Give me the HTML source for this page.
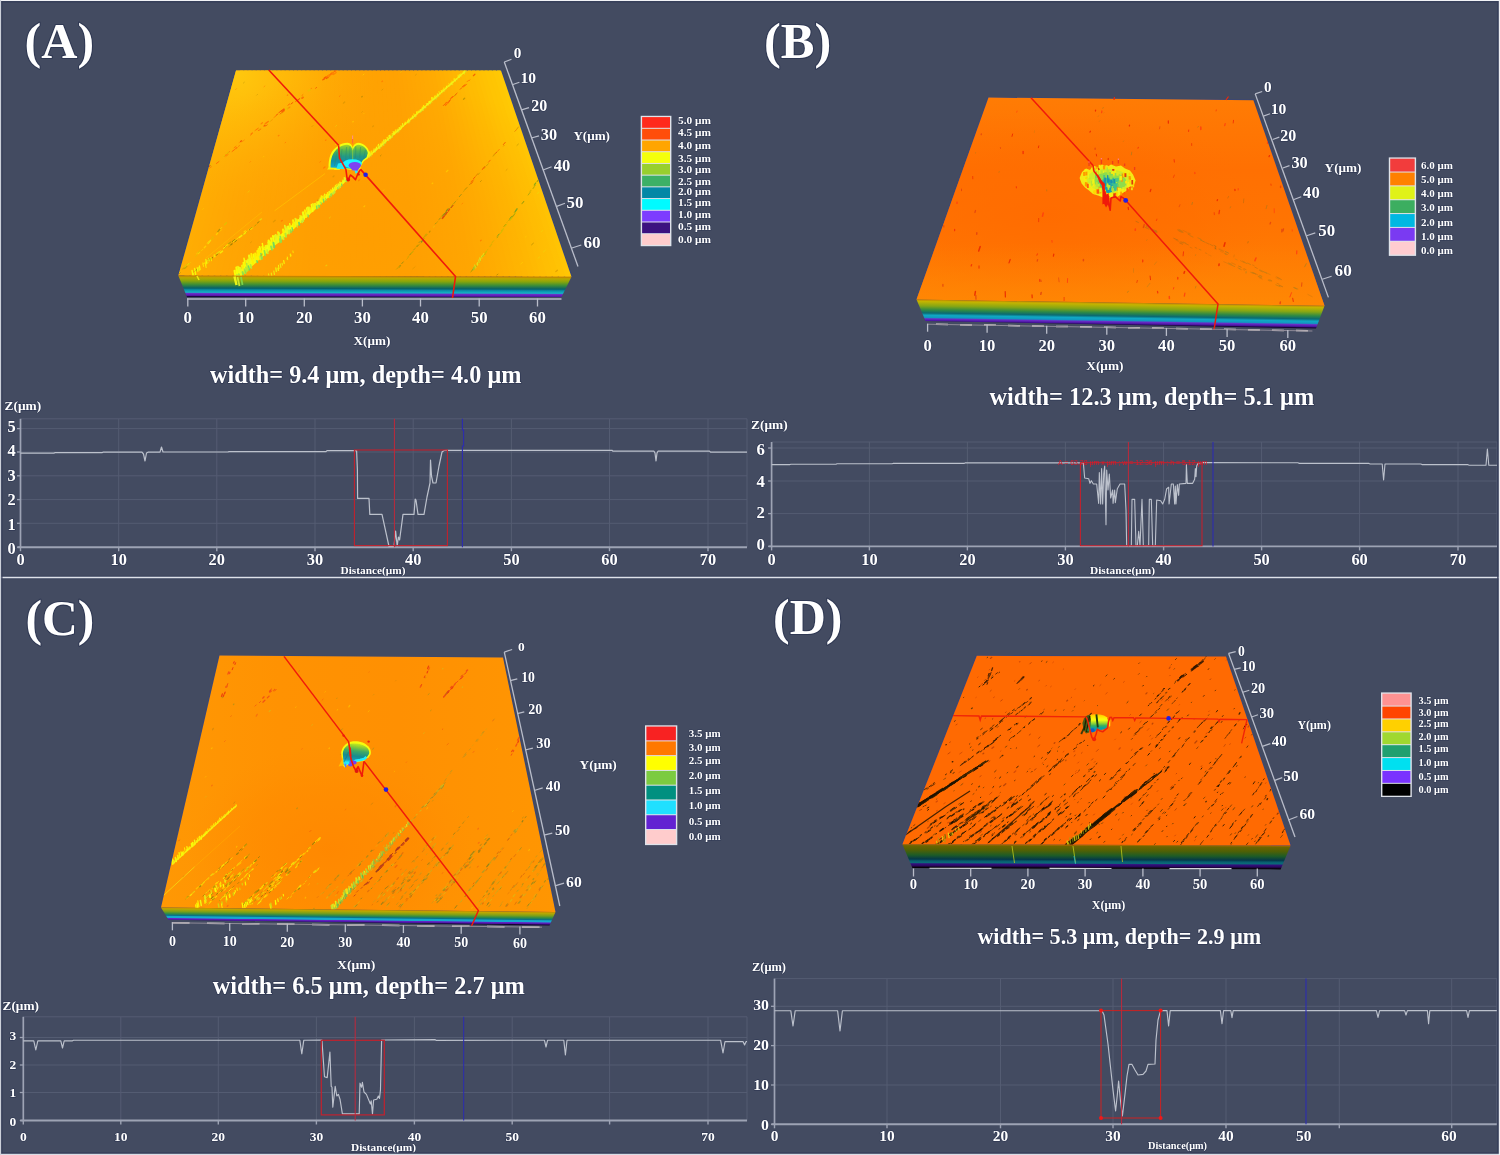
<!DOCTYPE html>
<html lang="en"><head><meta charset="utf-8"><title>Surface profile figure</title>
<style>
html,body{margin:0;padding:0;background:#434b61;}
body{width:1500px;height:1155px;overflow:hidden;}
svg{display:block;}
text{white-space:pre;}
</style></head><body>
<svg width="1500" height="1155" viewBox="0 0 1500 1155">
<defs>
<filter id="blur06" x="-20%" y="-20%" width="140%" height="140%"><feGaussianBlur stdDeviation="0.55"/></filter>
<filter id="blur03" x="-5%" y="-5%" width="110%" height="110%"><feGaussianBlur stdDeviation="0.35"/></filter>
<clipPath id="cA"><polygon points="236,70.5 501,70.5 571.5,276.8 178.3,275.6"/></clipPath>
<radialGradient id="gA2" cx="236" cy="72" r="140" gradientUnits="userSpaceOnUse"><stop offset="0" stop-color="#ffcc10"/><stop offset="0.45" stop-color="#ffc00aaa"/><stop offset="1" stop-color="#ffb00400"/></radialGradient>
<radialGradient id="gA3" cx="360" cy="235" r="190" gradientUnits="userSpaceOnUse" gradientTransform="translate(360 235) scale(1.25 0.85) translate(-360 -235)"><stop offset="0" stop-color="#ff9a00"/><stop offset="0.55" stop-color="#ff9d00aa"/><stop offset="1" stop-color="#ffa00000"/></radialGradient>
<linearGradient id="sA" x1="178.3" y1="275.6" x2="178.24" y2="296.4" gradientUnits="userSpaceOnUse"><stop offset="0" stop-color="#c57a00"/><stop offset="0.1" stop-color="#b9a800"/><stop offset="0.25" stop-color="#8aa50a"/><stop offset="0.42" stop-color="#3f8f35"/><stop offset="0.6" stop-color="#06606a"/><stop offset="0.68" stop-color="#0a8ea8"/><stop offset="0.8" stop-color="#12b4c4"/><stop offset="0.86" stop-color="#6a2cc6"/><stop offset="0.95" stop-color="#5a18b0"/><stop offset="1" stop-color="#1a0840"/></linearGradient>
<linearGradient id="gDomeA" x1="0" y1="143" x2="0" y2="170" gradientUnits="userSpaceOnUse"><stop offset="0" stop-color="#c4e61c"/><stop offset="0.12" stop-color="#8ccc34"/><stop offset="0.3" stop-color="#4cb058"/><stop offset="0.5" stop-color="#229a86"/><stop offset="0.68" stop-color="#1290aa"/><stop offset="0.85" stop-color="#10a4c8"/><stop offset="1" stop-color="#12b4d8"/></linearGradient>
<linearGradient id="gB" x1="0" y1="97" x2="0" y2="306" gradientUnits="userSpaceOnUse"><stop offset="0" stop-color="#ff7c04"/><stop offset="0.35" stop-color="#ff7002"/><stop offset="0.6" stop-color="#ff7402"/><stop offset="1" stop-color="#ff8204"/></linearGradient>
<clipPath id="cB"><polygon points="988.5,97.6 1253.4,100.2 1324.5,305.8 916.5,299.6"/></clipPath>
<radialGradient id="gB2" cx="1050" cy="215" r="150" gradientUnits="userSpaceOnUse" gradientTransform="translate(1050 215) scale(1.5 0.7) translate(-1050 -215)"><stop offset="0" stop-color="#ff6a00"/><stop offset="0.6" stop-color="#ff6c0088"/><stop offset="1" stop-color="#ff700000"/></radialGradient>
<linearGradient id="gB3" x1="0" y1="97" x2="0" y2="306" gradientUnits="userSpaceOnUse"><stop offset="0" stop-color="#ff860400"/><stop offset="0.7" stop-color="#ff860400"/><stop offset="1" stop-color="#ff8a04"/></linearGradient>
<linearGradient id="sB" x1="916.5" y1="299.6" x2="916.16" y2="321.69" gradientUnits="userSpaceOnUse"><stop offset="0" stop-color="#c58a00"/><stop offset="0.08" stop-color="#c4b400"/><stop offset="0.28" stop-color="#86a614"/><stop offset="0.46" stop-color="#2f8a44"/><stop offset="0.6" stop-color="#0a6a72"/><stop offset="0.7" stop-color="#10a8c4"/><stop offset="0.8" stop-color="#1098c0"/><stop offset="0.86" stop-color="#6a2cc6"/><stop offset="0.95" stop-color="#4a14a0"/><stop offset="1" stop-color="#160638"/></linearGradient>
<linearGradient id="gC" x1="160" y1="0" x2="556" y2="0" gradientUnits="userSpaceOnUse"><stop offset="0" stop-color="#ff9804"/><stop offset="0.3" stop-color="#ff9202"/><stop offset="0.6" stop-color="#ff9002"/><stop offset="1" stop-color="#ff9602"/></linearGradient>
<clipPath id="cC"><polygon points="219.5,655.5 503,657.6 555.5,912 161,907.5"/></clipPath>
<radialGradient id="gC2" cx="330" cy="850" r="130" gradientUnits="userSpaceOnUse" gradientTransform="translate(330 850) scale(1.1 0.8) translate(-330 -850)"><stop offset="0" stop-color="#ff8600"/><stop offset="0.6" stop-color="#ff880088"/><stop offset="1" stop-color="#ff8c0000"/></radialGradient>
<linearGradient id="sC" x1="161" y1="907.5" x2="160.85" y2="920.44" gradientUnits="userSpaceOnUse"><stop offset="0" stop-color="#c88a00"/><stop offset="0.1" stop-color="#bca800"/><stop offset="0.3" stop-color="#7ca018"/><stop offset="0.48" stop-color="#2c8a4a"/><stop offset="0.6" stop-color="#087088"/><stop offset="0.68" stop-color="#12a8cc"/><stop offset="0.78" stop-color="#14a8d0"/><stop offset="0.84" stop-color="#6424c4"/><stop offset="0.94" stop-color="#4a14a0"/><stop offset="1" stop-color="#12042c"/></linearGradient>
<linearGradient id="gDomeC" x1="352" y1="743" x2="349" y2="766" gradientUnits="userSpaceOnUse"><stop offset="0" stop-color="#c8ea1c"/><stop offset="0.14" stop-color="#8ccc34"/><stop offset="0.32" stop-color="#3ea868"/><stop offset="0.55" stop-color="#148c90"/><stop offset="0.72" stop-color="#1298b4"/><stop offset="0.84" stop-color="#1ee6fa"/><stop offset="1" stop-color="#22f0ff"/></linearGradient>
<clipPath id="cD"><polygon points="976.8,655.8 1226,656.6 1290.6,845.6 902.4,844.2"/></clipPath>
<linearGradient id="sD" x1="902.4" y1="844.2" x2="902.31" y2="868" gradientUnits="userSpaceOnUse"><stop offset="0" stop-color="#b86a00"/><stop offset="0.06" stop-color="#6c6400"/><stop offset="0.25" stop-color="#4f6006"/><stop offset="0.45" stop-color="#1e5c26"/><stop offset="0.62" stop-color="#04384a"/><stop offset="0.7" stop-color="#086070"/><stop offset="0.77" stop-color="#0a6a78"/><stop offset="0.82" stop-color="#34107e"/><stop offset="0.9" stop-color="#2a0860"/><stop offset="0.97" stop-color="#08020f"/><stop offset="1" stop-color="#000000"/></linearGradient>
<linearGradient id="gDomeD" x1="0" y1="714.5" x2="0" y2="731" gradientUnits="userSpaceOnUse"><stop offset="0" stop-color="#ffc400"/><stop offset="0.16" stop-color="#ffe800"/><stop offset="0.34" stop-color="#f4ff10"/><stop offset="0.52" stop-color="#9cd830"/><stop offset="0.68" stop-color="#38b060"/><stop offset="0.82" stop-color="#10a0a0"/><stop offset="1" stop-color="#0e90b8"/></linearGradient>
</defs>
<rect x="0" y="0" width="1500" height="1155" fill="#434b61"/>
<text x="24.6" y="58.3" font-size="50.4" text-anchor="start" fill="#fff" font-weight="bold" font-family="'Liberation Serif','DejaVu Serif',serif" textLength="69.6" lengthAdjust="spacingAndGlyphs" paint-order="stroke" stroke="#1c2646" stroke-opacity="0.5" stroke-width="2.2" stroke-linejoin="round" >(A)</text>
<polygon points="235.2,69.9 501.8,69.9 572.4,276.8 177.4,275.6" fill="#33457e" />
<g><polygon points="236,70.5 243.3,70.5 189.2,275.6 178.3,275.6" fill="#ffb104"/><polygon points="240.1,70.5 247.5,70.5 195.3,275.7 184.4,275.6" fill="#ffb004"/><polygon points="244.3,70.5 251.6,70.5 201.4,275.7 190.6,275.6" fill="#ffaf04"/><polygon points="248.4,70.5 255.7,70.5 207.6,275.7 196.7,275.7" fill="#ffae04"/><polygon points="252.6,70.5 259.9,70.5 213.7,275.7 202.9,275.7" fill="#ffad04"/><polygon points="256.7,70.5 264,70.5 219.9,275.7 209,275.7" fill="#ffac04"/><polygon points="260.8,70.5 268.2,70.5 226,275.7 215.2,275.7" fill="#ffab04"/><polygon points="265,70.5 272.3,70.5 232.2,275.8 221.3,275.7" fill="#ffaa04"/><polygon points="269.1,70.5 276.4,70.5 238.3,275.8 227.5,275.8" fill="#ffaa04"/><polygon points="273.3,70.5 280.6,70.5 244.5,275.8 233.6,275.8" fill="#ffa904"/><polygon points="277.4,70.5 284.7,70.5 250.6,275.8 239.7,275.8" fill="#ffa804"/><polygon points="281.5,70.5 288.9,70.5 256.7,275.8 245.9,275.8" fill="#ffa803"/><polygon points="285.7,70.5 293,70.5 262.9,275.9 252,275.8" fill="#ffa703"/><polygon points="289.8,70.5 297.1,70.5 269,275.9 258.2,275.8" fill="#ffa703"/><polygon points="294,70.5 301.3,70.5 275.2,275.9 264.3,275.9" fill="#ffa603"/><polygon points="298.1,70.5 305.4,70.5 281.3,275.9 270.5,275.9" fill="#ffa603"/><polygon points="302.2,70.5 309.6,70.5 287.5,275.9 276.6,275.9" fill="#ffa503"/><polygon points="306.4,70.5 313.7,70.5 293.6,276 282.7,275.9" fill="#ffa503"/><polygon points="310.5,70.5 317.9,70.5 299.7,276 288.9,275.9" fill="#ffa403"/><polygon points="314.7,70.5 322,70.5 305.9,276 295,276" fill="#ffa402"/><polygon points="318.8,70.5 326.1,70.5 312,276 301.2,276" fill="#ffa302"/><polygon points="323,70.5 330.3,70.5 318.2,276 307.3,276" fill="#ffa202"/><polygon points="327.1,70.5 334.4,70.5 324.3,276 313.5,276" fill="#ffa202"/><polygon points="331.2,70.5 338.6,70.5 330.5,276.1 319.6,276" fill="#ffa202"/><polygon points="335.4,70.5 342.7,70.5 336.6,276.1 325.8,276.1" fill="#ffa202"/><polygon points="339.5,70.5 346.8,70.5 342.8,276.1 331.9,276.1" fill="#ffa202"/><polygon points="343.7,70.5 351,70.5 348.9,276.1 338,276.1" fill="#ffa202"/><polygon points="347.8,70.5 355.1,70.5 355,276.1 344.2,276.1" fill="#ffa202"/><polygon points="351.9,70.5 359.3,70.5 361.2,276.2 350.3,276.1" fill="#ffa202"/><polygon points="356.1,70.5 363.4,70.5 367.3,276.2 356.5,276.1" fill="#ffa202"/><polygon points="360.2,70.5 367.5,70.5 373.5,276.2 362.6,276.2" fill="#ffa202"/><polygon points="364.4,70.5 371.7,70.5 379.6,276.2 368.8,276.2" fill="#ffa202"/><polygon points="368.5,70.5 375.8,70.5 385.8,276.2 374.9,276.2" fill="#ffa202"/><polygon points="372.6,70.5 380,70.5 391.9,276.3 381,276.2" fill="#ffa202"/><polygon points="376.8,70.5 384.1,70.5 398,276.3 387.2,276.2" fill="#ffa202"/><polygon points="380.9,70.5 388.2,70.5 404.2,276.3 393.3,276.3" fill="#ffa202"/><polygon points="385.1,70.5 392.4,70.5 410.3,276.3 399.5,276.3" fill="#ffa202"/><polygon points="389.2,70.5 396.5,70.5 416.5,276.3 405.6,276.3" fill="#ffa202"/><polygon points="393.3,70.5 400.7,70.5 422.6,276.3 411.8,276.3" fill="#ffa202"/><polygon points="397.5,70.5 404.8,70.5 428.8,276.4 417.9,276.3" fill="#ffa302"/><polygon points="401.6,70.5 408.9,70.5 434.9,276.4 424.1,276.4" fill="#ffa402"/><polygon points="405.8,70.5 413.1,70.5 441.1,276.4 430.2,276.4" fill="#ffa502"/><polygon points="409.9,70.5 417.2,70.5 447.2,276.4 436.3,276.4" fill="#ffa602"/><polygon points="414,70.5 421.4,70.5 453.3,276.4 442.5,276.4" fill="#ffa702"/><polygon points="418.2,70.5 425.5,70.5 459.5,276.5 448.6,276.4" fill="#ffa802"/><polygon points="422.3,70.5 429.6,70.5 465.6,276.5 454.8,276.4" fill="#ffa902"/><polygon points="426.5,70.5 433.8,70.5 471.8,276.5 460.9,276.5" fill="#ffaa02"/><polygon points="430.6,70.5 437.9,70.5 477.9,276.5 467.1,276.5" fill="#ffab02"/><polygon points="434.8,70.5 442.1,70.5 484.1,276.5 473.2,276.5" fill="#ffad02"/><polygon points="438.9,70.5 446.2,70.5 490.2,276.6 479.3,276.5" fill="#ffaf02"/><polygon points="443,70.5 450.4,70.5 496.3,276.6 485.5,276.5" fill="#ffb102"/><polygon points="447.2,70.5 454.5,70.5 502.5,276.6 491.6,276.6" fill="#ffb302"/><polygon points="451.3,70.5 458.6,70.5 508.6,276.6 497.8,276.6" fill="#ffb502"/><polygon points="455.5,70.5 462.8,70.5 514.8,276.6 503.9,276.6" fill="#ffb702"/><polygon points="459.6,70.5 466.9,70.5 520.9,276.6 510.1,276.6" fill="#ffb902"/><polygon points="463.7,70.5 471.1,70.5 527.1,276.7 516.2,276.6" fill="#ffbb02"/><polygon points="467.9,70.5 475.2,70.5 533.2,276.7 522.4,276.7" fill="#ffbc02"/><polygon points="472,70.5 479.3,70.5 539.4,276.7 528.5,276.7" fill="#ffbe02"/><polygon points="476.2,70.5 483.5,70.5 545.5,276.7 534.6,276.7" fill="#ffc003"/><polygon points="480.3,70.5 487.6,70.5 551.6,276.7 540.8,276.7" fill="#ffc203"/><polygon points="484.4,70.5 491.8,70.5 557.8,276.8 546.9,276.7" fill="#ffc403"/><polygon points="488.6,70.5 495.9,70.5 563.9,276.8 553.1,276.7" fill="#ffc503"/><polygon points="492.7,70.5 500,70.5 570.1,276.8 559.2,276.8" fill="#ffc704"/><polygon points="496.9,70.5 501,70.5 571.5,276.8 565.4,276.8" fill="#ffc904"/></g>
<rect x="170" y="60" width="410" height="225" fill="url(#gA2)" clip-path="url(#cA)" opacity="0.85"/>
<rect x="170" y="60" width="410" height="225" fill="url(#gA3)" clip-path="url(#cA)" opacity="0.55"/>
<polygon points="231.5,278 239,278 347,180.4 345.4,178.8" fill="#f3f816" opacity="0.92" clip-path="url(#cA)"/>
<g fill="none" stroke-linecap="round" opacity="0.96" clip-path="url(#cA)"><path d="M236 279.3l-1.5 -8.5M245 270.8l-1.5 -8.1M255 262.3l-1.4 -7.7M261.4 256.8l-1.7 -9.7M266 252.7l-0.9 -5.2M274.5 244.5l-1.5 -8.4" stroke="#f8ff08" stroke-width="2"/><path d="M237.5 277.6l-1.3 -7.3" stroke="#f6ff10" stroke-width="1.75"/><path d="M238.2 277.2l-1.8 -9.7M270.2 249l-1.5 -8.3" stroke="#f8ff08" stroke-width="2.25"/><path d="M239.7 275.8l-1.7 -9.2M269.3 249.2l-1.2 -6.8M278.4 241.8l-1 -5.8M281.8 238.8l-0.7 -4" stroke="#f2fa14" stroke-width="1.75"/><path d="M240.7 274.9l-1.3 -7" stroke="#f6ff10" stroke-width="2.5"/><path d="M241.4 273.9l-1 -5.5M277 242.5l-1.3 -7.4" stroke="#eaf61e" stroke-width="2.25"/><path d="M243.5 272.2l-1.2 -6.4" stroke="#eaf61e" stroke-width="2.5"/><path d="M243.8 272.5l-1.2 -6.8M279.5 241.2l-1.6 -9.2" stroke="#fff200" stroke-width="1.75"/><path d="M246.1 269.9l-2.1 -11.6M251.9 264.6l-0.9 -5.1M264.1 253.5l-1.8 -10.1M283.2 237.7l-0.8 -4.3M290.9 230.3l-1.2 -6.6M293.5 228.6l-0.8 -4.5" stroke="#f8ff08" stroke-width="1.5"/><path d="M247.6 269.2l-1.6 -8.7M295.5 226.5l-0.8 -4.3" stroke="#f2fa14" stroke-width="1.5"/><path d="M248.7 267.3l-1.1 -6.2" stroke="#f6ff10" stroke-width="2.25"/><path d="M249.6 267.4l-1.4 -8M280.1 239.7l-1.2 -6.8M287.5 232.9l-0.8 -4.5M288.4 232.5l-1 -5.8" stroke="#eaf61e" stroke-width="2"/><path d="M250.9 265.4l-1.7 -9.6" stroke="#f2fa14" stroke-width="2.5"/><path d="M253.1 263.9l-1.8 -10M294.4 227.5l-1.3 -7.3M297.6 224.4l-0.9 -5" stroke="#fff200" stroke-width="2"/><path d="M255.6 261.8l-0.9 -4.8M284.7 235.8l-0.9 -5.1M286.4 234.2l-1.6 -8.6" stroke="#eaf61e" stroke-width="1.75"/><path d="M256.5 260.6l-1.2 -6.9M258.8 258.6l-1.4 -7.5M260.2 258.1l-1.6 -9M284.3 236.1l-1.2 -6.4" stroke="#fff200" stroke-width="2.25"/><path d="M257.9 259.4l-0.9 -4.8M261.8 255.5l-0.9 -5" stroke="#fff200" stroke-width="1.5"/><path d="M263.5 254.8l-1.4 -7.9M271.3 248l-1 -5.8M292.3 229.7l-0.7 -3.6" stroke="#f8ff08" stroke-width="1.75"/><path d="M266.6 251.7l-1 -5.8" stroke="#f2fa14" stroke-width="2"/><path d="M268 250.7l-0.9 -5.1M272.5 246.7l-1.5 -8.5M289.3 231.5l-0.9 -4.9" stroke="#f6ff10" stroke-width="2"/><path d="M274.2 245.1l-1.2 -6.7" stroke="#f6ff10" stroke-width="1.5"/><path d="M276.1 243.6l-1.4 -7.8M296.5 225.7l-1.3 -7.1" stroke="#eaf61e" stroke-width="1.5"/><path d="M299 223.3l-0.7 -3.7" stroke="#f6ff10" stroke-width="1.25"/><path d="M300.3 222.5l-0.7 -4.2" stroke="#f2fa14" stroke-width="1.25"/><path d="M237.8 279.9l-0.9 -5.1M260.6 259.2l-0.8 -2.8M289.3 233.5l-0.5 -2.9" stroke="#c8ee30" stroke-width="2"/><path d="M240 277.8l-1.1 -3.5M286.1 236.7l-0.7 -3" stroke="#b4e838" stroke-width="2"/><path d="M243.2 274.5l-0.6 -2.4M262 258.7l-1 -5M272 249.6l-0.9 -3.1" stroke="#8fe04a" stroke-width="2"/><path d="M245.3 272.8l-0.7 -3.6" stroke="#c8ee30" stroke-width="2.25"/><path d="M245.6 273.1l-0.7 -3.2M280.2 242.4l-0.6 -3.5" stroke="#8fe04a" stroke-width="1.5"/><path d="M246.8 271.4l-0.9 -4.1M251.4 268l-0.9 -3.2" stroke="#b4e838" stroke-width="1.75"/><path d="M247.9 270.5l-1.2 -7.1" stroke="#b4e838" stroke-width="1.5"/><path d="M249.4 269.8l-0.9 -3.7M257.4 262.4l-0.5 -1.7" stroke="#6fd660" stroke-width="1.5"/><path d="M265.3 255.4l-0.9 -4.5M281.3 241.8l-1 -5.2M291.1 232.1l-0.5 -1.9" stroke="#8fe04a" stroke-width="1.75"/><path d="M267.8 253.3l-0.6 -3.2M283.6 239.4l-0.4 -2.6" stroke="#c8ee30" stroke-width="1.75"/><path d="M273.1 248.6l-0.6 -2.3" stroke="#c8ee30" stroke-width="1.5"/><path d="M274.3 247.3l-0.9 -4.6" stroke="#6fd660" stroke-width="2"/><path d="M292.7 230.9l-0.7 -3.3" stroke="#6fd660" stroke-width="1.25"/><path d="M297.3 227.1l-0.5 -1.6" stroke="#c8ee30" stroke-width="1.25"/><path d="M299.4 225l-0.5 -2.5" stroke="#6fd660" stroke-width="1.75"/></g>
<g fill="none" stroke-linecap="round" opacity="0.96" clip-path="url(#cA)"><path d="M300.7 221.8l-0.6 -3.6" stroke="#eaf61e" stroke-width="2"/><path d="M301.1 221.4l-1.1 -5.9M341 184.6l-0.3 -1.8M343.4 182.4l-0.4 -2.4" stroke="#f6ff10" stroke-width="1.25"/><path d="M302 220.9l-0.9 -5M307.8 214.9l-1.2 -6.9M314 210l-1.1 -6.3M321.2 203.1l-0.9 -5M329.7 195.6l-0.7 -3.7" stroke="#f2fa14" stroke-width="1.5"/><path d="M303.9 219.3l-1.2 -6.8M316.2 207.7l-0.7 -4" stroke="#eaf61e" stroke-width="1.75"/><path d="M304.3 218.5l-1.1 -6.4M326.8 197.8l-0.6 -3.2M333.4 192.2l-0.7 -3.9M340.5 185.5l-0.6 -3.3" stroke="#f6ff10" stroke-width="1.5"/><path d="M306.1 217.1l-1.2 -6.8" stroke="#fff200" stroke-width="2"/><path d="M306.9 216.3l-0.6 -3.3M310.1 213l-1 -5.8M314.7 209.1l-0.8 -4.5M330.1 194.9l-0.6 -3.3M338.8 187l-0.5 -2.9M344.9 181.1l-0.6 -3.3" stroke="#eaf61e" stroke-width="1.5"/><path d="M309.1 214.2l-1.2 -6.9M312.7 211.3l-1.2 -6.6M319.1 205.2l-0.6 -3.4" stroke="#f6ff10" stroke-width="1.75"/><path d="M311.5 211.7l-0.7 -3.8M315.4 208.4l-0.8 -4.7M328.3 197.2l-0.8 -4.4M331.6 194l-0.7 -4M336.2 189.2l-0.7 -3.7" stroke="#fff200" stroke-width="1.5"/><path d="M317.9 206.4l-0.8 -4.3" stroke="#f2fa14" stroke-width="1.75"/><path d="M319.9 203.7l-0.8 -4.3M335 190.9l-0.7 -3.8M345.6 180.5l-0.5 -2.6" stroke="#eaf61e" stroke-width="1.25"/><path d="M322.4 201.5l-1 -5.3" stroke="#fff200" stroke-width="1.75"/><path d="M323.7 201l-0.9 -4.7M325.4 199.3l-0.9 -5.1" stroke="#f2fa14" stroke-width="1.25"/><path d="M324.6 200l-0.8 -4.3" stroke="#fff200" stroke-width="1"/><path d="M332.5 193l-0.5 -2.8" stroke="#fff200" stroke-width="1.25"/><path d="M336.5 188.6l-0.5 -2.5" stroke="#eaf61e" stroke-width="1"/><path d="M337.5 188.2l-0.7 -3.9M343 183.4l-0.4 -2.5" stroke="#f2fa14" stroke-width="1"/><path d="M302.2 222.3l-0.4 -1.3M317.7 208.2l-0.4 -2.6" stroke="#c4ec34" stroke-width="1.75"/><path d="M303.5 221.4l-0.5 -2.9M333.1 194.5l-0.4 -1.6M334 193.5l-0.3 -1.7M334.9 192.7l-0.4 -1.8M340.3 187.5l-0.3 -1.7" stroke="#c4ec34" stroke-width="1.25"/><path d="M308.4 216.8l-0.4 -2M316.9 208.9l-0.5 -2.7M342 186l-0.4 -2" stroke="#7fda58" stroke-width="1.25"/><path d="M319.4 206.9l-0.5 -1.6" stroke="#7fda58" stroke-width="1.75"/><path d="M321.4 204.2l-0.5 -2M338 189.1l-0.3 -1.3" stroke="#7fda58" stroke-width="1"/><path d="M323.9 202l-0.6 -2.8" stroke="#7fda58" stroke-width="1.5"/><path d="M326.1 200.5l-0.5 -2.3" stroke="#9fe244" stroke-width="1"/><path d="M329.8 197.7l-0.5 -1.7M331.6 195.4l-0.4 -1.9M346.4 181.6l-0.4 -1.6" stroke="#9fe244" stroke-width="1.25"/><path d="M331.2 196.1l-0.4 -1.7" stroke="#9fe244" stroke-width="1.5"/><path d="M339 188.7l-0.4 -2.3" stroke="#c4ec34" stroke-width="1"/></g>
<g fill="none" stroke-linecap="round" opacity="0.96" clip-path="url(#cA)"><path d="M368.2 156.8l-0.3 -1.8M370.4 155.3l-0.6 -3.3" stroke="#eef41c" stroke-width="1.5"/><path d="M370 155.6l-0.6 -3.3M374.5 151.6l-0.5 -2.6M375.8 150.5l-0.3 -1.6M376.8 149.6l-0.4 -2.4M379.1 147.6l-0.6 -3.2M390 137.6l-0.4 -2.2M397.4 131.7l-0.3 -1.9M420.5 111l-0.2 -1.3M422 110l-0.2 -1.1M429.6 102.7l-0.2 -1.3M458.5 77.2l-0.3 -1.4" stroke="#f4fa14" stroke-width="1.25"/><path d="M372.1 154.4l-0.6 -3.1M382.8 144.8l-0.5 -2.7M387.7 140.1l-0.5 -2.7" stroke="#ffe800" stroke-width="1.5"/><path d="M373.6 152.3l-0.3 -1.7M384.1 143.2l-0.5 -3M385.9 141.7l-0.4 -2.1M398.3 130.6l-0.3 -1.5M403 126.3l-0.5 -2.7M415.2 115.7l-0.2 -1.3M419.1 112.2l-0.2 -1.2" stroke="#eef41c" stroke-width="1.25"/><path d="M378.4 148.2l-0.5 -2.9M380.8 146.4l-0.5 -2.8M384.8 142.4l-0.5 -2.6M404.6 124.7l-0.2 -1.4M410.5 119.6l-0.3 -1.6M414.3 116.5l-0.5 -2.6M437.5 95.9l-0.3 -1.8M444 89.8l-0.3 -1.8M448.2 86.3l-0.2 -1M463.3 73.6l-0.2 -1.1M463.7 72.1l-0.2 -1.3" stroke="#ffe800" stroke-width="1"/><path d="M381.6 145.4l-0.2 -1.4M394.8 133.7l-0.3 -1.7" stroke="#fff000" stroke-width="1.5"/><path d="M389.3 138.5l-0.5 -2.7M392.6 135.4l-0.4 -2M393.7 134.4l-0.5 -2.9M446.7 87.7l-0.3 -1.6M454.4 80.8l-0.3 -1.9" stroke="#f4fa14" stroke-width="1"/><path d="M391.3 136.7l-0.3 -1.5M405.6 124.2l-0.4 -2M407.7 122.7l-0.3 -1.7M408.8 121l-0.3 -1.9M412.8 118l-0.4 -2M416.9 114.2l-0.4 -2.4M422.6 108.7l-0.3 -1.5M423.9 107.7l-0.4 -2.2M432 100l-0.4 -2.3M433.2 99.1l-0.3 -1.4M435.1 98.4l-0.4 -2.2" stroke="#fff000" stroke-width="1.25"/><path d="M395.9 132.6l-0.5 -2.6M401.3 128.4l-0.5 -2.6M401.6 127.7l-0.3 -1.7M408.3 121.7l-0.2 -1.4M418 112.7l-0.2 -1.3M454.6 80.3l-0.2 -1.4" stroke="#ffe800" stroke-width="1.25"/><path d="M399.6 129.2l-0.3 -1.5" stroke="#f4fa14" stroke-width="1.5"/><path d="M412 118.9l-0.2 -1.2M427.7 104.8l-0.2 -1.4M437.9 95.7l-0.3 -1.8M441.6 92.5l-0.4 -2M443.1 90.9l-0.2 -1.1M451.1 84.4l-0.3 -1.4M451.7 83.9l-0.2 -1.2M460 76l-0.3 -1.4" stroke="#eef41c" stroke-width="1"/><path d="M424.8 107.3l-0.2 -1.1M429 103.5l-0.3 -1.7M430.9 101.9l-0.2 -1.1M436.2 97l-0.3 -1.4M439.4 93.8l-0.4 -2.2M452.2 82.4l-0.2 -1.3M461 74.8l-0.2 -1M464.9 71.4l-0.3 -1.6" stroke="#fff000" stroke-width="1"/><path d="M426.7 105.6l-0.4 -2.2" stroke="#f4fa14" stroke-width="0.75"/><path d="M441.7 91.7l-0.2 -1.2M449.3 85.3l-0.4 -2M456.3 79.5l-0.2 -1" stroke="#fff000" stroke-width="0.75"/><path d="M445.4 88.5l-0.2 -1M458.5 76.6l-0.3 -1.7" stroke="#ffe800" stroke-width="0.75"/><path d="M369.2 157.2l-0.2 -1.1M391 138l-0.2 -0.9M400.6 129.6l-0.2 -0.7M423 110.4l-0.1 -0.6" stroke="#e0f024" stroke-width="1.25"/><path d="M371 156l-0.4 -1.4M380.1 148l-0.3 -1.8M383.8 145.2l-0.3 -1M388.7 140.5l-0.3 -1.7M392.3 137.1l-0.2 -0.5M423.6 109.1l-0.2 -0.9M430.6 103.1l-0.1 -0.8M434.2 99.5l-0.2 -0.7M436.1 98.8l-0.2 -1" stroke="#c8e832" stroke-width="1.25"/><path d="M375.5 152l-0.3 -1.5M385.1 143.6l-0.3 -1.4M385.8 142.8l-0.3 -1.3M396.9 133l-0.3 -1.7M398.4 132.1l-0.2 -0.9M399.3 131l-0.2 -1M408.7 123.1l-0.2 -1M409.8 121.4l-0.2 -1M413.8 118.4l-0.2 -1.2M420.1 112.6l-0.1 -0.5M421.5 111.4l-0.1 -0.8M433 100.4l-0.3 -0.9M438.9 96.1l-0.2 -0.9M465.9 71.8l-0.2 -0.7" stroke="#c8e832" stroke-width="1"/><path d="M379.4 148.6l-0.3 -1.2M381.8 146.8l-0.3 -1.3M390.3 138.9l-0.3 -1.1M394.7 134.8l-0.3 -1.3M409.3 122.1l-0.1 -0.6M415.3 116.9l-0.3 -1M416.2 116.1l-0.1 -0.5M424.9 108.1l-0.2 -1.1M425.8 107.7l-0.1 -0.6M430 103.9l-0.2 -1M444.1 91.3l-0.1 -0.5M455.4 81.2l-0.2 -0.9M455.6 80.7l-0.1 -0.5M459.5 77.6l-0.2 -0.7M464.3 74l-0.1 -0.6M464.7 72.5l-0.1 -0.7" stroke="#e0f024" stroke-width="1"/><path d="M428.7 105.2l-0.1 -0.8M431.9 102.3l-0.1 -0.5M437.2 97.4l-0.2 -0.7M446.4 88.9l-0.1 -0.6M449.2 86.7l-0.1 -0.5M452.1 84.8l-0.2 -0.5M452.7 84.3l-0.1 -0.5M453.2 82.8l-0.1 -0.6M461 76.4l-0.2 -0.8" stroke="#e0f024" stroke-width="0.75"/><path d="M438.5 96.3l-0.2 -0.8M440.4 94.2l-0.2 -1.3M442.7 92.1l-0.1 -0.5M445 90.2l-0.2 -0.8M450.3 85.7l-0.2 -1.1M457.3 79.9l-0.1 -0.4M459.5 77l-0.2 -1.1" stroke="#c8e832" stroke-width="0.75"/></g>
<polyline points="368.5,156.5 465,71.5" fill="none" stroke="#f4f416" stroke-width="1.5" opacity="0.85" clip-path="url(#cA)"/>
<g fill="none" stroke-linecap="round" opacity="0.7" clip-path="url(#cA)"><path d="M208 243.8l2.1 -2.2M198.2 253.7l1.4 -1.5M185.1 267.8l1.2 -1.3M187.5 265l1.7 -1.8M188.3 264.7l1.7 -1.8M196.6 253.7l1 -1" stroke="#f0f010" stroke-width="0.75"/><path d="M207.2 243.1l1.8 -2" stroke="#ffe000" stroke-width="1"/><path d="M211.2 240.2l2.3 -2.4M211.8 237.6l0.9 -1M197.8 252.8l2.2 -2.4M185.5 265.7l1.7 -1.9" stroke="#d8c800" stroke-width="1"/><path d="M204.2 247.8l1.5 -1.6M216.3 234.6l1.4 -1.6" stroke="#ffe000" stroke-width="1.25"/><path d="M218.7 230.3l0.9 -1M217.8 231.6l1.4 -1.5" stroke="#9a8a00" stroke-width="1.25"/><path d="M224.6 224.7l1.9 -2M184.7 266.9l1 -1.1M188.9 264.6l0.8 -0.9M184.1 267.9l2 -2.1" stroke="#d8c800" stroke-width="1.25"/><path d="M220.7 228.6l0.9 -1" stroke="#f0f010" stroke-width="1"/><path d="M184.5 268.9l2.4 -2.5" stroke="#9a8a00" stroke-width="1"/><path d="M198.2 254.2l1.4 -1.5M220.1 231.3l1.5 -1.6M178.9 273.1l1 -1.1M201.5 250.8l1.5 -1.6" stroke="#ffe000" stroke-width="0.75"/><path d="M208.1 243.7l1.2 -1.3M209.5 241.5l1.2 -1.3" stroke="#f0f010" stroke-width="1.25"/><path d="M179.4 273.7l0.9 -1M182.5 269.2l1.4 -1.5" stroke="#9a8a00" stroke-width="0.75"/><path d="M195.6 256.5l1.4 -1.5" stroke="#d8c800" stroke-width="0.75"/></g>
<g fill="none" stroke-linecap="round" opacity="0.8" clip-path="url(#cA)"><path d="M259.9 220.1l1.7 -1.3M196.5 269.9l2.6 -2M205.7 264.5l2.4 -1.9M206.1 261.8l2.3 -1.8M216.5 253.8l2.8 -2.1" stroke="#e8e010" stroke-width="1.25"/><path d="M228.3 244l2.3 -1.8M196.3 270.8l1.6 -1.2M208.4 259.8l1.7 -1.4" stroke="#b0a000" stroke-width="1.25"/><path d="M236.5 239.2l2 -1.5M248.1 230.2l2.8 -2.1" stroke="#f8f808" stroke-width="0.75"/><path d="M244.8 233.5l1.7 -1.4M235.2 241.7l1.2 -1M254.8 225.8l1.3 -1M198.1 269.5l1.4 -1.1M241.8 235.7l1.4 -1.1" stroke="#b0a000" stroke-width="1"/><path d="M218.8 252.1l2 -1.6" stroke="#ffe000" stroke-width="0.75"/><path d="M257.3 223.1l1.8 -1.4M194.5 271.3l1.9 -1.5M210.6 258.9l2.1 -1.6M215.7 255.7l2.1 -1.7M234.8 241.8l1.7 -1.3" stroke="#8a7a00" stroke-width="1"/><path d="M210.7 259.7l1.3 -1" stroke="#b0a000" stroke-width="1.5"/><path d="M221.5 252.1l1.2 -0.9M228.8 246.7l1.6 -1.2" stroke="#b0a000" stroke-width="0.75"/><path d="M230.9 244.8l1.3 -1M249.9 229.5l2.5 -1.9M224.9 247l1.2 -0.9M232.4 241.7l2.5 -2" stroke="#8a7a00" stroke-width="1.25"/><path d="M197.6 269.4l1 -0.8" stroke="#ffe000" stroke-width="1.5"/><path d="M197.1 271.2l2.4 -1.9M217.4 253.4l1.7 -1.3" stroke="#e8e010" stroke-width="0.75"/><path d="M194.1 271.6l2.5 -2" stroke="#8a7a00" stroke-width="0.75"/><path d="M204.4 263.7l2.5 -1.9M202.7 264l1.3 -1M233.1 241.8l2.5 -1.9" stroke="#ffe000" stroke-width="1"/><path d="M225.9 246.1l2.1 -1.7M250.6 229.4l2 -1.6M244.2 231.8l1.3 -1" stroke="#ffe000" stroke-width="1.25"/><path d="M244.9 233l1.8 -1.4M223.4 248.4l2.4 -1.9" stroke="#f8f808" stroke-width="1"/><path d="M243.7 234.2l1.6 -1.2" stroke="#f8f808" stroke-width="1.25"/><path d="M239.3 237.4l2.7 -2.1M220.4 252.8l2.1 -1.7" stroke="#f8f808" stroke-width="1.5"/><path d="M196.8 269.9l1.7 -1.3" stroke="#e8e010" stroke-width="1"/></g>
<g fill="none" stroke-linecap="round" opacity="0.96" clip-path="url(#cA)"><path d="M194 278l-0.8 -4.5" stroke="#f0e810" stroke-width="1.5"/><path d="M193.2 276.6l-1.1 -6M195.7 274.5l-1.1 -5.9" stroke="#f8f808" stroke-width="1.5"/><path d="M197.9 271.5l-0.8 -4.2M206.1 267.5l-0.5 -2.9" stroke="#f8f808" stroke-width="1"/><path d="M199.2 270.4l-0.5 -3M209.2 260.9l-0.5 -2.6" stroke="#f0e810" stroke-width="1.25"/><path d="M200.1 269.6l-0.7 -3.8M206.5 263.1l-0.7 -3.8" stroke="#f8f808" stroke-width="1.25"/><path d="M203.5 266.4l-0.6 -3.5M205.7 265.1l-0.5 -2.6M215.2 256.8l-0.4 -2.2" stroke="#ffe800" stroke-width="1"/><path d="M211.4 260.7l-0.5 -3" stroke="#ffe800" stroke-width="1.25"/><path d="M214.3 257l-0.3 -1.9" stroke="#f0e810" stroke-width="1"/></g>
<g fill="none" stroke-linecap="round" opacity="0.96" clip-path="url(#cA)"><path d="M269.2 277.6l-0.7 -3.8" stroke="#f0e810" stroke-width="1"/><path d="M271.7 275.5l-0.4 -2.4M274.4 274.4l-0.6 -3.4M280.9 267.5l-0.7 -3.7M282.4 265l-0.3 -1.7" stroke="#f0e810" stroke-width="1.25"/><path d="M276.4 271.4l-0.6 -3.4" stroke="#f0e810" stroke-width="1.5"/><path d="M278.4 270.4l-0.4 -2.3M284.2 263.5l-0.5 -2.9M290.7 256.1l-0.4 -2" stroke="#f8f808" stroke-width="1.25"/><path d="M279 268.7l-0.6 -3.5M287.7 259.5l-0.4 -2.4" stroke="#f8f808" stroke-width="1"/><path d="M287.2 259.8l-0.3 -1.4" stroke="#f0e810" stroke-width="0.75"/><path d="M290.9 255.7l-0.2 -1.2" stroke="#ffe800" stroke-width="1"/><path d="M293.2 252.7l-0.3 -1.8" stroke="#f8f808" stroke-width="0.75"/></g>
<polyline points="274.6,210.8 325,173.6" fill="none" stroke="#ffd000" stroke-width="0.9" opacity="0.55"/>
<polyline points="206,258 262,212" fill="none" stroke="#ffd400" stroke-width="0.8" opacity="0.4"/>
<g fill="none" stroke-linecap="round" opacity="0.75" clip-path="url(#cA)"><path d="M329.9 74.8l2.5 -1.9M258.5 130.4l2.2 -1.6M326.2 78.3l1.6 -1.3" stroke="#ff5a00" stroke-width="1.25"/><path d="M234.1 147.8l1.9 -1.5M329.1 76.6l1.1 -0.8M326.2 76.7l2.3 -1.7M282.7 111.4l1.5 -1.1M331.7 74.5l1.1 -0.8" stroke="#ff5a00" stroke-width="0.75"/><path d="M241.9 141.9l2.6 -2M239.1 142.6l2.5 -1.9" stroke="#ff7800" stroke-width="0.75"/><path d="M297.8 99.8l1.8 -1.3M209.5 168.2l2.1 -1.6M273.9 117.5l2 -1.5M270.6 121l1.6 -1.2M224.6 156.1l2.6 -2M332.4 73.4l2.1 -1.6M225.6 154.9l2.1 -1.6M287.9 108.9l2.2 -1.6" stroke="#ff7800" stroke-width="1"/><path d="M269 121.9l2.5 -1.9M295.5 100.9l1.4 -1M281.5 114.1l2.2 -1.7M209 165.4l2.5 -1.9M210 165.7l1.1 -0.8M222.9 156.8l1.9 -1.5M258.5 129.7l2.5 -1.9" stroke="#e8c000" stroke-width="1"/><path d="M281.9 111.8l2.8 -2.1M265.7 126l1.6 -1.2M315.5 88.3l1.2 -0.9M297.8 100.2l2.1 -1.6M301.3 97.8l1.2 -0.9M280.1 113.9l1.4 -1.1M334 71.5l1.3 -1" stroke="#f04000" stroke-width="0.75"/><path d="M235.8 148.5l1.1 -0.8" stroke="#ff6a00" stroke-width="1.5"/><path d="M324.3 79.4l1.8 -1.4M287.4 108.4l1.9 -1.4M226 156.2l2.2 -1.7M238.3 146.5l1.3 -1M264.4 124.1l2.6 -2M254.9 130.6l2.6 -2M310.6 89.1l1.1 -0.9" stroke="#ff6a00" stroke-width="0.75"/><path d="M297.3 100.5l2 -1.5M276.1 115.3l1.5 -1.1M278.8 112.7l2.8 -2.1M282.8 111.3l1.6 -1.2M291 104l1.9 -1.5M227.9 152.8l1.4 -1" stroke="#f04000" stroke-width="1"/><path d="M307.9 90.9l1.3 -1M226.2 153.7l2.5 -1.9M285.5 109.3l2.3 -1.7M209.6 166.8l2 -1.5M309 90.8l1.5 -1.1" stroke="#e8c000" stroke-width="1.25"/><path d="M251.1 133.9l1.3 -1M265.7 123.5l2.6 -2" stroke="#ff6a00" stroke-width="1.25"/><path d="M326.7 78.6l1.6 -1.2M240.6 141.6l1 -0.8M264.1 126.1l1.1 -0.8M322.9 79.8l1.4 -1M324.3 78.1l1.5 -1.1M209.1 166.4l1 -0.8M281.3 111l2.7 -2" stroke="#f04000" stroke-width="1.25"/><path d="M327.4 76.8l2.4 -1.8M327.5 78.7l1.1 -0.9M330.2 74l1.7 -1.3M250.5 135.1l1 -0.7M256 130l2.4 -1.8M301.9 95.5l1 -0.8" stroke="#ff6a00" stroke-width="1"/><path d="M301.9 98.2l1.1 -0.8M217.1 161l2 -1.5M287.4 109.4l1.1 -0.8M300.8 98.2l2.4 -1.8M326.5 79.9l2.7 -2" stroke="#e8c000" stroke-width="0.75"/><path d="M333.5 74.5l2.7 -2M332.2 74.2l1.1 -0.9" stroke="#ff7800" stroke-width="1.25"/><path d="M282.1 112.7l2.4 -1.8M295.5 101.6l1.8 -1.3M216.4 163.5l2.6 -2M232.1 151.5l2.7 -2.1M287.9 105.3l1.8 -1.4" stroke="#ff5a00" stroke-width="1"/><path d="M334.6 71.3l1.6 -1.2M302 98.3l1.2 -0.9" stroke="#ff5a00" stroke-width="1.5"/></g>
<g fill="none" stroke-linecap="round" opacity="0.8" clip-path="url(#cA)"><path d="M399.1 267.1l1.3 -1.6" stroke="#8a8a10" stroke-width="1.25"/><path d="M414 249.5l0.8 -0.9M441.2 216.6l1.6 -1.9M464.3 190.2l2 -2.3M465.4 189.6l2 -2.4M413.7 250l1.3 -1.6M423.2 238.1l1.3 -1.6M442.4 216.8l1.5 -1.8M397.6 268.5l1.3 -1.5" stroke="#b89000" stroke-width="0.75"/><path d="M456.7 200.4l1 -1.2M445.8 211.2l1.7 -2" stroke="#d8a000" stroke-width="0.75"/><path d="M419.1 242.5l0.8 -0.9M459.3 196.7l2 -2.3M435.3 224l1.5 -1.7M446.8 211l1.2 -1.4M422.9 240l1.1 -1.3" stroke="#6f8a20" stroke-width="0.75"/><path d="M416.7 246.8l1.4 -1.6M445.4 212.6l1.1 -1.3M451.1 207.3l1.5 -1.8M409.8 254.9l1.8 -2.1M401.8 263.6l1.5 -1.7M439.2 219.4l1.2 -1.4M425.9 235.6l0.7 -0.8" stroke="#8a8a10" stroke-width="1"/><path d="M453.7 203.6l1.8 -2.1" stroke="#8a8a10" stroke-width="0.75"/><path d="M429.4 232l0.7 -0.8" stroke="#b89000" stroke-width="1.25"/><path d="M442.8 215.8l1.6 -1.8M421.3 242l2 -2.4" stroke="#6f8a20" stroke-width="1.25"/><path d="M414.4 248.8l1 -1.2M419.1 244.8l1.1 -1.3M425.6 236.5l1.7 -2M463.2 192l2 -2.3M406.7 259.3l1.8 -2.1M396.1 269.5l1 -1.2M441.5 216.9l0.7 -0.8M399.2 267.5l1.5 -1.8M436.4 222.8l1.7 -1.9" stroke="#d8a000" stroke-width="1"/><path d="M443.8 214.6l1.2 -1.4M446.2 210.8l1.9 -2.2" stroke="#6f8a20" stroke-width="1"/><path d="M416.5 246.1l0.9 -1.1M407.8 257.1l1 -1.2M425.7 235.2l0.7 -0.8M451.3 206l2 -2.4M422.3 240.1l1.7 -2" stroke="#c8a800" stroke-width="1"/><path d="M469.4 184.8l0.9 -1.1M417 246.7l1.6 -1.8M449.8 208.5l0.9 -1.1" stroke="#b89000" stroke-width="1"/><path d="M425 235.7l1.3 -1.6M411 253.7l2.1 -2.4" stroke="#c8a800" stroke-width="1.25"/><path d="M397.8 267.9l1 -1.1" stroke="#d8a000" stroke-width="1.25"/><path d="M443 216l1.3 -1.5" stroke="#c8a800" stroke-width="0.75"/></g>
<g fill="none" stroke-linecap="round" opacity="0.75" clip-path="url(#cA)"><path d="M476.3 175.5l1.6 -1.9M493.5 155.4l1.6 -1.9M483.3 168.1l1.5 -1.7M471 183.8l1.7 -2" stroke="#d87000" stroke-width="1"/><path d="M493.1 156.3l1.5 -1.7M471.6 182l1.4 -1.6M486.5 165.7l0.9 -1.1M478.2 174.7l1.6 -1.9" stroke="#c8a000" stroke-width="1"/><path d="M483.9 168.5l1.2 -1.4M488.5 162.2l1.7 -2" stroke="#f04000" stroke-width="0.75"/><path d="M515.7 130.5l1.6 -1.9" stroke="#ff5a00" stroke-width="0.75"/><path d="M495.8 153.2l1.1 -1.3M503.4 144.5l1.8 -2.1M473.6 178.6l1.6 -1.8" stroke="#f04000" stroke-width="1"/><path d="M482.6 169l1.4 -1.6M471 183.8l1.5 -1.7M482.2 169.8l1.6 -1.8M472.1 181.5l1.5 -1.8M471 182l1.5 -1.8M498.3 150.5l0.8 -0.9" stroke="#ff5a00" stroke-width="1"/><path d="M517.6 128l0.9 -1.1M503.5 146.1l0.7 -0.8M483.7 168.2l1.1 -1.3M514.7 131.5l0.7 -0.8" stroke="#d87000" stroke-width="0.75"/><path d="M516.4 129.6l1.2 -1.4M487.2 165.2l1.4 -1.7" stroke="#c8a000" stroke-width="0.75"/></g>
<g fill="none" stroke-linecap="round" opacity="0.85" clip-path="url(#cA)"><path d="M445 215l2 -2.6M445.2 214.8l1.4 -1.8M442.2 218.5l1.9 -2.6" stroke="#c85010" stroke-width="1.25"/><path d="M445.5 214.8l1.8 -2.5M451.3 207.7l1.9 -2.5" stroke="#e04010" stroke-width="1"/><path d="M442.6 218.3l1.7 -2.2M448.2 211l1.4 -1.8" stroke="#e04010" stroke-width="1.25"/><path d="M445.5 214.3l1.4 -1.9" stroke="#c85010" stroke-width="1"/></g>
<g fill="none" stroke-linecap="round" opacity="0.8" clip-path="url(#cA)"><path d="M489.9 246.6l1.8 -2.5M501.6 230.9l0.6 -0.9M530 191.6l0.9 -1.3" stroke="#d8b000" stroke-width="1.25"/><path d="M470.9 272l1.1 -1.5M533 188.6l1 -1.4M522 203.7l1.5 -2.1M482.8 256.6l1.2 -1.6M497.1 237.8l0.7 -1M503.9 226.6l1.6 -2.2M508.9 220.5l0.6 -0.8M484.1 255.3l1.1 -1.4" stroke="#a8a000" stroke-width="1"/><path d="M539.1 180.7l1.4 -1.9M487.1 250.3l0.8 -1.1M491.9 242.9l1.1 -1.5M506.7 222.7l0.6 -0.9M504.7 226.7l1.6 -2.2M522 204l1.1 -1.5M513.9 214.5l1.2 -1.6" stroke="#d8b000" stroke-width="1"/><path d="M510.2 218.3l1.2 -1.6M534.4 186.3l0.6 -0.8M537.6 180.9l0.8 -1.1M473.5 268.1l1.6 -2.2M537 181.8l1 -1.3M514.4 212.4l1.5 -2.1M522.4 203.3l1.5 -2M512 217.2l1.1 -1.6" stroke="#8a9a10" stroke-width="1"/><path d="M485.2 253.2l1.3 -1.8M474.7 266.9l0.9 -1.2M473.5 269.7l0.8 -1.2M534.8 184.5l1.1 -1.5M510.4 219.9l1.7 -2.4" stroke="#c8c000" stroke-width="1.25"/><path d="M514.2 214.3l1.7 -2.4M499.7 234.3l1.7 -2.3" stroke="#c8c000" stroke-width="1"/><path d="M534.3 185l1.3 -1.8M515.7 210.6l1.4 -1.9" stroke="#70a020" stroke-width="1.25"/><path d="M515.4 211.7l1.4 -2M472.3 270.2l1.2 -1.6M481.5 257.5l1.3 -1.8M497.4 236.2l1.6 -2.1" stroke="#70a020" stroke-width="1"/><path d="M492.6 242.2l1.4 -1.9" stroke="#d8b000" stroke-width="0.75"/><path d="M474.6 267.2l1.4 -1.9M512.7 216.8l0.6 -0.9" stroke="#a8a000" stroke-width="0.75"/><path d="M478.2 263.4l0.9 -1.3M501.4 232.2l1.9 -2.6M505.4 226l1.3 -1.8M502.2 230.1l1.5 -2" stroke="#c8c000" stroke-width="0.75"/><path d="M528.2 195l1.8 -2.5M513.5 215.8l1.4 -2" stroke="#8a9a10" stroke-width="0.75"/><path d="M509.6 219.1l1.8 -2.5M475.3 267.5l0.9 -1.2" stroke="#70a020" stroke-width="0.75"/></g>
<g fill="none" stroke-linecap="round" opacity="0.85" clip-path="url(#cA)"><path d="M473.9 269.7l-0.4 -2.2" stroke="#a8c828" stroke-width="1.25"/><path d="M475.1 267.7l-0.5 -2.9" stroke="#d8e020" stroke-width="1"/><path d="M475.8 267.8l-0.3 -1.8M479.1 262.3l-0.4 -2.3M482.9 256.5l-0.3 -1.4" stroke="#d8e020" stroke-width="1.25"/><path d="M477.4 265.2l-0.3 -1.6" stroke="#e8e818" stroke-width="1.25"/><path d="M477.8 264.3l-0.3 -1.8M481.8 258.2l-0.4 -2.2M484 255.5l-0.4 -2" stroke="#e8e818" stroke-width="1"/><path d="M480.3 261l-0.5 -2.7" stroke="#a8c828" stroke-width="1"/><path d="M480.3 260.1l-0.4 -2.2" stroke="#e8e818" stroke-width="1.5"/></g>
<g fill="none" stroke-linecap="round" opacity="0.7" clip-path="url(#cA)"><path d="M455.3 95l1.8 -1.8M460.2 89.3l1.1 -1.1M443.4 105.5l1.1 -1.1M448.7 101.2l1.6 -1.6M450.5 98.4l1.9 -1.9" stroke="#f04000" stroke-width="1"/><path d="M450.6 99l2 -2" stroke="#ff5a00" stroke-width="0.5"/><path d="M445.4 103.6l1.1 -1.1M445.4 105.4l1 -1M447.7 102.8l0.9 -0.9" stroke="#ff5a00" stroke-width="1.25"/><path d="M467 81.8l1.7 -1.7M447 104.3l1.2 -1.2M463.6 86l1.3 -1.3M465.5 85.5l1.3 -1.3M469 80.9l1 -1" stroke="#ff5a00" stroke-width="0.75"/><path d="M451.5 98.2l2 -2M462.3 87.1l1.8 -1.8M451.8 98l1.7 -1.7M463.4 87.2l2.1 -2.1" stroke="#ff5a00" stroke-width="1"/><path d="M473.4 75.7l1.5 -1.5" stroke="#f04000" stroke-width="1.25"/><path d="M448.8 102.2l1.5 -1.5M462.2 87.1l1 -1M463.8 85.9l1.4 -1.4" stroke="#f04000" stroke-width="0.75"/></g>
<g fill="none" stroke-linecap="round" opacity="0.6" clip-path="url(#cA)"><path d="M361.8 112.2l0.5 -0.5M381.8 90.1l1.1 -0.9M506 170.4l1.1 -1M415.4 75.2l1 -0.9M250.5 242.7l1 -0.8" stroke="#d09000" stroke-width="1"/><path d="M363.5 113.9l0.7 -0.7M292.6 230.9l0.8 -0.8M525.2 237.2l1 -0.8M202.6 209.2l0.8 -0.7M263.3 156.9l0.7 -0.7M441.5 94l0.7 -0.7M520.8 263.9l1.7 -1.4" stroke="#ffd800" stroke-width="0.75"/><path d="M264 86.8l0.9 -0.8M461.9 204l0.9 -0.8M319.6 162.3l1.3 -1M249.9 162.2l0.6 -0.6" stroke="#ff6a00" stroke-width="0.75"/><path d="M360.6 171.1l0.7 -0.6M383.1 190.5l0.6 -0.6M350.6 164.8l0.8 -0.7M335.4 144.6l0.5 -0.4M363 74.9l1 -0.8" stroke="#ffd800" stroke-width="1"/><path d="M517 145.4l1.4 -1.3M317.5 200.2l0.7 -0.6M243.6 82.9l0.6 -0.5M312.2 126.3l0.5 -0.5M341.3 166.1l1.6 -1.4M256.9 95l0.4 -0.4" stroke="#a08000" stroke-width="0.75"/><path d="M343.4 103.2l1.3 -1.2M273.5 221.9l1.7 -1.6M333.1 176.8l0.9 -0.8M555.8 271.6l1.6 -1.4M372.7 126.6l0.7 -0.7" stroke="#d09000" stroke-width="1.25"/><path d="M380.3 156l0.8 -0.8M454.5 95.7l0.5 -0.4M480.4 181.6l0.9 -0.9M531.6 244.8l1.8 -1.6M496.8 275l1.2 -0.9M391.6 135.8l0.5 -0.5" stroke="#a08000" stroke-width="1"/><path d="M480.5 240.8l0.7 -0.6M287.3 95.4l0.4 -0.4M323.7 168l1.3 -1.1M281.4 221.1l0.9 -0.7M358.6 180.6l1 -0.9M261.1 123.9l1.4 -1.2M278.3 135.9l0.7 -0.6M325.5 140.4l0.5 -0.5M382 81.6l0.6 -0.5" stroke="#ff6a00" stroke-width="1.25"/><path d="M541.7 231.3l0.7 -0.6M433.6 227l0.7 -0.6M335.8 126.2l0.6 -0.6M329.4 218l0.9 -0.8M537.1 193.6l1.5 -1.4" stroke="#e8e010" stroke-width="1"/><path d="M363.9 206.7l0.9 -0.8M352.7 121.9l0.5 -0.4M446.4 171.7l1.5 -1.4M432.2 183.6l0.6 -0.5" stroke="#ffd800" stroke-width="1.25"/><path d="M361.7 96.9l0.5 -0.4M463.5 99.3l1.2 -1.1" stroke="#a08000" stroke-width="1.25"/><path d="M543.3 252.1l2.2 -2M247.9 192.3l1.5 -1.3M400.7 72.4l0.8 -0.7M537.9 258.4l1.9 -1.6" stroke="#e8e010" stroke-width="0.75"/><path d="M285.1 142.8l0.5 -0.4M331.7 167.4l0.6 -0.5M260.7 255.7l1.9 -1.7M235.9 89.3l0.4 -0.4M339.4 96.4l0.7 -0.6" stroke="#ff6a00" stroke-width="1"/><path d="M412.7 268.8l2.3 -1.9M496.2 152.5l0.5 -0.5" stroke="#d09000" stroke-width="0.75"/><path d="M326 265.8l0.8 -0.7" stroke="#e8e010" stroke-width="1.25"/></g>
<polygon points="178.3,275.6 571.5,276.8 561.5,297 187,297" fill="url(#sA)" />
<polyline points="234.5,276.5 236.5,285" fill="none" stroke="#f0f818" stroke-width="2.4" opacity="0.95"/>
<polyline points="237.5,277 239.5,286" fill="none" stroke="#d8f028" stroke-width="1.8" opacity="0.9"/>
<polyline points="241,277 242.5,285" fill="none" stroke="#7fd84a" stroke-width="1.8" opacity="0.9"/>
<polyline points="197,276 199,280" fill="none" stroke="#f0f010" stroke-width="1.6" opacity="0.9"/>
<polyline points="268.8,70 338.6,145.3" fill="none" stroke="#f01a0a" stroke-width="1.6" />
<polyline points="360.6,169.4 455.5,276.5 452.5,298" fill="none" stroke="#f01a0a" stroke-width="1.6" />
<path d="M328.6 168.6 C328.2 158 331 150 338 146 C341 143.6 345 142.6 347.8 142.8 C350.4 143 352 145 352.7 147.6 C353.4 145 355.4 143 358 142.8 C364 143 368.6 147.6 369.4 153 L368 158.2 L364 161 L361.4 165 L360 169.6 L357 171.4 L352 170 L346.5 169.2 Z" fill="#f4ff10"/>
<path d="M327 169.4 L333 162 L336 169.6 Z M334 170 L338 163 L340 170 Z" fill="#f4f010"/>
<path d="M330.6 167.6 C330.4 158 333 151.4 339 147.6 C342 145.4 345 144.6 347.4 144.8 C350 145 351.6 147 352.7 150.4 C353.8 147 355.8 145 358 144.8 C363 145 367 148.6 367.8 153 L366.6 157.2 L363 160 L360.4 164 L359 168.6 L356.6 170 L352 168.8 L346.5 168.2 Z" fill="url(#gDomeA)"/>
<path d="M334.5 166 L337 152 M340 167 L342 149 M345.6 160 L346.6 147 M349.6 158 L350 146.4 M355.4 158 L355.8 146.4 M359.6 158 L360.6 147 M363.6 159 L365.4 150" stroke="#2c8c6c" stroke-width="1.1" fill="none" opacity="0.45"/>
<path d="M352.7 147.6 L352.7 160" stroke="#a8d830" stroke-width="0.9" fill="none" opacity="0.7"/>
<ellipse cx="352.4" cy="163.6" rx="9.6" ry="4.4" fill="#1ef2ff"/>
<path d="M336.4 168.8 L338 163.4 L343.4 162.6 L345 168.9 Z" fill="#22e8f8"/>
<ellipse cx="354.8" cy="165.4" rx="6.2" ry="3.4" fill="#7f42f2"/>
<path d="M349.6 166 L352 170.2 L357.4 171.2 L359.8 167 Z" fill="#7f42f2"/>
<path d="M354.6 170.4 L355.4 173.6 L357.6 173 L357.8 170.8 Z" fill="#38e8f0"/>
<path d="M352.6 143 L352.6 135.4" stroke="#ff9090" stroke-width="1.1" fill="none" opacity="0.9"/>
<path d="M352.6 139 L352.6 143.6" stroke="#ff6a20" stroke-width="1.1" fill="none" opacity="0.9"/>
<polyline points="338.6,145.3 339.5,158.2 343.1,164.4 345.9,169.4 347,177.9 348.4,179.4 350.4,175 352.6,176.6 355.5,179.6 357.8,174 360.6,169.4" fill="none" stroke="#f01a0a" stroke-width="1.6" stroke-linejoin="round"/>
<circle cx="348.2" cy="179.6" r="1.9" fill="#e81010"/>
<circle cx="358.6" cy="174.4" r="1.2" fill="#e81010"/>
<circle cx="365.6" cy="174.8" r="2.3" fill="#2020e6"/>
<line x1="504.3" y1="62" x2="578" y2="266.5" stroke="#b9bdca" stroke-width="1.3" />
<line x1="504.3" y1="62" x2="511.5" y2="59.3" stroke="#b9bdca" stroke-width="1.2" />
<text x="513.8" y="58" font-size="15.2" text-anchor="start" fill="#fff" font-weight="bold" font-family="'Liberation Serif','DejaVu Serif',serif" paint-order="stroke" stroke="#1c2646" stroke-opacity="0.5" stroke-width="1.36" stroke-linejoin="round" >0</text>
<line x1="512.2" y1="84.7" x2="519.4" y2="82.2" stroke="#b9bdca" stroke-width="1.2" />
<text x="520.5" y="82.9" font-size="15.6" text-anchor="start" fill="#fff" font-weight="bold" font-family="'Liberation Serif','DejaVu Serif',serif" paint-order="stroke" stroke="#1c2646" stroke-opacity="0.5" stroke-width="1.37" stroke-linejoin="round" >10</text>
<line x1="521.6" y1="109.9" x2="529" y2="107.6" stroke="#b9bdca" stroke-width="1.2" />
<text x="531.3" y="110.5" font-size="16" text-anchor="start" fill="#fff" font-weight="bold" font-family="'Liberation Serif','DejaVu Serif',serif" paint-order="stroke" stroke="#1c2646" stroke-opacity="0.5" stroke-width="1.38" stroke-linejoin="round" >20</text>
<line x1="531.3" y1="138" x2="539" y2="135.8" stroke="#b9bdca" stroke-width="1.2" />
<text x="540.8" y="140.3" font-size="16.3" text-anchor="start" fill="#fff" font-weight="bold" font-family="'Liberation Serif','DejaVu Serif',serif" paint-order="stroke" stroke="#1c2646" stroke-opacity="0.5" stroke-width="1.39" stroke-linejoin="round" >30</text>
<line x1="543" y1="170" x2="551.6" y2="166.8" stroke="#b9bdca" stroke-width="1.2" />
<text x="553.8" y="170.6" font-size="16.6" text-anchor="start" fill="#fff" font-weight="bold" font-family="'Liberation Serif','DejaVu Serif',serif" paint-order="stroke" stroke="#1c2646" stroke-opacity="0.5" stroke-width="1.4" stroke-linejoin="round" >40</text>
<line x1="556" y1="206.6" x2="565" y2="203.3" stroke="#b9bdca" stroke-width="1.2" />
<text x="566.6" y="207.8" font-size="16.9" text-anchor="start" fill="#fff" font-weight="bold" font-family="'Liberation Serif','DejaVu Serif',serif" paint-order="stroke" stroke="#1c2646" stroke-opacity="0.5" stroke-width="1.41" stroke-linejoin="round" >50</text>
<line x1="571.1" y1="248.3" x2="581.3" y2="245" stroke="#b9bdca" stroke-width="1.2" />
<text x="583.5" y="247.8" font-size="17.2" text-anchor="start" fill="#fff" font-weight="bold" font-family="'Liberation Serif','DejaVu Serif',serif" paint-order="stroke" stroke="#1c2646" stroke-opacity="0.5" stroke-width="1.42" stroke-linejoin="round" >60</text>
<text x="573.4" y="140.3" font-size="12.8" text-anchor="start" fill="#fff" font-weight="bold" font-family="'Liberation Serif','DejaVu Serif',serif" textLength="36.6" lengthAdjust="spacingAndGlyphs" paint-order="stroke" stroke="#1c2646" stroke-opacity="0.5" stroke-width="1.28" stroke-linejoin="round" >Y(μm)</text>
<line x1="187" y1="299" x2="561.5" y2="299" stroke="#b9bdca" stroke-width="1.4" />
<line x1="187.8" y1="298.5" x2="187.8" y2="306.5" stroke="#b9bdca" stroke-width="1.3" />
<text x="187.8" y="322.6" font-size="16.8" text-anchor="middle" fill="#fff" font-weight="bold" font-family="'Liberation Serif','DejaVu Serif',serif" paint-order="stroke" stroke="#1c2646" stroke-opacity="0.5" stroke-width="1.4" stroke-linejoin="round" >0</text>
<line x1="245.7" y1="298.5" x2="245.7" y2="306.5" stroke="#b9bdca" stroke-width="1.3" />
<text x="245.7" y="322.6" font-size="16.8" text-anchor="middle" fill="#fff" font-weight="bold" font-family="'Liberation Serif','DejaVu Serif',serif" paint-order="stroke" stroke="#1c2646" stroke-opacity="0.5" stroke-width="1.4" stroke-linejoin="round" >10</text>
<line x1="304.3" y1="298.5" x2="304.3" y2="306.5" stroke="#b9bdca" stroke-width="1.3" />
<text x="304.3" y="322.6" font-size="16.8" text-anchor="middle" fill="#fff" font-weight="bold" font-family="'Liberation Serif','DejaVu Serif',serif" paint-order="stroke" stroke="#1c2646" stroke-opacity="0.5" stroke-width="1.4" stroke-linejoin="round" >20</text>
<line x1="362.4" y1="298.5" x2="362.4" y2="306.5" stroke="#b9bdca" stroke-width="1.3" />
<text x="362.4" y="322.6" font-size="16.8" text-anchor="middle" fill="#fff" font-weight="bold" font-family="'Liberation Serif','DejaVu Serif',serif" paint-order="stroke" stroke="#1c2646" stroke-opacity="0.5" stroke-width="1.4" stroke-linejoin="round" >30</text>
<line x1="420.5" y1="298.5" x2="420.5" y2="306.5" stroke="#b9bdca" stroke-width="1.3" />
<text x="420.5" y="322.6" font-size="16.8" text-anchor="middle" fill="#fff" font-weight="bold" font-family="'Liberation Serif','DejaVu Serif',serif" paint-order="stroke" stroke="#1c2646" stroke-opacity="0.5" stroke-width="1.4" stroke-linejoin="round" >40</text>
<line x1="479.2" y1="298.5" x2="479.2" y2="306.5" stroke="#b9bdca" stroke-width="1.3" />
<text x="479.2" y="322.6" font-size="16.8" text-anchor="middle" fill="#fff" font-weight="bold" font-family="'Liberation Serif','DejaVu Serif',serif" paint-order="stroke" stroke="#1c2646" stroke-opacity="0.5" stroke-width="1.4" stroke-linejoin="round" >50</text>
<line x1="537.5" y1="298.5" x2="537.5" y2="306.5" stroke="#b9bdca" stroke-width="1.3" />
<text x="537.5" y="322.6" font-size="16.8" text-anchor="middle" fill="#fff" font-weight="bold" font-family="'Liberation Serif','DejaVu Serif',serif" paint-order="stroke" stroke="#1c2646" stroke-opacity="0.5" stroke-width="1.4" stroke-linejoin="round" >60</text>
<text x="353.6" y="344.5" font-size="12.8" text-anchor="start" fill="#fff" font-weight="bold" font-family="'Liberation Serif','DejaVu Serif',serif" textLength="36.7" lengthAdjust="spacingAndGlyphs" paint-order="stroke" stroke="#1c2646" stroke-opacity="0.5" stroke-width="1.28" stroke-linejoin="round" >X(μm)</text>
<text x="209.9" y="382.6" font-size="24.3" text-anchor="start" fill="#fff" font-weight="bold" font-family="'Liberation Serif','DejaVu Serif',serif" textLength="311.5" lengthAdjust="spacingAndGlyphs" paint-order="stroke" stroke="#1c2646" stroke-opacity="0.5" stroke-width="1.63" stroke-linejoin="round" >width= 9.4 μm, depth= 4.0 μm</text>
<rect x="640.7" y="115.8" width="30.7" height="130.4" fill="#dfe3ea"/>
<rect x="642.1" y="117.1" width="27.9" height="10.71" fill="#ff2a1c"/>
<rect x="642.1" y="128.81" width="27.9" height="10.71" fill="#ff4d0a"/>
<rect x="642.1" y="140.52" width="27.9" height="10.71" fill="#ffa500"/>
<rect x="642.1" y="152.23" width="27.9" height="10.71" fill="#f4ff0c"/>
<rect x="642.1" y="163.94" width="27.9" height="10.71" fill="#98cf2e"/>
<rect x="642.1" y="175.65" width="27.9" height="10.71" fill="#3cb066"/>
<rect x="642.1" y="187.35" width="27.9" height="10.71" fill="#0388a6"/>
<rect x="642.1" y="199.06" width="27.9" height="10.71" fill="#00fbff"/>
<rect x="642.1" y="210.77" width="27.9" height="10.71" fill="#7d3cff"/>
<rect x="642.1" y="222.48" width="27.9" height="10.71" fill="#3c1280"/>
<rect x="642.1" y="234.19" width="27.9" height="10.71" fill="#ffcccc"/>
<text x="678" y="124.2" font-size="10.7" text-anchor="start" fill="#fff" font-weight="bold" font-family="'Liberation Serif','DejaVu Serif',serif" textLength="33" lengthAdjust="spacingAndGlyphs" paint-order="stroke" stroke="#1c2646" stroke-opacity="0.5" stroke-width="1.22" stroke-linejoin="round" >5.0 μm</text>
<text x="678" y="136.3" font-size="10.7" text-anchor="start" fill="#fff" font-weight="bold" font-family="'Liberation Serif','DejaVu Serif',serif" textLength="33" lengthAdjust="spacingAndGlyphs" paint-order="stroke" stroke="#1c2646" stroke-opacity="0.5" stroke-width="1.22" stroke-linejoin="round" >4.5 μm</text>
<text x="678" y="149.2" font-size="10.7" text-anchor="start" fill="#fff" font-weight="bold" font-family="'Liberation Serif','DejaVu Serif',serif" textLength="33" lengthAdjust="spacingAndGlyphs" paint-order="stroke" stroke="#1c2646" stroke-opacity="0.5" stroke-width="1.22" stroke-linejoin="round" >4.0 μm</text>
<text x="678" y="161.6" font-size="10.7" text-anchor="start" fill="#fff" font-weight="bold" font-family="'Liberation Serif','DejaVu Serif',serif" textLength="33" lengthAdjust="spacingAndGlyphs" paint-order="stroke" stroke="#1c2646" stroke-opacity="0.5" stroke-width="1.22" stroke-linejoin="round" >3.5 μm</text>
<text x="678" y="173.4" font-size="10.7" text-anchor="start" fill="#fff" font-weight="bold" font-family="'Liberation Serif','DejaVu Serif',serif" textLength="33" lengthAdjust="spacingAndGlyphs" paint-order="stroke" stroke="#1c2646" stroke-opacity="0.5" stroke-width="1.22" stroke-linejoin="round" >3.0 μm</text>
<text x="678" y="184.5" font-size="10.7" text-anchor="start" fill="#fff" font-weight="bold" font-family="'Liberation Serif','DejaVu Serif',serif" textLength="33" lengthAdjust="spacingAndGlyphs" paint-order="stroke" stroke="#1c2646" stroke-opacity="0.5" stroke-width="1.22" stroke-linejoin="round" >2.5 μm</text>
<text x="678" y="194.9" font-size="10.7" text-anchor="start" fill="#fff" font-weight="bold" font-family="'Liberation Serif','DejaVu Serif',serif" textLength="33" lengthAdjust="spacingAndGlyphs" paint-order="stroke" stroke="#1c2646" stroke-opacity="0.5" stroke-width="1.22" stroke-linejoin="round" >2.0 μm</text>
<text x="678" y="206" font-size="10.7" text-anchor="start" fill="#fff" font-weight="bold" font-family="'Liberation Serif','DejaVu Serif',serif" textLength="33" lengthAdjust="spacingAndGlyphs" paint-order="stroke" stroke="#1c2646" stroke-opacity="0.5" stroke-width="1.22" stroke-linejoin="round" >1.5 μm</text>
<text x="678" y="217.7" font-size="10.7" text-anchor="start" fill="#fff" font-weight="bold" font-family="'Liberation Serif','DejaVu Serif',serif" textLength="33" lengthAdjust="spacingAndGlyphs" paint-order="stroke" stroke="#1c2646" stroke-opacity="0.5" stroke-width="1.22" stroke-linejoin="round" >1.0 μm</text>
<text x="678" y="230.2" font-size="10.7" text-anchor="start" fill="#fff" font-weight="bold" font-family="'Liberation Serif','DejaVu Serif',serif" textLength="33" lengthAdjust="spacingAndGlyphs" paint-order="stroke" stroke="#1c2646" stroke-opacity="0.5" stroke-width="1.22" stroke-linejoin="round" >0.5 μm</text>
<text x="678" y="243.4" font-size="10.7" text-anchor="start" fill="#fff" font-weight="bold" font-family="'Liberation Serif','DejaVu Serif',serif" textLength="33" lengthAdjust="spacingAndGlyphs" paint-order="stroke" stroke="#1c2646" stroke-opacity="0.5" stroke-width="1.22" stroke-linejoin="round" >0.0 μm</text>
<line x1="20.5" y1="418.8" x2="747" y2="418.8" stroke="#545c72" stroke-width="1" />
<line x1="747" y1="418.8" x2="747" y2="547.2" stroke="#545c72" stroke-width="1" />
<line x1="20.5" y1="523.3" x2="747" y2="523.3" stroke="#545c72" stroke-width="1" />
<line x1="20.5" y1="499.6" x2="747" y2="499.6" stroke="#545c72" stroke-width="1" />
<line x1="20.5" y1="475.8" x2="747" y2="475.8" stroke="#545c72" stroke-width="1" />
<line x1="20.5" y1="452" x2="747" y2="452" stroke="#545c72" stroke-width="1" />
<line x1="20.5" y1="428.6" x2="747" y2="428.6" stroke="#545c72" stroke-width="1" />
<line x1="118.7" y1="418.8" x2="118.7" y2="547.2" stroke="#545c72" stroke-width="1" />
<line x1="216.8" y1="418.8" x2="216.8" y2="547.2" stroke="#545c72" stroke-width="1" />
<line x1="315" y1="418.8" x2="315" y2="547.2" stroke="#545c72" stroke-width="1" />
<line x1="413.2" y1="418.8" x2="413.2" y2="547.2" stroke="#545c72" stroke-width="1" />
<line x1="511.4" y1="418.8" x2="511.4" y2="547.2" stroke="#545c72" stroke-width="1" />
<line x1="609.5" y1="418.8" x2="609.5" y2="547.2" stroke="#545c72" stroke-width="1" />
<line x1="708" y1="418.8" x2="708" y2="547.2" stroke="#545c72" stroke-width="1" />
<line x1="20.5" y1="418.8" x2="20.5" y2="548" stroke="#9da3b4" stroke-width="1.7" />
<line x1="17.5" y1="547.2" x2="747" y2="547.2" stroke="#9da3b4" stroke-width="1.9" />
<line x1="17" y1="547.2" x2="20.5" y2="547.2" stroke="#9da3b4" stroke-width="1.3" />
<text x="15.6" y="554.1" font-size="16.4" text-anchor="end" fill="#fff" font-weight="bold" font-family="'Liberation Serif','DejaVu Serif',serif" paint-order="stroke" stroke="#1c2646" stroke-opacity="0.5" stroke-width="1.39" stroke-linejoin="round" >0</text>
<line x1="17" y1="523.3" x2="20.5" y2="523.3" stroke="#9da3b4" stroke-width="1.3" />
<text x="15.6" y="529.5" font-size="16.4" text-anchor="end" fill="#fff" font-weight="bold" font-family="'Liberation Serif','DejaVu Serif',serif" paint-order="stroke" stroke="#1c2646" stroke-opacity="0.5" stroke-width="1.39" stroke-linejoin="round" >1</text>
<line x1="17" y1="499.6" x2="20.5" y2="499.6" stroke="#9da3b4" stroke-width="1.3" />
<text x="15.6" y="505.05" font-size="16.4" text-anchor="end" fill="#fff" font-weight="bold" font-family="'Liberation Serif','DejaVu Serif',serif" paint-order="stroke" stroke="#1c2646" stroke-opacity="0.5" stroke-width="1.39" stroke-linejoin="round" >2</text>
<line x1="17" y1="475.8" x2="20.5" y2="475.8" stroke="#9da3b4" stroke-width="1.3" />
<text x="15.6" y="480.5" font-size="16.4" text-anchor="end" fill="#fff" font-weight="bold" font-family="'Liberation Serif','DejaVu Serif',serif" paint-order="stroke" stroke="#1c2646" stroke-opacity="0.5" stroke-width="1.39" stroke-linejoin="round" >3</text>
<line x1="17" y1="452" x2="20.5" y2="452" stroke="#9da3b4" stroke-width="1.3" />
<text x="15.6" y="456" font-size="16.4" text-anchor="end" fill="#fff" font-weight="bold" font-family="'Liberation Serif','DejaVu Serif',serif" paint-order="stroke" stroke="#1c2646" stroke-opacity="0.5" stroke-width="1.39" stroke-linejoin="round" >4</text>
<line x1="17" y1="428.6" x2="20.5" y2="428.6" stroke="#9da3b4" stroke-width="1.3" />
<text x="15.6" y="431.9" font-size="16.4" text-anchor="end" fill="#fff" font-weight="bold" font-family="'Liberation Serif','DejaVu Serif',serif" paint-order="stroke" stroke="#1c2646" stroke-opacity="0.5" stroke-width="1.39" stroke-linejoin="round" >5</text>
<line x1="20.5" y1="547.2" x2="20.5" y2="551.2" stroke="#9da3b4" stroke-width="1.4" />
<text x="20.5" y="565" font-size="16.4" text-anchor="middle" fill="#fff" font-weight="bold" font-family="'Liberation Serif','DejaVu Serif',serif" paint-order="stroke" stroke="#1c2646" stroke-opacity="0.5" stroke-width="1.39" stroke-linejoin="round" >0</text>
<line x1="118.7" y1="547.2" x2="118.7" y2="551.2" stroke="#9da3b4" stroke-width="1.4" />
<text x="118.7" y="565" font-size="16.4" text-anchor="middle" fill="#fff" font-weight="bold" font-family="'Liberation Serif','DejaVu Serif',serif" paint-order="stroke" stroke="#1c2646" stroke-opacity="0.5" stroke-width="1.39" stroke-linejoin="round" >10</text>
<line x1="216.8" y1="547.2" x2="216.8" y2="551.2" stroke="#9da3b4" stroke-width="1.4" />
<text x="216.8" y="565" font-size="16.4" text-anchor="middle" fill="#fff" font-weight="bold" font-family="'Liberation Serif','DejaVu Serif',serif" paint-order="stroke" stroke="#1c2646" stroke-opacity="0.5" stroke-width="1.39" stroke-linejoin="round" >20</text>
<line x1="315" y1="547.2" x2="315" y2="551.2" stroke="#9da3b4" stroke-width="1.4" />
<text x="315" y="565" font-size="16.4" text-anchor="middle" fill="#fff" font-weight="bold" font-family="'Liberation Serif','DejaVu Serif',serif" paint-order="stroke" stroke="#1c2646" stroke-opacity="0.5" stroke-width="1.39" stroke-linejoin="round" >30</text>
<line x1="413.2" y1="547.2" x2="413.2" y2="551.2" stroke="#9da3b4" stroke-width="1.4" />
<text x="413.2" y="565" font-size="16.4" text-anchor="middle" fill="#fff" font-weight="bold" font-family="'Liberation Serif','DejaVu Serif',serif" paint-order="stroke" stroke="#1c2646" stroke-opacity="0.5" stroke-width="1.39" stroke-linejoin="round" >40</text>
<line x1="511.4" y1="547.2" x2="511.4" y2="551.2" stroke="#9da3b4" stroke-width="1.4" />
<text x="511.4" y="565" font-size="16.4" text-anchor="middle" fill="#fff" font-weight="bold" font-family="'Liberation Serif','DejaVu Serif',serif" paint-order="stroke" stroke="#1c2646" stroke-opacity="0.5" stroke-width="1.39" stroke-linejoin="round" >50</text>
<line x1="609.5" y1="547.2" x2="609.5" y2="551.2" stroke="#9da3b4" stroke-width="1.4" />
<text x="609.5" y="565" font-size="16.4" text-anchor="middle" fill="#fff" font-weight="bold" font-family="'Liberation Serif','DejaVu Serif',serif" paint-order="stroke" stroke="#1c2646" stroke-opacity="0.5" stroke-width="1.39" stroke-linejoin="round" >60</text>
<line x1="708" y1="547.2" x2="708" y2="551.2" stroke="#9da3b4" stroke-width="1.4" />
<text x="708" y="565" font-size="16.4" text-anchor="middle" fill="#fff" font-weight="bold" font-family="'Liberation Serif','DejaVu Serif',serif" paint-order="stroke" stroke="#1c2646" stroke-opacity="0.5" stroke-width="1.39" stroke-linejoin="round" >70</text>
<text x="4.5" y="409.6" font-size="12.8" text-anchor="start" fill="#fff" font-weight="bold" font-family="'Liberation Serif','DejaVu Serif',serif" textLength="36.6" lengthAdjust="spacingAndGlyphs" paint-order="stroke" stroke="#1c2646" stroke-opacity="0.5" stroke-width="1.28" stroke-linejoin="round" >Z(μm)</text>
<text x="340.5" y="573.5" font-size="11.3" text-anchor="start" fill="#fff" font-weight="bold" font-family="'Liberation Serif','DejaVu Serif',serif" textLength="65" lengthAdjust="spacingAndGlyphs" paint-order="stroke" stroke="#1c2646" stroke-opacity="0.5" stroke-width="1.24" stroke-linejoin="round" >Distance(μm)</text>
<polyline points="20.5,453.2 54,453.2 55,452.6 102,452.6 103,452.2 142,452.2 143.5,454 145,461 146.5,453 148,452.2 160,452.2 161.5,447 163,452 228,452 229,451.6 326,451.6 327,450.6 356.6,450.6 357.4,470 357.6,498.4 369,498.4 369.8,514.4 382,514.4 389,546.5 394,546.5 395.6,531 397.2,546 398.4,537 399.6,540 403,514.4 414,514.4 415.2,499 416,500 418,514.4 424,514.4 427,497 430,483 430.5,460 431.5,476 433,483 436,483 439,466 442,452 444,450.5 447.4,450.3 612,450.3 613,451.2 654,451.2 655,453 656,461 657,453 658,451.2 709.5,451.2 710.5,452.2 747,452.2" fill="none" stroke="#bcc1cc" stroke-width="1.2" stroke-linejoin="round"/>
<rect x="354.4" y="450" width="93" height="95.6" fill="none" stroke="#c2222e" stroke-width="1.1"/>
<line x1="394.4" y1="418.8" x2="394.4" y2="547.2" stroke="#c0283a" stroke-width="1" />
<polyline points="462.4,418.8 462.4,430 463.6,430 463.6,446 462.4,446 462.4,547.2" fill="none" stroke="#2c2cb0" stroke-width="1.1" />
<text x="764" y="58.2" font-size="50.4" text-anchor="start" fill="#fff" font-weight="bold" font-family="'Liberation Serif','DejaVu Serif',serif" textLength="67.4" lengthAdjust="spacingAndGlyphs" paint-order="stroke" stroke="#1c2646" stroke-opacity="0.5" stroke-width="2.2" stroke-linejoin="round" >(B)</text>
<polygon points="987.7,97 1254.2,99.6 1325.4,305.8 915.6,299.6" fill="#3a4678" />
<polygon points="988.5,97.6 1253.4,100.2 1324.5,305.8 916.5,299.6" fill="url(#gB)" />
<rect x="910" y="90" width="420" height="220" fill="url(#gB2)" clip-path="url(#cB)" opacity="0.8"/>
<rect x="910" y="90" width="420" height="220" fill="url(#gB3)" clip-path="url(#cB)" opacity="0.7"/>
<g fill="none" stroke-linecap="round" opacity="0.8" clip-path="url(#cB)"><path d="M1289.9 296.9l1.6 -4.2M1238.2 190l0 -1.4M1052.1 242.3l-0.2 -1.9M1173.4 289l0.4 -1.5M1067.4 282.5l0.2 -4" stroke="#ff3a10" stroke-width="1"/><path d="M1129.4 126l0.1 -0.9M1032.2 297.6l-0.2 -2.8M1150.2 191.5l0.7 -2.1M1090 132.1l0.4 -0.9M1217.2 200.7l0.3 -1.1M1108.2 159.5l0.1 -1M1269 156.7l0.5 -1.1M1005.4 296.9l-0.2 -5.3M1095.4 111l0.2 -0.9M1009 262.9l1.2 -3.4M1168.4 123.1l-0.1 -2.2M1128.5 209.5l-0.3 -2.2M1053.4 256.1l0.4 -1.9M1235 190.5l-0.1 -1.2" stroke="#e82000" stroke-width="1.25"/><path d="M1233.2 123l0.3 -2.7M1138 148.2l0.3 -0.9M1183.1 255.8l0.4 -4M1036.9 255.2l0.5 -1.3M1016.4 187.9l-0.1 -1.2M1188.6 131.5l0.1 -1.5M1174.4 162.1l-0.3 -2.5" stroke="#f02808" stroke-width="1"/><path d="M1194.9 173.5l-0.1 -1M1184.3 296.1l0.6 -3M1296.7 253.8l0.1 -3M957 203.4l0 -1.3M1101.6 112.6l0.3 -1.6M1224.7 125.6l0.5 -1.9" stroke="#ff3a10" stroke-width="1.25"/><path d="M1169.4 298.5l-0.1 -2M1042.5 216.2l0.7 -3.1M1200.8 129.6l0 -2.6M1254.9 260.8l1.1 -2.8M1267.6 143.2l0.3 -1.6M1135.2 230.3l0.2 -1.3" stroke="#ff3a10" stroke-width="1.5"/><path d="M1179.2 206.7l0.8 -2M1059.1 281.8l-0.5 -3.9M1159.5 128.8l0.4 -2.1M1000.5 148.6l-0.1 -1.2" stroke="#e04010" stroke-width="0.75"/><path d="M1136.8 282.5l0.6 -2.1M1064.1 300.5l0 -3.1M972.8 178.8l-0.1 -2.4M1191.7 145.5l-0.1 -1.9M1038.7 221.7l0 -3.3M1271.1 185.3l-0.2 -1.2" stroke="#e82000" stroke-width="0.75"/><path d="M1224 246.2l1 -3.4M974.8 295.1l0.6 -3.5M978.7 251l1.5 -4.4M1184 273.2l0.6 -1.6M1218.9 265.5l0.2 -1.6" stroke="#e82000" stroke-width="1.5"/><path d="M1157.8 292.9l-0.3 -1.6M1039.8 281.3l-0.1 -1.8M971.1 266l0.5 -1.3M1177.8 279l0 -1.6M1119.6 192.6l0 -1.3M1142.7 261.8l0.1 -1.8M1219 213.7l0.5 -3.4M954.6 230.7l0 -1.4" stroke="#f02808" stroke-width="1.25"/><path d="M1274.3 212.7l-0.1 -4M1292.3 231.1l-0.1 -1.3M1016.7 112.2l0.4 -1.1" stroke="#ff3a10" stroke-width="0.75"/><path d="M1301.6 286.3l0.3 -3.5M1041.1 281.6l-0.2 -1.5M961.5 190.7l0 -1.6M943.8 227l0 -1.5" stroke="#e04010" stroke-width="1"/><path d="M1214.4 214.7l-0.2 -2.1M1156.4 220.6l0.5 -1.5M1173.5 177.4l0.8 -2.3M1216.1 110.9l0.2 -1" stroke="#f02808" stroke-width="0.75"/><path d="M974.9 212.5l0.6 -2M1143.3 227.5l1 -3M1095.1 149.3l0 -1.2M1088.3 174.1l0.7 -1.5M976 299.1l-0.2 -3.7M1270 224l0.6 -1.6M942.9 286.2l0 -1.8M1281.8 231.9l0.1 -2.5M1037.2 261.2l0.4 -1.5M981.2 134.7l0.1 -0.9" stroke="#e04010" stroke-width="1.25"/><path d="M1083.4 260.8l0 -1.4M1040.8 294.3l0.4 -1.9M1280.1 303.5l0.3 -1.6M1282.9 230.9l0.5 -2M976.7 234.3l0.1 -1.6M1280.6 187.4l0 -1.2" stroke="#e04010" stroke-width="1.5"/><path d="M1096.6 156l-0.3 -1.8M979 268.2l0 -2.3M1293.3 301.5l-0.6 -3.3M1012 136.4l0.6 -2.4M1038.4 147.7l0.4 -1.8M1150.5 279.7l-0.4 -3.6" stroke="#e82000" stroke-width="1"/><path d="M1023.1 153.6l0 -2.2" stroke="#f02808" stroke-width="1.5"/></g>
<g fill="none" stroke-linecap="round" opacity="0.55" clip-path="url(#cB)"><path d="M1197.9 127.1l0.4 -0.6M1127.6 292.3l0.7 -1.1" stroke="#8a7a20" stroke-width="1"/><path d="M1247.8 242.9l0.4 -1.3M1215.4 249l0.4 -2.6" stroke="#a06a10" stroke-width="1"/><path d="M1227.8 198l0.8 -1.6M1243.5 202.7l0.3 -3.7" stroke="#a06a10" stroke-width="0.75"/><path d="M1266.1 208.7l0.9 -3.3M1230.2 207.8l0.4 -1M1195.4 288l0.5 -1.8M1102.8 108.4l0.5 -1M1046.7 190.9l-0.1 -1.1" stroke="#8a7a20" stroke-width="0.75"/><path d="M1146.5 240.6l0.7 -1M1154.5 264.5l2.1 -2.7" stroke="#8a7a20" stroke-width="0.5"/><path d="M1099.2 121.7l0.8 -1.1M1034.4 132.6l0.1 -1.9M1103.7 113.1l0.4 -0.5" stroke="#b07818" stroke-width="0.5"/><path d="M1147.2 286.8l2.7 -3.5" stroke="#6f8030" stroke-width="0.5"/><path d="M1233.8 256.9l0.4 -1.8" stroke="#a06a10" stroke-width="0.5"/><path d="M1098.1 116.5l0.4 -0.7M1195.4 255.6l0.4 -1.1M975.5 153.2l0.1 -0.8M1133.5 272.3l0 -3.6M1123.2 141.6l0.5 -0.7" stroke="#b07818" stroke-width="0.75"/><path d="M999 172.4l0.3 -1" stroke="#b07818" stroke-width="1"/><path d="M1131.4 154.8l0.3 -2.6M1191.9 204.5l0.6 -2.1M1304.7 266.8l1.6 -3.2M1246 273l0.1 -1.3" stroke="#6f8030" stroke-width="0.75"/></g>
<g fill="none" stroke-linecap="round" opacity="0.5" clip-path="url(#cB)"><path d="M1179.7 243l2.8 1.2M1173.8 238.3l4 1.8M1239.1 266.3l2.1 0.9M1279.1 285.2l3.4 1.5M1253.1 272.9l2.9 1.3M1136 221.4l2.4 1.1" stroke="#9a6a18" stroke-width="1"/><path d="M1223.7 261.7l3.2 1.4M1254.2 273.1l3.6 1.6M1259.2 277.7l3.1 1.4M1150.4 229.4l1.4 0.6M1258.6 276.6l2.4 1.1M1243 269.5l1.6 0.7M1175.9 240.2l2.8 1.2" stroke="#9a6a18" stroke-width="0.5"/><path d="M1195.2 247.5l1.6 0.7M1180.9 241.8l2.6 1.2M1146.4 226.4l3.4 1.5M1243.9 268.7l2.1 0.9M1153.5 231.1l2.8 1.2" stroke="#9a6a18" stroke-width="0.75"/><path d="M1268.7 279.8l3 1.3M1250.7 272.3l2.4 1.1M1275.8 284.8l4.2 1.8M1228.6 263l3.2 1.4M1239.4 268.7l1.9 0.9M1155 230.8l1.4 0.6M1252.1 272.3l2.4 1M1183.1 242l2.9 1.3M1227.9 263.6l2.4 1M1199.2 249.3l1.7 0.7M1258.1 276.2l3.4 1.5M1145.4 227.5l3.6 1.6M1238 267.9l1.9 0.8M1230.9 264.9l3.9 1.7" stroke="#8a7a20" stroke-width="0.75"/><path d="M1268.2 280.4l1.9 0.8M1153.4 230.4l2.9 1.3M1180.1 242l2.3 1M1152.6 230.7l4.1 1.8M1269.9 279.8l1.8 0.8M1238.5 266.1l1.4 0.6M1231.7 262.9l3.6 1.6M1277 283.3l1.9 0.8M1205.4 252.9l1.6 0.7M1144 226.8l3.8 1.7M1146.8 225.8l2 0.9M1190.1 247.3l1.9 0.8" stroke="#b07010" stroke-width="0.75"/><path d="M1152 229l4.6 2M1146.2 225.5l3.8 1.6M1185 243.4l3.4 1.5" stroke="#b07010" stroke-width="1"/><path d="M1208.6 254.8l2.6 1.2" stroke="#b07010" stroke-width="0.5"/><path d="M1259.6 275.4l2.3 1M1154.3 230.6l2.9 1.3" stroke="#8a7a20" stroke-width="1"/></g>
<g fill="none" stroke-linecap="round" opacity="0.5" clip-path="url(#cB)"><path d="M1183 230.4l3.7 1.8M1218.9 249.2l4.4 2.2M1252.6 265l1.5 0.7M1259.5 270.5l2.9 1.4M1225 253.2l2.6 1.3M1179.2 229.6l2.4 1.2M1240.5 260.7l3.6 1.8M1178.5 230.8l2.4 1.2" stroke="#b07010" stroke-width="0.75"/><path d="M1254.9 267.2l2.4 1.2M1177.8 229.9l4.2 2.1M1277.5 277.6l4.1 2.1M1205.7 242.5l3.1 1.5M1188.2 234.3l1.5 0.8M1214.3 247.9l2 1" stroke="#9a6a18" stroke-width="0.75"/><path d="M1259.9 269.9l4.1 2.1M1247.5 263.1l2.9 1.4M1243.2 261.7l3.5 1.8M1294.7 287.6l3.1 1.5M1190.4 235.8l2.6 1.3M1264 271.9l2.7 1.4M1197.9 237.8l3.3 1.6" stroke="#8a7a20" stroke-width="0.75"/><path d="M1225.5 251.6l3 1.5M1293.8 287.6l2.6 1.3M1180.2 230.9l2.8 1.4M1200.4 239.9l4.1 2.1M1224.9 253.8l1.4 0.7" stroke="#8a7a20" stroke-width="1"/><path d="M1235.2 259l2.1 1M1187.3 232.9l2.6 1.3M1265.9 272.5l4.3 2.1" stroke="#8a7a20" stroke-width="0.5"/><path d="M1177.9 230.1l4 2M1209.9 244.3l3 1.5" stroke="#b07010" stroke-width="1"/><path d="M1178.7 229.4l4.1 2.1M1275.8 277.8l3 1.5M1220.2 251.1l3.1 1.5M1219.5 248.7l4.3 2.2M1242.4 260.9l2.8 1.4" stroke="#b07010" stroke-width="0.5"/><path d="M1214 245.4l1.6 0.8" stroke="#9a6a18" stroke-width="1"/><path d="M1188.7 232.9l1.8 0.9M1307.9 294.5l4.3 2.2M1276.2 276.7l3.9 1.9" stroke="#9a6a18" stroke-width="0.5"/></g>
<polygon points="916.5,299.6 1324.5,305.8 1316,328.6 925.5,321" fill="url(#sB)" />
<polyline points="1031,97.8 1092.9,165.2" fill="none" stroke="#f01a0a" stroke-width="1.5" />
<polyline points="1125.6,200.3 1218,304 1214,330" fill="none" stroke="#f01a0a" stroke-width="1.5" />
<g filter="url(#blur06)">
<path d="M1079.6 178 L1082 172 L1086 168.4 L1090 170 L1093 165.4 L1098 167.6 L1102 164.6 L1107 167 L1111 164.4 L1116 166.4 L1121 165.6 L1125 168.6 L1130 170.6 L1133 174.6 L1135.6 180.6 L1134 185 L1130 187.4 L1127 190.4 L1122 193.4 L1118 196.4 L1113 197 L1108 195.6 L1103 197.4 L1098 195.4 L1093 194 L1089 190.6 L1085 187.6 L1081.6 183.6 Z" fill="#f4ea14"/>
<ellipse cx="1109" cy="180.6" rx="22" ry="11.6" fill="#cfe92a" transform="rotate(4 1109 180.6)"/>
<ellipse cx="1110.5" cy="181.6" rx="16" ry="9.6" fill="#8fdc4c" transform="rotate(4 1110 181)"/>
<ellipse cx="1109.5" cy="185" rx="9.6" ry="7.6" fill="#3cc08c"/>
<ellipse cx="1108" cy="188" rx="5.6" ry="5" fill="#149cb4"/>
<rect x="1087.76" y="177.51" width="2.56" height="1.64" fill="#b8e434"/><rect x="1097.94" y="167.32" width="1.83" height="2.93" fill="#e03808"/><rect x="1107.84" y="185.1" width="2.53" height="2.63" fill="#c0e830"/><rect x="1106.82" y="178.36" width="2.17" height="2.39" fill="#1890b0"/><rect x="1107.89" y="179.22" width="2.79" height="2.9" fill="#20a4b4"/><rect x="1121.63" y="173.51" width="2.01" height="4.35" fill="#e8a010"/><rect x="1099.95" y="189.31" width="1.25" height="3.91" fill="#ff5a08"/><rect x="1132.48" y="182.57" width="1.67" height="4.75" fill="#ffd800"/><rect x="1115.56" y="179.94" width="1.8" height="3.19" fill="#70d060"/><rect x="1095.96" y="182.17" width="1.82" height="4.66" fill="#b8e434"/><rect x="1114.47" y="178.01" width="1.78" height="2.96" fill="#70d060"/><rect x="1097.78" y="180.26" width="2.02" height="1.9" fill="#70d060"/><rect x="1091.02" y="180.95" width="2.79" height="4.58" fill="#b8e434"/><rect x="1097.37" y="170.08" width="2.02" height="2.59" fill="#e8a010"/><rect x="1088.84" y="185.81" width="2.22" height="2.2" fill="#f0e818"/><rect x="1107.84" y="171.46" width="1.44" height="4.63" fill="#c0e830"/><rect x="1102.51" y="170.92" width="1.29" height="2.04" fill="#f0f418"/><rect x="1111.62" y="177.93" width="2.18" height="1.64" fill="#38b898"/><rect x="1103.84" y="179.24" width="1.38" height="4.69" fill="#38b898"/><rect x="1123.04" y="172.51" width="2" height="4.27" fill="#ffd800"/><rect x="1098.62" y="170.14" width="1.53" height="3.46" fill="#f0f418"/><rect x="1085.45" y="182.4" width="2.17" height="4.29" fill="#ff9a00"/><rect x="1107.29" y="184.68" width="1.57" height="2.85" fill="#c0e830"/><rect x="1097.42" y="184" width="2.13" height="2.66" fill="#c0e830"/><rect x="1083.93" y="178.09" width="1.95" height="3.06" fill="#f8f010"/><rect x="1111.93" y="190.49" width="2.67" height="2.12" fill="#b8e434"/><rect x="1126.05" y="186.25" width="1.29" height="2.71" fill="#f0f418"/><rect x="1105.57" y="166.39" width="2.16" height="2.75" fill="#f8ec10"/><rect x="1103.25" y="174.96" width="1.91" height="3.65" fill="#50c880"/><rect x="1128.69" y="186.34" width="2.14" height="1.9" fill="#ff5a08"/><rect x="1095.65" y="167.16" width="2.14" height="2.58" fill="#ff9a00"/><rect x="1093.4" y="190.21" width="1.32" height="3.65" fill="#ffd800"/><rect x="1084.88" y="182.18" width="1.27" height="3.79" fill="#ff9a00"/><rect x="1115.02" y="178.57" width="2.74" height="2.17" fill="#50c880"/><rect x="1117.44" y="188.34" width="2.06" height="2.78" fill="#f0f418"/><rect x="1120.78" y="178.49" width="2.09" height="3.21" fill="#e8a010"/><rect x="1097.88" y="179.9" width="1.44" height="3.78" fill="#70d060"/><rect x="1107.32" y="179.43" width="1.69" height="3.04" fill="#58c878"/><rect x="1118.93" y="175.52" width="2.51" height="4.73" fill="#b8e434"/><rect x="1103.12" y="185.83" width="1.89" height="2.72" fill="#c0e830"/><rect x="1119.81" y="188.02" width="1.62" height="3.26" fill="#f0f418"/><rect x="1086.29" y="176.1" width="2.77" height="2.02" fill="#d8ec24"/><rect x="1086.79" y="176.48" width="2.53" height="4.44" fill="#d8ec24"/><rect x="1127.92" y="181.55" width="1.62" height="3.08" fill="#ffe810"/><rect x="1111.32" y="188.18" width="2.62" height="2.76" fill="#b8e434"/><rect x="1101.53" y="184.1" width="2.68" height="1.75" fill="#70d060"/><rect x="1092.18" y="181.11" width="2.15" height="2.91" fill="#d8ec24"/><rect x="1102.52" y="179.51" width="1.59" height="3.79" fill="#38b898"/><rect x="1118.17" y="186.6" width="1.43" height="3.01" fill="#e8a010"/><rect x="1122.27" y="187.15" width="1.88" height="4.28" fill="#d8ec24"/><rect x="1126.28" y="177.39" width="2.59" height="4.13" fill="#d8ec24"/><rect x="1087.83" y="173.02" width="1.33" height="4.73" fill="#f0f418"/><rect x="1110.86" y="177.48" width="2.17" height="3.24" fill="#38b898"/><rect x="1112.22" y="174.95" width="2.48" height="1.66" fill="#c0e830"/><rect x="1087.78" y="183.37" width="2.66" height="3.15" fill="#f8f010"/><rect x="1091.7" y="186.19" width="2.53" height="1.66" fill="#f0f418"/><rect x="1084.52" y="169.24" width="2.26" height="3.68" fill="#f8f010"/><rect x="1125.16" y="180.8" width="1.9" height="2.7" fill="#ffe810"/><rect x="1107.01" y="169.61" width="2.14" height="3.93" fill="#b8e434"/><rect x="1103.9" y="182.95" width="1.54" height="2.58" fill="#38b898"/><rect x="1107.02" y="178.38" width="2.32" height="3.94" fill="#20a4b4"/><rect x="1124.44" y="173.24" width="1.94" height="3.83" fill="#e03808"/><rect x="1083.15" y="171.99" width="2.15" height="3.92" fill="#ff9a00"/><rect x="1099.47" y="165.64" width="1.31" height="3.67" fill="#f8ec10"/><rect x="1107.13" y="179.09" width="1.73" height="3.34" fill="#1890b0"/><rect x="1129.39" y="179.51" width="1.38" height="3.64" fill="#ffd800"/><rect x="1103.27" y="189.67" width="2.59" height="2.71" fill="#d8ec24"/><rect x="1125.33" y="185.88" width="1.29" height="2.95" fill="#d8ec24"/><rect x="1092.4" y="168.65" width="2.7" height="1.72" fill="#e03808"/><rect x="1111.56" y="185.9" width="1.73" height="3.55" fill="#98dc48"/><rect x="1127.15" y="184.32" width="2.44" height="2.64" fill="#f8ec10"/><rect x="1107.89" y="179.19" width="1.3" height="2.91" fill="#1890b0"/><rect x="1105.87" y="183.34" width="2.5" height="3.31" fill="#c0e830"/><rect x="1116.82" y="188.38" width="1.73" height="3.29" fill="#d8ec24"/><rect x="1123.48" y="192.26" width="1.63" height="2.2" fill="#ff5a08"/><rect x="1128.65" y="176.01" width="2.05" height="3.53" fill="#ff9a00"/><rect x="1113.04" y="172.41" width="1.65" height="2.79" fill="#ffe810"/><rect x="1092.38" y="184.66" width="2.68" height="3.4" fill="#d8ec24"/><rect x="1097.54" y="171.25" width="1.71" height="2.54" fill="#b8e434"/><rect x="1106.91" y="166.19" width="1.93" height="3.01" fill="#f8ec10"/><rect x="1105.38" y="165.2" width="2.27" height="3.53" fill="#f0e818"/><rect x="1110.67" y="181.17" width="2.13" height="3.4" fill="#38b898"/><rect x="1110.07" y="174.59" width="2.3" height="3.8" fill="#70d060"/><rect x="1107.58" y="186.47" width="1.73" height="3.33" fill="#c0e830"/><rect x="1094.97" y="169.69" width="1.73" height="2.47" fill="#b8e434"/><rect x="1130.72" y="178.1" width="1.26" height="2.73" fill="#f8f010"/><rect x="1091.86" y="167.35" width="2.19" height="2.19" fill="#f8ec10"/><rect x="1117.8" y="182.75" width="2.36" height="3.94" fill="#98dc48"/><rect x="1108.64" y="172.45" width="1.57" height="3.86" fill="#98dc48"/><rect x="1113.27" y="193.26" width="1.87" height="4.3" fill="#e03808"/><rect x="1095.1" y="174.33" width="1.96" height="3.51" fill="#70d060"/><rect x="1116.04" y="181.17" width="1.24" height="2.05" fill="#c0e830"/><rect x="1117.5" y="183.93" width="1.23" height="3.75" fill="#70d060"/><rect x="1102.67" y="189.59" width="2.08" height="2.21" fill="#b8e434"/><rect x="1120.29" y="191.32" width="1.74" height="3.58" fill="#ff9a00"/><rect x="1114.91" y="178.41" width="2.46" height="3.69" fill="#50c880"/><rect x="1085.37" y="171.63" width="2" height="3.84" fill="#ff9a00"/><rect x="1106.54" y="167.41" width="1.39" height="4.29" fill="#b8e434"/><rect x="1092.38" y="168.41" width="2.75" height="3.7" fill="#f0e818"/><rect x="1119.71" y="176.03" width="2.2" height="4.27" fill="#f0f418"/><rect x="1098.62" y="164.86" width="1.89" height="3.27" fill="#f8f010"/><rect x="1127.56" y="183.99" width="2.65" height="2.61" fill="#f8ec10"/><rect x="1085.28" y="177.11" width="2.01" height="1.76" fill="#ffd800"/><rect x="1098.59" y="186.68" width="2.26" height="3.72" fill="#e8a010"/><rect x="1095.71" y="188.9" width="1.83" height="2.96" fill="#ffd800"/><rect x="1114.95" y="192.83" width="1.7" height="4.5" fill="#ff5a08"/><rect x="1102.91" y="165.68" width="2.24" height="3.76" fill="#ff9a00"/><rect x="1113.9" y="168.22" width="2.25" height="4.56" fill="#f8ec10"/><rect x="1103.57" y="178.32" width="2.28" height="4.61" fill="#1890b0"/><rect x="1096.1" y="171.5" width="2.43" height="3.86" fill="#e8a010"/><rect x="1131.15" y="187.54" width="1.55" height="2.65" fill="#f0e818"/><rect x="1100.71" y="170.64" width="2.12" height="3.06" fill="#b8e434"/><rect x="1110.99" y="171.9" width="2.65" height="1.85" fill="#ffe810"/><rect x="1110.5" y="180.77" width="2.08" height="2.16" fill="#1890b0"/><rect x="1096.58" y="189.35" width="2.78" height="4.39" fill="#ff5a08"/><rect x="1131.38" y="179.98" width="1.72" height="4.54" fill="#e03808"/><rect x="1104.17" y="190.93" width="1.99" height="3.3" fill="#ff9a00"/><rect x="1092.32" y="179.16" width="1.91" height="4.45" fill="#f0f418"/><rect x="1113.37" y="179.02" width="1.85" height="4.43" fill="#1890b0"/><rect x="1093.15" y="183.87" width="1.29" height="2.83" fill="#ffe810"/><rect x="1096.11" y="168.73" width="1.95" height="2.18" fill="#ffe810"/><rect x="1116.47" y="177.88" width="2.36" height="3.59" fill="#50c880"/><rect x="1108.05" y="179.66" width="1.42" height="3.05" fill="#1890b0"/><rect x="1110.73" y="176.41" width="1.97" height="2.32" fill="#70d060"/><rect x="1104.13" y="183.03" width="2.35" height="2.79" fill="#1890b0"/><rect x="1128.7" y="172.69" width="1.47" height="2.67" fill="#ffd800"/><rect x="1110.39" y="179.85" width="1.65" height="3.49" fill="#1890b0"/><rect x="1099.18" y="187.76" width="2.75" height="3.87" fill="#d8ec24"/><rect x="1121.53" y="189.17" width="2.36" height="3.19" fill="#f8f010"/><rect x="1126.46" y="187.77" width="1.88" height="3.73" fill="#ff5a08"/><rect x="1099.86" y="188.46" width="1.27" height="4.06" fill="#f0f418"/><rect x="1107.04" y="175.12" width="1.35" height="3.61" fill="#1890b0"/><rect x="1109.57" y="193.18" width="2.28" height="4.73" fill="#f8f010"/><rect x="1127.44" y="181.89" width="1.29" height="4.72" fill="#f0f418"/><rect x="1103.51" y="177.3" width="1.4" height="3.27" fill="#58c878"/><rect x="1086.92" y="183.77" width="1.82" height="4.28" fill="#ff5a08"/><rect x="1116.79" y="187.1" width="1.71" height="3.62" fill="#e8a010"/><rect x="1111.93" y="175.32" width="1.21" height="2.28" fill="#98dc48"/><rect x="1096.75" y="176.72" width="2.19" height="3.41" fill="#98dc48"/><rect x="1116.31" y="171.85" width="2.46" height="3.73" fill="#d8ec24"/><rect x="1129.5" y="177.64" width="1.6" height="2" fill="#ff9a00"/><rect x="1117.96" y="187.74" width="1.33" height="4.26" fill="#f0f418"/><rect x="1111.93" y="171.07" width="1.23" height="2.58" fill="#f0f418"/><rect x="1118.22" y="188.19" width="2.6" height="3.41" fill="#ffe810"/><rect x="1112.19" y="168.98" width="2.16" height="1.79" fill="#e03808"/><rect x="1093.93" y="190.02" width="2.03" height="3.5" fill="#ffd800"/><rect x="1097.1" y="170.76" width="1.44" height="3.55" fill="#d8ec24"/><rect x="1109.82" y="175.21" width="2.28" height="4.14" fill="#98dc48"/><rect x="1116.27" y="191.8" width="1.5" height="4.38" fill="#ffd800"/><rect x="1104.18" y="177.57" width="1.65" height="3.42" fill="#1890b0"/>
</g>
<path d="M1089 166 L1089 162 M1101.4 164 L1101.4 159 M1112.6 164 L1112.6 161 M1118.4 163.6 L1118.4 159.6 M1124.6 166 L1124.6 163.4 M1134.6 170 L1134.6 167" stroke="#f03818" stroke-width="1.3" fill="none" opacity="0.9"/>
<path d="M1101.4 159.4 L1101.4 158 M1118.4 160 L1118.4 158.6 M1089 162.6 L1089 161.4" stroke="#ff8080" stroke-width="1.3" fill="none"/>
<path d="M1092.9 165.2 L1094 171.2 L1097.7 176 L1101.4 182 L1103.8 184 L1103.8 203.3 L1106 196 L1108 200 L1110.2 210.3 L1111 198 L1115.3 196.7 L1120.2 201 L1121 196.7 L1123.2 197.9 L1125.6 200.3" fill="none" stroke="#f01a0a" stroke-width="1.6" stroke-linejoin="round"/>
<path d="M1096.6 174.4 L1098.6 175.6 L1102 181 L1104.6 183.6 L1104.8 190 L1106.6 194.6 L1108.6 193 L1110.2 210.3 L1108 204.4 L1106 207.4 L1104 203.4 L1102.4 204.6 L1102.4 190 L1101.6 185 L1099.4 182.6 Z" fill="#f01a0a"/>
<circle cx="1125.7" cy="200.4" r="2.4" fill="#2020e6"/>
<path d="M1226 100 L1228.5 96.5 M1114 100 L1114.5 97" stroke="#f02808" stroke-width="1.2" fill="none"/>
<line x1="1255.2" y1="93.9" x2="1328.4" y2="297.4" stroke="#b9bdca" stroke-width="1.3" />
<line x1="1255.2" y1="93.9" x2="1262.2" y2="91.5" stroke="#b9bdca" stroke-width="1.2" />
<text x="1264" y="91.5" font-size="15.2" text-anchor="start" fill="#fff" font-weight="bold" font-family="'Liberation Serif','DejaVu Serif',serif" paint-order="stroke" stroke="#1c2646" stroke-opacity="0.5" stroke-width="1.36" stroke-linejoin="round" >0</text>
<line x1="1263.4" y1="116.1" x2="1270" y2="113.8" stroke="#b9bdca" stroke-width="1.2" />
<text x="1270.8" y="113.8" font-size="15.6" text-anchor="start" fill="#fff" font-weight="bold" font-family="'Liberation Serif','DejaVu Serif',serif" paint-order="stroke" stroke="#1c2646" stroke-opacity="0.5" stroke-width="1.37" stroke-linejoin="round" >10</text>
<line x1="1272.7" y1="139.5" x2="1279.3" y2="137.1" stroke="#b9bdca" stroke-width="1.2" />
<text x="1280.2" y="140.6" font-size="16" text-anchor="start" fill="#fff" font-weight="bold" font-family="'Liberation Serif','DejaVu Serif',serif" paint-order="stroke" stroke="#1c2646" stroke-opacity="0.5" stroke-width="1.38" stroke-linejoin="round" >20</text>
<line x1="1282.8" y1="168" x2="1289.5" y2="165.6" stroke="#b9bdca" stroke-width="1.2" />
<text x="1291.4" y="167.5" font-size="16.3" text-anchor="start" fill="#fff" font-weight="bold" font-family="'Liberation Serif','DejaVu Serif',serif" paint-order="stroke" stroke="#1c2646" stroke-opacity="0.5" stroke-width="1.39" stroke-linejoin="round" >30</text>
<line x1="1293.3" y1="199.8" x2="1301.2" y2="196.7" stroke="#b9bdca" stroke-width="1.2" />
<text x="1303.1" y="197.9" font-size="16.6" text-anchor="start" fill="#fff" font-weight="bold" font-family="'Liberation Serif','DejaVu Serif',serif" paint-order="stroke" stroke="#1c2646" stroke-opacity="0.5" stroke-width="1.4" stroke-linejoin="round" >40</text>
<line x1="1306.6" y1="235.7" x2="1315.3" y2="232.9" stroke="#b9bdca" stroke-width="1.2" />
<text x="1318.3" y="235.7" font-size="16.9" text-anchor="start" fill="#fff" font-weight="bold" font-family="'Liberation Serif','DejaVu Serif',serif" paint-order="stroke" stroke="#1c2646" stroke-opacity="0.5" stroke-width="1.41" stroke-linejoin="round" >50</text>
<line x1="1322.3" y1="279.2" x2="1331.6" y2="276.2" stroke="#b9bdca" stroke-width="1.2" />
<text x="1334.6" y="276.2" font-size="17.2" text-anchor="start" fill="#fff" font-weight="bold" font-family="'Liberation Serif','DejaVu Serif',serif" paint-order="stroke" stroke="#1c2646" stroke-opacity="0.5" stroke-width="1.42" stroke-linejoin="round" >60</text>
<text x="1324.6" y="171.7" font-size="12.8" text-anchor="start" fill="#fff" font-weight="bold" font-family="'Liberation Serif','DejaVu Serif',serif" textLength="36.9" lengthAdjust="spacingAndGlyphs" paint-order="stroke" stroke="#1c2646" stroke-opacity="0.5" stroke-width="1.28" stroke-linejoin="round" >Y(μm)</text>
<line x1="927" y1="324.1" x2="1312.4" y2="330.9" stroke="#efe6e0" stroke-width="1.5" stroke-dasharray="12 12" stroke-dashoffset="-9"/>
<line x1="927" y1="324.2" x2="1312.4" y2="331" stroke="#8f8a98" stroke-width="1" />
<line x1="927.6" y1="323.71" x2="927.6" y2="331.71" stroke="#b9bdca" stroke-width="1.3" />
<text x="927.6" y="351.2" font-size="16.6" text-anchor="middle" fill="#fff" font-weight="bold" font-family="'Liberation Serif','DejaVu Serif',serif" paint-order="stroke" stroke="#1c2646" stroke-opacity="0.5" stroke-width="1.4" stroke-linejoin="round" >0</text>
<line x1="987.1" y1="324.76" x2="987.1" y2="332.76" stroke="#b9bdca" stroke-width="1.3" />
<text x="987.1" y="351.2" font-size="16.6" text-anchor="middle" fill="#fff" font-weight="bold" font-family="'Liberation Serif','DejaVu Serif',serif" paint-order="stroke" stroke="#1c2646" stroke-opacity="0.5" stroke-width="1.4" stroke-linejoin="round" >10</text>
<line x1="1046.7" y1="325.81" x2="1046.7" y2="333.81" stroke="#b9bdca" stroke-width="1.3" />
<text x="1046.7" y="351.2" font-size="16.6" text-anchor="middle" fill="#fff" font-weight="bold" font-family="'Liberation Serif','DejaVu Serif',serif" paint-order="stroke" stroke="#1c2646" stroke-opacity="0.5" stroke-width="1.4" stroke-linejoin="round" >20</text>
<line x1="1106.8" y1="326.87" x2="1106.8" y2="334.87" stroke="#b9bdca" stroke-width="1.3" />
<text x="1106.8" y="351.2" font-size="16.6" text-anchor="middle" fill="#fff" font-weight="bold" font-family="'Liberation Serif','DejaVu Serif',serif" paint-order="stroke" stroke="#1c2646" stroke-opacity="0.5" stroke-width="1.4" stroke-linejoin="round" >30</text>
<line x1="1166.4" y1="327.92" x2="1166.4" y2="335.92" stroke="#b9bdca" stroke-width="1.3" />
<text x="1166.4" y="351.2" font-size="16.6" text-anchor="middle" fill="#fff" font-weight="bold" font-family="'Liberation Serif','DejaVu Serif',serif" paint-order="stroke" stroke="#1c2646" stroke-opacity="0.5" stroke-width="1.4" stroke-linejoin="round" >40</text>
<line x1="1227.1" y1="328.99" x2="1227.1" y2="336.99" stroke="#b9bdca" stroke-width="1.3" />
<text x="1227.1" y="351.2" font-size="16.6" text-anchor="middle" fill="#fff" font-weight="bold" font-family="'Liberation Serif','DejaVu Serif',serif" paint-order="stroke" stroke="#1c2646" stroke-opacity="0.5" stroke-width="1.4" stroke-linejoin="round" >50</text>
<line x1="1287.8" y1="330.07" x2="1287.8" y2="338.07" stroke="#b9bdca" stroke-width="1.3" />
<text x="1287.8" y="351.2" font-size="16.6" text-anchor="middle" fill="#fff" font-weight="bold" font-family="'Liberation Serif','DejaVu Serif',serif" paint-order="stroke" stroke="#1c2646" stroke-opacity="0.5" stroke-width="1.4" stroke-linejoin="round" >60</text>
<text x="1086.3" y="370.3" font-size="12.8" text-anchor="start" fill="#fff" font-weight="bold" font-family="'Liberation Serif','DejaVu Serif',serif" textLength="37.2" lengthAdjust="spacingAndGlyphs" paint-order="stroke" stroke="#1c2646" stroke-opacity="0.5" stroke-width="1.28" stroke-linejoin="round" >X(μm)</text>
<text x="989.5" y="404.7" font-size="24.4" text-anchor="start" fill="#fff" font-weight="bold" font-family="'Liberation Serif','DejaVu Serif',serif" textLength="324.7" lengthAdjust="spacingAndGlyphs" paint-order="stroke" stroke="#1c2646" stroke-opacity="0.5" stroke-width="1.63" stroke-linejoin="round" >width= 12.3 μm, depth= 5.1 μm</text>
<rect x="1388.8" y="157.4" width="27.3" height="98.5" fill="#dfe3ea"/>
<rect x="1390.2" y="158.7" width="24.5" height="12.84" fill="#f23c3c"/>
<rect x="1390.2" y="172.54" width="24.5" height="12.84" fill="#ff8000"/>
<rect x="1390.2" y="186.39" width="24.5" height="12.84" fill="#e0f218"/>
<rect x="1390.2" y="200.23" width="24.5" height="12.84" fill="#3cae60"/>
<rect x="1390.2" y="214.07" width="24.5" height="12.84" fill="#00b8e2"/>
<rect x="1390.2" y="227.91" width="24.5" height="12.84" fill="#7a3af2"/>
<rect x="1390.2" y="241.76" width="24.5" height="12.84" fill="#ffccd0"/>
<text x="1421" y="169.4" font-size="10.5" text-anchor="start" fill="#fff" font-weight="bold" font-family="'Liberation Serif','DejaVu Serif',serif" textLength="32" lengthAdjust="spacingAndGlyphs" paint-order="stroke" stroke="#1c2646" stroke-opacity="0.5" stroke-width="1.22" stroke-linejoin="round" >6.0 μm</text>
<text x="1421" y="182.7" font-size="10.5" text-anchor="start" fill="#fff" font-weight="bold" font-family="'Liberation Serif','DejaVu Serif',serif" textLength="32" lengthAdjust="spacingAndGlyphs" paint-order="stroke" stroke="#1c2646" stroke-opacity="0.5" stroke-width="1.22" stroke-linejoin="round" >5.0 μm</text>
<text x="1421" y="196.7" font-size="10.5" text-anchor="start" fill="#fff" font-weight="bold" font-family="'Liberation Serif','DejaVu Serif',serif" textLength="32" lengthAdjust="spacingAndGlyphs" paint-order="stroke" stroke="#1c2646" stroke-opacity="0.5" stroke-width="1.22" stroke-linejoin="round" >4.0 μm</text>
<text x="1421" y="211.4" font-size="10.5" text-anchor="start" fill="#fff" font-weight="bold" font-family="'Liberation Serif','DejaVu Serif',serif" textLength="32" lengthAdjust="spacingAndGlyphs" paint-order="stroke" stroke="#1c2646" stroke-opacity="0.5" stroke-width="1.22" stroke-linejoin="round" >3.0 μm</text>
<text x="1421" y="225.5" font-size="10.5" text-anchor="start" fill="#fff" font-weight="bold" font-family="'Liberation Serif','DejaVu Serif',serif" textLength="32" lengthAdjust="spacingAndGlyphs" paint-order="stroke" stroke="#1c2646" stroke-opacity="0.5" stroke-width="1.22" stroke-linejoin="round" >2.0 μm</text>
<text x="1421" y="239.5" font-size="10.5" text-anchor="start" fill="#fff" font-weight="bold" font-family="'Liberation Serif','DejaVu Serif',serif" textLength="32" lengthAdjust="spacingAndGlyphs" paint-order="stroke" stroke="#1c2646" stroke-opacity="0.5" stroke-width="1.22" stroke-linejoin="round" >1.0 μm</text>
<text x="1421" y="253.5" font-size="10.5" text-anchor="start" fill="#fff" font-weight="bold" font-family="'Liberation Serif','DejaVu Serif',serif" textLength="32" lengthAdjust="spacingAndGlyphs" paint-order="stroke" stroke="#1c2646" stroke-opacity="0.5" stroke-width="1.22" stroke-linejoin="round" >0.0 μm</text>
<line x1="771.6" y1="442" x2="1497" y2="442" stroke="#545c72" stroke-width="1" />
<line x1="1497" y1="442" x2="1497" y2="546.4" stroke="#545c72" stroke-width="1" />
<line x1="771.6" y1="513.6" x2="1497" y2="513.6" stroke="#545c72" stroke-width="1" />
<line x1="771.6" y1="481" x2="1497" y2="481" stroke="#545c72" stroke-width="1" />
<line x1="771.6" y1="448" x2="1497" y2="448" stroke="#545c72" stroke-width="1" />
<line x1="869.4" y1="442" x2="869.4" y2="546.4" stroke="#545c72" stroke-width="1" />
<line x1="967.4" y1="442" x2="967.4" y2="546.4" stroke="#545c72" stroke-width="1" />
<line x1="1065.4" y1="442" x2="1065.4" y2="546.4" stroke="#545c72" stroke-width="1" />
<line x1="1163.6" y1="442" x2="1163.6" y2="546.4" stroke="#545c72" stroke-width="1" />
<line x1="1261.6" y1="442" x2="1261.6" y2="546.4" stroke="#545c72" stroke-width="1" />
<line x1="1359.6" y1="442" x2="1359.6" y2="546.4" stroke="#545c72" stroke-width="1" />
<line x1="1458" y1="442" x2="1458" y2="546.4" stroke="#545c72" stroke-width="1" />
<line x1="771.6" y1="442" x2="771.6" y2="547.2" stroke="#9da3b4" stroke-width="1.7" />
<line x1="768.6" y1="546.4" x2="1497" y2="546.4" stroke="#9da3b4" stroke-width="1.9" />
<line x1="768.1" y1="546.4" x2="771.6" y2="546.4" stroke="#9da3b4" stroke-width="1.3" />
<text x="765" y="549.8" font-size="16.8" text-anchor="end" fill="#fff" font-weight="bold" font-family="'Liberation Serif','DejaVu Serif',serif" paint-order="stroke" stroke="#1c2646" stroke-opacity="0.5" stroke-width="1.4" stroke-linejoin="round" >0</text>
<line x1="768.1" y1="513.6" x2="771.6" y2="513.6" stroke="#9da3b4" stroke-width="1.3" />
<text x="765" y="518.2" font-size="16.8" text-anchor="end" fill="#fff" font-weight="bold" font-family="'Liberation Serif','DejaVu Serif',serif" paint-order="stroke" stroke="#1c2646" stroke-opacity="0.5" stroke-width="1.4" stroke-linejoin="round" >2</text>
<line x1="768.1" y1="481" x2="771.6" y2="481" stroke="#9da3b4" stroke-width="1.3" />
<text x="765" y="486.7" font-size="16.8" text-anchor="end" fill="#fff" font-weight="bold" font-family="'Liberation Serif','DejaVu Serif',serif" paint-order="stroke" stroke="#1c2646" stroke-opacity="0.5" stroke-width="1.4" stroke-linejoin="round" >4</text>
<line x1="768.1" y1="448" x2="771.6" y2="448" stroke="#9da3b4" stroke-width="1.3" />
<text x="765" y="454.9" font-size="16.8" text-anchor="end" fill="#fff" font-weight="bold" font-family="'Liberation Serif','DejaVu Serif',serif" paint-order="stroke" stroke="#1c2646" stroke-opacity="0.5" stroke-width="1.4" stroke-linejoin="round" >6</text>
<line x1="771.6" y1="546.4" x2="771.6" y2="550.4" stroke="#9da3b4" stroke-width="1.4" />
<text x="771.6" y="564.6" font-size="16.4" text-anchor="middle" fill="#fff" font-weight="bold" font-family="'Liberation Serif','DejaVu Serif',serif" paint-order="stroke" stroke="#1c2646" stroke-opacity="0.5" stroke-width="1.39" stroke-linejoin="round" >0</text>
<line x1="869.4" y1="546.4" x2="869.4" y2="550.4" stroke="#9da3b4" stroke-width="1.4" />
<text x="869.4" y="564.6" font-size="16.4" text-anchor="middle" fill="#fff" font-weight="bold" font-family="'Liberation Serif','DejaVu Serif',serif" paint-order="stroke" stroke="#1c2646" stroke-opacity="0.5" stroke-width="1.39" stroke-linejoin="round" >10</text>
<line x1="967.4" y1="546.4" x2="967.4" y2="550.4" stroke="#9da3b4" stroke-width="1.4" />
<text x="967.4" y="564.6" font-size="16.4" text-anchor="middle" fill="#fff" font-weight="bold" font-family="'Liberation Serif','DejaVu Serif',serif" paint-order="stroke" stroke="#1c2646" stroke-opacity="0.5" stroke-width="1.39" stroke-linejoin="round" >20</text>
<line x1="1065.4" y1="546.4" x2="1065.4" y2="550.4" stroke="#9da3b4" stroke-width="1.4" />
<text x="1065.4" y="564.6" font-size="16.4" text-anchor="middle" fill="#fff" font-weight="bold" font-family="'Liberation Serif','DejaVu Serif',serif" paint-order="stroke" stroke="#1c2646" stroke-opacity="0.5" stroke-width="1.39" stroke-linejoin="round" >30</text>
<line x1="1163.6" y1="546.4" x2="1163.6" y2="550.4" stroke="#9da3b4" stroke-width="1.4" />
<text x="1163.6" y="564.6" font-size="16.4" text-anchor="middle" fill="#fff" font-weight="bold" font-family="'Liberation Serif','DejaVu Serif',serif" paint-order="stroke" stroke="#1c2646" stroke-opacity="0.5" stroke-width="1.39" stroke-linejoin="round" >40</text>
<line x1="1261.6" y1="546.4" x2="1261.6" y2="550.4" stroke="#9da3b4" stroke-width="1.4" />
<text x="1261.6" y="564.6" font-size="16.4" text-anchor="middle" fill="#fff" font-weight="bold" font-family="'Liberation Serif','DejaVu Serif',serif" paint-order="stroke" stroke="#1c2646" stroke-opacity="0.5" stroke-width="1.39" stroke-linejoin="round" >50</text>
<line x1="1359.6" y1="546.4" x2="1359.6" y2="550.4" stroke="#9da3b4" stroke-width="1.4" />
<text x="1359.6" y="564.6" font-size="16.4" text-anchor="middle" fill="#fff" font-weight="bold" font-family="'Liberation Serif','DejaVu Serif',serif" paint-order="stroke" stroke="#1c2646" stroke-opacity="0.5" stroke-width="1.39" stroke-linejoin="round" >60</text>
<line x1="1458" y1="546.4" x2="1458" y2="550.4" stroke="#9da3b4" stroke-width="1.4" />
<text x="1458" y="564.6" font-size="16.4" text-anchor="middle" fill="#fff" font-weight="bold" font-family="'Liberation Serif','DejaVu Serif',serif" paint-order="stroke" stroke="#1c2646" stroke-opacity="0.5" stroke-width="1.39" stroke-linejoin="round" >70</text>
<text x="751" y="429" font-size="12.8" text-anchor="start" fill="#fff" font-weight="bold" font-family="'Liberation Serif','DejaVu Serif',serif" textLength="36.6" lengthAdjust="spacingAndGlyphs" paint-order="stroke" stroke="#1c2646" stroke-opacity="0.5" stroke-width="1.28" stroke-linejoin="round" >Z(μm)</text>
<text x="1090" y="574" font-size="11.3" text-anchor="start" fill="#fff" font-weight="bold" font-family="'Liberation Serif','DejaVu Serif',serif" textLength="65" lengthAdjust="spacingAndGlyphs" paint-order="stroke" stroke="#1c2646" stroke-opacity="0.5" stroke-width="1.24" stroke-linejoin="round" >Distance(μm)</text>
<polyline points="771.6,464.6 790,464.6 791,464.2 836,464.2 837,463.8 892,463.8 893,463.4 964,463.4 965,462.9 1083,462.9 1083.33,462.67 1084.67,478 1088.67,478.67 1090,483.33 1091.33,480.67 1093.33,484 1096.67,484 1098.67,503.33 1099.33,472.67 1100.67,504 1101.6,468.67 1102.67,504 1103.73,474 1104.67,466 1106,524.67 1106.67,470 1108,490 1109.33,474 1110.67,498 1112.67,490 1113.07,503.33 1114.67,490 1115.33,502.67 1117.33,488.67 1120,484 1124.67,484 1126,510 1126.67,545.73 1131.33,545.73 1132,499.33 1134.67,499.33 1136,545.73 1137.33,545.73 1138.67,531.33 1140,545.73 1142,499.33 1143.33,545.73 1148.67,545.73 1149.33,499.33 1151.33,499.33 1152.67,545.73 1155.33,545.73 1156.67,500 1160.67,500.67 1162.67,504 1164.67,499.33 1166.67,488.67 1168.67,487.33 1169.07,504 1171.33,484 1173.33,484 1174.67,504 1175.33,486 1176,504 1177.33,484.67 1178.67,495.33 1179.33,484 1186,483.33 1186.4,464.67 1187.33,483.33 1192.67,483.33 1194.67,479.33 1195.33,468.67 1196,476.67 1196.67,466 1198,463.33 1202,462.67 1298,462.7 1299,463.4 1369,463.4 1370,464 1382.2,464 1383.6,480 1385,464 1421,464 1422,464.6 1468,464.6 1469,465.2 1486,465.2 1487.4,449 1488.8,465.2 1497,465.2" fill="none" stroke="#bcc1cc" stroke-width="1.1" stroke-linejoin="round"/>
<rect x="1080.4" y="462.7" width="121.6" height="83" fill="none" stroke="#c2222e" stroke-width="1.1"/>
<line x1="1128.4" y1="442" x2="1128.4" y2="546.4" stroke="#c0283a" stroke-width="1" />
<line x1="1213" y1="442" x2="1213" y2="546.4" stroke="#2c2cb0" stroke-width="1.1" />
<text x="1058" y="465.3" font-size="7" text-anchor="start" fill="#e01828" font-weight="normal" font-family="'Liberation Sans','DejaVu Sans',sans-serif" textLength="149.3" lengthAdjust="spacingAndGlyphs" >A = 63.28 µm x µm ; w = 12.36 µm ; h = 5.12 µm</text>
<text x="25.4" y="634.6" font-size="50.4" text-anchor="start" fill="#fff" font-weight="bold" font-family="'Liberation Serif','DejaVu Serif',serif" textLength="69" lengthAdjust="spacingAndGlyphs" paint-order="stroke" stroke="#1c2646" stroke-opacity="0.5" stroke-width="2.2" stroke-linejoin="round" >(C)</text>
<polygon points="218.7,654.9 503.8,657 556.4,912 160.1,907.5" fill="#3a4678" />
<polygon points="219.5,655.5 503,657.6 555.5,912 161,907.5" fill="url(#gC)" />
<rect x="150" y="650" width="420" height="270" fill="url(#gC2)" clip-path="url(#cC)" opacity="0.8"/>
<g fill="none" stroke-linecap="round" opacity="0.96" clip-path="url(#cC)"><path d="M172.8 864l-0.9 -5M176.2 861.4l-0.5 -2.7" stroke="#f8ff08" stroke-width="1.75"/><path d="M174.2 862.8l-0.5 -2.6M176 860.8l-0.6 -3.3M195.2 844.1l-0.7 -3.9" stroke="#f2f812" stroke-width="1.5"/><path d="M178.1 859.1l-0.7 -3.7M183.7 854.1l-0.5 -2.7M199.4 840.1l-0.5 -2.6" stroke="#ffe800" stroke-width="1.25"/><path d="M178.4 858.8l-0.6 -3.2M179.9 857.4l-0.8 -4.6M194.4 845l-0.4 -2.3M200 839.4l-0.5 -3" stroke="#fff000" stroke-width="1.5"/><path d="M181.7 855.8l-0.7 -3.9M187.6 850.4l-0.7 -3.7" stroke="#f8ff08" stroke-width="1.25"/><path d="M182.8 855.2l-0.5 -2.6M192 846.8l-0.6 -3.1M193 846.1l-0.6 -3.5M201.4 838.9l-0.3 -1.9" stroke="#f8ff08" stroke-width="1.5"/><path d="M185.3 852.4l-0.8 -4.6M186.8 851.9l-0.5 -2.7M197.8 841.2l-0.6 -3.1" stroke="#fff000" stroke-width="1"/><path d="M188.5 849.9l-0.4 -2.4" stroke="#ffe800" stroke-width="1"/><path d="M189.8 848.9l-0.4 -2" stroke="#ffe800" stroke-width="1.5"/><path d="M197 842.5l-0.3 -1.8M202.1 837l-0.3 -1.7" stroke="#fff000" stroke-width="1.25"/><path d="M203.7 836.5l-0.3 -1.6M204.6 835.4l-0.3 -1.5" stroke="#f2f812" stroke-width="1.25"/></g>
<g fill="none" stroke-linecap="round" opacity="0.96" clip-path="url(#cC)"><path d="M205.6 834.7l-0.4 -2.3" stroke="#fff000" stroke-width="1.25"/><path d="M206.5 833.4l-0.4 -2.2M210.1 830.1l-0.3 -1.5M214 826.4l-0.5 -2.5M216 824.7l-0.4 -2.2" stroke="#fff000" stroke-width="1"/><path d="M207 833.2l-0.3 -1.4M224.1 817.4l-0.3 -1.4M225.3 816l-0.3 -1.5" stroke="#f2f812" stroke-width="1.25"/><path d="M208.3 831.5l-0.5 -2.5" stroke="#ffe000" stroke-width="1.25"/><path d="M211.5 828.9l-0.5 -2.7M220.9 820.3l-0.2 -1.1" stroke="#f2f812" stroke-width="1"/><path d="M212.6 828.1l-0.5 -2.8M217.8 823.4l-0.4 -2.4M230.5 811.2l-0.2 -1.1" stroke="#ffe000" stroke-width="1"/><path d="M215.2 825.7l-0.4 -2.4M226.7 814.7l-0.3 -1.7" stroke="#ffe000" stroke-width="0.75"/><path d="M218.9 821.7l-0.3 -1.8M232.3 809.5l-0.2 -0.9M236.3 805.8l-0.3 -1.5" stroke="#fff000" stroke-width="0.75"/><path d="M220.2 820.5l-0.4 -2.3" stroke="#f8ff08" stroke-width="1.25"/><path d="M222.3 818.7l-0.4 -2M228.1 814l-0.3 -1.8M228.8 812.7l-0.3 -1.7M235.3 807.1l-0.1 -0.8" stroke="#f8ff08" stroke-width="1"/><path d="M231.6 809.7l-0.3 -1.5" stroke="#f2f812" stroke-width="0.75"/><path d="M233.8 808.3l-0.2 -1" stroke="#f8ff08" stroke-width="0.75"/></g>
<polyline points="173,863.4 236.6,805.6" fill="none" stroke="#f6f410" stroke-width="1.3" opacity="0.85" clip-path="url(#cC)"/>
<polyline points="163.4,895.6 194.6,866.8" fill="none" stroke="#f4e414" stroke-width="1" opacity="0.7" clip-path="url(#cC)"/>
<polyline points="194.6,866.8 240,826" fill="none" stroke="#ffc000" stroke-width="0.8" opacity="0.4" clip-path="url(#cC)"/>
<g fill="none" stroke-linecap="round" opacity="0.6" clip-path="url(#cC)"><path d="M356.1 905.7l1 -1.1" stroke="#b8a020" stroke-width="1.25"/><path d="M370.2 889.1l1.4 -1.6" stroke="#d8c018" stroke-width="0.75"/><path d="M378.8 880.6l1.4 -1.5M367.7 891.7l1.4 -1.6M401.6 854.3l1.4 -1.6" stroke="#d06010" stroke-width="1.25"/><path d="M374.2 884.7l1.2 -1.4M386.4 871.9l1.2 -1.3M379.8 878.1l1.8 -2" stroke="#b8a020" stroke-width="1"/><path d="M388.2 869.3l1.9 -2M387.2 870.6l1.2 -1.3" stroke="#c8b020" stroke-width="1"/><path d="M360.9 898.9l0.7 -0.8M371 888.9l0.9 -1M355 906.9l1.5 -1.7M380.6 877.6l1.2 -1.3" stroke="#707a20" stroke-width="1"/><path d="M391.3 865.5l1.1 -1.2M392.4 865.3l1.1 -1.2" stroke="#d8c018" stroke-width="1.25"/><path d="M355.4 906.6l1.8 -2" stroke="#8a8a20" stroke-width="0.75"/><path d="M377.5 881.7l2 -2.1M384.9 872.8l1.4 -1.6M397.7 859.6l2 -2.1" stroke="#8a8a20" stroke-width="1"/><path d="M399.4 857.3l2 -2.1" stroke="#8a8a20" stroke-width="1.25"/><path d="M357.9 903.4l1.5 -1.7M376.9 881.5l0.9 -1M385.5 872l1.6 -1.7" stroke="#d8c018" stroke-width="1"/><path d="M353.9 906.9l1.2 -1.4" stroke="#c8b020" stroke-width="1.25"/><path d="M383.7 875.2l0.9 -1M393.7 864.6l1.7 -1.9" stroke="#c8b020" stroke-width="0.75"/><path d="M391.3 865.7l0.7 -0.7" stroke="#707a20" stroke-width="0.75"/><path d="M386.3 871.6l1 -1.1" stroke="#707a20" stroke-width="1.25"/><path d="M394.7 863.5l1.4 -1.5" stroke="#d06010" stroke-width="1"/></g>
<g fill="none" stroke-linecap="round" opacity="0.6" clip-path="url(#cC)"><path d="M527.8 887.1l1.7 -2.2M526.2 889.7l0.8 -1.1" stroke="#d8c018" stroke-width="1"/><path d="M542.3 866.9l1 -1.4M528.2 888l1.7 -2.3M521.7 895.7l1.1 -1.5" stroke="#c8b020" stroke-width="1"/><path d="M540.2 871.1l1.5 -2M536.7 874.6l1 -1.4M537.3 875.9l1.7 -2.3" stroke="#b8a020" stroke-width="0.75"/><path d="M522 895.6l1 -1.4" stroke="#d8c018" stroke-width="0.75"/><path d="M533 879.5l0.7 -0.9M543.5 865.3l1.5 -2M545.2 863.6l1.1 -1.5" stroke="#8a8a20" stroke-width="1.25"/><path d="M526.3 890.4l0.9 -1.2M541.8 867.9l1.4 -1.8M515.5 903.4l1 -1.4M521 897.4l1.3 -1.7" stroke="#d06010" stroke-width="1"/><path d="M545.2 863l1.4 -1.9" stroke="#c8b020" stroke-width="0.75"/><path d="M521.8 895.5l0.9 -1.2M527.3 887.3l1.4 -1.9" stroke="#b8a020" stroke-width="1"/><path d="M514.7 904.7l1.1 -1.5" stroke="#d06010" stroke-width="0.75"/><path d="M520 897.6l1.3 -1.8" stroke="#d06010" stroke-width="1.25"/></g>
<g fill="none" stroke-linecap="round" opacity="0.75" clip-path="url(#cC)"><path d="M289.6 872.2l0.8 -0.8M269.5 892.2l1.5 -1.5M297.5 865.8l1.2 -1.2" stroke="#8a7a08" stroke-width="0.75"/><path d="M271.9 889.6l2 -2M297.8 863.7l0.7 -0.7M296.8 864.9l1.3 -1.3M274.4 887.9l2 -1.9" stroke="#ffd000" stroke-width="1.25"/><path d="M288.7 872.9l1.3 -1.3" stroke="#e8e010" stroke-width="0.75"/><path d="M269.9 891.4l2 -2M260.9 900.1l1.1 -1.1M296 866.7l1.7 -1.6M262 898.8l1.2 -1.2M260.5 901.1l1.1 -1.1" stroke="#e8e010" stroke-width="1"/><path d="M300.4 862l1.2 -1.2M295.6 867.6l1.2 -1.2" stroke="#ffe800" stroke-width="1.25"/><path d="M286.2 875.1l2.1 -2.1" stroke="#ffd000" stroke-width="1"/><path d="M272.8 889.6l0.9 -0.8M259.1 903.2l1.3 -1.3M269.4 892.7l1.5 -1.5" stroke="#8a7a08" stroke-width="1"/><path d="M286.8 875l1.6 -1.5M264.4 897.1l1.6 -1.6M270.7 890.5l1.8 -1.8M258.8 903.1l2 -1.9" stroke="#f8f808" stroke-width="1.25"/><path d="M279 882.9l2.1 -2" stroke="#b09a08" stroke-width="1.25"/><path d="M275 886l1.2 -1.2M257.5 904.2l1.5 -1.4" stroke="#f8f808" stroke-width="1"/><path d="M280.2 881.6l0.9 -0.9" stroke="#ffd000" stroke-width="0.75"/><path d="M277.5 884.3l1.9 -1.8" stroke="#e8e010" stroke-width="1.25"/><path d="M288.1 873.3l1.9 -1.9M300.4 861.9l0.8 -0.8" stroke="#8a7a08" stroke-width="1.25"/><path d="M271.7 890.8l0.7 -0.7M279.1 883.1l2 -1.9M266.1 895.2l0.8 -0.8M265.8 896.7l2.1 -2" stroke="#ffe800" stroke-width="0.75"/><path d="M287.2 874.3l2.1 -2" stroke="#b09a08" stroke-width="1"/></g>
<g fill="none" stroke-linecap="round" opacity="0.6" clip-path="url(#cC)"><path d="M531.7 884.2l1.2 -1.7M532.9 883.3l0.8 -1.1" stroke="#707a20" stroke-width="1.25"/><path d="M528.9 889.8l1.7 -2.2" stroke="#d8c018" stroke-width="1.25"/><path d="M522.8 896.5l1.5 -2M532.8 884.2l1.4 -1.9" stroke="#d8c018" stroke-width="1"/><path d="M518.8 903.1l1.4 -1.9" stroke="#8a8a20" stroke-width="1.25"/><path d="M524.1 895.9l1.7 -2.3" stroke="#c8b020" stroke-width="1"/><path d="M520.1 900.2l0.8 -1.1" stroke="#c8b020" stroke-width="1.25"/><path d="M533.9 883.1l1.6 -2.1" stroke="#707a20" stroke-width="1"/><path d="M517.9 903.5l1 -1.3M526.9 890.9l0.9 -1.3" stroke="#8a8a20" stroke-width="0.75"/><path d="M524.3 895.5l0.8 -1" stroke="#c8b020" stroke-width="0.75"/></g>
<g fill="none" stroke-linecap="round" opacity="0.6" clip-path="url(#cC)"><path d="M529.6 903.9l1.3 -1.8" stroke="#8a8a20" stroke-width="0.75"/><path d="M530.4 904l1.2 -1.7M531.4 901l1.2 -1.7" stroke="#d8c018" stroke-width="0.75"/><path d="M539.8 889.6l1.6 -2.2M536 895.6l1 -1.4" stroke="#c8b020" stroke-width="1.25"/><path d="M535.3 897l0.6 -0.9" stroke="#8a8a20" stroke-width="1"/><path d="M528.2 905.9l1.3 -1.8" stroke="#c8b020" stroke-width="1"/><path d="M527.5 906.1l1.4 -2" stroke="#707a20" stroke-width="1"/><path d="M526.9 908.7l0.9 -1.2" stroke="#b8a020" stroke-width="0.75"/><path d="M539.1 891l1 -1.4" stroke="#d06010" stroke-width="0.75"/></g>
<g fill="none" stroke-linecap="round" opacity="0.75" clip-path="url(#cC)"><path d="M227.6 886.8l2 -1.8" stroke="#ffd000" stroke-width="1"/><path d="M226.3 886.5l1.6 -1.5M228.8 884.8l1.6 -1.5M212.4 899.6l1.7 -1.5M230.5 882.9l2.1 -1.9M252.4 863.5l1.3 -1.1M258.4 857.6l1 -0.9M234.3 880.9l1.8 -1.6M221.5 891.3l0.8 -0.7" stroke="#8a7a08" stroke-width="1"/><path d="M207 904.6l0.9 -0.9M241.9 872.4l1 -0.9M213 898.8l1.7 -1.6" stroke="#e8e010" stroke-width="0.75"/><path d="M253.2 863.4l1.9 -1.7M223.8 890.6l2.1 -1.9M238.3 876.7l1.7 -1.5" stroke="#f8f808" stroke-width="1"/><path d="M209.3 903l1.8 -1.7M246.4 869.7l1.7 -1.6M253.5 862.4l1.8 -1.7M215.3 897.4l1.3 -1.2" stroke="#ffe800" stroke-width="1.25"/><path d="M234.3 879.8l0.9 -0.8" stroke="#ffe800" stroke-width="1"/><path d="M253.1 863.4l1.4 -1.2M254.9 861.1l1.5 -1.4M226.9 887.3l1.9 -1.7M250.3 865.8l1.6 -1.5M248.7 867.9l2 -1.8" stroke="#ffd000" stroke-width="1.25"/><path d="M245.1 871.1l2.1 -1.9" stroke="#f8f808" stroke-width="1.25"/><path d="M245.9 870.6l1.4 -1.3M237.7 876.6l1.3 -1.2" stroke="#b09a08" stroke-width="0.75"/><path d="M254.7 861.1l1.2 -1.1M227.3 885.9l1.2 -1.1M232.7 881l1.4 -1.2" stroke="#e8e010" stroke-width="1"/><path d="M254.5 861.7l1.9 -1.7" stroke="#8a7a08" stroke-width="1.25"/><path d="M212.9 899.9l1.6 -1.5M207.8 904.3l1.3 -1.2M247.8 868.8l1.2 -1.1" stroke="#b09a08" stroke-width="1"/><path d="M239.9 875l1.1 -1M253.3 863.5l1.3 -1.2" stroke="#f8f808" stroke-width="0.75"/><path d="M246.8 868.6l0.8 -0.7" stroke="#b09a08" stroke-width="1.25"/><path d="M208.4 904l1.5 -1.4M228.3 884.8l1 -0.9" stroke="#ffe800" stroke-width="0.75"/><path d="M246.8 868.2l1.5 -1.3" stroke="#e8e010" stroke-width="1.25"/></g>
<g fill="none" stroke-linecap="round" opacity="0.6" clip-path="url(#cC)"><path d="M330.3 885.6l1.1 -1.2M320.4 894.5l1.8 -1.8" stroke="#c8b020" stroke-width="0.75"/><path d="M326.5 889.2l1 -1M322.8 893.3l1.3 -1.3M327.3 886.9l1.5 -1.6" stroke="#b8a020" stroke-width="1"/><path d="M335 878.8l1.4 -1.4M334.7 879.6l1.2 -1.3M329.3 885l1.1 -1.1" stroke="#8a8a20" stroke-width="1"/><path d="M337.3 876.7l1.8 -1.9" stroke="#b8a020" stroke-width="1.25"/><path d="M326.5 888.1l1.7 -1.8M334.8 880.8l0.9 -1" stroke="#d06010" stroke-width="1"/><path d="M327.1 887.8l1.7 -1.7" stroke="#c8b020" stroke-width="1.25"/><path d="M326.1 888.5l0.8 -0.8M333.9 880.7l0.8 -0.8" stroke="#b8a020" stroke-width="0.75"/><path d="M317.2 897.5l1 -1" stroke="#d06010" stroke-width="0.75"/><path d="M330.4 884.8l0.9 -0.9" stroke="#8a8a20" stroke-width="0.75"/><path d="M337.4 876.6l1.1 -1.2" stroke="#8a8a20" stroke-width="1.25"/></g>
<g fill="none" stroke-linecap="round" opacity="0.6" clip-path="url(#cC)"><path d="M383.2 903.4l1.9 -2.2M404.1 878.5l0.9 -1" stroke="#8a8a20" stroke-width="0.75"/><path d="M380.1 905.5l1.1 -1.2" stroke="#c8b020" stroke-width="0.75"/><path d="M408.3 874l1.2 -1.4M392.8 891l1.3 -1.5M395.1 888.2l0.8 -1" stroke="#d06010" stroke-width="0.75"/><path d="M392.3 892.1l1 -1.1M393.4 891.8l1.9 -2.1M392.1 891.6l1.5 -1.7" stroke="#8a8a20" stroke-width="1"/><path d="M385.2 900.4l0.7 -0.8M408.1 874.9l1.6 -1.8" stroke="#d8c018" stroke-width="0.75"/><path d="M388.4 897.6l1.6 -1.8" stroke="#d8c018" stroke-width="1"/><path d="M384.9 901.4l1.9 -2.2" stroke="#b8a020" stroke-width="1.25"/><path d="M386.2 898.3l0.8 -1M385.7 900.2l1.5 -1.7" stroke="#b8a020" stroke-width="0.75"/><path d="M381.3 904.3l1.8 -2.1" stroke="#707a20" stroke-width="1.25"/><path d="M408.4 873l1.6 -1.8" stroke="#707a20" stroke-width="0.75"/></g>
<g fill="none" stroke-linecap="round" opacity="0.75" clip-path="url(#cC)"><path d="M243.2 904l0.9 -0.8" stroke="#8a7a08" stroke-width="0.75"/><path d="M249.9 899.2l1.9 -1.8M242.3 905.8l1 -0.9M253.9 894.2l1.6 -1.6" stroke="#ffe800" stroke-width="0.75"/><path d="M245 902.2l1.6 -1.5" stroke="#8a7a08" stroke-width="1"/><path d="M252 896.5l1.8 -1.7" stroke="#ffe800" stroke-width="1"/><path d="M249.6 898.5l1.4 -1.4" stroke="#e8e010" stroke-width="1"/><path d="M247.6 900.4l1.8 -1.7" stroke="#ffd000" stroke-width="1.25"/><path d="M259.7 889.1l0.8 -0.7" stroke="#f8f808" stroke-width="1.25"/><path d="M257 891.2l1.1 -1M255.8 892l1.4 -1.3M248.1 900.7l2 -1.9" stroke="#ffd000" stroke-width="1"/><path d="M242.9 904.1l1.6 -1.5" stroke="#ffd000" stroke-width="0.75"/><path d="M244.8 903.3l1.7 -1.6" stroke="#e8e010" stroke-width="1.25"/></g>
<g fill="none" stroke-linecap="round" opacity="0.6" clip-path="url(#cC)"><path d="M402.3 888.4l1.5 -1.7M404.2 885.4l1 -1.2M386.8 906.2l1.9 -2.2" stroke="#c8b020" stroke-width="1.25"/><path d="M411.7 877.2l1.6 -1.8M407.4 881.1l1.1 -1.2" stroke="#8a8a20" stroke-width="1.25"/><path d="M400.6 890.8l0.8 -0.9M414.2 873.5l1.1 -1.3" stroke="#d06010" stroke-width="1.25"/><path d="M397.7 892.9l1.9 -2.2M408.9 880.2l0.8 -0.9M401.2 888.2l0.9 -1" stroke="#d06010" stroke-width="0.75"/><path d="M387.3 905.1l1.9 -2.2" stroke="#8a8a20" stroke-width="1"/><path d="M400 890.2l1.7 -1.9M408 881.8l1.9 -2.1M409.3 881l0.8 -0.9" stroke="#707a20" stroke-width="1"/><path d="M396.6 893.5l1.1 -1.3" stroke="#c8b020" stroke-width="0.75"/><path d="M392.9 897.7l1 -1.2" stroke="#d8c018" stroke-width="1"/><path d="M397.6 892.3l1.7 -2M412.6 875.9l0.8 -1" stroke="#c8b020" stroke-width="1"/><path d="M403.8 885.5l0.8 -1" stroke="#b8a020" stroke-width="1"/><path d="M402 887.5l1.8 -2" stroke="#b8a020" stroke-width="1.25"/></g>
<g fill="none" stroke-linecap="round" opacity="0.75" clip-path="url(#cC)"><path d="M218.2 870.6l1 -0.9M218.6 868.8l2.1 -1.9M241.2 850.3l1.6 -1.4M225 864.4l1.1 -0.9M226.7 863.2l1.9 -1.6" stroke="#8a7a08" stroke-width="0.75"/><path d="M208.3 879.1l0.8 -0.7M191.5 894.4l1 -0.9" stroke="#ffd000" stroke-width="1"/><path d="M185.7 899l1.4 -1.2M198.6 887.8l1.6 -1.4M202 883.6l0.8 -0.7" stroke="#b09a08" stroke-width="0.75"/><path d="M215.9 872.2l0.9 -0.8M186.9 897.9l0.9 -0.8" stroke="#ffe800" stroke-width="1.25"/><path d="M218.9 869.2l1.1 -1" stroke="#b09a08" stroke-width="1"/><path d="M211.6 875.2l1.3 -1.1" stroke="#f8f808" stroke-width="1"/><path d="M222 866.5l1.6 -1.4M217.9 870.3l0.8 -0.7M202.5 883.3l2.1 -1.8M220.1 868.5l1.3 -1.1" stroke="#ffe800" stroke-width="1"/><path d="M196.3 888.8l2.1 -1.9M200.4 886.3l1.8 -1.6" stroke="#ffd000" stroke-width="1.25"/><path d="M210.7 875.7l1.9 -1.7M225.2 863.4l1 -0.9M199.8 886.1l1.7 -1.5M192.9 892.9l1.7 -1.5" stroke="#e8e010" stroke-width="1.25"/><path d="M207.2 879.1l1.8 -1.6M203.3 883.4l1.2 -1.1M243.1 847.6l1 -0.9" stroke="#e8e010" stroke-width="1"/><path d="M213.1 874.9l1.9 -1.6M206.9 879.5l1.8 -1.6" stroke="#ffd000" stroke-width="0.75"/><path d="M222.7 866.8l0.8 -0.7M236.2 854.6l1.5 -1.3M228.8 859.6l1.1 -1M239.4 850.6l1.9 -1.7M244.6 845.8l1.9 -1.7" stroke="#8a7a08" stroke-width="1"/><path d="M226.6 861.9l0.8 -0.7M205.3 880.8l1.6 -1.4M201.4 885.1l1.6 -1.4" stroke="#ffe800" stroke-width="0.75"/><path d="M236.9 854.2l1.5 -1.3M199.8 886.7l1 -0.9" stroke="#8a7a08" stroke-width="1.25"/><path d="M213 874.4l1 -0.9" stroke="#e8e010" stroke-width="0.75"/><path d="M221.9 866.3l2 -1.8M190 895.7l1.7 -1.5" stroke="#f8f808" stroke-width="1.25"/><path d="M187 897.4l1.2 -1.1M244.6 846.1l2 -1.8" stroke="#b09a08" stroke-width="1.25"/><path d="M230.4 859.5l1.9 -1.7" stroke="#f8f808" stroke-width="0.75"/></g>
<g fill="none" stroke-linecap="round" opacity="0.75" clip-path="url(#cC)"><path d="M299.4 886.7l1.5 -1.5" stroke="#ffe800" stroke-width="1.25"/><path d="M290.3 897.3l1.3 -1.3" stroke="#f8f808" stroke-width="0.75"/><path d="M294.3 892.3l1.4 -1.5M294.2 891.9l1.7 -1.7" stroke="#b09a08" stroke-width="1"/><path d="M308.5 877.6l1.7 -1.7M314.6 872.5l1.9 -1.9M315.3 871.8l2.1 -2.1" stroke="#b09a08" stroke-width="0.75"/><path d="M310.4 875.7l0.7 -0.7M316.7 870l0.8 -0.9" stroke="#ffd000" stroke-width="0.75"/><path d="M309.3 877.7l0.8 -0.8" stroke="#e8e010" stroke-width="0.75"/><path d="M298.4 888l1.8 -1.8" stroke="#f8f808" stroke-width="1.25"/><path d="M313.5 872.5l2 -2M315 872l1.1 -1.1" stroke="#e8e010" stroke-width="1.25"/><path d="M292.1 894.2l1.8 -1.8M303.3 884.4l1.3 -1.3" stroke="#ffd000" stroke-width="1"/><path d="M287.8 898.3l1.5 -1.5" stroke="#8a7a08" stroke-width="1"/><path d="M314.1 872.6l1.4 -1.4M317.9 869l1 -1.1" stroke="#f8f808" stroke-width="1"/><path d="M315.7 871.9l0.9 -0.9" stroke="#ffe800" stroke-width="0.75"/><path d="M305.6 881.5l0.7 -0.7M296.9 889.2l2.1 -2.1" stroke="#e8e010" stroke-width="1"/><path d="M287.1 899l2.1 -2.1M316.5 871.1l2 -2" stroke="#ffe800" stroke-width="1"/><path d="M298.5 889.2l1.1 -1.1" stroke="#8a7a08" stroke-width="1.25"/></g>
<g fill="none" stroke-linecap="round" opacity="0.6" clip-path="url(#cC)"><path d="M358.7 864.5l1.6 -1.7M342 883.2l1 -1.1M328.8 895.7l1.6 -1.7M386.9 834.4l1.5 -1.5" stroke="#b8a020" stroke-width="1.25"/><path d="M335.4 890l0.8 -0.8M371.5 851.3l1.2 -1.2M356.6 866.8l0.7 -0.8M363.4 860.7l1.2 -1.3" stroke="#c8b020" stroke-width="1"/><path d="M336.8 887.7l0.9 -1M359.9 863.4l1.3 -1.4M359.1 864.7l0.9 -1M357.4 865.6l1.6 -1.7" stroke="#d8c018" stroke-width="1"/><path d="M333.5 891.3l0.8 -0.9M361.1 862.2l1.1 -1.1" stroke="#8a8a20" stroke-width="1"/><path d="M351.3 872l1.9 -2M330.2 894.6l1.6 -1.7M331.2 893.1l1.6 -1.7" stroke="#c8b020" stroke-width="0.75"/><path d="M350.1 873.3l2.1 -2.2M378.1 843.4l1.6 -1.7" stroke="#707a20" stroke-width="1"/><path d="M352.6 871.2l1.7 -1.8M386.2 836.2l1.5 -1.6M372.8 850.7l0.9 -0.9M347.9 876l1.1 -1.2" stroke="#d06010" stroke-width="1"/><path d="M381.4 841.7l1.8 -1.9M343.2 881.3l1.7 -1.8" stroke="#b8a020" stroke-width="1"/><path d="M370.9 851.4l1.1 -1.1M359.2 865.3l1.2 -1.3" stroke="#707a20" stroke-width="1.25"/><path d="M350.1 873.7l1.1 -1.1" stroke="#707a20" stroke-width="0.75"/><path d="M382.1 839.3l1.8 -1.9" stroke="#b8a020" stroke-width="0.75"/><path d="M366.5 857.2l1.4 -1.5M385.4 836.1l1.2 -1.2" stroke="#8a8a20" stroke-width="1.25"/><path d="M376 846.5l1.4 -1.4M333.7 890.7l1.1 -1.2" stroke="#d8c018" stroke-width="0.75"/><path d="M386.3 836.3l1.6 -1.7" stroke="#c8b020" stroke-width="1.25"/><path d="M326.8 898l0.9 -1" stroke="#d8c018" stroke-width="1.25"/><path d="M350.3 874.2l1 -1.1" stroke="#d06010" stroke-width="1.25"/></g>
<g fill="none" stroke-linecap="round" opacity="0.75" clip-path="url(#cC)"><path d="M224.3 896.3l1 -0.9M240.9 880.1l1.6 -1.5M252 869.9l1.2 -1.1" stroke="#f8f808" stroke-width="1.25"/><path d="M226.7 893.2l0.8 -0.7M237.9 883.4l0.8 -0.8M229.4 890.8l1.2 -1.1" stroke="#8a7a08" stroke-width="1"/><path d="M219.3 900.8l1.6 -1.5M256.5 865.4l0.8 -0.7" stroke="#b09a08" stroke-width="1"/><path d="M244.3 877l1 -1M221.4 897.5l1.6 -1.5M249.5 873l1.1 -1" stroke="#b09a08" stroke-width="0.75"/><path d="M248.1 873.5l1.7 -1.6" stroke="#ffd000" stroke-width="0.75"/><path d="M249.5 872l2.2 -2" stroke="#e8e010" stroke-width="1"/><path d="M222.1 897.7l1 -0.9" stroke="#e8e010" stroke-width="1.25"/><path d="M244.6 876.3l2.2 -2" stroke="#f8f808" stroke-width="0.75"/><path d="M232.6 887.5l1.5 -1.4M225.8 895.1l0.9 -0.8M227.5 893.2l0.8 -0.7" stroke="#8a7a08" stroke-width="0.75"/><path d="M245.5 875.4l1.9 -1.8M246.2 874.6l0.8 -0.7M229.2 890.8l2 -1.9" stroke="#f8f808" stroke-width="1"/><path d="M244 877.5l1.9 -1.7M224.7 894.7l0.9 -0.9" stroke="#ffd000" stroke-width="1.25"/><path d="M223.5 896.8l1.3 -1.2M220.2 900l1.8 -1.6M245.6 875.7l1.4 -1.3" stroke="#ffe800" stroke-width="1"/><path d="M226.3 894.1l2.1 -2" stroke="#ffe800" stroke-width="1.25"/><path d="M232.2 889l1.2 -1.1" stroke="#ffe800" stroke-width="0.75"/><path d="M226.1 893.7l1.3 -1.2" stroke="#b09a08" stroke-width="1.25"/></g>
<g fill="none" stroke-linecap="round" opacity="0.75" clip-path="url(#cC)"><path d="M231.6 876.3l2 -1.8M211.2 895.1l0.8 -0.7M218.1 888.7l2 -1.8" stroke="#b09a08" stroke-width="0.75"/><path d="M210.4 894.2l0.8 -0.7M224.8 881.9l1.4 -1.3" stroke="#f8f808" stroke-width="1"/><path d="M229.1 878.9l1.9 -1.7M215.8 890.9l2.2 -2M206.9 897.5l0.9 -0.8" stroke="#ffd000" stroke-width="1"/><path d="M224.9 881.5l0.8 -0.7" stroke="#ffe800" stroke-width="1.25"/><path d="M220.3 886.8l1.5 -1.4M230.5 877.1l1.4 -1.2" stroke="#e8e010" stroke-width="1.25"/><path d="M228.7 877.5l1.1 -1" stroke="#8a7a08" stroke-width="0.75"/><path d="M221.2 885.6l1 -0.9" stroke="#e8e010" stroke-width="1"/><path d="M206.8 897.5l1.6 -1.5" stroke="#f8f808" stroke-width="1.25"/><path d="M231.3 875.9l2.1 -1.9" stroke="#e8e010" stroke-width="0.75"/><path d="M227 879.4l1.9 -1.7" stroke="#8a7a08" stroke-width="1.25"/><path d="M217.2 888.7l1.8 -1.6M230.8 877.1l2.1 -1.9" stroke="#ffd000" stroke-width="1.25"/><path d="M206.8 897.8l1.7 -1.5" stroke="#b09a08" stroke-width="1"/><path d="M211.4 894.4l1.5 -1.3" stroke="#b09a08" stroke-width="1.25"/></g>
<g fill="none" stroke-linecap="round" opacity="0.6" clip-path="url(#cC)"><path d="M482.9 897.2l1.7 -2.1M492.7 884l1.7 -2.2M498.4 875.4l1.5 -2" stroke="#707a20" stroke-width="0.75"/><path d="M484.9 894.3l1.3 -1.7M503.9 869.7l1.7 -2.1" stroke="#d8c018" stroke-width="1"/><path d="M494.9 880.3l0.7 -0.9" stroke="#b8a020" stroke-width="1.25"/><path d="M491.2 885.4l0.9 -1.1" stroke="#d06010" stroke-width="0.75"/><path d="M492.5 882.7l1.2 -1.5M479.5 901.5l1.7 -2.2M509 862.4l0.8 -1M499.2 875l0.6 -0.8M509.8 861.6l1.1 -1.5M506.2 866.9l1.3 -1.7" stroke="#b8a020" stroke-width="1"/><path d="M492.2 883.8l1.5 -1.9M504.9 868l0.8 -1M486.7 892l1 -1.3" stroke="#8a8a20" stroke-width="1.25"/><path d="M500.5 873.1l0.8 -1.1" stroke="#d06010" stroke-width="1.25"/><path d="M510.8 859.5l0.8 -1M513.9 856.8l1.8 -2.3M510.5 859.6l1.1 -1.4" stroke="#d06010" stroke-width="1"/><path d="M492.2 884.1l1.6 -2" stroke="#707a20" stroke-width="1"/><path d="M489.9 887.7l1 -1.3" stroke="#b8a020" stroke-width="0.75"/><path d="M476.7 903.1l1.2 -1.6" stroke="#c8b020" stroke-width="1"/><path d="M496.5 878.9l0.9 -1.2M507.4 863.9l1.3 -1.6M502.4 871.3l0.9 -1.2" stroke="#c8b020" stroke-width="0.75"/><path d="M489.3 888.6l1.1 -1.4M492.4 884.1l1.8 -2.3" stroke="#8a8a20" stroke-width="0.75"/><path d="M519.5 850l1.8 -2.3" stroke="#8a8a20" stroke-width="1"/><path d="M517.3 852.1l1.5 -2" stroke="#d8c018" stroke-width="0.75"/></g>
<g fill="none" stroke-linecap="round" opacity="0.75" clip-path="url(#cC)"><path d="M250.8 902l1.8 -1.7M248.7 903.8l1.6 -1.5M283 870.9l1.1 -1.1M272.2 882.1l0.7 -0.7M273.8 879.3l2 -1.9" stroke="#f8f808" stroke-width="0.75"/><path d="M276.9 877l1.8 -1.7M278.3 876l1.7 -1.7" stroke="#b09a08" stroke-width="1.25"/><path d="M266.9 887.3l1.2 -1.2" stroke="#ffd000" stroke-width="0.75"/><path d="M257.2 895.8l1.8 -1.8M278.9 874.8l1.5 -1.4M285 868.5l0.9 -0.9" stroke="#f8f808" stroke-width="1"/><path d="M248.5 905.1l1.7 -1.7M285.2 869.3l1.2 -1.2M265.4 888.3l1.2 -1.2" stroke="#e8e010" stroke-width="0.75"/><path d="M278.8 875.8l1.4 -1.4M269.7 883.8l2 -1.9M271.3 882.8l1.4 -1.3" stroke="#8a7a08" stroke-width="1"/><path d="M277.1 877.4l1 -1M280.8 873.4l0.8 -0.8M278.3 875.3l1.2 -1.1" stroke="#f8f808" stroke-width="1.25"/><path d="M260.8 892.9l0.9 -0.8M255.6 896.6l1.4 -1.4M271.4 882.1l1.2 -1.1" stroke="#b09a08" stroke-width="1"/><path d="M267.1 886.9l1.1 -1.1" stroke="#e8e010" stroke-width="1.25"/><path d="M255 897.7l1.8 -1.8M282.3 871.9l1.5 -1.4" stroke="#ffe800" stroke-width="1.25"/><path d="M281.3 872.3l1.4 -1.3" stroke="#8a7a08" stroke-width="1.25"/><path d="M275.1 879.3l1.6 -1.5" stroke="#ffd000" stroke-width="1"/><path d="M263.4 890.3l2.1 -2" stroke="#e8e010" stroke-width="1"/><path d="M268.2 886l2.1 -2.1" stroke="#b09a08" stroke-width="0.75"/></g>
<g fill="none" stroke-linecap="round" opacity="0.6" clip-path="url(#cC)"><path d="M439.9 895.9l1.2 -1.4M449.7 883.2l1.1 -1.3M445.9 888l1.4 -1.7" stroke="#707a20" stroke-width="1"/><path d="M464.1 866.7l1.6 -2M458.2 874.2l1.4 -1.7M451.5 881.5l1.4 -1.7" stroke="#d06010" stroke-width="1"/><path d="M439.5 895.3l1.4 -1.7M450.5 882.1l1.8 -2.2M450.8 883.1l1.8 -2.1" stroke="#b8a020" stroke-width="1.25"/><path d="M464.6 865.5l0.9 -1.1M444.5 889.7l1.4 -1.7" stroke="#c8b020" stroke-width="0.75"/><path d="M460.7 869.4l1.1 -1.3" stroke="#d8c018" stroke-width="0.75"/><path d="M446.1 887.4l0.7 -0.9M457.2 874.5l1.6 -1.9" stroke="#b8a020" stroke-width="0.75"/><path d="M471.3 857l0.7 -0.9M469.6 859.4l0.9 -1.1" stroke="#707a20" stroke-width="0.75"/><path d="M439.5 895.6l1.5 -1.8" stroke="#d06010" stroke-width="0.75"/><path d="M454.5 878l1.1 -1.3" stroke="#d8c018" stroke-width="1.25"/><path d="M450 883.2l1.7 -2.1" stroke="#c8b020" stroke-width="1.25"/><path d="M437.8 896.8l1.8 -2.2" stroke="#b8a020" stroke-width="1"/><path d="M470.2 857.8l1.3 -1.5M443.8 890.6l1.3 -1.5" stroke="#707a20" stroke-width="1.25"/><path d="M460.6 870.3l1.5 -1.8" stroke="#d06010" stroke-width="1.25"/><path d="M440.6 895.2l1.6 -1.9" stroke="#c8b020" stroke-width="1"/><path d="M467 862.4l0.7 -0.8" stroke="#8a8a20" stroke-width="1"/><path d="M451 881.9l1 -1.2" stroke="#d8c018" stroke-width="1"/><path d="M436.2 900.3l1.8 -2.2" stroke="#8a8a20" stroke-width="1.25"/></g>
<g fill="none" stroke-linecap="round" opacity="0.6" clip-path="url(#cC)"><path d="M380.8 899l1.7 -1.9M422.4 852.2l1.8 -2.1M428.5 845.1l0.9 -1.1" stroke="#b8a020" stroke-width="0.75"/><path d="M391.1 886l0.7 -0.8M382.9 895.1l1.6 -1.8" stroke="#c8b020" stroke-width="1.25"/><path d="M401.8 875.1l1.2 -1.4M427.7 846l1.5 -1.7M387.1 891l0.7 -0.8M390.8 886.7l2 -2.2" stroke="#d8c018" stroke-width="1.25"/><path d="M426.5 845.9l0.8 -0.9" stroke="#707a20" stroke-width="1.25"/><path d="M432.1 840.7l0.9 -1M422.3 851.7l1.8 -2.1M413.4 861.5l1.5 -1.7" stroke="#d06010" stroke-width="0.75"/><path d="M413.9 861.9l0.9 -1M423.5 849l1 -1.1M393.4 883.8l0.9 -1" stroke="#b8a020" stroke-width="1.25"/><path d="M412 862.1l1.5 -1.7M393.4 883.3l1.3 -1.5M384.1 895.3l1.1 -1.2" stroke="#8a8a20" stroke-width="0.75"/><path d="M433.5 838.7l0.8 -0.9" stroke="#d06010" stroke-width="1"/><path d="M416.3 858.2l1.7 -1.9M377.2 902.1l1 -1.1M432 839.6l1.8 -2.1" stroke="#707a20" stroke-width="0.75"/><path d="M404.8 871.2l1.7 -2M401.3 874.6l1.9 -2.2" stroke="#b8a020" stroke-width="1"/><path d="M434.5 837.1l1.2 -1.4" stroke="#c8b020" stroke-width="0.75"/><path d="M429.3 842.9l1.4 -1.6" stroke="#d8c018" stroke-width="0.75"/><path d="M425.7 846.8l1.9 -2.1" stroke="#c8b020" stroke-width="1"/><path d="M388.7 889.4l0.7 -0.8M434.1 838.7l1.6 -1.8M383.3 895.8l1.6 -1.8M391.2 886l0.9 -1M430 842.8l1.5 -1.7" stroke="#d8c018" stroke-width="1"/><path d="M393.1 884.5l0.7 -0.8" stroke="#707a20" stroke-width="1"/><path d="M396.9 879.4l1.5 -1.7" stroke="#d06010" stroke-width="1.25"/></g>
<g fill="none" stroke-linecap="round" opacity="0.6" clip-path="url(#cC)"><path d="M548.1 879.2l0.9 -1.3M566.9 852.3l0.8 -1.1" stroke="#707a20" stroke-width="1.25"/><path d="M535.3 896l1.1 -1.6" stroke="#d06010" stroke-width="0.75"/><path d="M555.3 868.7l1.6 -2.3M550.4 873.7l1.6 -2.2" stroke="#707a20" stroke-width="1"/><path d="M571.1 846.7l1.6 -2.2M561.3 860.4l1.7 -2.4M534.1 896.4l1.6 -2.3M539.4 889.1l1.7 -2.3" stroke="#d8c018" stroke-width="1"/><path d="M558.4 863.5l1.5 -2.1M533.2 899.5l1.6 -2.3M573.8 842.8l1.5 -2.1M540.4 888.3l1.5 -2.1" stroke="#c8b020" stroke-width="1.25"/><path d="M568.8 850l1.7 -2.3M562.9 858.9l0.8 -1.1M555.2 867.7l0.7 -1" stroke="#c8b020" stroke-width="1"/><path d="M569.1 850.3l0.7 -1" stroke="#d06010" stroke-width="1"/><path d="M539.2 889.5l1.3 -1.8M550.7 873.7l1.1 -1.5" stroke="#d06010" stroke-width="1.25"/><path d="M541.8 887.2l1.1 -1.4M558.5 864l1.1 -1.6" stroke="#8a8a20" stroke-width="0.75"/><path d="M544.4 882l1 -1.4" stroke="#8a8a20" stroke-width="1.25"/><path d="M566.4 853.7l1.7 -2.4M574.8 842.1l1.1 -1.5" stroke="#8a8a20" stroke-width="1"/><path d="M568.6 850.8l1.3 -1.7M572.9 844.9l1.4 -2" stroke="#c8b020" stroke-width="0.75"/><path d="M571.8 844.5l1.3 -1.8M551.9 871.9l1.2 -1.7" stroke="#b8a020" stroke-width="0.75"/><path d="M576.5 839.4l0.8 -1.1" stroke="#b8a020" stroke-width="1"/><path d="M559.9 861.1l1.6 -2.2M561.6 860.2l0.7 -1" stroke="#d8c018" stroke-width="1.25"/><path d="M558.4 862.9l1.6 -2.2" stroke="#b8a020" stroke-width="1.25"/></g>
<g fill="none" stroke-linecap="round" opacity="0.75" clip-path="url(#cC)"><path d="M288.5 869.5l0.8 -0.8M276.9 881.9l0.7 -0.7" stroke="#e8e010" stroke-width="0.75"/><path d="M271.3 887.4l1.3 -1.2M274.6 884.2l2.1 -2" stroke="#b09a08" stroke-width="0.75"/><path d="M277 880.4l1.4 -1.4" stroke="#f8f808" stroke-width="1"/><path d="M287.4 871l0.9 -0.8M280.2 879.1l2 -1.9M278 880.6l1 -1M271.8 886l0.9 -0.9" stroke="#ffd000" stroke-width="1.25"/><path d="M278.6 879.7l0.9 -0.9" stroke="#8a7a08" stroke-width="0.75"/><path d="M288.3 870.5l0.9 -0.9M269.4 887.9l1.2 -1.2" stroke="#b09a08" stroke-width="1"/><path d="M285.7 872.6l2.1 -2.1M265 893.8l0.9 -0.8M279.5 879.6l0.7 -0.7M261.1 896.8l1.4 -1.4M267.2 890.8l2.1 -2" stroke="#8a7a08" stroke-width="1"/><path d="M257.9 899.9l1.7 -1.7" stroke="#e8e010" stroke-width="1.25"/><path d="M276.2 882.9l1.2 -1.2M268 889.6l1.5 -1.5" stroke="#ffd000" stroke-width="0.75"/><path d="M265.3 892.3l0.8 -0.8" stroke="#ffd000" stroke-width="1"/><path d="M268.7 889.5l1.1 -1.1" stroke="#ffe800" stroke-width="1.25"/><path d="M272.5 886.3l1.6 -1.6" stroke="#ffe800" stroke-width="1"/></g>
<g fill="none" stroke-linecap="round" opacity="0.6" clip-path="url(#cC)"><path d="M379 895.7l1.9 -2.1" stroke="#d8c018" stroke-width="1"/><path d="M377.1 898.8l0.9 -1" stroke="#c8b020" stroke-width="1"/><path d="M381 894.2l1.7 -2M385 888.9l0.8 -0.9" stroke="#8a8a20" stroke-width="0.75"/><path d="M373.4 902.1l1.8 -2" stroke="#b8a020" stroke-width="0.75"/><path d="M378.2 897.5l1.5 -1.7" stroke="#d8c018" stroke-width="1.25"/><path d="M372 905l0.7 -0.8" stroke="#d06010" stroke-width="0.75"/><path d="M386.1 888l0.7 -0.8" stroke="#d06010" stroke-width="1"/><path d="M387 887.4l1.2 -1.4M385.1 888.9l1.4 -1.5" stroke="#707a20" stroke-width="1"/></g>
<g fill="none" stroke-linecap="round" opacity="0.75" clip-path="url(#cC)"><path d="M220.8 890.9l1.3 -1.2" stroke="#b09a08" stroke-width="0.75"/><path d="M225.1 886.3l2 -1.8" stroke="#8a7a08" stroke-width="0.75"/><path d="M218.6 893.2l0.9 -0.8M211.5 899.3l1.9 -1.7M219.7 892.3l1.2 -1.1" stroke="#f8f808" stroke-width="0.75"/><path d="M219.6 891.6l1.5 -1.4M237.8 874.6l1.1 -1M241.7 871l2.2 -2M234 878l1.6 -1.4" stroke="#b09a08" stroke-width="1"/><path d="M235.7 877.6l1 -0.9" stroke="#e8e010" stroke-width="0.75"/><path d="M237.7 875.5l1.8 -1.6M234.9 877.1l1.7 -1.6M211.4 898.3l1.7 -1.6M238.9 874.6l1.3 -1.2" stroke="#8a7a08" stroke-width="1.25"/><path d="M227.7 883.8l0.9 -0.9M216.4 894.4l1.4 -1.2M227.6 884.5l2 -1.8" stroke="#8a7a08" stroke-width="1"/><path d="M222.6 888.2l1.2 -1.1" stroke="#ffe800" stroke-width="1.25"/><path d="M227.6 884l1.5 -1.4M237.9 874.8l1.9 -1.7" stroke="#f8f808" stroke-width="1"/><path d="M235.6 876.7l1.6 -1.4" stroke="#ffd000" stroke-width="0.75"/><path d="M231.8 879.9l1.2 -1.1M237.8 874.4l2.2 -2" stroke="#ffe800" stroke-width="1"/><path d="M239.1 874.5l1.5 -1.4" stroke="#e8e010" stroke-width="1.25"/><path d="M223.7 888.2l1.2 -1.1" stroke="#ffd000" stroke-width="1"/></g>
<g fill="none" stroke-linecap="round" opacity="0.6" clip-path="url(#cC)"><path d="M444.1 855.7l1.4 -1.6" stroke="#d06010" stroke-width="0.75"/><path d="M433.4 867.6l1.2 -1.4M409.3 896.2l1.7 -2M411.4 892.7l1.2 -1.4" stroke="#d8c018" stroke-width="1"/><path d="M443.1 856.7l0.7 -0.8M445.4 853.7l0.8 -0.9M437.8 863.5l0.7 -0.8" stroke="#8a8a20" stroke-width="1"/><path d="M399 906.4l1.8 -2" stroke="#707a20" stroke-width="0.75"/><path d="M423.3 880.3l1.9 -2.2M451.6 847.2l1.7 -2M435.5 865l1.2 -1.4M421.8 881.5l0.8 -0.9" stroke="#b8a020" stroke-width="1.25"/><path d="M436.8 863.1l1.1 -1.3M402.3 904.4l0.9 -1.1M430.5 871.6l1.2 -1.4" stroke="#c8b020" stroke-width="1.25"/><path d="M428.3 873.2l1.2 -1.4M410.9 892.8l1.3 -1.5" stroke="#d8c018" stroke-width="0.75"/><path d="M413.3 891.3l1.9 -2.2M446.9 850.7l1.8 -2.1M399.9 906.2l0.9 -1" stroke="#c8b020" stroke-width="1"/><path d="M409.8 894.7l1.4 -1.6M449.6 848.9l1.1 -1.3" stroke="#8a8a20" stroke-width="1.25"/><path d="M401.6 905.3l0.9 -1.1M448.1 851l1 -1.1M423.8 877.6l1.4 -1.7" stroke="#b8a020" stroke-width="1"/><path d="M449 849.1l0.8 -0.9" stroke="#707a20" stroke-width="1.25"/><path d="M440.6 858.5l1 -1.1" stroke="#8a8a20" stroke-width="0.75"/><path d="M434.3 866l1.7 -2" stroke="#b8a020" stroke-width="0.75"/><path d="M406.2 899.2l0.8 -0.9M433.4 867.8l0.9 -1" stroke="#d06010" stroke-width="1"/><path d="M417.7 885.8l1.2 -1.4" stroke="#c8b020" stroke-width="0.75"/><path d="M442 857.9l1.3 -1.5" stroke="#d8c018" stroke-width="1.25"/></g>
<g fill="none" stroke-linecap="round" opacity="0.6" clip-path="url(#cC)"><path d="M492.7 889.2l0.8 -1" stroke="#707a20" stroke-width="1.25"/><path d="M478.1 908.6l0.8 -1" stroke="#b8a020" stroke-width="1"/><path d="M504 875.8l1.7 -2.2" stroke="#c8b020" stroke-width="1.25"/><path d="M506 873.6l1.8 -2.3M497.3 884l1.8 -2.3M493.3 890.1l0.7 -0.9" stroke="#8a8a20" stroke-width="0.75"/><path d="M497 883.5l1.5 -1.9M503.1 876l1.5 -1.9" stroke="#c8b020" stroke-width="1"/><path d="M491.9 892.1l1.1 -1.4" stroke="#d8c018" stroke-width="0.75"/><path d="M483.7 901.8l0.9 -1.2" stroke="#c8b020" stroke-width="0.75"/><path d="M500.5 879.3l1.8 -2.4" stroke="#d8c018" stroke-width="1"/><path d="M480.7 904.4l1.2 -1.5" stroke="#b8a020" stroke-width="1.25"/><path d="M488.3 894.7l1.1 -1.4" stroke="#8a8a20" stroke-width="1.25"/><path d="M505 874.7l0.9 -1.1" stroke="#d06010" stroke-width="1"/><path d="M484.5 900.3l1.2 -1.6" stroke="#d8c018" stroke-width="1.25"/><path d="M482.5 903.8l0.7 -0.8" stroke="#d06010" stroke-width="1.25"/><path d="M502.1 877.9l1.5 -2" stroke="#8a8a20" stroke-width="1"/><path d="M487.1 898.4l1.3 -1.6" stroke="#b8a020" stroke-width="0.75"/></g>
<g fill="none" stroke-linecap="round" opacity="0.6" clip-path="url(#cC)"><path d="M457.3 878.4l1.1 -1.4" stroke="#d8c018" stroke-width="0.75"/><path d="M438.4 901.5l1 -1.2" stroke="#707a20" stroke-width="0.75"/><path d="M464.6 868.2l0.8 -1M467.5 866.4l1.3 -1.5" stroke="#b8a020" stroke-width="0.75"/><path d="M448.7 887.7l1.7 -2" stroke="#c8b020" stroke-width="1"/><path d="M437 902.6l1.7 -2M481.7 848.1l0.7 -0.9" stroke="#8a8a20" stroke-width="1.25"/><path d="M446.8 890.6l0.8 -0.9" stroke="#8a8a20" stroke-width="0.75"/><path d="M445.7 891l1.1 -1.3M467.2 865.9l0.8 -0.9M478.7 850.8l1.5 -1.8" stroke="#d06010" stroke-width="1.25"/><path d="M454 882.7l1.3 -1.5M465.1 867.7l1.5 -1.8M484.4 844.7l1.8 -2.2M440.6 899l1.5 -1.9M488 839.9l1.2 -1.5M478.7 852.4l1.4 -1.7M478.5 851.1l0.7 -0.8M486.9 840.9l1.9 -2.3" stroke="#707a20" stroke-width="1.25"/><path d="M479.9 849.7l1.9 -2.3M439.9 898.5l1.2 -1.4M446.8 889.9l1.6 -1.9M451.9 884.5l0.9 -1" stroke="#d06010" stroke-width="1"/><path d="M488.4 839.9l1.2 -1.4M469.2 862.6l0.9 -1.1M453.7 881.9l1.8 -2.2" stroke="#707a20" stroke-width="1"/><path d="M482.3 847.6l1.4 -1.7" stroke="#c8b020" stroke-width="1.25"/><path d="M454.6 881.2l1 -1.2" stroke="#c8b020" stroke-width="0.75"/><path d="M443.7 894.3l1.8 -2.1M437.7 900.7l1.2 -1.4" stroke="#d8c018" stroke-width="1"/><path d="M441.3 898l1.5 -1.9" stroke="#b8a020" stroke-width="1"/><path d="M468.3 865l1.9 -2.3M451.2 885.8l1.1 -1.3" stroke="#d06010" stroke-width="0.75"/><path d="M469.4 864l1.8 -2.2" stroke="#b8a020" stroke-width="1.25"/><path d="M471.5 860.9l1.8 -2.1" stroke="#8a8a20" stroke-width="1"/></g>
<g fill="none" stroke-linecap="round" opacity="0.6" clip-path="url(#cC)"><path d="M413.4 891.5l1.5 -1.7M410.6 896.4l1.7 -2M438.7 862.9l0.9 -1.1" stroke="#707a20" stroke-width="0.75"/><path d="M446.7 853.2l1.8 -2M422 883.3l0.7 -0.8M401.1 905.9l1.5 -1.8M414.9 890l1 -1.2" stroke="#8a8a20" stroke-width="1"/><path d="M446 855.7l1.8 -2.1M429.4 874.5l0.7 -0.8" stroke="#c8b020" stroke-width="1"/><path d="M406.2 901.2l0.9 -1.1M406.6 900l1.5 -1.7" stroke="#d06010" stroke-width="0.75"/><path d="M399.3 909.4l1 -1.1" stroke="#b8a020" stroke-width="0.75"/><path d="M410.2 897.1l1.3 -1.5M436.7 865.7l0.7 -0.8M447 853.3l0.9 -1M423.3 880.5l0.9 -1" stroke="#707a20" stroke-width="1.25"/><path d="M450.7 849.8l0.9 -1" stroke="#d06010" stroke-width="1"/><path d="M400.1 907l0.7 -0.9M410.1 896.6l0.7 -0.8" stroke="#d06010" stroke-width="1.25"/><path d="M412.8 893.4l1.7 -2M450.4 849.6l1 -1.2" stroke="#d8c018" stroke-width="1"/><path d="M428.1 875.9l1.4 -1.7" stroke="#d8c018" stroke-width="0.75"/><path d="M417.9 886.7l1.7 -2" stroke="#b8a020" stroke-width="1.25"/><path d="M449.2 849.9l1.5 -1.7" stroke="#8a8a20" stroke-width="0.75"/><path d="M426.9 875.9l1.9 -2.2M425.6 879.4l1.4 -1.6" stroke="#8a8a20" stroke-width="1.25"/><path d="M425.9 878.5l1.1 -1.3M422.8 882.3l0.9 -1M401 907.2l1 -1.2" stroke="#b8a020" stroke-width="1"/><path d="M417.4 887.2l0.9 -1" stroke="#c8b020" stroke-width="0.75"/><path d="M436.9 866.2l1 -1.2" stroke="#c8b020" stroke-width="1.25"/><path d="M416.6 888.5l1.8 -2" stroke="#d8c018" stroke-width="1.25"/></g>
<g fill="none" stroke-linecap="round" opacity="0.6" clip-path="url(#cC)"><path d="M450.2 881.5l0.8 -0.9" stroke="#8a8a20" stroke-width="1.25"/><path d="M458.5 871.4l1 -1.2M443.7 889.4l1.8 -2.1M471.1 855.2l1.6 -2M445.6 887.1l0.7 -0.9" stroke="#d8c018" stroke-width="1.25"/><path d="M463.3 865.9l1.6 -2M435.9 898.7l0.8 -1M453.8 875.7l1.5 -1.8M473.8 852.8l0.9 -1.1M443.1 890.3l1.3 -1.6M485.1 839.5l0.9 -1.1" stroke="#8a8a20" stroke-width="1"/><path d="M480.1 845.7l1.3 -1.6" stroke="#707a20" stroke-width="0.75"/><path d="M471.4 854.8l1.2 -1.4" stroke="#c8b020" stroke-width="0.75"/><path d="M464.6 863.8l0.8 -1M455.4 874.8l1.8 -2.2M467.4 860.2l1.2 -1.5" stroke="#d06010" stroke-width="0.75"/><path d="M472.9 854.1l1.6 -2M442.5 889.4l1.4 -1.7" stroke="#c8b020" stroke-width="1"/><path d="M474.4 851.8l1.5 -1.8M432 903.1l1.3 -1.6" stroke="#b8a020" stroke-width="0.75"/><path d="M484.5 838.7l1.4 -1.7M446.8 884.2l1.2 -1.4" stroke="#d8c018" stroke-width="0.75"/><path d="M486.3 836.1l1.2 -1.4M457.6 871.3l0.9 -1.1" stroke="#b8a020" stroke-width="1"/><path d="M470.7 856.5l1.4 -1.7M456.3 873.8l1.8 -2.2" stroke="#c8b020" stroke-width="1.25"/><path d="M470.5 855.7l1.4 -1.7M472.6 853.1l1.4 -1.7M469.1 858.9l1.4 -1.7" stroke="#707a20" stroke-width="1.25"/><path d="M451.2 880.4l1.3 -1.5M460.1 868.9l1.3 -1.5M470.6 856.9l1.1 -1.3" stroke="#b8a020" stroke-width="1.25"/><path d="M449.5 882.1l1.6 -1.9" stroke="#d06010" stroke-width="1.25"/><path d="M471.4 856.3l0.8 -0.9M434.4 900.7l1.3 -1.6" stroke="#d8c018" stroke-width="1"/></g>
<g fill="none" stroke-linecap="round" opacity="0.75" clip-path="url(#cC)"><path d="M280.6 868.7l1.2 -1.1" stroke="#f8f808" stroke-width="1"/><path d="M245.4 903l1.6 -1.5M283.3 865.5l1.2 -1.1M284.3 864.7l1.4 -1.3" stroke="#b09a08" stroke-width="1"/><path d="M274.8 874.8l2.1 -2" stroke="#ffd000" stroke-width="1"/><path d="M255.3 893.3l1.6 -1.5M254.4 893.1l1.9 -1.8M271.2 877.1l1.9 -1.8" stroke="#b09a08" stroke-width="0.75"/><path d="M256.2 892.3l2 -2M272.4 876.2l0.9 -0.8" stroke="#8a7a08" stroke-width="0.75"/><path d="M246.4 900.6l1.6 -1.6M262.9 885.7l1.9 -1.8M271.3 877.8l1.2 -1.2" stroke="#ffd000" stroke-width="0.75"/><path d="M284.7 865.2l0.9 -0.8M273.8 875.9l1.3 -1.2M248.1 899l0.9 -0.9" stroke="#ffe800" stroke-width="1"/><path d="M243.9 903.7l1.4 -1.3M250.8 897.1l0.8 -0.7M276.7 871.8l1.4 -1.4M256.9 891.6l1.1 -1.1M243.4 904.6l1.4 -1.4M256.8 892l1.7 -1.6M254.6 892.9l1.9 -1.8" stroke="#8a7a08" stroke-width="1"/><path d="M282.2 867.5l1.1 -1.1" stroke="#f8f808" stroke-width="0.75"/><path d="M263.3 885.5l1.2 -1.2" stroke="#e8e010" stroke-width="0.75"/><path d="M281 869l1.2 -1.1" stroke="#f8f808" stroke-width="1.25"/><path d="M257.9 890.8l1 -1M263.3 885.8l1.5 -1.5" stroke="#8a7a08" stroke-width="1.25"/><path d="M261.8 886.9l2 -1.9M260.7 888.8l2 -1.9" stroke="#ffe800" stroke-width="1.25"/><path d="M281.9 868l1.2 -1.2" stroke="#ffe800" stroke-width="0.75"/><path d="M266.2 883.5l1 -0.9" stroke="#e8e010" stroke-width="1.25"/><path d="M285.1 864.8l1.8 -1.7" stroke="#e8e010" stroke-width="1"/><path d="M279.4 870.5l1.3 -1.2M249 898.6l1.3 -1.2" stroke="#b09a08" stroke-width="1.25"/></g>
<g fill="none" stroke-linecap="round" opacity="0.6" clip-path="url(#cC)"><path d="M492.8 896.6l1 -1.3M496.6 892.2l1 -1.3" stroke="#b8a020" stroke-width="1"/><path d="M500 889.2l1 -1.3M487 905.2l1.7 -2.3M487.7 903.6l0.8 -1" stroke="#707a20" stroke-width="1"/><path d="M499.9 888.4l1.6 -2.1" stroke="#d8c018" stroke-width="0.75"/><path d="M499.9 888.3l1.5 -1.9M497.5 890.7l1.6 -2M495.2 893.9l1.7 -2.3" stroke="#c8b020" stroke-width="1"/><path d="M490.1 901.3l1.6 -2" stroke="#d8c018" stroke-width="1"/></g>
<g fill="none" stroke-linecap="round" opacity="0.75" clip-path="url(#cC)"><path d="M226.4 875.1l1.1 -1M231.9 870.2l1.2 -1.1" stroke="#8a7a08" stroke-width="1"/><path d="M212.1 888.6l1.4 -1.3M239.2 864.1l1.6 -1.4M236.8 865.9l1.4 -1.3M208.5 890.9l1.2 -1.1M229 873.5l2.1 -1.9" stroke="#ffd000" stroke-width="1.25"/><path d="M226.9 875.4l1.5 -1.4M216.6 883.2l1.9 -1.7" stroke="#ffe800" stroke-width="1"/><path d="M223.4 878.3l1.4 -1.3M237.2 864.6l2.2 -2M205.7 893.2l1.6 -1.4" stroke="#e8e010" stroke-width="1"/><path d="M233.5 869.1l0.8 -0.7" stroke="#ffd000" stroke-width="0.75"/><path d="M233.6 868.1l0.9 -0.8M231.3 869.7l1.4 -1.2M245.9 857l1.4 -1.3" stroke="#e8e010" stroke-width="0.75"/><path d="M213.2 886.8l1.4 -1.3" stroke="#b09a08" stroke-width="0.75"/><path d="M244.5 858l1.8 -1.6M216.5 883.6l1.1 -1M215.8 883.7l1.2 -1.1" stroke="#ffe800" stroke-width="1.25"/><path d="M247.6 855.9l1.8 -1.6" stroke="#b09a08" stroke-width="1"/><path d="M233.2 868.6l1.3 -1.2M215.2 884.4l1.3 -1.2" stroke="#ffd000" stroke-width="1"/><path d="M225.8 875l0.7 -0.7M213.6 887.4l2.1 -1.9" stroke="#e8e010" stroke-width="1.25"/><path d="M240.5 861.6l1.7 -1.5" stroke="#ffe800" stroke-width="0.75"/><path d="M202.9 896.1l1.9 -1.7M229.4 872.9l1.1 -1M209.3 891.3l1 -0.9" stroke="#8a7a08" stroke-width="0.75"/><path d="M245.7 858.2l1.5 -1.4M224.3 877.7l2 -1.9" stroke="#8a7a08" stroke-width="1.25"/><path d="M223.4 878.3l1 -0.9" stroke="#f8f808" stroke-width="1.25"/><path d="M213.3 887.5l1.4 -1.3" stroke="#b09a08" stroke-width="1.25"/><path d="M229.5 873l1.5 -1.4" stroke="#f8f808" stroke-width="0.75"/></g>
<g fill="none" stroke-linecap="round" opacity="0.6" clip-path="url(#cC)"><path d="M526 880.5l0.9 -1.3M536.9 866.2l1.8 -2.4M517.5 891.6l1.1 -1.5" stroke="#d8c018" stroke-width="0.75"/><path d="M535 867.7l1.5 -2M562.2 832.3l1.5 -2" stroke="#707a20" stroke-width="1.25"/><path d="M538.4 863.9l1.8 -2.4M541.4 859l0.7 -1M545.2 855.6l0.8 -1.1M532.3 871.8l0.8 -1M554.3 843.3l0.6 -0.8" stroke="#d8c018" stroke-width="1"/><path d="M557.5 838.9l0.7 -0.9M505.8 906.1l1.7 -2.3M538.6 862.8l1.1 -1.4" stroke="#707a20" stroke-width="1"/><path d="M560.4 833.6l1.7 -2.2M541.4 860.3l0.9 -1.2M528.1 877.4l0.9 -1.2" stroke="#b8a020" stroke-width="0.75"/><path d="M506.6 906.6l1.5 -2.1M528 878l1.8 -2.4" stroke="#d06010" stroke-width="1"/><path d="M510.3 901.6l1.6 -2.1M513.2 896.5l1.7 -2.2" stroke="#d8c018" stroke-width="1.25"/><path d="M548.1 849.6l0.9 -1.1M533.5 870.9l1.6 -2.1" stroke="#b8a020" stroke-width="1.25"/><path d="M535.1 869.1l0.9 -1.2M521.3 887l1.6 -2.2M554.4 842.6l0.7 -1M559.2 836l1.6 -2.2M533.2 870.4l1.6 -2.1" stroke="#b8a020" stroke-width="1"/><path d="M522.2 884.7l1 -1.4M541.3 859.4l1.2 -1.6M540 862.5l1.5 -2" stroke="#8a8a20" stroke-width="1"/><path d="M536.6 866.1l0.8 -1.1M541.9 859.9l0.8 -1.1M539.5 861.2l1.3 -1.8" stroke="#707a20" stroke-width="0.75"/><path d="M559.9 834.8l1.1 -1.4M517.2 891.4l1 -1.3" stroke="#8a8a20" stroke-width="0.75"/><path d="M525.8 879.9l1 -1.3" stroke="#c8b020" stroke-width="0.75"/><path d="M539.4 861.8l1.4 -1.9" stroke="#d06010" stroke-width="0.75"/></g>
<g fill="none" stroke-linecap="round" opacity="0.75" clip-path="url(#cC)"><path d="M261.2 894.8l1.1 -1.1M297 859.9l1.5 -1.5M302.5 854.7l1.5 -1.4M303.5 854.8l2 -1.9M317.7 839.9l0.8 -0.7M256.3 899.4l2 -1.9M317.4 839.8l2.1 -2" stroke="#ffe800" stroke-width="1"/><path d="M275.7 880.3l1.3 -1.2M256.5 898.8l1.3 -1.2M294 863.5l2.1 -2M292.8 863.8l1.5 -1.5M272.3 883.9l2.1 -2M262.2 893.7l1.6 -1.5" stroke="#e8e010" stroke-width="1.25"/><path d="M272.4 884.6l1.8 -1.8" stroke="#ffe800" stroke-width="0.75"/><path d="M270.5 885.3l1.7 -1.6M294.7 863.3l1.7 -1.6M262.3 894l2 -1.9M314.1 843.9l1.3 -1.2M250.3 904.5l2 -1.9M269.9 885.7l2.1 -2" stroke="#ffd000" stroke-width="1"/><path d="M269 887.8l1 -1M317.5 841.4l1.6 -1.5M296.8 861l1.6 -1.6" stroke="#f8f808" stroke-width="0.75"/><path d="M318.9 839.9l0.8 -0.8M279 877.3l0.8 -0.8M291.6 864.5l1.8 -1.7" stroke="#f8f808" stroke-width="1.25"/><path d="M298.4 859.4l0.9 -0.9M318.9 839.2l1.5 -1.4M278.5 878.7l1.8 -1.7M300.1 856.6l1.3 -1.3M307 851.5l0.8 -0.8" stroke="#ffe800" stroke-width="1.25"/><path d="M278 878l1.1 -1.1M293.1 864.9l2.1 -2M269.1 887l1.1 -1" stroke="#e8e010" stroke-width="1"/><path d="M314.7 842.4l1.9 -1.9M277.6 879.2l1.9 -1.8M290.7 866.7l1.2 -1.1M252 904.2l0.8 -0.7M289.1 868l1.9 -1.8" stroke="#f8f808" stroke-width="1"/><path d="M260.9 894.9l1 -1M308 848.8l1.7 -1.7M308 848.6l1.8 -1.8" stroke="#8a7a08" stroke-width="0.75"/><path d="M312.5 844.4l2.1 -2M285.7 871.6l2.1 -2M269.5 886.6l1.1 -1.1" stroke="#8a7a08" stroke-width="1.25"/><path d="M286.5 869.4l1.3 -1.3M254.8 900.7l1.2 -1.1M254.4 901l1.7 -1.6" stroke="#b09a08" stroke-width="1"/><path d="M308.2 848.8l2 -1.9" stroke="#ffd000" stroke-width="1.25"/><path d="M309.7 848.8l1.1 -1" stroke="#e8e010" stroke-width="0.75"/><path d="M251.1 903.5l1.2 -1.2" stroke="#b09a08" stroke-width="0.75"/><path d="M261.2 894.6l1 -1" stroke="#ffd000" stroke-width="0.75"/><path d="M299.9 858l1.7 -1.7" stroke="#8a7a08" stroke-width="1"/></g>
<g fill="none" stroke-linecap="round" opacity="0.6" clip-path="url(#cC)"><path d="M421.5 860.5l1 -1.1" stroke="#d06010" stroke-width="0.75"/><path d="M387.9 898.7l0.8 -1M408.7 875l1.9 -2.2M406.1 879.2l0.8 -0.9" stroke="#d8c018" stroke-width="1"/><path d="M407.1 877.6l1.5 -1.7M432.4 848.7l0.8 -0.9" stroke="#8a8a20" stroke-width="0.75"/><path d="M430.3 850.7l0.7 -0.8M415.8 868l1.4 -1.6M411.8 871.4l1.8 -2M430.5 850.5l1.1 -1.3M405.2 880l0.7 -0.8M431.9 847.8l1.8 -2.1" stroke="#b8a020" stroke-width="1.25"/><path d="M401.4 884.1l1.7 -2" stroke="#8a8a20" stroke-width="1.25"/><path d="M433.7 845.8l1.8 -2.1" stroke="#c8b020" stroke-width="1.25"/><path d="M393.2 892l1.9 -2.1M402.4 883.4l1.2 -1.4M411.7 872.7l1.1 -1.2M403.1 880.8l1.4 -1.6M409.2 873.9l1.3 -1.5" stroke="#707a20" stroke-width="0.75"/><path d="M405.7 877.7l1 -1.1M409.2 875.3l1.8 -2.1M414.5 868.8l0.7 -0.8" stroke="#c8b020" stroke-width="1"/><path d="M426.2 854.8l0.9 -1.1" stroke="#b8a020" stroke-width="0.75"/><path d="M398.7 887.7l2 -2.3" stroke="#c8b020" stroke-width="0.75"/><path d="M392.8 893.7l1.4 -1.6M397.4 889.1l1.6 -1.8" stroke="#707a20" stroke-width="1"/><path d="M410.4 874.1l1.2 -1.4M392.9 892.7l1.8 -2.1" stroke="#d06010" stroke-width="1"/></g>
<g fill="none" stroke-linecap="round" opacity="0.96" clip-path="url(#cC)"><path d="M196.4 909l-0.7 -3.9" stroke="#fff000" stroke-width="1.5"/><path d="M198.1 909.4l-1.1 -6.1" stroke="#f8ff08" stroke-width="1.5"/><path d="M198.9 906.7l-1.1 -5.8M215.7 891.4l-0.5 -2.7M220.6 886.7l-0.6 -3.1" stroke="#fff000" stroke-width="1.25"/><path d="M201.3 905.5l-0.9 -5.1" stroke="#f2f812" stroke-width="1.5"/><path d="M205 903.6l-0.6 -3.4M220.9 883.8l-0.3 -1.7" stroke="#fff000" stroke-width="1"/><path d="M205.9 902.5l-0.9 -4.9M215.2 891l-0.4 -2.5" stroke="#f2f812" stroke-width="1.25"/><path d="M205.6 900.3l-0.8 -4.7" stroke="#e8e818" stroke-width="1.5"/><path d="M205.9 900.9l-0.8 -4.2" stroke="#e8e818" stroke-width="1.25"/><path d="M210.7 897.7l-0.6 -3.6M216.1 891.9l-0.7 -3.7" stroke="#f8ff08" stroke-width="1"/><path d="M209.8 897.4l-0.5 -2.5M223.6 886.4l-0.3 -1.7" stroke="#f8ff08" stroke-width="1.25"/><path d="M211.5 893.5l-0.6 -3.5M224.9 881.2l-0.3 -1.7" stroke="#e8e818" stroke-width="1"/><path d="M217 888.3l-0.5 -2.5" stroke="#f2f812" stroke-width="1"/><path d="M225.6 882.8l-0.4 -2.4" stroke="#e8e818" stroke-width="0.75"/></g>
<g fill="none" stroke-linecap="round" opacity="0.96" clip-path="url(#cC)"><path d="M218.9 907.1l-0.6 -3.2M222.3 904.4l-0.4 -2.3" stroke="#d8d010" stroke-width="1.5"/><path d="M222.1 907.5l-0.7 -3.7M237.3 890.4l-0.4 -2.4" stroke="#fff000" stroke-width="1"/><path d="M226.3 902.1l-0.6 -3.3M245.4 882.1l-0.3 -1.4" stroke="#d8d010" stroke-width="1"/><path d="M226.9 899.8l-0.7 -3.8" stroke="#f8ff08" stroke-width="1.25"/><path d="M229.6 897.5l-0.5 -2.5M234.5 894l-0.3 -1.8M235.4 892.1l-0.3 -1.7M248.4 879.3l-0.3 -1.6M249.5 876.6l-0.3 -1.9" stroke="#f8ff08" stroke-width="1"/><path d="M230.1 896.8l-0.5 -2.6M245.7 884.9l-0.4 -2.5" stroke="#fff000" stroke-width="1.25"/><path d="M233.5 895.4l-0.4 -2.4M240 889.7l-0.3 -1.6M242.4 884.8l-0.2 -1.3" stroke="#d8d010" stroke-width="1.25"/></g>
<g fill="none" stroke-linecap="round" opacity="0.96" clip-path="url(#cC)"><path d="M243 907.8l-0.9 -4.8M245 907.7l-0.7 -3.7M246.4 906.1l-0.7 -3.9M247.8 904.5l-0.4 -2.3M250.6 901.8l-0.4 -2" stroke="#f8ff08" stroke-width="1.25"/><path d="M249.4 902.7l-0.5 -3M251.8 900.5l-0.3 -1.6" stroke="#f8ff08" stroke-width="1"/></g>
<g fill="none" stroke-linecap="round" opacity="0.96" clip-path="url(#cC)"><path d="M271 909.3l-0.9 -5.1" stroke="#fff000" stroke-width="1.5"/><path d="M271.6 907.6l-0.8 -4.4" stroke="#d8d010" stroke-width="1.5"/><path d="M275.8 904.7l-0.3 -1.9M278.2 901.5l-0.5 -2.7" stroke="#fff000" stroke-width="1.25"/><path d="M275.9 903.6l-0.6 -3.1" stroke="#f8ff08" stroke-width="1.25"/><path d="M280.3 899.5l-0.4 -2" stroke="#d8d010" stroke-width="1"/><path d="M281.6 898.5l-0.3 -1.5" stroke="#d8d010" stroke-width="1.25"/><path d="M283.5 896l-0.3 -1.7" stroke="#f8ff08" stroke-width="1"/></g>
<g fill="none" stroke-linecap="round" opacity="0.96" clip-path="url(#cC)"><path d="M332.5 911.6l-1.1 -5.9" stroke="#c0e030" stroke-width="1.75"/><path d="M333.4 910.5l-1.1 -6M346.6 894.3l-0.9 -4.9M352.4 887.7l-0.6 -3.6" stroke="#d8e824" stroke-width="1.5"/><path d="M334.7 909.4l-1 -5.4M342.6 898.5l-0.5 -2.9M344.2 898.2l-1 -5.6M368.9 869.2l-0.6 -3.3M370.6 867l-0.3 -1.9" stroke="#d8e824" stroke-width="1.25"/><path d="M334.9 908.2l-0.6 -3.1M339.2 903.9l-0.5 -2.9M365.1 874.1l-0.5 -2.7" stroke="#f0f018" stroke-width="1.25"/><path d="M336.5 906.8l-0.9 -5.1" stroke="#f0f018" stroke-width="1.75"/><path d="M337.1 905.2l-0.5 -2.9M345 895.9l-0.9 -5.3M349.2 892.1l-0.7 -3.9M354.4 885.9l-0.7 -3.7M361.9 877.7l-0.8 -4.5M361.7 877.6l-0.8 -4.3" stroke="#a8d83a" stroke-width="1.5"/><path d="M339.3 903l-0.6 -3.5M359 879.9l-0.5 -3" stroke="#c0e030" stroke-width="1.5"/><path d="M340.9 901.8l-0.6 -3.5" stroke="#a8d83a" stroke-width="1.25"/><path d="M341.6 900.4l-0.6 -3.1M350.7 889.4l-0.5 -2.8M363.5 875.2l-0.5 -2.7M370.5 868.6l-0.5 -2.9" stroke="#d8e824" stroke-width="1"/><path d="M345.6 895.8l-0.5 -2.7" stroke="#a8d83a" stroke-width="1.75"/><path d="M347.6 893.3l-0.8 -4.4M357 882.8l-0.9 -4.8" stroke="#f0f018" stroke-width="1.5"/><path d="M349.8 890.9l-0.9 -4.7M359.9 879.6l-0.4 -2.4M366.6 872.2l-0.6 -3.3" stroke="#f0f018" stroke-width="1"/><path d="M354.2 887.2l-0.9 -4.9M364.1 874.7l-0.7 -3.7M366.9 871.8l-0.5 -2.6" stroke="#a8d83a" stroke-width="1"/><path d="M356.1 883.7l-0.4 -2.5M357.5 882.3l-0.6 -3.5" stroke="#c0e030" stroke-width="1.25"/><path d="M372.6 866.6l-0.7 -3.8" stroke="#c0e030" stroke-width="1"/><path d="M334.6 910.9l-0.6 -3M346.8 896.2l-0.3 -1.4M355.6 886.3l-0.4 -1.3" stroke="#98d040" stroke-width="1.5"/><path d="M336.1 908.6l-0.3 -1.4M348.8 893.7l-0.5 -2.7M350.4 892.5l-0.4 -2.3M363.1 878.1l-0.5 -2.6M366.3 874.5l-0.3 -1" stroke="#98d040" stroke-width="1.25"/><path d="M337.7 907.2l-0.6 -2.2" stroke="#7cc848" stroke-width="1.5"/><path d="M338.3 905.6l-0.3 -1.3M340.5 903.4l-0.4 -1.4" stroke="#68b850" stroke-width="1.5"/><path d="M342.1 902.2l-0.4 -2M373.8 867l-0.4 -1.3" stroke="#7cc848" stroke-width="1"/><path d="M342.8 900.8l-0.3 -1.5M367.8 872.6l-0.4 -1.3M368.1 872.2l-0.3 -1.5M370.1 869.6l-0.4 -1.3" stroke="#98d040" stroke-width="1"/><path d="M343.8 898.9l-0.3 -1.1M345.4 898.6l-0.6 -2.8M351 891.3l-0.5 -3M351.9 889.8l-0.3 -1.1M371.8 867.4l-0.2 -0.8" stroke="#68b850" stroke-width="1"/><path d="M346.2 896.3l-0.6 -2.1M362.9 878l-0.5 -2.6" stroke="#68b850" stroke-width="1.25"/><path d="M353.6 888.1l-0.4 -2.1M358.2 883.2l-0.5 -2M358.7 882.7l-0.4 -1.5" stroke="#7cc848" stroke-width="1.25"/></g>
<g fill="none" stroke-linecap="round" opacity="0.96" clip-path="url(#cC)"><path d="M371.7 866.1l-0.4 -2.2M387.2 847.7l-0.5 -2.8" stroke="#b0d034" stroke-width="1"/><path d="M373 863.9l-0.4 -2.3M399 835.2l-0.3 -1.9" stroke="#c8dc2c" stroke-width="1.25"/><path d="M373.9 863.2l-0.6 -3.6M376.1 861.2l-0.3 -1.8M382.5 853.9l-0.4 -2.5M383.4 852.9l-0.3 -1.8M385.5 850.7l-0.6 -3.3M390.1 845l-0.5 -2.5" stroke="#98c83c" stroke-width="1"/><path d="M377.1 860.8l-0.3 -1.7M391.6 843.6l-0.4 -2.4M406.8 826.3l-0.3 -1.6" stroke="#e0e820" stroke-width="1.25"/><path d="M378.3 858.6l-0.3 -1.8M381.5 854.9l-0.5 -3M392.9 842.1l-0.4 -2.2M394.8 840.2l-0.5 -2.7" stroke="#b0d034" stroke-width="1.25"/><path d="M379.3 858l-0.5 -2.5M396.2 838l-0.2 -1.3M401.2 832.2l-0.2 -1.2M403.3 829.2l-0.2 -1.3" stroke="#e0e820" stroke-width="0.75"/><path d="M380.1 856.5l-0.5 -2.8M400.5 832.7l-0.4 -2.4M410.2 821.6l-0.2 -1.3" stroke="#e0e820" stroke-width="1"/><path d="M386.5 849.8l-0.4 -2.3M393.8 840.9l-0.5 -2.9M402.5 830.3l-0.4 -2.3M405.3 827.4l-0.2 -1.2M408.1 823.6l-0.3 -1.6" stroke="#c8dc2c" stroke-width="1"/><path d="M389.1 846.9l-0.3 -1.6M398.4 835.6l-0.5 -2.7M408.1 824.5l-0.3 -1.6" stroke="#c8dc2c" stroke-width="0.75"/><path d="M397 837l-0.4 -2.2" stroke="#b0d034" stroke-width="0.75"/><path d="M372.7 866.5l-0.2 -0.9M377.1 861.6l-0.2 -1.1M378.1 861.2l-0.2 -0.9M384.4 853.3l-0.2 -1.1M387.5 850.2l-0.2 -1.4M391.1 845.4l-0.3 -1.6M400 835.6l-0.2 -0.9M409.1 824l-0.2 -0.9" stroke="#8cb848" stroke-width="1"/><path d="M374 864.3l-0.2 -1.3" stroke="#7cc048" stroke-width="1"/><path d="M374.9 863.6l-0.4 -1.9M380.3 858.4l-0.3 -1.4M386.5 851.1l-0.4 -2.1M390.1 847.3l-0.2 -0.8M402.2 832.6l-0.1 -0.7M404.3 829.6l-0.1 -0.5M409.1 824.9l-0.2 -0.6M411.2 822l-0.1 -0.5" stroke="#8cb848" stroke-width="0.75"/><path d="M381.1 856.9l-0.3 -1.8M394.8 841.3l-0.3 -1.1M397.2 838.4l-0.1 -0.6M399.4 836l-0.3 -1.3M403.5 830.7l-0.3 -1" stroke="#7cc048" stroke-width="0.75"/><path d="M382.5 855.3l-0.3 -1.2" stroke="#7cc048" stroke-width="1.25"/><path d="M392.6 844l-0.3 -1.1" stroke="#8cb848" stroke-width="1.25"/></g>
<g fill="none" stroke-linecap="round" opacity="0.75" clip-path="url(#cC)"><path d="M421.9 807.7l1.6 -1.8" stroke="#909a30" stroke-width="0.75"/><path d="M442.9 786.2l1 -1.1M424.9 806.8l1.6 -1.7M432.1 797.7l1 -1.1" stroke="#788a30" stroke-width="1"/><path d="M428.2 801.3l1.8 -2" stroke="#a8c030" stroke-width="0.75"/><path d="M430.7 798.6l0.9 -1M434 794.2l1 -1.2M427 804.1l2.3 -2.5M438.6 789.9l2.1 -2.3M443.4 784.5l1.6 -1.8" stroke="#788a30" stroke-width="0.75"/><path d="M420 811.4l1.3 -1.4M440.7 786.9l1.5 -1.7M442.5 785.3l1.2 -1.3M416.3 815.1l0.8 -0.9" stroke="#c8c828" stroke-width="1"/><path d="M422.1 807.7l1.5 -1.7M434.6 795.1l1.8 -2M434.3 795.6l1.2 -1.4M436.4 792.5l1.7 -1.9M414.2 818.3l1.3 -1.5" stroke="#909a30" stroke-width="1"/><path d="M441.3 788.5l2.1 -2.4" stroke="#909a30" stroke-width="1.25"/><path d="M437.6 791.7l1.1 -1.2M436.5 791.2l1.2 -1.3M440.7 787.8l2.2 -2.4" stroke="#c8c828" stroke-width="0.75"/><path d="M411 821.3l1.5 -1.6M440.6 786.8l1.5 -1.7" stroke="#a8c030" stroke-width="1"/><path d="M424.8 806.1l1.7 -1.9" stroke="#c8c828" stroke-width="1.25"/></g>
<g fill="none" stroke-linecap="round" opacity="0.6" clip-path="url(#cC)"><path d="M374.7 864.7l2.2 -2.5M373 868.5l0.9 -1.1M385.9 853.8l0.9 -1M371.7 867.9l1.8 -2.1M338.6 905.3l1.9 -2.1M380.5 860.4l2 -2.2" stroke="#d0d028" stroke-width="0.75"/><path d="M373.2 866.2l1.1 -1.3M360.6 882.2l2.1 -2.4M361.2 880.5l1.2 -1.4M387 851.4l1.7 -1.9M377.5 862.1l2.1 -2.3M369.8 870.3l2.3 -2.6M387.2 850.7l1.9 -2.1M375.4 863.9l2 -2.2" stroke="#a8c030" stroke-width="0.75"/><path d="M379.9 858.3l2.2 -2.5M389.4 848.9l0.9 -1.1M381.1 857.4l0.9 -1M340.1 903.4l1 -1.2M357.5 885.6l1.2 -1.4" stroke="#889830" stroke-width="0.75"/><path d="M349.2 893.5l1.6 -1.8M372.8 868.8l2.1 -2.4M353.3 889.8l1.5 -1.7" stroke="#889830" stroke-width="1"/><path d="M360.6 881.1l1.6 -1.8M379.2 862.1l2.1 -2.4M361.5 881.9l1 -1.1" stroke="#a8c030" stroke-width="1"/><path d="M370.8 870.9l2 -2.3M354.6 889.7l1.5 -1.7M349.8 894.6l1.2 -1.4M360.8 881.7l1.1 -1.3M368.2 871.7l2.2 -2.5" stroke="#d0d028" stroke-width="1"/></g>
<g fill="none" stroke-linecap="round" opacity="0.9" clip-path="url(#cC)"><path d="M390 856.1l2.7 -2.8" stroke="#c03818" stroke-width="1"/><path d="M381.3 866.3l2 -2M395 853.6l1.2 -1.3M381.7 865.1l2.6 -2.7M376.7 871.2l2.6 -2.7" stroke="#903820" stroke-width="1"/><path d="M396.2 849.6l2.2 -2.3M406.1 840.9l2.6 -2.7M401.1 845.4l2.6 -2.7M395.6 851l2.4 -2.4M389.8 856.3l1.5 -1.6M379.2 867.6l2.2 -2.3M388.6 860.1l1.4 -1.5" stroke="#a83020" stroke-width="1.25"/><path d="M406.4 841.5l2.2 -2.3M379.1 868.6l1.5 -1.6M390.2 858.5l2.6 -2.7" stroke="#d04810" stroke-width="1"/><path d="M386.7 860.2l1.3 -1.4" stroke="#a83020" stroke-width="1"/><path d="M405.6 841.5l2 -2.1M380.9 867.5l2.6 -2.7M377.8 870.2l2.2 -2.3M388.2 860.2l2.1 -2.2" stroke="#c03818" stroke-width="1.25"/><path d="M376.2 871.7l1.7 -1.8M376.8 871.2l1.7 -1.8" stroke="#903820" stroke-width="1.5"/><path d="M378.6 870.4l2.6 -2.6" stroke="#903820" stroke-width="0.75"/><path d="M384.6 862.9l2.2 -2.2M402.6 845.2l1.7 -1.8M390.2 857.4l1.2 -1.3" stroke="#d04810" stroke-width="1.25"/><path d="M387.3 859.5l1.4 -1.5" stroke="#903820" stroke-width="1.25"/><path d="M405.4 840.6l2.4 -2.5M397.6 849.2l2.1 -2.1" stroke="#a83020" stroke-width="1.5"/><path d="M389.5 858.3l2.1 -2.2" stroke="#c03818" stroke-width="1.5"/></g>
<g fill="none" stroke-linecap="round" opacity="0.8" clip-path="url(#cC)"><path d="M365.9 884.2l2 -2" stroke="#a83020" stroke-width="1.25"/><path d="M364.1 885.5l1.6 -1.6M367.9 883.5l1.5 -1.5M370.2 879l1.5 -1.5M369.9 879.4l2.1 -2.1M364.4 885l1.1 -1.1" stroke="#a83020" stroke-width="1"/><path d="M361 888.5l1.5 -1.5" stroke="#a83020" stroke-width="0.75"/><path d="M354 896.1l1.3 -1.3" stroke="#c03818" stroke-width="1"/><path d="M370.3 879.6l1.8 -1.8M356.5 892.2l1.7 -1.7" stroke="#c03818" stroke-width="0.75"/></g>
<g fill="none" stroke-linecap="round" opacity="0.7" clip-path="url(#cC)"><path d="M515.2 831.6l1.5 -1.9M494.1 860.1l1.6 -2.1M489.5 863.5l1.4 -1.7M483.2 872l1.7 -2.2" stroke="#b8a020" stroke-width="1.25"/><path d="M516.1 830.8l0.8 -1M515 833l1.4 -1.8M514.9 832.8l0.8 -1.1" stroke="#909a30" stroke-width="0.75"/><path d="M475.9 882.9l2.1 -2.7M514 831.3l1.2 -1.5M493.6 858.8l0.8 -1.1M475.6 883.1l1.8 -2.4" stroke="#909a30" stroke-width="1.25"/><path d="M460.5 902.1l1.2 -1.5M468.4 890.8l2.1 -2.8M471.8 887.9l2.1 -2.7M491.7 860.7l1.2 -1.6" stroke="#b8a020" stroke-width="1"/><path d="M472.8 886.5l1.2 -1.5M478.9 879.1l2.1 -2.7M525.1 817.8l1 -1.3" stroke="#707a20" stroke-width="0.75"/><path d="M454.9 908.1l2 -2.6M465 896.6l0.8 -1.1" stroke="#707a20" stroke-width="1"/><path d="M479.5 878l1.5 -1.9M470.1 889.3l1.3 -1.7M460.1 902.3l2.1 -2.7M488.5 865.5l1.6 -2.1M485.2 870.4l1.1 -1.4" stroke="#c8b020" stroke-width="1"/><path d="M485.7 870.8l1.8 -2.4M510.9 835.6l1.1 -1.5M499.5 852.8l1.3 -1.6M502.4 849.3l0.9 -1.2" stroke="#d06010" stroke-width="0.75"/><path d="M501 849.5l1.5 -1.9M508.4 839.2l1.5 -2M474.7 884.5l1.1 -1.4M518.8 826.8l2.1 -2.7" stroke="#b8a020" stroke-width="0.75"/><path d="M469 890.8l1.5 -2M516.3 830.2l1.3 -1.7M482.2 872.6l1.4 -1.8" stroke="#909a30" stroke-width="1"/><path d="M497.1 854.9l1.2 -1.6" stroke="#c8b020" stroke-width="0.75"/><path d="M473.2 883.9l0.8 -1M495.5 858.2l2 -2.6M497.1 853.8l1.6 -2.1M507.7 840.1l1.3 -1.7M507.8 840.2l1.1 -1.5" stroke="#d06010" stroke-width="1"/><path d="M516.2 830.4l1.1 -1.5M466.9 893l1 -1.3" stroke="#c8b020" stroke-width="1.25"/><path d="M486.8 866.7l2 -2.6M522.1 821.8l0.8 -1.1" stroke="#707a20" stroke-width="1.25"/></g>
<g fill="none" stroke-linecap="round" opacity="0.6" clip-path="url(#cC)"><path d="M404 894.1l1.8 -2.2M408.2 887.7l1 -1.1M420.4 873.4l1.1 -1.3M452.2 837.7l1.3 -1.5M401.6 898l0.9 -1.1" stroke="#c8a820" stroke-width="1"/><path d="M405.1 893.5l1.3 -1.6M446.3 844.4l1.3 -1.5M457.3 831.4l1.5 -1.8M416.1 880.8l1.5 -1.8" stroke="#a08828" stroke-width="1"/><path d="M431.7 861.2l1 -1.2M413.8 882.4l1.8 -2.2M419.7 874.9l1.2 -1.4M467.5 817.7l1.1 -1.3" stroke="#a08828" stroke-width="0.75"/><path d="M428.2 864.3l1.2 -1.4M458.9 827.8l1 -1.1M434.3 857.3l1 -1.2M453.6 834.4l1.3 -1.6" stroke="#707a20" stroke-width="1"/><path d="M401.8 896.8l0.8 -1M411 887.1l0.8 -0.9M412 885.9l1.2 -1.5M427.5 864.5l1.5 -1.8M462.7 823.5l1 -1.2M400.5 899.4l1.9 -2.3" stroke="#707a20" stroke-width="0.75"/><path d="M463.9 821.9l1 -1.2M429.4 865l0.8 -0.9M462.6 823.1l1.1 -1.3M432.3 858.9l1.1 -1.3" stroke="#b89018" stroke-width="0.75"/><path d="M409.4 888.5l1.1 -1.3M396.6 904.5l1.5 -1.8" stroke="#b89018" stroke-width="1"/><path d="M446.1 844l1.7 -2M427.1 867.2l1.2 -1.4" stroke="#c8a820" stroke-width="0.75"/><path d="M441.2 850l1.8 -2.2M441.5 850.6l1.9 -2.3" stroke="#707a20" stroke-width="0.5"/><path d="M418.1 876.3l1.4 -1.7" stroke="#c8a820" stroke-width="0.5"/></g>
<g fill="none" stroke-linecap="round" opacity="0.6" clip-path="url(#cC)"><path d="M514 887.2l1.3 -1.7M540.2 852.1l1.7 -2.3M513.7 887.3l1.8 -2.4M535.9 857l1 -1.3M500 906.2l1.3 -1.7M541.9 847.8l1.3 -1.8" stroke="#909a30" stroke-width="0.75"/><path d="M532.8 861.9l1.5 -2M510.9 889.6l1.3 -1.8M530 864.6l1.7 -2.2" stroke="#b8a020" stroke-width="1"/><path d="M523.4 874.6l1.1 -1.4M512.5 887.5l1.6 -2.2M533 862.4l1 -1.3M526 870.7l0.9 -1.3M521.1 876.6l0.9 -1.3" stroke="#d06010" stroke-width="1"/><path d="M507.9 893.9l1.1 -1.5M510.2 890.9l1.2 -1.6M543.2 846.3l1.2 -1.6" stroke="#d06010" stroke-width="0.5"/><path d="M528.3 868.3l1.6 -2.1" stroke="#909a30" stroke-width="1"/><path d="M526.6 870.3l0.7 -1M531.4 862.1l0.7 -1M515.4 885.9l1.3 -1.8M501.2 903.7l1.6 -2.1" stroke="#b8a020" stroke-width="0.75"/><path d="M516.1 884.7l1.5 -2M520.4 877.9l1.3 -1.7" stroke="#d06010" stroke-width="0.75"/></g>
<g fill="none" stroke-linecap="round" opacity="0.5" clip-path="url(#cC)"><path d="M481 735.5l1.3 -1.7M476.8 741.7l1.5 -1.9M449.8 773.9l0.8 -0.9M469.2 750.1l1.3 -1.6" stroke="#a89020" stroke-width="0.75"/><path d="M444.8 780.5l1.6 -2M482.7 733.4l1.5 -1.9M493.3 720.3l1 -1.3M463.1 757.4l0.8 -1M476 740.9l1.5 -1.8M464.3 755l1.8 -2.2" stroke="#909030" stroke-width="0.75"/><path d="M443.8 782.5l1.9 -2.3" stroke="#a89020" stroke-width="0.5"/><path d="M485.8 729.7l0.9 -1.1M451 772.1l1.6 -2M472.2 745.9l1 -1.2M481.2 735.4l0.8 -1M465.1 755.7l1.1 -1.4" stroke="#c8a818" stroke-width="0.75"/><path d="M464.4 756.4l1.6 -2M450.5 772l1.1 -1.4" stroke="#909030" stroke-width="1"/><path d="M475.9 741.3l1.1 -1.4" stroke="#909030" stroke-width="0.5"/><path d="M446.7 776.7l1.9 -2.3M480.9 735.7l1.6 -2" stroke="#c8a818" stroke-width="1"/><path d="M482.1 733.1l1.2 -1.5" stroke="#a89020" stroke-width="1"/></g>
<g fill="none" stroke-linecap="round" opacity="0.85" clip-path="url(#cC)"><path d="M232.2 669.7l0.8 -2.1M233.5 663.1l0.4 -1.1M234.9 664.6l0.7 -1.8" stroke="#e83010" stroke-width="1"/><path d="M233.8 663.4l0.7 -2.1" stroke="#f04818" stroke-width="0.75"/><path d="M227.9 674.1l0.9 -2.3M229.5 673.6l0.5 -1.3" stroke="#f04818" stroke-width="1.25"/><path d="M225.6 687.3l0.4 -1.1M226.7 687.4l0.5 -1.3" stroke="#f04818" stroke-width="1"/><path d="M224.5 693.8l0.6 -1.6M223.2 696.6l0.6 -1.6M221.5 696.4l0.9 -2.5" stroke="#e83010" stroke-width="1.25"/><path d="M226.9 686l0.9 -2.4" stroke="#e83010" stroke-width="0.75"/></g>
<g fill="none" stroke-linecap="round" opacity="0.85" clip-path="url(#cC)"><path d="M269.6 691.6l1.1 -1.1" stroke="#f04818" stroke-width="1.5"/><path d="M269.6 691l2 -2M259.5 702.5l1 -1M270.2 692.4l1.4 -1.4" stroke="#f04818" stroke-width="1"/><path d="M274.4 691.1l1.7 -1.7M273.6 690.3l1 -1" stroke="#e83010" stroke-width="0.75"/><path d="M255 706.1l1.2 -1.2" stroke="#f04818" stroke-width="0.75"/><path d="M267.3 697.9l1.8 -1.8M262.7 698.2l1.4 -1.4M262.9 702.2l2 -2" stroke="#f04818" stroke-width="1.25"/></g>
<g fill="none" stroke-linecap="round" opacity="0.85" clip-path="url(#cC)"><path d="M446.9 692.7l1.8 -1.9M445.2 695l1.9 -2M443.7 696.9l1.8 -2" stroke="#d83818" stroke-width="1.25"/><path d="M447.6 692.5l1.5 -1.7M459.9 679.3l1.4 -1.5M446.7 693.2l1.2 -1.3M461.1 676.5l1.4 -1.5" stroke="#d83818" stroke-width="1"/><path d="M466.5 671.1l1 -1.1" stroke="#f04818" stroke-width="1.5"/><path d="M455.2 683.5l1.1 -1.2M456.5 682.6l1.5 -1.6M460.9 679l1.9 -2.1M451.6 689l0.9 -1M449.2 690.9l1.9 -2.1" stroke="#f04818" stroke-width="1"/><path d="M453.9 685.4l1.5 -1.7M443.6 697l1.8 -1.9M450.4 687.9l1.5 -1.6M461.2 678l1.8 -1.9" stroke="#f04818" stroke-width="1.25"/><path d="M464.5 674.2l1.6 -1.7M447.7 693.3l1.3 -1.4" stroke="#e83010" stroke-width="1"/><path d="M451.5 688.5l1.7 -1.9" stroke="#e83010" stroke-width="1.25"/></g>
<g fill="none" stroke-linecap="round" opacity="0.85" clip-path="url(#cC)"><path d="M511.6 751.8l0.9 -1.8" stroke="#e83010" stroke-width="1"/><path d="M517.6 740.1l0.7 -1.3M511.2 755.3l0.8 -1.5" stroke="#f04818" stroke-width="1"/><path d="M515.8 746.1l1.2 -2.3M513.2 751.6l0.5 -1.1M517.8 740l1.1 -2.3" stroke="#f04818" stroke-width="1.25"/><path d="M517.8 742.5l0.8 -1.6M519.5 737.4l0.8 -1.5" stroke="#e83010" stroke-width="1.25"/></g>
<g fill="none" stroke-linecap="round" opacity="0.8" clip-path="url(#cC)"><path d="M420.6 687.1l1 -2.6M424.3 677.6l0.7 -1.7" stroke="#e83010" stroke-width="1"/><path d="M427.1 672.9l0.5 -1.4M427.6 668.6l1 -2.4" stroke="#e83010" stroke-width="1.25"/><path d="M420.1 687.1l0.7 -1.7M428.5 670.1l1 -2.4" stroke="#f04818" stroke-width="1"/></g>
<g fill="none" stroke-linecap="round" opacity="0.55" clip-path="url(#cC)"><path d="M322.1 700.2l1 -1M336.7 894.1l1.6 -2.6M447.1 744.8l1.3 -1.2" stroke="#e84810" stroke-width="0.75"/><path d="M528.8 850.5l0.6 -1M348.8 706.9l1 -1.6M329 748.6l0.4 -0.6M211.4 748.6l0.7 -0.7M236.4 847.2l0.5 -0.9M305.2 898.1l0.5 -0.9" stroke="#ffd000" stroke-width="1.25"/><path d="M317.3 884.2l0.7 -0.9M205.4 797.3l1 -1.2" stroke="#d0c020" stroke-width="0.75"/><path d="M442.3 729.4l0.5 -0.4M477.6 867.1l0.5 -0.9M417.5 831.6l0.6 -0.7M178.8 840.8l0.6 -0.8M309.8 831.6l1 -1M230.8 716.3l0.5 -0.4" stroke="#e84810" stroke-width="1"/><path d="M298.8 671.8l0.7 -1.3M432.5 801.1l0.5 -0.8M336.7 698.6l0.3 -0.5M373.3 695l0.4 -0.4" stroke="#909020" stroke-width="0.75"/><path d="M345.3 809.9l0.5 -0.7M492.3 721.1l1.5 -1.3M406.1 762.6l0.4 -0.6M368.9 672.3l0.3 -0.4M301.7 749.3l0.6 -0.8M442.2 873.7l0.7 -1.3" stroke="#f05818" stroke-width="0.75"/><path d="M426.8 809l0.8 -1.4M295.7 707.4l0.3 -0.5M205.4 777.1l0.5 -0.6M512.5 811.3l0.7 -0.6M337.3 710.2l0.4 -0.8M471.8 908.3l0.5 -0.9" stroke="#ffd000" stroke-width="1"/><path d="M488.6 906.8l1.7 -2.1M372.8 749.3l0.7 -1.2M379.2 861l0.8 -0.7M439.8 899.3l0.7 -0.8M522.4 818l0.9 -0.8M428.1 694.7l1.1 -1M436 895.7l0.6 -0.9M469.6 868l0.6 -0.9M430.5 710.8l0.7 -0.6M341 730.4l1.3 -1.5" stroke="#909020" stroke-width="1"/><path d="M445.8 693.8l1 -0.9M212.6 729.8l0.7 -1.4" stroke="#c08010" stroke-width="1.25"/><path d="M256.2 716.1l1 -1.7M227.3 906.4l0.7 -1M395.1 806.8l1.2 -1.6M478.3 843.2l0.8 -0.7M211.6 785.9l0.6 -0.7M477.9 829.2l0.5 -0.8" stroke="#f05818" stroke-width="1.25"/><path d="M335.2 896l1.6 -1.4M423.6 733.6l0.6 -0.9M383.5 846.4l0.5 -0.8M311.8 725.5l0.8 -1" stroke="#d0c020" stroke-width="1"/><path d="M224.4 741.6l0.9 -0.9M400.5 869.9l0.6 -0.8M472.9 752.6l1.3 -1.4" stroke="#f05818" stroke-width="1"/><path d="M183.1 876.7l0.7 -1M395.6 680.9l0.3 -0.4M340.3 754.7l0.5 -0.5M383.4 894.1l1.4 -1.4" stroke="#c08010" stroke-width="0.75"/><path d="M371.1 804.5l1.8 -1.5M233.8 803.4l1 -1.5M425.4 678l0.4 -0.6M393.4 833.4l0.6 -1" stroke="#c08010" stroke-width="1"/><path d="M296.8 808.7l0.5 -0.7M233.5 704.6l0.4 -0.6M222.2 697.6l0.4 -0.4M313.2 909.7l0.9 -1.3" stroke="#909020" stroke-width="1.25"/><path d="M442.5 668.8l0.4 -0.3M462.2 687.4l0.4 -0.4M269.2 711.6l1.1 -1.3" stroke="#d0c020" stroke-width="1.25"/><path d="M368.2 712l1 -1.4M308.3 885.2l1.3 -1.9M496.6 749.4l0.5 -0.5M324.8 692.1l0.7 -0.6M408.8 876.3l0.7 -0.7M394.1 771.7l0.6 -0.5" stroke="#ffd000" stroke-width="0.75"/><path d="M395.1 867.3l1.9 -1.9" stroke="#e84810" stroke-width="1.25"/></g>
<polygon points="161,907.5 555.5,912 549.5,925.6 168.5,919.8" fill="url(#sC)" />
<polyline points="284,656.4 348.7,741.9" fill="none" stroke="#f01a0a" stroke-width="1.5" />
<polyline points="364,761.4 478.4,910.5 471.5,926" fill="none" stroke="#f01a0a" stroke-width="1.5" />
<circle cx="343.6" cy="735.6" r="1.2" fill="#f01a0a"/>
<g filter="url(#blur06)">
<path d="M341.2 753 C341.6 747 346 742.4 352 741.4 C358 740.6 365 742.4 368.6 746.6 C370.6 749 371.4 752 370.6 754.6 L368.6 757.4 L366 758.6 L364 761 L360 761.6 L355.5 762.4 L352 765.4 L347 765 L344.6 767.4 L342.6 765 Z" fill="#f6fc10"/>
<path d="M338.6 766.6 L343 757 L345 765 Z" fill="#ffc000"/>
<path d="M342.8 753.6 C343.2 748.6 347 744.4 352 743.6 C358 742.8 364 744.4 367.2 747.8 C369 750 369.6 752 369 754 L367.4 756.4 L365 757.6 L363 760 L359.6 760.6 L355 761.4 L351.6 764.4 L347 764 L344.8 766 L343.6 764 Z" fill="url(#gDomeC)"/>
<path d="M344 762 L348.6 752 M350 764 L352 756" stroke="#127c8c" stroke-width="1.2" fill="none" opacity="0.6"/>
<path d="M344.8 765 L347 763 L352 763.4 L355.5 760.8 L360 760 L364 759 L366.4 757" stroke="#22eefc" stroke-width="2.4" fill="none" stroke-linejoin="round"/>
<ellipse cx="353" cy="762.6" rx="3.6" ry="2" fill="#7440f2"/>
<ellipse cx="350.6" cy="764.8" rx="2.6" ry="1.6" fill="#6a50f4"/>
<path d="M344.4 764 L345 767.6 L346.4 767 L346 763.6 Z" fill="#6a78f4"/>
</g>
<path d="M348.7 741.9 L349.4 747 L350.4 756 L351 758.8 L353.6 766.6 L355.8 770.5 L358.1 766.6 L362 776 L364 761.4" fill="none" stroke="#f01a0a" stroke-width="1.6" stroke-linejoin="round"/>
<path d="M349.2 747.6 L350.8 747.6 L351.6 756 L349.8 756 Z" fill="#f01a0a"/>
<circle cx="356.6" cy="771" r="2" fill="#e01810"/>
<circle cx="362" cy="775.6" r="1.3" fill="#f01a0a"/>
<circle cx="368.6" cy="741.6" r="1.2" fill="#e82810"/>
<circle cx="386" cy="789.6" r="2.3" fill="#2020e6"/>
<line x1="504.3" y1="652.1" x2="559.8" y2="906" stroke="#b9bdca" stroke-width="1.3" />
<line x1="504.3" y1="652.1" x2="512.1" y2="649.5" stroke="#b9bdca" stroke-width="1.2" />
<text x="518" y="651.3" font-size="13.4" text-anchor="start" fill="#fff" font-weight="bold" font-family="'Liberation Serif','DejaVu Serif',serif" paint-order="stroke" stroke="#1c2646" stroke-opacity="0.5" stroke-width="1.3" stroke-linejoin="round" >0</text>
<line x1="510.3" y1="680.6" x2="517.3" y2="678.8" stroke="#b9bdca" stroke-width="1.2" />
<text x="521.2" y="682" font-size="13.7" text-anchor="start" fill="#fff" font-weight="bold" font-family="'Liberation Serif','DejaVu Serif',serif" paint-order="stroke" stroke="#1c2646" stroke-opacity="0.5" stroke-width="1.31" stroke-linejoin="round" >10</text>
<line x1="517.3" y1="713.6" x2="524.3" y2="711.8" stroke="#b9bdca" stroke-width="1.2" />
<text x="528.2" y="714.4" font-size="14" text-anchor="start" fill="#fff" font-weight="bold" font-family="'Liberation Serif','DejaVu Serif',serif" paint-order="stroke" stroke="#1c2646" stroke-opacity="0.5" stroke-width="1.32" stroke-linejoin="round" >20</text>
<line x1="525" y1="750" x2="532.9" y2="748.2" stroke="#b9bdca" stroke-width="1.2" />
<text x="536.2" y="748.2" font-size="14.4" text-anchor="start" fill="#fff" font-weight="bold" font-family="'Liberation Serif','DejaVu Serif',serif" paint-order="stroke" stroke="#1c2646" stroke-opacity="0.5" stroke-width="1.33" stroke-linejoin="round" >30</text>
<line x1="534.2" y1="790.5" x2="542.7" y2="787.9" stroke="#b9bdca" stroke-width="1.2" />
<text x="545.8" y="790.5" font-size="14.8" text-anchor="start" fill="#fff" font-weight="bold" font-family="'Liberation Serif','DejaVu Serif',serif" paint-order="stroke" stroke="#1c2646" stroke-opacity="0.5" stroke-width="1.34" stroke-linejoin="round" >40</text>
<line x1="544" y1="835.2" x2="552.3" y2="833.1" stroke="#b9bdca" stroke-width="1.2" />
<text x="555" y="835.2" font-size="15.2" text-anchor="start" fill="#fff" font-weight="bold" font-family="'Liberation Serif','DejaVu Serif',serif" paint-order="stroke" stroke="#1c2646" stroke-opacity="0.5" stroke-width="1.36" stroke-linejoin="round" >50</text>
<line x1="555" y1="885.8" x2="564" y2="883.2" stroke="#b9bdca" stroke-width="1.2" />
<text x="566.1" y="887.1" font-size="15.6" text-anchor="start" fill="#fff" font-weight="bold" font-family="'Liberation Serif','DejaVu Serif',serif" paint-order="stroke" stroke="#1c2646" stroke-opacity="0.5" stroke-width="1.37" stroke-linejoin="round" >60</text>
<text x="579.6" y="769" font-size="12.8" text-anchor="start" fill="#fff" font-weight="bold" font-family="'Liberation Serif','DejaVu Serif',serif" textLength="37.2" lengthAdjust="spacingAndGlyphs" paint-order="stroke" stroke="#1c2646" stroke-opacity="0.5" stroke-width="1.28" stroke-linejoin="round" >Y(μm)</text>
<line x1="172" y1="922.8" x2="542" y2="927.2" stroke="#efe8e4" stroke-width="1.5" stroke-dasharray="17.6 17.4"/>
<line x1="171.7" y1="922.8" x2="542" y2="927.2" stroke="#8f8a98" stroke-width="1" />
<line x1="172.4" y1="922.31" x2="172.4" y2="930.31" stroke="#b9bdca" stroke-width="1.3" />
<text x="172.4" y="946.2" font-size="14" text-anchor="middle" fill="#fff" font-weight="bold" font-family="'Liberation Serif','DejaVu Serif',serif" paint-order="stroke" stroke="#1c2646" stroke-opacity="0.5" stroke-width="1.32" stroke-linejoin="round" >0</text>
<line x1="229.7" y1="922.99" x2="229.7" y2="930.99" stroke="#b9bdca" stroke-width="1.3" />
<text x="229.7" y="946.43" font-size="14" text-anchor="middle" fill="#fff" font-weight="bold" font-family="'Liberation Serif','DejaVu Serif',serif" paint-order="stroke" stroke="#1c2646" stroke-opacity="0.5" stroke-width="1.32" stroke-linejoin="round" >10</text>
<line x1="287.3" y1="923.67" x2="287.3" y2="931.67" stroke="#b9bdca" stroke-width="1.3" />
<text x="287.3" y="946.66" font-size="14" text-anchor="middle" fill="#fff" font-weight="bold" font-family="'Liberation Serif','DejaVu Serif',serif" paint-order="stroke" stroke="#1c2646" stroke-opacity="0.5" stroke-width="1.32" stroke-linejoin="round" >20</text>
<line x1="345.3" y1="924.36" x2="345.3" y2="932.36" stroke="#b9bdca" stroke-width="1.3" />
<text x="345.3" y="946.89" font-size="14" text-anchor="middle" fill="#fff" font-weight="bold" font-family="'Liberation Serif','DejaVu Serif',serif" paint-order="stroke" stroke="#1c2646" stroke-opacity="0.5" stroke-width="1.32" stroke-linejoin="round" >30</text>
<line x1="403.4" y1="925.05" x2="403.4" y2="933.05" stroke="#b9bdca" stroke-width="1.3" />
<text x="403.4" y="947.13" font-size="14" text-anchor="middle" fill="#fff" font-weight="bold" font-family="'Liberation Serif','DejaVu Serif',serif" paint-order="stroke" stroke="#1c2646" stroke-opacity="0.5" stroke-width="1.32" stroke-linejoin="round" >40</text>
<line x1="461.2" y1="925.74" x2="461.2" y2="933.74" stroke="#b9bdca" stroke-width="1.3" />
<text x="461.2" y="947.36" font-size="14" text-anchor="middle" fill="#fff" font-weight="bold" font-family="'Liberation Serif','DejaVu Serif',serif" paint-order="stroke" stroke="#1c2646" stroke-opacity="0.5" stroke-width="1.32" stroke-linejoin="round" >50</text>
<line x1="519.9" y1="926.44" x2="519.9" y2="934.44" stroke="#b9bdca" stroke-width="1.3" />
<text x="519.9" y="947.59" font-size="14" text-anchor="middle" fill="#fff" font-weight="bold" font-family="'Liberation Serif','DejaVu Serif',serif" paint-order="stroke" stroke="#1c2646" stroke-opacity="0.5" stroke-width="1.32" stroke-linejoin="round" >60</text>
<text x="337.1" y="968.6" font-size="13" text-anchor="start" fill="#fff" font-weight="bold" font-family="'Liberation Serif','DejaVu Serif',serif" textLength="38.2" lengthAdjust="spacingAndGlyphs" paint-order="stroke" stroke="#1c2646" stroke-opacity="0.5" stroke-width="1.29" stroke-linejoin="round" >X(μm)</text>
<text x="212.7" y="994.1" font-size="24.3" text-anchor="start" fill="#fff" font-weight="bold" font-family="'Liberation Serif','DejaVu Serif',serif" textLength="312.2" lengthAdjust="spacingAndGlyphs" paint-order="stroke" stroke="#1c2646" stroke-opacity="0.5" stroke-width="1.63" stroke-linejoin="round" >width= 6.5 μm, depth= 2.7 μm</text>
<rect x="645" y="725.3" width="32.3" height="119.8" fill="#dfe3ea"/>
<rect x="646.4" y="726.6" width="29.5" height="13.77" fill="#f82222"/>
<rect x="646.4" y="741.38" width="29.5" height="13.77" fill="#ff7800"/>
<rect x="646.4" y="756.15" width="29.5" height="13.77" fill="#ffff00"/>
<rect x="646.4" y="770.92" width="29.5" height="13.77" fill="#7ccb40"/>
<rect x="646.4" y="785.7" width="29.5" height="13.77" fill="#009080"/>
<rect x="646.4" y="800.48" width="29.5" height="13.77" fill="#20e0ff"/>
<rect x="646.4" y="815.25" width="29.5" height="13.77" fill="#6222d2"/>
<rect x="646.4" y="830.02" width="29.5" height="13.77" fill="#ffcccc"/>
<text x="688.7" y="737" font-size="10.5" text-anchor="start" fill="#fff" font-weight="bold" font-family="'Liberation Serif','DejaVu Serif',serif" textLength="32" lengthAdjust="spacingAndGlyphs" paint-order="stroke" stroke="#1c2646" stroke-opacity="0.5" stroke-width="1.22" stroke-linejoin="round" >3.5 μm</text>
<text x="688.7" y="750.8" font-size="10.5" text-anchor="start" fill="#fff" font-weight="bold" font-family="'Liberation Serif','DejaVu Serif',serif" textLength="32" lengthAdjust="spacingAndGlyphs" paint-order="stroke" stroke="#1c2646" stroke-opacity="0.5" stroke-width="1.22" stroke-linejoin="round" >3.0 μm</text>
<text x="688.7" y="763.8" font-size="10.5" text-anchor="start" fill="#fff" font-weight="bold" font-family="'Liberation Serif','DejaVu Serif',serif" textLength="32" lengthAdjust="spacingAndGlyphs" paint-order="stroke" stroke="#1c2646" stroke-opacity="0.5" stroke-width="1.22" stroke-linejoin="round" >2.5 μm</text>
<text x="688.7" y="779.4" font-size="10.5" text-anchor="start" fill="#fff" font-weight="bold" font-family="'Liberation Serif','DejaVu Serif',serif" textLength="32" lengthAdjust="spacingAndGlyphs" paint-order="stroke" stroke="#1c2646" stroke-opacity="0.5" stroke-width="1.22" stroke-linejoin="round" >2.0 μm</text>
<text x="688.7" y="793.6" font-size="10.5" text-anchor="start" fill="#fff" font-weight="bold" font-family="'Liberation Serif','DejaVu Serif',serif" textLength="32" lengthAdjust="spacingAndGlyphs" paint-order="stroke" stroke="#1c2646" stroke-opacity="0.5" stroke-width="1.22" stroke-linejoin="round" >1.5 μm</text>
<text x="688.7" y="809.2" font-size="10.5" text-anchor="start" fill="#fff" font-weight="bold" font-family="'Liberation Serif','DejaVu Serif',serif" textLength="32" lengthAdjust="spacingAndGlyphs" paint-order="stroke" stroke="#1c2646" stroke-opacity="0.5" stroke-width="1.22" stroke-linejoin="round" >1.0 μm</text>
<text x="688.7" y="824.8" font-size="10.5" text-anchor="start" fill="#fff" font-weight="bold" font-family="'Liberation Serif','DejaVu Serif',serif" textLength="32" lengthAdjust="spacingAndGlyphs" paint-order="stroke" stroke="#1c2646" stroke-opacity="0.5" stroke-width="1.22" stroke-linejoin="round" >0.5 μm</text>
<text x="688.7" y="839.9" font-size="10.5" text-anchor="start" fill="#fff" font-weight="bold" font-family="'Liberation Serif','DejaVu Serif',serif" textLength="32" lengthAdjust="spacingAndGlyphs" paint-order="stroke" stroke="#1c2646" stroke-opacity="0.5" stroke-width="1.22" stroke-linejoin="round" >0.0 μm</text>
<line x1="23.3" y1="1016.8" x2="747" y2="1016.8" stroke="#545c72" stroke-width="1" />
<line x1="747" y1="1016.8" x2="747" y2="1120.5" stroke="#545c72" stroke-width="1" />
<line x1="23.3" y1="1092.5" x2="747" y2="1092.5" stroke="#545c72" stroke-width="1" />
<line x1="23.3" y1="1065" x2="747" y2="1065" stroke="#545c72" stroke-width="1" />
<line x1="23.3" y1="1037.5" x2="747" y2="1037.5" stroke="#545c72" stroke-width="1" />
<line x1="120.8" y1="1016.8" x2="120.8" y2="1120.5" stroke="#545c72" stroke-width="1" />
<line x1="218.3" y1="1016.8" x2="218.3" y2="1120.5" stroke="#545c72" stroke-width="1" />
<line x1="316.4" y1="1016.8" x2="316.4" y2="1120.5" stroke="#545c72" stroke-width="1" />
<line x1="414.4" y1="1016.8" x2="414.4" y2="1120.5" stroke="#545c72" stroke-width="1" />
<line x1="512.2" y1="1016.8" x2="512.2" y2="1120.5" stroke="#545c72" stroke-width="1" />
<line x1="609.6" y1="1016.8" x2="609.6" y2="1120.5" stroke="#545c72" stroke-width="1" />
<line x1="708" y1="1016.8" x2="708" y2="1120.5" stroke="#545c72" stroke-width="1" />
<line x1="23.3" y1="1016.8" x2="23.3" y2="1121.3" stroke="#9da3b4" stroke-width="1.7" />
<line x1="20.3" y1="1120.5" x2="747" y2="1120.5" stroke="#9da3b4" stroke-width="1.9" />
<line x1="19.8" y1="1120.5" x2="23.3" y2="1120.5" stroke="#9da3b4" stroke-width="1.3" />
<text x="16.2" y="1125.9" font-size="13.5" text-anchor="end" fill="#fff" font-weight="bold" font-family="'Liberation Serif','DejaVu Serif',serif" paint-order="stroke" stroke="#1c2646" stroke-opacity="0.5" stroke-width="1.3" stroke-linejoin="round" >0</text>
<line x1="19.8" y1="1092.5" x2="23.3" y2="1092.5" stroke="#9da3b4" stroke-width="1.3" />
<text x="16.2" y="1097" font-size="13.5" text-anchor="end" fill="#fff" font-weight="bold" font-family="'Liberation Serif','DejaVu Serif',serif" paint-order="stroke" stroke="#1c2646" stroke-opacity="0.5" stroke-width="1.3" stroke-linejoin="round" >1</text>
<line x1="19.8" y1="1065" x2="23.3" y2="1065" stroke="#9da3b4" stroke-width="1.3" />
<text x="16.2" y="1068.5" font-size="13.5" text-anchor="end" fill="#fff" font-weight="bold" font-family="'Liberation Serif','DejaVu Serif',serif" paint-order="stroke" stroke="#1c2646" stroke-opacity="0.5" stroke-width="1.3" stroke-linejoin="round" >2</text>
<line x1="19.8" y1="1037.5" x2="23.3" y2="1037.5" stroke="#9da3b4" stroke-width="1.3" />
<text x="16.2" y="1040.1" font-size="13.5" text-anchor="end" fill="#fff" font-weight="bold" font-family="'Liberation Serif','DejaVu Serif',serif" paint-order="stroke" stroke="#1c2646" stroke-opacity="0.5" stroke-width="1.3" stroke-linejoin="round" >3</text>
<line x1="23.3" y1="1120.5" x2="23.3" y2="1124.5" stroke="#9da3b4" stroke-width="1.4" />
<text x="23.3" y="1140.8" font-size="13.5" text-anchor="middle" fill="#fff" font-weight="bold" font-family="'Liberation Serif','DejaVu Serif',serif" paint-order="stroke" stroke="#1c2646" stroke-opacity="0.5" stroke-width="1.3" stroke-linejoin="round" >0</text>
<line x1="120.8" y1="1120.5" x2="120.8" y2="1124.5" stroke="#9da3b4" stroke-width="1.4" />
<text x="120.8" y="1140.8" font-size="13.5" text-anchor="middle" fill="#fff" font-weight="bold" font-family="'Liberation Serif','DejaVu Serif',serif" paint-order="stroke" stroke="#1c2646" stroke-opacity="0.5" stroke-width="1.3" stroke-linejoin="round" >10</text>
<line x1="218.3" y1="1120.5" x2="218.3" y2="1124.5" stroke="#9da3b4" stroke-width="1.4" />
<text x="218.3" y="1140.8" font-size="13.5" text-anchor="middle" fill="#fff" font-weight="bold" font-family="'Liberation Serif','DejaVu Serif',serif" paint-order="stroke" stroke="#1c2646" stroke-opacity="0.5" stroke-width="1.3" stroke-linejoin="round" >20</text>
<line x1="316.4" y1="1120.5" x2="316.4" y2="1124.5" stroke="#9da3b4" stroke-width="1.4" />
<text x="316.4" y="1140.8" font-size="13.5" text-anchor="middle" fill="#fff" font-weight="bold" font-family="'Liberation Serif','DejaVu Serif',serif" paint-order="stroke" stroke="#1c2646" stroke-opacity="0.5" stroke-width="1.3" stroke-linejoin="round" >30</text>
<line x1="414.4" y1="1120.5" x2="414.4" y2="1124.5" stroke="#9da3b4" stroke-width="1.4" />
<text x="414.4" y="1140.8" font-size="13.5" text-anchor="middle" fill="#fff" font-weight="bold" font-family="'Liberation Serif','DejaVu Serif',serif" paint-order="stroke" stroke="#1c2646" stroke-opacity="0.5" stroke-width="1.3" stroke-linejoin="round" >40</text>
<line x1="512.2" y1="1120.5" x2="512.2" y2="1124.5" stroke="#9da3b4" stroke-width="1.4" />
<text x="512.2" y="1140.8" font-size="13.5" text-anchor="middle" fill="#fff" font-weight="bold" font-family="'Liberation Serif','DejaVu Serif',serif" paint-order="stroke" stroke="#1c2646" stroke-opacity="0.5" stroke-width="1.3" stroke-linejoin="round" >50</text>
<line x1="609.6" y1="1120.5" x2="609.6" y2="1124.5" stroke="#9da3b4" stroke-width="1.4" />
<line x1="708" y1="1120.5" x2="708" y2="1124.5" stroke="#9da3b4" stroke-width="1.4" />
<text x="708" y="1140.8" font-size="13.5" text-anchor="middle" fill="#fff" font-weight="bold" font-family="'Liberation Serif','DejaVu Serif',serif" paint-order="stroke" stroke="#1c2646" stroke-opacity="0.5" stroke-width="1.3" stroke-linejoin="round" >70</text>
<text x="2.5" y="1010" font-size="12.8" text-anchor="start" fill="#fff" font-weight="bold" font-family="'Liberation Serif','DejaVu Serif',serif" textLength="36.5" lengthAdjust="spacingAndGlyphs" paint-order="stroke" stroke="#1c2646" stroke-opacity="0.5" stroke-width="1.28" stroke-linejoin="round" >Z(μm)</text>
<text x="351" y="1151" font-size="11.3" text-anchor="start" fill="#fff" font-weight="bold" font-family="'Liberation Serif','DejaVu Serif',serif" textLength="65" lengthAdjust="spacingAndGlyphs" paint-order="stroke" stroke="#1c2646" stroke-opacity="0.5" stroke-width="1.24" stroke-linejoin="round" >Distance(μm)</text>
<polyline points="23.3,1040.8 33.8,1040.8 35.8,1050 37.8,1040.8 60.8,1040.8 62.5,1048 64.2,1040.8 72.5,1040.8 73.5,1040.2 299.8,1040.2 301.8,1053.8 303.8,1040.2 321.92,1040 324.48,1076.8 327.2,1077.6 329.92,1052 331.2,1086.4 332,1087.2 332.8,1107.2 335.2,1086.4 336.8,1096 338.4,1094.4 340,1099.2 342.4,1113.92 359.2,1113.92 360,1083.2 361.6,1087.2 362.4,1082.4 364,1092 366.4,1094.4 370.4,1104 371.2,1100.8 372.48,1113.92 373.6,1100 376.8,1099.2 378.4,1096 379.52,1098.4 380.48,1089.6 381.6,1040 435.2,1039.68 436,1040.32 544.4,1040.2 546,1047 547.6,1040.2 563.8,1040.2 565.4,1055 567,1040.2 720.6,1040.2 723,1053 725,1041.6 743,1041.6 744.6,1045 746,1041.6 747,1041.6" fill="none" stroke="#bcc1cc" stroke-width="1.15" stroke-linejoin="round"/>
<rect x="321.3" y="1040.3" width="63" height="74.6" fill="none" stroke="#c2222e" stroke-width="1.2"/>
<line x1="355.2" y1="1016.8" x2="355.2" y2="1120.5" stroke="#c0283a" stroke-width="1" />
<line x1="463.7" y1="1016.8" x2="463.7" y2="1120.5" stroke="#2c2cb0" stroke-width="1" />
<text x="773" y="634" font-size="50.4" text-anchor="start" fill="#fff" font-weight="bold" font-family="'Liberation Serif','DejaVu Serif',serif" textLength="69.4" lengthAdjust="spacingAndGlyphs" paint-order="stroke" stroke="#1c2646" stroke-opacity="0.5" stroke-width="2.2" stroke-linejoin="round" >(D)</text>
<polygon points="976,655.2 1226.8,656 1291.5,845.6 901.5,844.2" fill="#3a4678" />
<polygon points="976.8,655.8 1226,656.6 1290.6,845.6 902.4,844.2" fill="#ff6a02" />
<g fill="none" stroke-linecap="round" opacity="0.8" clip-path="url(#cD)"><path d="M1140.1 825l1.2 -1.4M1131.3 835.1l1.2 -1.1M958.6 804.2l1.7 -1.1M933 835.3l2.5 -1.9M936.5 799.2l0.4 -0.3M1145.8 765.9l1 -1.1M1122.6 835.2l0.9 -1M1029.5 769l0.3 -0.3M943.7 779.4l2 -1.2M1058.2 747.5l1.3 -1M980.7 835.5l1.8 -1.2M960.9 785.2l2 -1.6M991.9 676.3l0.9 -0.8M1065.5 760.3l0.4 -0.3M1025 717.4l1.3 -1M937.1 826.5l1.1 -0.8M953.8 790.9l0.4 -0.2" stroke="#5a4008" stroke-width="0.75"/><path d="M1254.8 841.5l0.3 -0.5M1031.8 820.4l1.5 -1.2M1010.6 748.7l0.3 -0.3M930.9 837.7l1 -0.7M1208.1 669.6l0.7 -1M1014.5 780.7l0.6 -0.4M1158.7 760.5l1.8 -1.7M980.6 729.6l1.7 -1.3M1071.4 776.6l1.6 -1.6M962 833.5l0.8 -0.6M1016.2 748.2l0.4 -0.3M1175 798.5l0.7 -0.8M1090 839.7l0.9 -0.9M1241.7 828l0.6 -0.9M1203.4 696.4l0.9 -1.1M1251.8 839.1l0.5 -0.7" stroke="#140e00" stroke-width="0.75"/><path d="M971.5 708.6l0.9 -0.6M1094.1 772.3l0.8 -0.8M978.6 786.9l0.9 -0.7" stroke="#4a3406" stroke-width="1.25"/><path d="M1142.8 686l0.6 -0.7M1104.3 774.7l1.4 -1.5M1138.7 674.1l0.3 -0.3M1187.5 715.9l0.9 -1M1146.5 676.8l0.3 -0.3M1075.1 815.6l0.6 -0.6M952.3 842.8l0.6 -0.4M953 773.3l1.2 -0.7M1029.7 704.3l0.2 -0.2M1128.6 729.2l1.1 -1.2M1159.7 733.2l1.2 -1.1M1087.5 745.7l0.3 -0.3M970.5 824l1.2 -1M1079.7 814.2l0.7 -0.8M1088.8 802.9l0.5 -0.5M999.4 778.2l1.4 -1.3M1147 810.4l0.3 -0.3" stroke="#2a1e00" stroke-width="1"/><path d="M1222.9 826l1.3 -1.5M1221.4 722.3l0.5 -0.7M995.4 807.7l0.5 -0.4M927.2 808.1l1.6 -0.9M993.3 817.3l0.8 -0.6M1023.1 677.9l1.1 -0.8M1167.3 767.7l1.1 -1.4M950.8 823.9l1.7 -1.3M1216.4 711.9l1.1 -1.5M1086 815.5l1.1 -1.1M1031.5 772l0.5 -0.5M970.8 801.3l0.5 -0.3M1092.2 776.7l1.6 -1.3M1016.7 724.5l1.3 -1M982.5 807.3l0.4 -0.4M1214.9 659.1l0.2 -0.2M1178.7 739l1.1 -1.3M992.8 787.4l1 -0.9M1253.2 783.9l1.5 -2.2M1016.7 767.5l1.5 -1.1M1210.6 728.3l1.1 -1.5M969.4 837.5l2.4 -1.6M939.6 817.8l1.7 -1" stroke="#140e00" stroke-width="1"/><path d="M975.2 841.2l0.7 -0.5M1027.8 795.9l0.7 -0.5M1222.1 805.8l0.3 -0.4M997.6 727.1l0.3 -0.3M1184.1 800.4l0.4 -0.4M1166.5 815.5l0.4 -0.4M1052.4 796.4l1 -0.9M935.3 844.5l1.1 -0.8M1070.3 813.9l0.3 -0.3M1057.1 759.7l0.5 -0.4M1077.7 820.5l1.4 -1.2M939.7 839.4l2.7 -1.9M1041.7 661.2l0.3 -0.2M1099.3 781l1.3 -1.3M934.3 822.4l2.6 -1.7M1236.6 766.3l0.4 -0.6M1189.4 764.6l1.1 -1.5M1120.7 732.7l0.9 -0.8M978.7 744.6l1.6 -1.3M1153.8 774l0.6 -0.7M1209.7 763.2l0.9 -1M1103 798l2 -2.1" stroke="#1e1600" stroke-width="1"/><path d="M913.6 825.6l1.3 -0.9M1099.1 824.6l0.4 -0.4M1159.5 748.5l0.8 -0.9M992.5 719l0.3 -0.2M920.6 836l0.4 -0.3M999.5 787l1.4 -1M1105.8 676.1l1.3 -1.2M1215.6 758.8l0.3 -0.4M965.9 814.6l2.5 -1.6M1185.5 740l0.9 -1M1008.9 828.1l0.4 -0.3M1118.6 819.8l0.5 -0.5M976.2 790.2l0.4 -0.3M1149.3 813.4l0.3 -0.4M1221.6 810.4l1.4 -1.6M1171.1 664.9l0.2 -0.2M1063.7 710.1l0.3 -0.2M1146.6 796.4l1.5 -1.8M1089.3 823l0.4 -0.3M1009.5 838.8l0.4 -0.3M1184 805.7l2 -2.2M1078.7 770.8l0.8 -0.7M994.5 771.9l1.6 -1.4M990.4 826l0.8 -0.6M1251.7 734.9l0.4 -0.5M971.5 784.4l1 -0.7M1074.2 707.1l0.7 -0.6M1230.4 835.1l1 -1.3M969.3 744.2l0.6 -0.5M991 818.4l1.7 -1.1M1103.8 842.4l1.2 -1.2M1060.1 761.8l0.3 -0.3" stroke="#2a1e00" stroke-width="0.75"/><path d="M1139 663.3l0.3 -0.3M927.5 810.3l1.2 -0.9M1227.8 784.2l1.1 -1.2M1070.2 814.5l0.4 -0.4M1044.8 794.7l1.4 -1.1M1027.1 771.8l0.3 -0.3M1217.4 792.5l0.3 -0.4M1016.6 796.3l0.7 -0.5M983.5 808.4l0.5 -0.4M1166.6 826.6l0.3 -0.4M1240.4 814.1l0.4 -0.6M1194.1 818l1.1 -1.4M1033.7 719.6l0.3 -0.2M1093.4 685.9l0.6 -0.5M1175.5 659.5l0.8 -0.8M980.4 797.5l0.4 -0.3M1173.5 841.5l1.1 -1.1M1201 769.2l0.9 -1.2M1085.9 829.8l2.1 -2.2M1177 795.3l1.2 -1.4M1111.5 829.5l0.4 -0.4M1026.7 820.6l1.4 -1.3M1162.9 689.1l0.6 -0.6" stroke="#181000" stroke-width="1"/><path d="M1072.4 711.1l0.6 -0.6M1203.4 798.7l1.6 -1.6M1074.4 833.3l2.1 -2M1044.9 760.1l1.5 -1.5M1002.1 826.9l0.6 -0.4M983.2 787.8l0.7 -0.5M1043.4 801.2l1.6 -1.3M1248.2 835.2l0.3 -0.4M1255.7 837.3l1.8 -2.5M1112 779.1l1.9 -1.9M1153.3 845.8l2.2 -2.4M1043.3 764.7l0.4 -0.4M1119.3 839.4l1.1 -1.1M1174 669.2l0.5 -0.6M1139.8 823.9l1.3 -1.4M1002.6 818.7l1.7 -1.2M973 794.3l1 -0.7M1280.6 837.5l2 -2.5M1005.2 747.3l1.7 -1.2" stroke="#4a3406" stroke-width="0.75"/><path d="M1210.7 813.3l0.3 -0.4M1029.9 832.3l0.6 -0.6M954.3 721.4l1 -0.7M1077.8 802.4l0.4 -0.3M963.5 697.5l0.3 -0.2M1060.7 797.4l1.5 -1.3M1161.9 831.7l1 -1.2M914.9 828.9l2.3 -1.3M972.5 750.2l0.5 -0.3M1029.5 808.3l0.4 -0.3M984.8 680.1l0.3 -0.3M1124.5 797.3l0.5 -0.6M1265.5 825.1l0.3 -0.4M1234 708.9l0.4 -0.5M1166.9 836.8l0.3 -0.4M1113.7 679.2l0.9 -0.8M1046.8 766.7l1.1 -0.9M1074.6 833.9l1.7 -1.4M1181.3 778.8l0.9 -0.9" stroke="#1e1600" stroke-width="0.75"/><path d="M911.2 827.9l0.7 -0.5M1030 789.1l0.3 -0.3M1146 831.4l0.4 -0.5M1065.8 817.1l0.7 -0.7M1126.9 702.8l1.2 -1.2M1160.6 811.5l1.7 -2M1183.8 805.5l0.6 -0.8M1028.8 817.4l2 -1.4M987.1 657.6l0.6 -0.4M1046.2 662.3l0.8 -0.6M1088.6 769.8l0.6 -0.5M1251.7 807l1 -1.3M1122.7 813l0.6 -0.7M1115.5 815.2l1.5 -1.3M1169.3 751.8l0.7 -0.7M1021.4 710.5l0.4 -0.3M1191.4 702.5l0.2 -0.3M1019.1 689.1l0.2 -0.2M1172.6 823.9l0.5 -0.6" stroke="#4a3406" stroke-width="1"/><path d="M1097.3 705.8l0.3 -0.3M1205.2 772l0.8 -1M1263 809.5l0.2 -0.4M1131.2 798.2l0.3 -0.3M1086.9 765.1l1.5 -1.5M1101.7 823.7l1 -1M1235 833.5l0.5 -0.7M1195.4 837.5l1.1 -1.4M1059.6 840.3l0.6 -0.5M970.2 747.6l0.9 -0.7M1233 809.8l1.6 -2.1M1057.3 751.3l0.4 -0.3M1096.8 832.9l0.7 -0.6M1054.7 710.8l1.2 -0.9M1007 773l0.8 -0.7M1258.2 782.9l0.3 -0.5M1064 785l1 -1.1M1167.1 710.4l1.4 -1.5M1033.1 814.4l0.6 -0.5M1057.4 813.3l0.4 -0.3" stroke="#5a4008" stroke-width="1"/><path d="M1041.7 809.8l2.1 -1.8M963.3 809.5l0.6 -0.5M1002.2 755.8l0.7 -0.5" stroke="#2a1e00" stroke-width="1.25"/><path d="M1165.1 768.4l1.3 -1.3M1043.9 709.6l0.3 -0.2" stroke="#140e00" stroke-width="0.5"/><path d="M1015.5 834.9l1.2 -0.8M923.1 806.7l1.2 -0.7M925.4 805.6l0.8 -0.5M1076.9 744.9l0.6 -0.5M1065.3 828.1l2.2 -2M993.9 833.3l0.7 -0.5M1031 805l0.4 -0.3M1049.4 774.7l1.4 -1.1M908.5 832.2l2.4 -1.8M1210.7 728.7l1.1 -1.6M974.1 824.8l1.7 -1.2M1025.8 843.2l1.3 -1M1139 800.5l1 -0.9M1234.8 690.1l0.2 -0.3M1176.8 842.2l1 -1M1053.8 840l0.9 -0.8M1245 777.3l0.2 -0.4M1034 756.6l0.7 -0.5M1215.1 690.8l0.5 -0.6M999.9 757.7l1.4 -1.2M1246.3 844.9l1.7 -2" stroke="#181000" stroke-width="0.75"/><path d="M969.4 835.9l1 -0.6M1084.1 700.9l0.2 -0.2M1080.8 799.1l0.6 -0.6" stroke="#181000" stroke-width="0.5"/><path d="M927.5 821.7l1 -0.6M1051.4 748.7l0.8 -0.8M1030.2 803.4l0.7 -0.5" stroke="#5a4008" stroke-width="0.5"/><path d="M942.7 837.1l0.4 -0.3M1090.1 826.6l0.5 -0.5M1074.5 799.8l0.3 -0.3M1153.3 693.8l0.6 -0.6" stroke="#4a3406" stroke-width="0.5"/><path d="M1098.7 837.6l1.4 -1.2M1267 799.6l0.6 -1M952.3 761.9l0.5 -0.3M1218.1 786.4l0.7 -1M926.1 842.3l1.7 -1.2" stroke="#181000" stroke-width="1.25"/><path d="M946 744.8l0.3 -0.2M1064.4 794.7l0.8 -0.8M1239.1 714.1l0.9 -1.4M1165.6 770.9l0.8 -0.8M1205.8 801.8l0.4 -0.5" stroke="#1e1600" stroke-width="1.25"/><path d="M1000 792.8l0.5 -0.4" stroke="#2a1e00" stroke-width="0.5"/><path d="M1268 836.3l0.6 -0.8" stroke="#5a4008" stroke-width="1.25"/><path d="M1166.1 727.3l0.9 -1" stroke="#1e1600" stroke-width="0.5"/></g>
<g fill="none" stroke-linecap="round" opacity="0.55" clip-path="url(#cD)"><path d="M979 833.4l2.5 -1.8M1245 738.1l0.8 -0.9M1071.1 697.8l0.5 -0.5M1139.9 722.4l1.3 -1.2M1045.8 686l0.4 -0.4M1176.1 773.9l0.6 -0.6M1123.6 682.2l0.6 -0.5M1169.7 675.8l0.4 -0.4M1229.8 744.4l0.4 -0.6M1000.7 701l1.6 -1.2M988.5 762l1.4 -1M979.9 776.6l1.2 -0.8M1093.6 815l0.8 -0.9M956 724.9l1.1 -0.7M948 753.9l2.1 -1.5M989.7 794.3l2.2 -2M987.2 683.3l0.5 -0.3M1096.4 751.4l2 -2M1129.9 715.1l0.5 -0.5" stroke="#a02c08" stroke-width="1"/><path d="M1194.4 840.8l1 -1M1075 689.4l0.4 -0.5M1206 733.9l1.2 -1.4M1161.8 700.3l1.4 -1.4M954.4 827.9l1.4 -1.1M1265.5 783.4l0.5 -0.7M1226.4 660.1l0.5 -0.6M1174.8 835.9l0.7 -0.8M1063.2 669.3l0.4 -0.3M1075.3 773.7l0.8 -0.9M1077.7 763.1l1.1 -1.1M936.4 811l0.9 -0.5M1011.1 727.9l0.7 -0.5M1225.4 808l0.6 -0.8M1208.7 711.6l0.7 -0.7M1063.1 752l0.8 -0.6M1014.3 772.5l1.7 -1.2M1168.4 700.6l0.4 -0.5M1276.9 814l2 -2.5M1077.4 772.6l0.9 -0.8M1194.2 719.4l0.4 -0.5M947.3 823l1.6 -0.9M1014.3 681.2l0.6 -0.4M993.5 697.6l0.9 -0.6M981.2 684.4l1.5 -1M1050.7 686.7l0.5 -0.4M961.6 826.2l2.9 -2" stroke="#b83408" stroke-width="1"/><path d="M1262 835.6l1.7 -2.3M1042.2 763.3l0.7 -0.5M1163.6 736.3l0.6 -0.7M1151.6 739.1l0.9 -1M990.2 691.2l1.1 -0.9M985 718.4l0.7 -0.4M1010.3 732.6l0.9 -0.8M1223.9 746.5l1.5 -2.1M1149.9 736.2l0.7 -0.9M1157 791.6l0.9 -1M989.2 669.9l0.5 -0.5M949.5 742.5l1.1 -0.7" stroke="#8a2808" stroke-width="0.75"/><path d="M1009.8 803.2l1.4 -0.9M1073.9 751.6l0.8 -0.7M1119 749.2l1.3 -1.4M1019.5 661.9l0.4 -0.3M936.1 802l1.4 -1" stroke="#b83408" stroke-width="1.25"/><path d="M943.8 803.7l1.4 -0.9M1188 835.3l0.9 -1.1M1105.8 694.1l1.4 -1.6M1038.6 681l1.1 -0.8M1000.4 751.3l0.6 -0.5M1211.1 839.9l1.6 -1.6M1147.3 730.4l1.7 -1.9M1099.9 685.6l1 -0.9M1075.7 771.3l0.6 -0.6M1202.3 778l0.6 -0.7M959.7 753.9l2.3 -1.6" stroke="#a02c08" stroke-width="0.75"/><path d="M975.8 697.6l0.5 -0.3M959 772.5l2.2 -1.4M1065.9 761.1l0.8 -0.7M977.3 677.6l0.8 -0.7M1131.1 804.6l1.3 -1.5M1114.7 739.8l0.7 -0.7M1179 705.1l0.8 -0.8M1052.7 662.7l0.9 -0.8M1210 768.2l0.8 -1.1M1069.9 819l0.9 -0.8M1013.7 772.3l2.1 -1.9" stroke="#b83408" stroke-width="0.75"/><path d="M1081.5 753.1l0.6 -0.5M1038.5 738.4l1.5 -1.4M1170.6 787.8l1.6 -1.9M1011.9 803.5l2.2 -1.6M1210 679.7l0.7 -0.8M1131.2 750.4l1 -0.9M1029.8 663.9l1.3 -1.3M1213.3 726.7l0.5 -0.7M1034.4 770.1l1.7 -1.3M1091.6 760.1l1.2 -1.3M994.9 778.1l0.7 -0.6M1044.1 806.2l0.8 -0.6M1107 719.1l0.7 -0.6M1029.2 735.1l1.2 -0.9M1005.6 712.4l0.5 -0.4M1037.8 746.6l2 -1.6M1074.1 756.1l1.2 -1.1M1175 810.3l1.4 -1.7M919.6 810.4l2.1 -1.1M1080.8 825l1.2 -1.3M1201.2 766.6l0.5 -0.7M1094.4 762.2l0.6 -0.6" stroke="#8a2808" stroke-width="1"/><path d="M1145.9 693.9l1 -1.1M1026.7 690l0.6 -0.5M1054.2 743.3l0.7 -0.7M990.4 658.4l1.4 -1.1M1066.8 701l0.8 -0.8M1152.2 724l0.7 -0.8M927.4 828.2l1.5 -1.2M1194.9 743l1.9 -2M1003.6 785.7l2.2 -2M983 753.8l0.7 -0.6" stroke="#8a2808" stroke-width="1.25"/><path d="M1248 727.1l1.2 -1.6M1169.2 668.3l0.9 -1.2M992 748.3l1.7 -1.4" stroke="#a02c08" stroke-width="1.25"/></g>
<g fill="none" stroke-linecap="round" opacity="0.8" clip-path="url(#cD)"><path d="M1163.9 689.1l0.7 -0.7" stroke="#100a00" stroke-width="1"/><path d="M1155 699.2l1.1 -1.2" stroke="#2a1e00" stroke-width="1"/><path d="M1157 696.2l1.4 -1.5" stroke="#3a2804" stroke-width="1"/><path d="M1161.8 691.6l0.8 -0.9M1162.9 690.4l0.5 -0.6" stroke="#181000" stroke-width="1"/><path d="M1148.2 705.8l0.9 -1" stroke="#1e1600" stroke-width="1"/><path d="M1139.8 715.6l1.5 -1.6M1157.6 696.4l1.4 -1.5M1151.1 703.1l0.5 -0.6" stroke="#140e00" stroke-width="1"/><path d="M1159.8 694l0.9 -1" stroke="#140e00" stroke-width="0.75"/><path d="M1157.6 695.5l0.3 -0.4" stroke="#181000" stroke-width="0.75"/><path d="M1157.8 696l0.7 -0.8M1149.7 703.8l0.5 -0.5" stroke="#100a00" stroke-width="0.75"/></g>
<g fill="none" stroke-linecap="round" opacity="0.77" clip-path="url(#cD)"><path d="M1238.4 721.2l0.5 -0.6" stroke="#2a1e00" stroke-width="0.5"/><path d="M1234.6 726.1l1.1 -1.5" stroke="#181000" stroke-width="0.75"/><path d="M1230.7 730.9l1 -1.3" stroke="#2a1e00" stroke-width="0.75"/><path d="M1225 738.4l1.3 -1.7" stroke="#1e1600" stroke-width="0.75"/><path d="M1226.9 735.8l1.3 -1.6M1229.6 732.6l0.5 -0.7" stroke="#140e00" stroke-width="0.75"/><path d="M1234.7 725.8l1.5 -1.9" stroke="#100a00" stroke-width="1"/><path d="M1228.9 733.7l0.7 -0.9" stroke="#2a1e00" stroke-width="1"/></g>
<g fill="none" stroke-linecap="round" opacity="0.8" clip-path="url(#cD)"><path d="M1171.7 719.5l1.4 -1.6M1149 745.3l1.2 -1.4" stroke="#181000" stroke-width="1"/><path d="M1157 735.7l0.9 -1M1177.9 712.3l1.3 -1.5" stroke="#100a00" stroke-width="0.75"/><path d="M1177.3 712.4l0.5 -0.5" stroke="#140e00" stroke-width="0.5"/><path d="M1172.6 718.3l1.7 -1.9M1158.2 734.6l0.7 -0.8M1155.8 737.5l0.7 -0.8" stroke="#2a1e00" stroke-width="0.75"/><path d="M1162.4 729.6l0.4 -0.5M1168.5 722.3l0.7 -0.8" stroke="#2a1e00" stroke-width="1"/><path d="M1165 727.3l1 -1.2" stroke="#140e00" stroke-width="0.75"/><path d="M1167.6 723.2l1.6 -1.8" stroke="#100a00" stroke-width="1"/><path d="M1163.3 728.1l0.6 -0.6M1176 713.7l1.4 -1.5" stroke="#140e00" stroke-width="1"/><path d="M1174 716.1l0.7 -0.7" stroke="#2a1e00" stroke-width="0.5"/><path d="M1173.3 717.6l0.5 -0.6M1158.5 734.6l0.8 -0.9" stroke="#1e1600" stroke-width="0.75"/></g>
<g fill="none" stroke-linecap="round" opacity="0.76" clip-path="url(#cD)"><path d="M991.1 729.9l1.5 -1.2" stroke="#3a2804" stroke-width="0.75"/><path d="M995.8 726.2l2 -1.6M999.3 723.3l2 -1.6" stroke="#181000" stroke-width="1"/><path d="M1026.2 702.6l1.7 -1.3M1021 705.5l0.5 -0.4M1022.6 704.3l2 -1.6M1015.3 710.8l0.9 -0.7" stroke="#1e1600" stroke-width="0.75"/><path d="M1017.2 708.5l2 -1.5M1002.4 721.3l0.4 -0.3M1022.3 705.4l1.4 -1.1" stroke="#2a1e00" stroke-width="0.75"/><path d="M1023.4 704l0.6 -0.5M1024.3 703.5l1.3 -1M1006.5 717.2l1.9 -1.5" stroke="#181000" stroke-width="0.75"/><path d="M1011 713.8l1.7 -1.3M1019.2 707.5l1.6 -1.3" stroke="#140e00" stroke-width="0.75"/><path d="M1030.1 699.1l1.3 -1M991.7 729.4l1.4 -1.1" stroke="#100a00" stroke-width="0.75"/><path d="M991.2 729.3l1.2 -0.9M1024 703.4l0.5 -0.4" stroke="#140e00" stroke-width="1"/><path d="M990 730.8l1.2 -1" stroke="#1e1600" stroke-width="1"/><path d="M995.1 726.9l1.4 -1.1" stroke="#3a2804" stroke-width="1"/><path d="M1029.8 698.8l1.6 -1.2" stroke="#100a00" stroke-width="1"/></g>
<g fill="none" stroke-linecap="round" opacity="0.88" clip-path="url(#cD)"><path d="M1003.3 826.8l1.9 -1.5M1007.4 822.4l0.7 -0.5M1002.6 826.9l1.5 -1.2" stroke="#140e00" stroke-width="1"/><path d="M998.8 829.2l1.3 -1M991.8 834.6l0.7 -0.6" stroke="#140e00" stroke-width="0.75"/><path d="M1003 826.1l1.3 -1" stroke="#3a2804" stroke-width="1"/><path d="M992 835.7l1 -0.8" stroke="#181000" stroke-width="1"/><path d="M1004.5 825.3l0.7 -0.6" stroke="#181000" stroke-width="0.75"/><path d="M1002.4 827.2l1.7 -1.3" stroke="#100a00" stroke-width="0.5"/></g>
<g fill="none" stroke-linecap="round" opacity="0.72" clip-path="url(#cD)"><path d="M1029.7 805.3l0.5 -0.4M1022.2 812.5l1.7 -1.4" stroke="#3a2804" stroke-width="1"/><path d="M1019.9 814.1l1.7 -1.4" stroke="#181000" stroke-width="0.75"/><path d="M1025.5 809.6l0.7 -0.5" stroke="#181000" stroke-width="1"/><path d="M1032.5 803.5l1.2 -1" stroke="#2a1e00" stroke-width="0.75"/><path d="M1032.7 802.8l1.8 -1.5M1029.7 805.1l1.9 -1.5" stroke="#140e00" stroke-width="0.75"/><path d="M1032.2 803l1.4 -1.2" stroke="#100a00" stroke-width="0.75"/></g>
<g fill="none" stroke-linecap="round" opacity="0.75" clip-path="url(#cD)"><path d="M1021.2 710.9l1.6 -1.3M1028 705.3l2 -1.6M1023.8 708.7l1.8 -1.5M1024 707.8l1.3 -1.1" stroke="#181000" stroke-width="0.75"/><path d="M1030 703.3l1.3 -1" stroke="#140e00" stroke-width="1"/><path d="M1029.7 702.8l0.5 -0.4" stroke="#2a1e00" stroke-width="0.75"/><path d="M1015.7 714.8l1.9 -1.5" stroke="#181000" stroke-width="1"/><path d="M1018.8 712.6l1.4 -1.2" stroke="#2a1e00" stroke-width="1"/></g>
<g fill="none" stroke-linecap="round" opacity="0.88" clip-path="url(#cD)"><path d="M995.5 739.1l2.1 -1.6M1009 729.9l1.6 -1.2" stroke="#181000" stroke-width="1"/><path d="M997.2 738.1l1.4 -1M994.2 741.1l0.9 -0.7" stroke="#3a2804" stroke-width="0.75"/><path d="M1016 723.9l0.8 -0.6M995.8 739.9l0.8 -0.6M984.3 748.4l1.2 -0.9M983.8 749.4l0.8 -0.6" stroke="#100a00" stroke-width="1"/><path d="M999.7 736l0.8 -0.6M1009.9 728.8l1 -0.8M993.4 741.4l1.6 -1.3M986.8 746.5l1 -0.8" stroke="#1e1600" stroke-width="1"/><path d="M1014.4 724.9l0.7 -0.5M988.3 745.9l1 -0.8" stroke="#2a1e00" stroke-width="1"/><path d="M994.9 740.5l0.9 -0.7" stroke="#100a00" stroke-width="0.75"/><path d="M1007.7 730.1l1.1 -0.9" stroke="#1e1600" stroke-width="0.75"/><path d="M993.2 741l1 -0.7M978.9 752.2l0.4 -0.3" stroke="#2a1e00" stroke-width="0.75"/><path d="M980.4 751.8l1.7 -1.3" stroke="#140e00" stroke-width="0.75"/></g>
<g fill="none" stroke-linecap="round" opacity="0.88" clip-path="url(#cD)"><path d="M1088.6 771.9l0.5 -0.5" stroke="#2a1e00" stroke-width="0.75"/><path d="M1093.7 767l0.6 -0.5" stroke="#140e00" stroke-width="0.75"/><path d="M1096 764.2l1 -0.9" stroke="#1e1600" stroke-width="0.75"/><path d="M1084.1 776.5l0.5 -0.5" stroke="#3a2804" stroke-width="0.75"/><path d="M1089.9 769.8l0.7 -0.6M1084.6 775.7l0.6 -0.5" stroke="#1e1600" stroke-width="1"/><path d="M1091.2 769.5l0.6 -0.6" stroke="#181000" stroke-width="0.75"/><path d="M1090.9 769.5l1.4 -1.4" stroke="#100a00" stroke-width="1"/><path d="M1083.4 776.5l0.5 -0.5" stroke="#3a2804" stroke-width="1"/></g>
<g fill="none" stroke-linecap="round" opacity="0.77" clip-path="url(#cD)"><path d="M1182.1 692l1 -1.2" stroke="#181000" stroke-width="1"/><path d="M1184.6 690l0.5 -0.5M1184.7 689.6l1 -1.1" stroke="#140e00" stroke-width="0.75"/><path d="M1182.5 692.3l1.4 -1.6" stroke="#2a1e00" stroke-width="0.75"/><path d="M1184.1 689.9l1.7 -2" stroke="#1e1600" stroke-width="1"/><path d="M1188.2 685.3l1.4 -1.6M1188.6 685.2l1.5 -1.7" stroke="#100a00" stroke-width="1"/><path d="M1174.3 701.5l1 -1.2M1184.9 690.2l0.7 -0.8" stroke="#100a00" stroke-width="0.75"/><path d="M1176.7 698.5l0.5 -0.6" stroke="#1e1600" stroke-width="0.75"/><path d="M1172 703.8l1.4 -1.6" stroke="#3a2804" stroke-width="0.75"/></g>
<g fill="none" stroke-linecap="round" opacity="0.85" clip-path="url(#cD)"><path d="M959.1 817l2 -1.4M953.5 820.2l1.1 -0.8" stroke="#181000" stroke-width="1"/><path d="M951.1 822.4l1.9 -1.3" stroke="#100a00" stroke-width="1"/><path d="M955.7 818.7l1.1 -0.8" stroke="#181000" stroke-width="0.75"/><path d="M949.3 823.3l0.9 -0.7" stroke="#140e00" stroke-width="1"/><path d="M961.7 814.9l0.8 -0.6" stroke="#100a00" stroke-width="0.75"/><path d="M959.8 815.9l0.5 -0.3" stroke="#2a1e00" stroke-width="0.75"/><path d="M963.1 814.2l0.4 -0.3M958.6 817.6l1.4 -1" stroke="#3a2804" stroke-width="0.75"/><path d="M955.5 819.6l1.4 -1" stroke="#3a2804" stroke-width="1"/><path d="M949.8 823.9l1.6 -1.1" stroke="#1e1600" stroke-width="0.75"/></g>
<g fill="none" stroke-linecap="round" opacity="0.81" clip-path="url(#cD)"><path d="M1142.6 803.5l0.8 -0.8M1142.2 802.9l1.3 -1.3" stroke="#2a1e00" stroke-width="1"/><path d="M1139.9 806l0.7 -0.7" stroke="#1e1600" stroke-width="0.75"/><path d="M1131.1 815.9l0.5 -0.5" stroke="#140e00" stroke-width="0.75"/><path d="M1142 803.5l1.7 -1.8" stroke="#2a1e00" stroke-width="0.75"/><path d="M1141.7 804.2l0.8 -0.9" stroke="#181000" stroke-width="1"/><path d="M1139.8 806.3l1.2 -1.3" stroke="#3a2804" stroke-width="0.75"/></g>
<g fill="none" stroke-linecap="round" opacity="0.72" clip-path="url(#cD)"><path d="M1060.3 762.2l1 -0.8M1036.7 782.2l2 -1.7" stroke="#181000" stroke-width="1"/><path d="M1026 791.8l1.5 -1.3M1027.7 790.1l1.2 -1" stroke="#1e1600" stroke-width="0.75"/><path d="M1056 766l1.4 -1.2M1037.6 782l1.2 -1M1050.1 770.6l1.3 -1.1M1029.6 788.5l1 -0.8M1040.4 779.2l0.6 -0.6" stroke="#3a2804" stroke-width="1"/><path d="M1036.3 783.2l1.5 -1.3M1031.6 787.1l1.9 -1.6" stroke="#2a1e00" stroke-width="1"/><path d="M1053.9 768l1 -0.9" stroke="#100a00" stroke-width="1"/><path d="M1062.4 760.8l1.5 -1.3" stroke="#100a00" stroke-width="0.75"/><path d="M1031.2 787.3l1.9 -1.6M1034.3 784.7l0.4 -0.3" stroke="#2a1e00" stroke-width="0.5"/><path d="M1034.3 784.1l0.6 -0.5" stroke="#140e00" stroke-width="0.75"/><path d="M1032.9 785.6l0.5 -0.4M1038.3 781.5l1.1 -1" stroke="#3a2804" stroke-width="0.5"/><path d="M1022 795l1.5 -1.3" stroke="#140e00" stroke-width="1"/><path d="M1055 766.4l1.5 -1.3M1040.2 779.5l0.8 -0.7" stroke="#181000" stroke-width="0.75"/><path d="M1043.8 776.3l0.7 -0.6" stroke="#1e1600" stroke-width="0.5"/></g>
<g fill="none" stroke-linecap="round" opacity="0.85" clip-path="url(#cD)"><path d="M1089.7 805.8l1.2 -1.1M1078.7 815.8l1.1 -1" stroke="#3a2804" stroke-width="0.75"/><path d="M1091.6 803.5l1.5 -1.4M1079.2 816.1l1.3 -1.2M1066.7 826.6l0.6 -0.6" stroke="#100a00" stroke-width="1"/><path d="M1083.8 811.7l0.5 -0.4" stroke="#1e1600" stroke-width="0.75"/><path d="M1084.6 810.7l1.3 -1.2" stroke="#140e00" stroke-width="0.75"/><path d="M1075.6 818.3l1.9 -1.7" stroke="#1e1600" stroke-width="1"/><path d="M1075.2 819.2l1.1 -1.1" stroke="#181000" stroke-width="0.75"/><path d="M1066.7 826.8l1.2 -1.1M1078.4 815.6l1.4 -1.3" stroke="#140e00" stroke-width="1"/><path d="M1095.5 800.7l1.5 -1.4M1078.4 816.6l1.5 -1.4" stroke="#100a00" stroke-width="0.75"/><path d="M1088.6 807.4l1.3 -1.2" stroke="#2a1e00" stroke-width="1"/><path d="M1071.6 822.6l0.4 -0.4" stroke="#3a2804" stroke-width="1"/></g>
<g fill="none" stroke-linecap="round" opacity="0.74" clip-path="url(#cD)"><path d="M1065.9 803.9l1.7 -1.6M1060 808l0.4 -0.3" stroke="#181000" stroke-width="0.75"/><path d="M1088 783.4l1.7 -1.6M1080.2 790.6l1.8 -1.6" stroke="#2a1e00" stroke-width="0.75"/><path d="M1082.2 788.2l1.5 -1.4M1094.8 776.4l1.8 -1.7M1084.5 786.3l1.7 -1.6" stroke="#140e00" stroke-width="1"/><path d="M1064.1 805.2l1.6 -1.5M1056.8 811.7l1 -0.9" stroke="#1e1600" stroke-width="0.75"/><path d="M1057.9 810.4l1.1 -1M1086.6 784.8l1.9 -1.8" stroke="#140e00" stroke-width="0.75"/><path d="M1077.6 793.1l0.7 -0.7" stroke="#2a1e00" stroke-width="1"/><path d="M1081.7 789.2l0.8 -0.7" stroke="#1e1600" stroke-width="1"/><path d="M1089.9 780.9l1.1 -1M1073.3 796.8l1.7 -1.5" stroke="#181000" stroke-width="1"/><path d="M1083.4 786.7l1.8 -1.7M1073.9 795.5l1.6 -1.5" stroke="#100a00" stroke-width="1"/><path d="M1076.6 793.6l0.4 -0.4" stroke="#2a1e00" stroke-width="0.5"/><path d="M1056.8 811.5l1.7 -1.6" stroke="#3a2804" stroke-width="0.75"/><path d="M1058.2 810.7l1.7 -1.6" stroke="#100a00" stroke-width="0.75"/></g>
<g fill="none" stroke-linecap="round" opacity="0.72" clip-path="url(#cD)"><path d="M1290.4 819.9l0.5 -0.8M1291.3 818.8l1.2 -1.8M1284.1 829.8l0.7 -1M1296.2 812.1l1 -1.5" stroke="#140e00" stroke-width="0.75"/><path d="M1287 824.6l1 -1.5M1294.7 813.9l0.6 -0.9" stroke="#3a2804" stroke-width="1"/><path d="M1286.3 825.9l1 -1.4M1288.8 822.3l0.7 -1" stroke="#100a00" stroke-width="0.75"/><path d="M1294.3 813.6l1.2 -1.8" stroke="#181000" stroke-width="1"/><path d="M1292.1 817.3l1.1 -1.7" stroke="#3a2804" stroke-width="0.75"/><path d="M1286.6 826.8l0.8 -1.2M1286.4 826.9l1.2 -1.9" stroke="#181000" stroke-width="0.75"/><path d="M1282.4 832.8l0.7 -1.1" stroke="#100a00" stroke-width="1"/><path d="M1282.5 831.9l1.2 -1.9" stroke="#2a1e00" stroke-width="0.75"/></g>
<g fill="none" stroke-linecap="round" opacity="0.8" clip-path="url(#cD)"><path d="M1239.1 815.4l0.8 -1M1235.4 821l0.4 -0.5M1231.3 826.7l1.4 -1.9" stroke="#100a00" stroke-width="0.75"/><path d="M1232.6 823.8l0.7 -1" stroke="#3a2804" stroke-width="1"/><path d="M1243.3 810.6l0.5 -0.6M1230 828.1l1.4 -1.8" stroke="#140e00" stroke-width="0.75"/><path d="M1235.4 821.5l0.6 -0.9" stroke="#140e00" stroke-width="0.5"/><path d="M1230 828.1l0.9 -1.2" stroke="#140e00" stroke-width="1"/><path d="M1232 825.1l0.9 -1.2" stroke="#2a1e00" stroke-width="1"/><path d="M1244.1 809.9l0.7 -0.9" stroke="#1e1600" stroke-width="0.5"/><path d="M1240.8 813.5l1.4 -1.8" stroke="#100a00" stroke-width="1"/></g>
<g fill="none" stroke-linecap="round" opacity="0.71" clip-path="url(#cD)"><path d="M1114.3 784.8l1.1 -1.1M1129.1 769.3l0.6 -0.6" stroke="#3a2804" stroke-width="0.75"/><path d="M1133.8 764.7l1.5 -1.5M1123.6 775.1l1.4 -1.5M1122.4 776.1l0.8 -0.8" stroke="#181000" stroke-width="0.75"/><path d="M1106.5 792l1.8 -1.8" stroke="#2a1e00" stroke-width="0.75"/><path d="M1128.7 770.2l1.1 -1.1" stroke="#100a00" stroke-width="0.75"/><path d="M1133.2 765.5l0.4 -0.5" stroke="#181000" stroke-width="1"/><path d="M1120.7 777.6l1.1 -1.1" stroke="#100a00" stroke-width="1"/><path d="M1106.8 791.9l0.5 -0.6" stroke="#3a2804" stroke-width="1"/><path d="M1108.1 790.7l1.5 -1.5" stroke="#140e00" stroke-width="0.75"/><path d="M1117.7 781.5l1.2 -1.2" stroke="#2a1e00" stroke-width="1"/><path d="M1123.4 775.8l1.5 -1.5" stroke="#140e00" stroke-width="1"/><path d="M1125.8 772.1l0.9 -0.9" stroke="#1e1600" stroke-width="1"/><path d="M1115.2 782.9l1.2 -1.2" stroke="#1e1600" stroke-width="0.75"/></g>
<g fill="none" stroke-linecap="round" opacity="0.74" clip-path="url(#cD)"><path d="M1259.3 786.3l0.7 -0.9" stroke="#140e00" stroke-width="0.75"/><path d="M1273.2 766.3l1.3 -1.8" stroke="#3a2804" stroke-width="1"/><path d="M1267.8 774.4l0.4 -0.5M1272.2 768.7l1.4 -2M1260.2 784.7l0.4 -0.6M1255.7 792l0.6 -0.9" stroke="#140e00" stroke-width="1"/><path d="M1277.2 760.9l0.8 -1.1M1260.4 785.2l0.9 -1.2" stroke="#181000" stroke-width="0.75"/><path d="M1277.5 760.2l0.4 -0.5M1256.1 791.1l1.1 -1.6M1269.1 772.7l1 -1.5" stroke="#100a00" stroke-width="0.75"/><path d="M1269.3 772.3l0.8 -1.1M1252.7 795l0.7 -1" stroke="#100a00" stroke-width="1"/><path d="M1263.3 779.9l0.9 -1.2M1253.4 793.8l0.8 -1.1" stroke="#181000" stroke-width="1"/><path d="M1261 783.6l0.8 -1.1" stroke="#1e1600" stroke-width="1"/><path d="M1258.2 788.1l0.3 -0.5" stroke="#1e1600" stroke-width="0.75"/></g>
<g fill="none" stroke-linecap="round" opacity="0.79" clip-path="url(#cD)"><path d="M1165.5 694l1.4 -1.6" stroke="#1e1600" stroke-width="0.5"/><path d="M1169.6 688.9l0.4 -0.4" stroke="#1e1600" stroke-width="0.75"/><path d="M1180.4 676.6l1 -1.1M1160.5 699.1l1.7 -1.9" stroke="#2a1e00" stroke-width="1"/><path d="M1175.1 681.9l1.2 -1.4M1160.7 699.1l1.2 -1.3M1174.6 683.4l0.8 -1M1160.3 698.8l1.5 -1.7" stroke="#3a2804" stroke-width="0.75"/><path d="M1168.3 689.7l1.3 -1.5" stroke="#1e1600" stroke-width="1"/><path d="M1177.5 679.8l0.5 -0.6" stroke="#2a1e00" stroke-width="0.5"/><path d="M1162.9 696.7l0.7 -0.8" stroke="#181000" stroke-width="1"/><path d="M1157.7 701.5l1.5 -1.6" stroke="#140e00" stroke-width="0.75"/><path d="M1165.8 692.8l0.6 -0.7" stroke="#3a2804" stroke-width="1"/><path d="M1156.9 702.7l0.3 -0.4" stroke="#181000" stroke-width="0.75"/><path d="M1156.7 703l1.3 -1.5" stroke="#100a00" stroke-width="0.75"/></g>
<g fill="none" stroke-linecap="round" opacity="0.83" clip-path="url(#cD)"><path d="M1259.3 707.2l1.2 -1.6M1252.3 716.8l1.5 -2" stroke="#2a1e00" stroke-width="1"/><path d="M1260.4 705.5l0.6 -0.8" stroke="#140e00" stroke-width="0.75"/><path d="M1261.7 703.7l0.9 -1.3M1244.6 726.8l1.5 -2.1" stroke="#1e1600" stroke-width="0.75"/><path d="M1246.5 724.9l0.4 -0.6" stroke="#2a1e00" stroke-width="0.75"/><path d="M1257.2 710l0.3 -0.5" stroke="#100a00" stroke-width="0.75"/><path d="M1253.2 715.4l1.4 -1.9M1259.4 707.1l1.1 -1.5" stroke="#3a2804" stroke-width="1"/><path d="M1255.6 711.6l1 -1.4" stroke="#140e00" stroke-width="1"/><path d="M1252.2 717.9l0.6 -0.8" stroke="#3a2804" stroke-width="0.5"/><path d="M1249.6 720.6l0.7 -0.9M1243.2 728.9l0.6 -0.8" stroke="#3a2804" stroke-width="0.75"/><path d="M1258.2 707.9l0.6 -0.8" stroke="#1e1600" stroke-width="1"/><path d="M1244.3 727l1.4 -2" stroke="#100a00" stroke-width="1"/></g>
<g fill="none" stroke-linecap="round" opacity="0.79" clip-path="url(#cD)"><path d="M1166.5 769.2l1.5 -1.6M1157.3 780.1l0.9 -1M1165.8 770.1l1.3 -1.4" stroke="#140e00" stroke-width="1"/><path d="M1143.2 795.4l1.1 -1.2" stroke="#100a00" stroke-width="1"/><path d="M1147.8 790l0.9 -1M1145.2 793.8l1.2 -1.3M1139.1 800.4l0.5 -0.6" stroke="#3a2804" stroke-width="0.75"/><path d="M1168 768.3l1.3 -1.4" stroke="#181000" stroke-width="1"/><path d="M1139.6 799.6l1.1 -1.2M1150 788.4l0.8 -0.9" stroke="#1e1600" stroke-width="0.75"/><path d="M1151.2 786.1l0.6 -0.6" stroke="#1e1600" stroke-width="1"/><path d="M1148.2 789.6l0.7 -0.8M1164.6 772.2l0.8 -0.9" stroke="#2a1e00" stroke-width="1"/><path d="M1151.6 786.5l0.6 -0.7" stroke="#181000" stroke-width="0.75"/><path d="M1149.4 788.9l1.7 -1.9" stroke="#2a1e00" stroke-width="0.75"/><path d="M1166.2 770.3l0.4 -0.4" stroke="#140e00" stroke-width="0.75"/><path d="M1141.5 797.8l0.7 -0.8" stroke="#2a1e00" stroke-width="0.5"/><path d="M1154.6 782.9l0.4 -0.4" stroke="#3a2804" stroke-width="1"/></g>
<g fill="none" stroke-linecap="round" opacity="0.81" clip-path="url(#cD)"><path d="M992 677.8l0.7 -0.5" stroke="#100a00" stroke-width="1"/><path d="M979 686.9l1 -0.8" stroke="#1e1600" stroke-width="1"/><path d="M982.8 685.1l1.7 -1.3M984.4 682.8l1.5 -1.1" stroke="#181000" stroke-width="1"/><path d="M984.6 682.8l1.5 -1.2" stroke="#140e00" stroke-width="1"/><path d="M991.2 678.4l1.2 -0.9" stroke="#2a1e00" stroke-width="1"/><path d="M987.1 681l0.7 -0.6" stroke="#140e00" stroke-width="0.75"/><path d="M995.7 674.1l1.8 -1.4" stroke="#100a00" stroke-width="0.75"/><path d="M998.9 672.7l0.8 -0.6" stroke="#181000" stroke-width="0.75"/><path d="M992.6 677.4l0.5 -0.4" stroke="#1e1600" stroke-width="0.75"/></g>
<g fill="none" stroke-linecap="round" opacity="0.8" clip-path="url(#cD)"><path d="M1197.9 666.9l0.9 -1.1M1203.7 659.9l1.2 -1.5" stroke="#2a1e00" stroke-width="0.75"/><path d="M1202.6 661.1l0.5 -0.7M1201.9 660.6l0.9 -1.1" stroke="#100a00" stroke-width="0.75"/><path d="M1205.6 657.1l1.2 -1.5M1198.7 665l0.4 -0.5" stroke="#181000" stroke-width="1"/><path d="M1197.9 666.5l0.4 -0.5" stroke="#2a1e00" stroke-width="1"/><path d="M1199.5 664.2l1.4 -1.7" stroke="#3a2804" stroke-width="0.75"/></g>
<g fill="none" stroke-linecap="round" opacity="0.88" clip-path="url(#cD)"><path d="M1147.9 755.2l1.6 -1.8M1160.6 740.8l1.3 -1.5M1172.5 727.2l0.5 -0.5M1155.8 746l1.5 -1.7" stroke="#140e00" stroke-width="1"/><path d="M1164 736.9l0.9 -1" stroke="#181000" stroke-width="1"/><path d="M1172.4 728.1l0.8 -0.9M1156.5 746l1.3 -1.4" stroke="#1e1600" stroke-width="1"/><path d="M1158.9 743.1l0.5 -0.6M1179.6 719.2l0.4 -0.5M1155.7 747.3l1.4 -1.5M1164.8 735.8l0.9 -1" stroke="#100a00" stroke-width="1"/><path d="M1178.5 721.4l1.7 -1.9M1151.1 751.3l0.4 -0.4M1168.6 732l1 -1.2" stroke="#1e1600" stroke-width="0.75"/><path d="M1177.4 722.4l0.5 -0.5" stroke="#181000" stroke-width="0.75"/><path d="M1181.2 718.7l0.9 -1.1M1178.8 720.4l1.5 -1.7" stroke="#140e00" stroke-width="0.75"/><path d="M1156.5 746.3l0.4 -0.5" stroke="#100a00" stroke-width="0.75"/><path d="M1161.9 740.4l1.4 -1.6" stroke="#3a2804" stroke-width="0.75"/></g>
<g fill="none" stroke-linecap="round" opacity="0.76" clip-path="url(#cD)"><path d="M1019.2 732l1.8 -1.5M1023 727.9l2 -1.6" stroke="#3a2804" stroke-width="1"/><path d="M1029.3 722.8l1.9 -1.6M1039.9 714.2l0.9 -0.7" stroke="#100a00" stroke-width="0.75"/><path d="M1042.1 713.1l1.4 -1.2M1028.9 723.8l1 -0.8" stroke="#2a1e00" stroke-width="1"/><path d="M1009.1 740.3l0.6 -0.5" stroke="#140e00" stroke-width="1"/><path d="M1013 736.9l1.6 -1.3M1024.2 727.8l0.4 -0.4" stroke="#100a00" stroke-width="1"/><path d="M1010.9 738l1.4 -1.1M1010.1 738.7l1 -0.8" stroke="#3a2804" stroke-width="0.75"/><path d="M1013.4 736.8l1.5 -1.2" stroke="#2a1e00" stroke-width="0.75"/><path d="M1034.1 719.4l0.5 -0.4M1028.4 724.2l0.9 -0.8M1032.3 720.6l1.9 -1.5" stroke="#1e1600" stroke-width="1"/><path d="M1017.1 733.8l1.4 -1.2" stroke="#181000" stroke-width="0.75"/><path d="M1041.4 713.9l0.5 -0.4" stroke="#181000" stroke-width="1"/></g>
<g fill="none" stroke-linecap="round" opacity="0.88" clip-path="url(#cD)"><path d="M1037.7 806.9l0.4 -0.3" stroke="#2a1e00" stroke-width="0.5"/><path d="M1048.4 797.2l0.6 -0.5" stroke="#2a1e00" stroke-width="0.75"/><path d="M1046.2 798.8l1 -0.8" stroke="#100a00" stroke-width="0.75"/><path d="M1045.4 799.8l1.5 -1.3" stroke="#1e1600" stroke-width="0.75"/><path d="M1040.1 805l1.8 -1.5" stroke="#140e00" stroke-width="0.75"/><path d="M1041.2 803.3l1.9 -1.6M1040.2 804.3l0.9 -0.7" stroke="#3a2804" stroke-width="1"/></g>
<g fill="none" stroke-linecap="round" opacity="0.87" clip-path="url(#cD)"><path d="M1057.9 807l1.3 -1.1M1091.6 776.8l1.5 -1.3M1074.2 792.2l0.6 -0.6" stroke="#1e1600" stroke-width="1"/><path d="M1080.8 786.4l0.9 -0.8M1076.4 789.6l1.9 -1.7" stroke="#181000" stroke-width="1"/><path d="M1069.5 796.8l0.7 -0.6M1063.3 801.4l1.8 -1.6" stroke="#1e1600" stroke-width="0.75"/><path d="M1075.3 791.1l1.2 -1" stroke="#2a1e00" stroke-width="0.75"/><path d="M1041.9 821.3l0.8 -0.7" stroke="#2a1e00" stroke-width="1"/><path d="M1071.8 794.7l1.1 -1M1079.3 787.4l0.6 -0.5M1088.3 779.7l1.6 -1.4" stroke="#100a00" stroke-width="0.75"/><path d="M1055 808.7l0.9 -0.8M1048.9 815.2l1.1 -1M1075.7 790.2l0.4 -0.3" stroke="#140e00" stroke-width="1"/><path d="M1076.2 789.7l0.7 -0.6M1043.5 819.7l0.9 -0.8M1049.3 814.1l0.8 -0.7M1079 787.1l0.6 -0.5" stroke="#100a00" stroke-width="1"/><path d="M1073.7 792.1l1.3 -1.2M1086.5 781.6l1.8 -1.6M1047.4 815.6l1.6 -1.4" stroke="#3a2804" stroke-width="1"/><path d="M1072.9 793.6l1.3 -1.2" stroke="#140e00" stroke-width="0.5"/><path d="M1055.7 808.2l1.6 -1.4M1047.9 815.9l0.5 -0.4M1055 809.7l0.4 -0.4" stroke="#181000" stroke-width="0.75"/><path d="M1059.6 804.6l0.8 -0.7" stroke="#140e00" stroke-width="0.75"/><path d="M1072.2 793.6l0.6 -0.5M1063.8 801.5l1.6 -1.4" stroke="#3a2804" stroke-width="0.75"/></g>
<g fill="none" stroke-linecap="round" opacity="0.87" clip-path="url(#cD)"><path d="M1201.1 742.2l1.4 -1.8M1204.6 737.5l1.2 -1.5M1216.7 723.2l1.6 -2M1215.2 724.8l1.3 -1.6" stroke="#3a2804" stroke-width="0.75"/><path d="M1205.9 737l0.7 -0.8M1211.2 730.4l0.5 -0.6" stroke="#100a00" stroke-width="1"/><path d="M1209 732.6l0.5 -0.6M1218.9 720.5l0.9 -1.2" stroke="#100a00" stroke-width="0.75"/><path d="M1216.5 723.3l1 -1.3M1222.3 716.6l0.9 -1.1M1202.1 741.4l1 -1.3" stroke="#181000" stroke-width="0.75"/><path d="M1196.6 748.7l1.5 -1.8" stroke="#181000" stroke-width="0.5"/><path d="M1211.5 728.7l1.2 -1.5" stroke="#2a1e00" stroke-width="0.75"/><path d="M1219.2 720.7l0.5 -0.7" stroke="#1e1600" stroke-width="1"/><path d="M1200.8 742.3l1.2 -1.5M1208.8 732.3l1.4 -1.7" stroke="#3a2804" stroke-width="1"/><path d="M1217.7 722.3l0.4 -0.5" stroke="#1e1600" stroke-width="0.75"/></g>
<g fill="none" stroke-linecap="round" opacity="0.84" clip-path="url(#cD)"><path d="M1110.8 789.7l0.5 -0.5M1121.8 778l0.5 -0.5" stroke="#140e00" stroke-width="1"/><path d="M1122.7 776.9l1.7 -1.7M1114.4 786.1l0.6 -0.6M1113.6 786.3l1.2 -1.2" stroke="#3a2804" stroke-width="0.75"/><path d="M1116.3 783.8l0.6 -0.6" stroke="#181000" stroke-width="0.75"/><path d="M1110.5 789.4l1.6 -1.7M1120.8 779.7l0.6 -0.7" stroke="#140e00" stroke-width="0.75"/><path d="M1110.2 789.5l1.8 -1.8" stroke="#3a2804" stroke-width="0.5"/></g>
<g fill="none" stroke-linecap="round" opacity="0.92" clip-path="url(#cD)"><path d="M968.3 772.2l2.7 -1.7M963.8 775.2l3.9 -2.5M950.2 784.5l3.9 -2.5M921.9 803.6l1.9 -1.2M977.7 766.7l3.1 -2M968.2 773.5l3.8 -2.4M972.3 769.9l4 -2.6" stroke="#181000" stroke-width="1.25"/><path d="M974 769.2l5.4 -3.5M932.9 797l5.6 -3.6M929.6 797.7l6.6 -4.2M939 792.6l2.6 -1.7M954.5 781.3l2.2 -1.4" stroke="#1e1600" stroke-width="0.75"/><path d="M928.4 799.3l5.6 -3.6M975.4 769.1l1.7 -1.1M963.3 777.4l1.9 -1.2M981.6 764.8l2.7 -1.7M934.8 795l4.2 -2.7M965.4 774.4l1.6 -1M973.6 769.3l3.6 -2.3M957.8 780.5l3.7 -2.4" stroke="#181000" stroke-width="1"/><path d="M978.9 766.4l1.7 -1.1M948.1 785.7l3.3 -2.1M944.1 788.2l3.8 -2.4M939.1 792.4l1.8 -1.1M947.2 787.8l1.8 -1.2M932.4 796.7l6.6 -4.2M923.5 800.9l4.6 -3" stroke="#140e00" stroke-width="1"/><path d="M915.5 806.4l5.2 -3.3M962.8 776l3.7 -2.3M947.1 786.5l6 -3.8M972.6 770.1l1.4 -0.9M979.5 766.2l3.3 -2.1" stroke="#140e00" stroke-width="1.25"/><path d="M928.2 798.1l4.5 -2.9M940.7 790.3l5 -3.2M964 775.6l1.9 -1.2M938.1 793.3l5.9 -3.8" stroke="#3a2804" stroke-width="0.75"/><path d="M923.9 802.9l4.7 -3M972.6 770.3l2.2 -1.4M958.7 778.3l5.1 -3.3M928.5 799.3l2.6 -1.7M921 803.1l4.4 -2.8M968.4 773.4l2.8 -1.8M975.1 768.5l4.3 -2.8M967 773.7l1.5 -1M967.8 773l1.9 -1.2" stroke="#2a1e00" stroke-width="1"/><path d="M918.7 805.9l7.3 -4.7M963.8 777l2.2 -1.4M981.5 763.9l4.4 -2.8M917.7 804.3l2.7 -1.7" stroke="#2a1e00" stroke-width="1.25"/><path d="M978.7 765.8l3.9 -2.5M941.9 790.5l4.1 -2.6M973.1 771.2l4.9 -3.1M939.2 792.4l6.5 -4.1M973.7 769.1l4.9 -3.1M949 784.4l3.4 -2.2M963.8 776.9l3.3 -2.1M980.4 766l1.4 -0.9" stroke="#100a00" stroke-width="1"/><path d="M951 785l1.6 -1M978.8 766.3l2.3 -1.5" stroke="#2a1e00" stroke-width="0.75"/><path d="M950.2 785.7l1.7 -1.1M931.1 796.8l5 -3.2M957.3 781l5.6 -3.6M930.7 797.9l6.8 -4.4" stroke="#140e00" stroke-width="0.75"/><path d="M943.7 790.2l2.1 -1.3M947.4 787l4.7 -3M964.8 775.6l2.1 -1.3M985.2 762.5l3.1 -2M945.1 789l2.6 -1.6M966.6 774.3l3.2 -2.1M951.9 784.6l5.9 -3.8M932.9 796l3.3 -2.1" stroke="#1e1600" stroke-width="1"/><path d="M961.1 778.3l1.9 -1.2M983.2 763.9l4.4 -2.8M971.2 770.5l2.8 -1.8M944.7 788.4l3.1 -2M933.3 795.3l5.7 -3.7M968.3 773.2l4.4 -2.8M958.3 778.6l2.3 -1.5M944.7 789.5l2.7 -1.7" stroke="#3a2804" stroke-width="1"/><path d="M966.7 773.9l4.4 -2.8M939.7 791.1l2.4 -1.5M958.9 779.1l5.6 -3.6M973.5 770.2l1.4 -0.9M925.2 800l2.1 -1.3M941.7 789.8l4.8 -3.1M954.1 782.4l3.4 -2.2M925.2 799.9l6.2 -4M914.9 808.1l6.4 -4.1M915.6 807.7l6.2 -3.9M916.1 806.8l6.4 -4.1M979.4 765.5l3 -1.9" stroke="#3a2804" stroke-width="1.25"/><path d="M942.7 790.6l4.4 -2.8" stroke="#3a2804" stroke-width="1.5"/><path d="M914.6 808.2l7.5 -4.8M950.6 783.7l2.7 -1.7M952.5 782.4l4.9 -3.1M974.4 769.7l2 -1.3M916.7 806.1l6 -3.9M957.6 779.9l4.2 -2.7" stroke="#100a00" stroke-width="0.75"/><path d="M917.9 806.6l2.7 -1.7M953.4 783.5l2.1 -1.3M921.5 802.5l6.1 -3.9" stroke="#100a00" stroke-width="1.25"/><path d="M948.7 786.5l6.3 -4M936.5 792.4l6.4 -4.1M980.2 766.3l2.2 -1.4" stroke="#1e1600" stroke-width="1.25"/><path d="M929.7 797l6.6 -4.2M932 795.7l3.9 -2.5" stroke="#100a00" stroke-width="1.5"/><path d="M956.9 780.1l3.1 -2M932.6 796.8l6.8 -4.4" stroke="#181000" stroke-width="0.75"/><path d="M918.2 804.2l6.2 -3.9" stroke="#140e00" stroke-width="1.5"/><path d="M931.6 797.8l5.1 -3.3" stroke="#2a1e00" stroke-width="1.5"/></g>
<polyline points="917.7,805.6 960,778.6" fill="none" stroke="#1a1200" stroke-width="1.6" opacity="0.85" clip-path="url(#cD)"/>
<g fill="none" stroke-linecap="round" opacity="0.92" clip-path="url(#cD)"><path d="M1097.3 823.1l2 -1.6M1069.7 841.5l6.8 -5.4M1144.4 783l2 -1.6M1078.7 838.1l6 -4.7M1139.4 789.3l1.9 -1.5M1124.7 799.2l4.5 -3.5M1123.8 801.5l6.5 -5.2" stroke="#140e00" stroke-width="1.25"/><path d="M1074.5 841.5l8.2 -6.5M1152.7 778.8l5.4 -4.3M1152.8 777.9l3.2 -2.5M1146.5 783.4l4.3 -3.4M1072.2 841.9l3.3 -2.6M1069.9 844l5.7 -4.5M1119 805.2l1.7 -1.4M1141 787.6l3.7 -2.9M1124.1 801.4l5.1 -4.1" stroke="#3a2804" stroke-width="1"/><path d="M1074.2 841.1l4.7 -3.7M1123.9 801.1l6 -4.8M1077.5 838.3l2.5 -2M1076.9 837.5l3.1 -2.4M1128.1 797l4.7 -3.7M1077.1 838.9l7.8 -6.2M1091.2 827.3l7.1 -5.6M1151.8 779.6l4.6 -3.7M1139.9 788.2l3.8 -3M1121 802.9l5.3 -4.2M1146.1 782l1.3 -1.1M1157.4 774.9l4.3 -3.4M1128.5 797.5l1.9 -1.5M1121.3 801.9l5.2 -4.2M1128.1 797.2l3.6 -2.9" stroke="#140e00" stroke-width="1"/><path d="M1087 831.3l7.1 -5.6M1083.6 832.7l8.3 -6.6M1102.9 815.5l2.3 -1.8M1125 800.1l6.3 -5M1106 813.7l4.7 -3.7M1130.8 793.8l4.3 -3.4" stroke="#2a1e00" stroke-width="1.5"/><path d="M1105.4 816.4l5 -4M1085.4 830.7l4.2 -3.3M1094.7 823l5.8 -4.6M1092 827.8l6.2 -4.9M1087.1 831.1l4.6 -3.7M1104.5 814.6l2.6 -2M1078 839.3l4.9 -3.9M1141.7 787l3.5 -2.8" stroke="#100a00" stroke-width="1.25"/><path d="M1117.4 806.4l2.3 -1.9M1150.8 777.9l2.3 -1.8M1073.6 838.5l4.3 -3.4M1153.9 777.7l3.6 -2.9" stroke="#2a1e00" stroke-width="0.75"/><path d="M1074.2 840.9l7.6 -6M1073.9 839.4l6.5 -5.1M1099.5 818.5l7.4 -5.9M1082.5 832.3l5.1 -4M1069 846l3.1 -2.4" stroke="#181000" stroke-width="1.25"/><path d="M1142.2 784.8l3.9 -3.1M1131 795.4l4.6 -3.7" stroke="#181000" stroke-width="0.75"/><path d="M1071 841.2l5 -4M1156.9 775l2.6 -2M1123.3 800.3l3.8 -3M1100.3 818.6l4.7 -3.7M1093.5 823.6l6.6 -5.2M1085.7 828.9l6.1 -4.9M1126.1 798.2l5.9 -4.7" stroke="#3a2804" stroke-width="1.5"/><path d="M1125.1 799.1l2.3 -1.8M1079.7 835l2.2 -1.8M1070.1 842l4.3 -3.4M1134.9 792.6l1.5 -1.2M1131.4 794.2l5.9 -4.6M1123.6 799.4l3 -2.4" stroke="#1e1600" stroke-width="1.25"/><path d="M1090.9 825.5l7.4 -5.9M1078.4 836.9l5.2 -4.1M1075.2 839.2l2.3 -1.8M1128.8 795.2l3.1 -2.5M1148.5 782.7l5 -4M1066.3 848.5l7.9 -6.3M1094 822.6l4.2 -3.3M1098.9 821.4l7.5 -5.9M1101 820.8l2.1 -1.6M1085.9 831.1l4.8 -3.8M1108.9 813.8l6 -4.7M1109.8 811.4l7.2 -5.7" stroke="#2a1e00" stroke-width="1"/><path d="M1124.8 799.7l6.2 -4.9M1145.3 785.1l3.7 -3" stroke="#100a00" stroke-width="0.75"/><path d="M1085.9 831l5.3 -4.2M1078.6 837.5l7.9 -6.3M1085.6 830.6l7.2 -5.7M1094.6 823.5l5.8 -4.6" stroke="#140e00" stroke-width="1.5"/><path d="M1148 780.4l3.8 -3M1152.7 776.8l2.2 -1.7M1102.6 819.5l7.7 -6.1M1140.6 786.7l3.4 -2.7M1122.4 802.2l6.5 -5.2M1074.9 839.8l8.3 -6.6M1128.1 795.8l2.4 -1.9M1093.1 824.7l3.7 -2.9" stroke="#181000" stroke-width="1"/><path d="M1141.1 788l5.8 -4.6M1098.8 819.1l4.6 -3.7M1071.5 841.9l7.2 -5.7M1131.6 794.1l4.8 -3.8M1081.8 835.9l2.5 -2" stroke="#1e1600" stroke-width="1"/><path d="M1099.5 820.9l7.6 -6.1M1103.9 816l4.2 -3.4M1069.9 845.7l7.4 -5.8M1093.6 826.4l2.3 -1.8" stroke="#1e1600" stroke-width="1.5"/><path d="M1101.1 817.7l4.8 -3.8M1119.6 804.2l1.6 -1.3M1068.9 845.1l6.9 -5.5M1104.8 816.8l4.6 -3.7M1152.6 777.3l4.1 -3.2M1118.4 806l3.4 -2.7M1128.1 796.6l6.4 -5.1M1093.8 824.4l5.9 -4.7M1122 800.7l3.9 -3.1M1065.7 845.6l5.5 -4.4M1085 829.8l4.9 -3.9M1099.2 818.7l6.2 -4.9" stroke="#100a00" stroke-width="1"/><path d="M1065 847.3l7.4 -5.9M1073.6 840.5l5.4 -4.3M1128 797.6l4.9 -3.9M1087.3 828.7l2.1 -1.7" stroke="#100a00" stroke-width="1.5"/><path d="M1106.5 814.4l7.3 -5.8M1104.7 814.1l7 -5.5M1072.5 842l8.7 -6.9M1139.7 788.6l2.9 -2.3" stroke="#2a1e00" stroke-width="1.25"/><path d="M1095.5 821.7l4.1 -3.3M1089.2 829.3l3.9 -3.1" stroke="#3a2804" stroke-width="1.25"/><path d="M1135.8 792.3l6.2 -4.9M1084.9 832.9l3.2 -2.5M1082.8 833.7l4.9 -3.9M1141 787l2.3 -1.8" stroke="#1e1600" stroke-width="0.75"/><path d="M1081.3 835.9l5.6 -4.5" stroke="#1e1600" stroke-width="1.75"/><path d="M1109.6 813.7l5.5 -4.3M1146 782.7l2.9 -2.3M1130.4 794.4l5.4 -4.3" stroke="#3a2804" stroke-width="0.75"/><path d="M1123.8 799.9l5.3 -4.2M1130.7 796.7l5.5 -4.3M1069.5 845.9l2.6 -2M1097.6 822.7l3.6 -2.8M1065.6 844.7l8.4 -6.7" stroke="#181000" stroke-width="1.5"/><path d="M1071.6 844.1l3.7 -2.9" stroke="#140e00" stroke-width="1.75"/></g>
<polyline points="1070,843 1120,803.5" fill="none" stroke="#1a1200" stroke-width="2" opacity="0.85" clip-path="url(#cD)"/>
<g fill="none" stroke-linecap="round" opacity="0.85" clip-path="url(#cD)"><path d="M1068 845.3l-0.8 -4.3M1074.8 840.4l-0.7 -3.7" stroke="#d8d010" stroke-width="1.5"/><path d="M1069.1 845.8l-0.5 -2.9M1078.7 838.4l-0.6 -3.6M1088.7 829.2l-0.5 -2.7" stroke="#d8d010" stroke-width="1.25"/><path d="M1070.6 843l-0.9 -5" stroke="#a8a010" stroke-width="1.25"/><path d="M1073 841.9l-0.7 -4M1083.6 833.3l-0.5 -2.5" stroke="#707008" stroke-width="1.25"/><path d="M1076.7 839.2l-0.7 -3.8" stroke="#a8a010" stroke-width="1.5"/><path d="M1080.2 835.6l-0.4 -2.1M1085.6 831.6l-0.6 -3.1" stroke="#a8a010" stroke-width="1"/><path d="M1081.7 833.8l-0.6 -3.3" stroke="#f0e018" stroke-width="0.75"/><path d="M1086.8 831.2l-0.4 -2.1" stroke="#a8a010" stroke-width="0.75"/><path d="M1089.2 827.2l-0.4 -2" stroke="#f0e018" stroke-width="1.25"/><path d="M1090.8 826l-0.5 -2.6" stroke="#f0e018" stroke-width="1"/></g>
<polyline points="905.7,834.7 945.7,806.7 970,791" fill="none" stroke="#1a1200" stroke-width="1.3" opacity="0.8" clip-path="url(#cD)"/>
<g fill="none" stroke-linecap="round" opacity="0.85" clip-path="url(#cD)"><path d="M912.8 840.8l1.9 -1.3M958.9 811.4l2.9 -1.9M927.9 831.9l2.8 -1.9" stroke="#140e00" stroke-width="1"/><path d="M926.1 833l2.7 -1.8M915.5 839.2l1.3 -0.8" stroke="#1e1600" stroke-width="0.75"/><path d="M951.4 816l2.5 -1.7" stroke="#100a00" stroke-width="1.25"/><path d="M924.9 832.5l1.2 -0.8" stroke="#181000" stroke-width="1"/><path d="M956.8 812.4l1.7 -1.1M914.9 840.2l1.8 -1.2" stroke="#181000" stroke-width="0.75"/><path d="M936.5 826.2l0.8 -0.5M934.4 826.1l0.7 -0.5M958.2 811.1l2.2 -1.5M955.6 812.3l0.9 -0.6M914.7 840.3l2.8 -1.8M928.1 830.7l1 -0.6" stroke="#2a1e00" stroke-width="0.75"/><path d="M930.4 828.5l2.1 -1.4M909.1 843.7l1.9 -1.3" stroke="#3a2804" stroke-width="0.75"/><path d="M931.1 828l1.4 -0.9M913.7 841.1l2.8 -1.9M920 835.6l1.5 -1M948.1 817.5l1.6 -1.1" stroke="#1e1600" stroke-width="1"/><path d="M910.8 842.1l1.2 -0.8" stroke="#1e1600" stroke-width="1.25"/><path d="M911 842.6l0.7 -0.5" stroke="#181000" stroke-width="0.5"/><path d="M953.7 813.9l0.8 -0.5M947.1 818.9l0.9 -0.6M917.1 838.6l2.1 -1.4M947.1 818.1l2.6 -1.7" stroke="#2a1e00" stroke-width="1"/><path d="M910.8 842.2l1 -0.7M959 811.3l0.7 -0.4M952.7 815.1l1.6 -1" stroke="#100a00" stroke-width="1"/><path d="M910.4 843.1l0.7 -0.5" stroke="#3a2804" stroke-width="1.25"/><path d="M939.8 823.3l1.1 -0.7" stroke="#140e00" stroke-width="0.75"/><path d="M928.8 830.8l2.3 -1.5" stroke="#3a2804" stroke-width="0.5"/><path d="M949.6 816.3l0.9 -0.6" stroke="#181000" stroke-width="1.25"/><path d="M938.7 824.2l2.2 -1.5M909.5 843.8l2 -1.3" stroke="#3a2804" stroke-width="1"/></g>
<g fill="none" stroke-linecap="round" opacity="0.85" clip-path="url(#cD)"><path d="M978.8 805.3l2.4 -1.7M978.1 804.6l1.8 -1.2" stroke="#140e00" stroke-width="1"/><path d="M954.6 822.2l2.3 -1.6M930.9 838.4l1.4 -1M957.2 820.3l2.9 -2M961.6 816l1.5 -1.1" stroke="#181000" stroke-width="1"/><path d="M980 804.6l1.8 -1.3M960.3 816.9l0.9 -0.6" stroke="#3a2804" stroke-width="1"/><path d="M973 807.8l2.7 -1.9M939.7 831.3l2.4 -1.6M961.4 816.4l0.8 -0.6M955.5 821.4l2.3 -1.6M955.3 820.7l1.2 -0.8" stroke="#100a00" stroke-width="1"/><path d="M944.8 828.1l1.1 -0.8M925.4 841.3l2.6 -1.8M981.4 802.9l1.7 -1.2" stroke="#1e1600" stroke-width="0.75"/><path d="M952.9 822.8l0.7 -0.5M953.4 821.7l2 -1.4M929.1 838.7l2.3 -1.6" stroke="#2a1e00" stroke-width="0.75"/><path d="M931 838.2l1.1 -0.7M969 812.2l2.3 -1.6" stroke="#1e1600" stroke-width="1"/><path d="M926.8 840.9l3 -2M951.3 823l2.2 -1.5" stroke="#181000" stroke-width="1.25"/><path d="M970.1 810.1l0.7 -0.5M978 805l1.2 -0.8" stroke="#181000" stroke-width="0.75"/><path d="M942.2 829.6l1.2 -0.9M979.8 804l1.2 -0.8M951.7 822.9l2.3 -1.6" stroke="#140e00" stroke-width="1.25"/><path d="M960.8 817.6l2.1 -1.4" stroke="#1e1600" stroke-width="1.25"/><path d="M975.1 806.6l1.4 -0.9M940.5 831.1l2.6 -1.8M924.9 841.9l2.6 -1.8M951 824.4l2.1 -1.4" stroke="#3a2804" stroke-width="0.75"/><path d="M954 821.6l0.9 -0.7M935.8 834.2l0.9 -0.7" stroke="#2a1e00" stroke-width="1"/><path d="M981.8 803.5l2.3 -1.6" stroke="#100a00" stroke-width="0.5"/><path d="M948.5 825.5l2.4 -1.7M941.6 829.7l1.8 -1.3M957.3 819.2l2.4 -1.7" stroke="#100a00" stroke-width="0.75"/><path d="M940.1 830.7l2.8 -2M922.1 843.5l1.8 -1.2M972 810.3l1.7 -1.1" stroke="#100a00" stroke-width="1.25"/><path d="M954.7 822.1l2.8 -2" stroke="#2a1e00" stroke-width="1.25"/><path d="M951.8 823.3l1.7 -1.2M974.6 807.8l1.1 -0.8" stroke="#140e00" stroke-width="0.75"/></g>
<g fill="none" stroke-linecap="round" opacity="0.85" clip-path="url(#cD)"><path d="M954.8 830.7l2.8 -2M963.1 826.5l2.3 -1.6M965.2 823.5l1.2 -0.9" stroke="#181000" stroke-width="1"/><path d="M958.5 828.1l1 -0.7M967.1 822.4l0.7 -0.5M950.1 835.8l0.9 -0.7M960.6 827.1l2.5 -1.7M952.4 832.7l2.4 -1.7" stroke="#140e00" stroke-width="1"/><path d="M969.7 820.6l2.7 -1.9M979.2 813.9l2.2 -1.5M936.3 844.6l2.6 -1.9M984.8 810.2l2.8 -2" stroke="#1e1600" stroke-width="0.75"/><path d="M951.2 834.5l2.7 -1.9" stroke="#2a1e00" stroke-width="1"/><path d="M941.2 841.1l1.1 -0.8" stroke="#1e1600" stroke-width="1.25"/><path d="M944.3 838.6l1.1 -0.8M981.3 812.8l2.4 -1.7M960 828.3l1.9 -1.4" stroke="#2a1e00" stroke-width="0.75"/><path d="M974.7 817.7l1.3 -1" stroke="#181000" stroke-width="0.5"/><path d="M936.5 844.5l1.4 -1M939.1 842.8l2.5 -1.8" stroke="#100a00" stroke-width="0.75"/><path d="M972.8 818.2l2.4 -1.7M972.3 819.8l2.8 -2M968.5 821.3l2.2 -1.6M952.8 833l0.7 -0.5" stroke="#140e00" stroke-width="0.75"/><path d="M966.2 824.3l1.5 -1.1M982 812.8l1.5 -1M935.4 845.6l1.9 -1.4" stroke="#1e1600" stroke-width="1"/><path d="M986.1 809.6l2.3 -1.6M941.1 841.5l2.3 -1.7" stroke="#3a2804" stroke-width="1"/><path d="M939 843.2l2.6 -1.9" stroke="#2a1e00" stroke-width="1.25"/><path d="M963.3 825.6l1.4 -1M960.3 827.9l1.2 -0.8" stroke="#140e00" stroke-width="1.25"/><path d="M985.5 808.9l1.2 -0.9M965.1 825l1.3 -0.9" stroke="#3a2804" stroke-width="0.75"/><path d="M982.6 812.7l1.3 -0.9M955.4 831.2l1.8 -1.3" stroke="#181000" stroke-width="0.75"/><path d="M940.3 842.5l2.7 -1.9M948.9 834.9l2.1 -1.5" stroke="#100a00" stroke-width="1.25"/><path d="M990.3 806.9l1.1 -0.8" stroke="#2a1e00" stroke-width="0.5"/><path d="M955.2 831.7l1.7 -1.2" stroke="#100a00" stroke-width="1"/><path d="M972.7 819.7l0.7 -0.5" stroke="#140e00" stroke-width="0.5"/><path d="M973.9 818.4l2.4 -1.7" stroke="#1e1600" stroke-width="0.5"/></g>
<g fill="none" stroke-linecap="round" opacity="0.85" clip-path="url(#cD)"><path d="M951.1 843.6l2.5 -1.8M989.8 813.7l2.4 -1.8M972.3 826.9l2.6 -1.9M984.6 817.2l2.2 -1.7M964.8 832l1.2 -0.9M961.3 834.4l1.3 -1M957.2 837.2l1.1 -0.8" stroke="#100a00" stroke-width="1"/><path d="M986.2 816.8l1.3 -1M957.3 838.2l0.7 -0.5M994.1 811.4l1.6 -1.2" stroke="#140e00" stroke-width="0.75"/><path d="M994.9 810.4l1.3 -1M978.6 821.5l2.2 -1.7" stroke="#140e00" stroke-width="0.5"/><path d="M960.6 836.5l0.9 -0.7M990.8 813.2l1.3 -1M948.1 845l2.5 -1.9M987.9 816l2.9 -2.1" stroke="#181000" stroke-width="0.75"/><path d="M959.2 837.6l2.3 -1.7M1009.9 798.5l1.8 -1.4M991.5 812l1.6 -1.2M1007.2 800.6l1.8 -1.3" stroke="#1e1600" stroke-width="0.75"/><path d="M1004.9 803.7l1.5 -1.1M962.3 833.5l1 -0.7" stroke="#140e00" stroke-width="1"/><path d="M1004.6 803l2.1 -1.5M989.2 814.3l0.7 -0.5" stroke="#181000" stroke-width="1"/><path d="M1009.3 800.5l2.4 -1.8M988 814.4l1 -0.7M953.1 841.2l2.3 -1.7" stroke="#1e1600" stroke-width="1.25"/><path d="M994.5 811l1.1 -0.8M986.1 816.6l1 -0.8" stroke="#181000" stroke-width="1.25"/><path d="M947.5 845.5l1.7 -1.3M963.2 832.9l1.8 -1.3" stroke="#1e1600" stroke-width="0.5"/><path d="M1001.9 806l2.5 -1.8M1009.5 798.9l1.2 -0.9M953.8 841l1 -0.7M1004.7 803.2l0.6 -0.5M999.3 806.4l1.4 -1.1" stroke="#100a00" stroke-width="0.75"/><path d="M1003.4 803l1 -0.7M968.8 829.8l2.4 -1.8" stroke="#2a1e00" stroke-width="1"/><path d="M1008.8 799l2.7 -2" stroke="#3a2804" stroke-width="0.5"/><path d="M991.8 812.8l1.5 -1.1M956.9 838.1l2.6 -1.9M999.5 806.6l1.2 -0.9M992.9 811.4l1.5 -1.1" stroke="#3a2804" stroke-width="1"/><path d="M1012.8 797.7l1.9 -1.4M947.2 846.5l2.4 -1.8" stroke="#3a2804" stroke-width="0.75"/><path d="M1010.7 798.8l2.8 -2.1M958.3 837.4l1.8 -1.4" stroke="#2a1e00" stroke-width="0.75"/><path d="M996.6 808.5l1.5 -1.1M946.7 845.5l2.4 -1.8" stroke="#2a1e00" stroke-width="1.25"/><path d="M952.4 841.6l2.2 -1.6M962 834.2l2.7 -2" stroke="#1e1600" stroke-width="1"/></g>
<g fill="none" stroke-linecap="round" opacity="0.85" clip-path="url(#cD)"><path d="M984.3 825.8l1.9 -1.5M1007 808.4l1.9 -1.5M983.6 827.2l1.8 -1.3M963.3 841.7l0.7 -0.5M972.9 834.8l1.1 -0.8" stroke="#2a1e00" stroke-width="0.75"/><path d="M970.6 836.1l2.3 -1.7M967.2 840.4l2.1 -1.6M1007.6 808.1l0.8 -0.6M998.7 816.6l2.7 -2M972.1 835.9l2.3 -1.8M979.8 829.8l1.1 -0.8" stroke="#181000" stroke-width="0.75"/><path d="M975.2 833.2l1.7 -1.3M997.5 817.3l2.3 -1.8M1014.6 804.4l2.7 -2" stroke="#1e1600" stroke-width="1"/><path d="M990.5 822.5l2 -1.5" stroke="#1e1600" stroke-width="1.25"/><path d="M979.7 830.2l2.5 -1.9M1012.8 804.4l0.8 -0.6M986.4 824l1 -0.7M1011.3 806.6l2.5 -1.9" stroke="#140e00" stroke-width="1"/><path d="M985.3 825.9l2.1 -1.6M981.5 829.5l1.6 -1.2M990.8 821.2l1.7 -1.3M1000.6 814.7l1.2 -0.9M993.9 818.6l1.4 -1.1" stroke="#181000" stroke-width="1"/><path d="M994 818.4l0.7 -0.5M1011.6 805.3l2.7 -2" stroke="#100a00" stroke-width="1"/><path d="M991.4 821.7l1.8 -1.3M988.9 822.6l2.1 -1.6M993.2 820.4l1.7 -1.3" stroke="#140e00" stroke-width="0.75"/><path d="M966.8 840l1 -0.8M965.4 841l1.1 -0.8" stroke="#3a2804" stroke-width="1"/><path d="M971.3 837.1l2.3 -1.8M1011 807.3l2.2 -1.6M1019.3 800.8l2.2 -1.7M971.7 836.2l2.1 -1.6" stroke="#2a1e00" stroke-width="1"/><path d="M979.6 830.9l1.6 -1.2M1014.3 804.4l2 -1.5" stroke="#140e00" stroke-width="1.25"/><path d="M975.5 833.8l1.8 -1.4M983.7 826.4l1 -0.7" stroke="#100a00" stroke-width="0.75"/><path d="M980.2 830.2l0.7 -0.5M994.8 819.5l2.9 -2.2" stroke="#1e1600" stroke-width="0.75"/><path d="M1012.3 804.8l1.6 -1.2" stroke="#140e00" stroke-width="0.5"/><path d="M994.6 819.2l1.2 -0.9M1016.6 801.9l0.8 -0.6" stroke="#3a2804" stroke-width="0.75"/><path d="M1014.3 804.3l1.3 -1" stroke="#2a1e00" stroke-width="0.5"/><path d="M1016 803.5l1.7 -1.3M959.4 846.2l2.1 -1.6" stroke="#3a2804" stroke-width="1.25"/><path d="M976.5 832.7l2.4 -1.8" stroke="#181000" stroke-width="1.25"/></g>
<g fill="none" stroke-linecap="round" opacity="0.85" clip-path="url(#cD)"><path d="M1028.6 800.6l2 -1.5M984.5 835l2.3 -1.8M1009.1 815.9l1.8 -1.4" stroke="#100a00" stroke-width="1"/><path d="M998 825.7l2.1 -1.7M994.6 827.4l1.5 -1.2M1007.1 817.3l1.2 -0.9M1013.6 812.2l1.6 -1.2M991.1 830.4l2.8 -2.2M1020.4 808.1l2.4 -1.8M996.4 827l2 -1.6" stroke="#3a2804" stroke-width="0.75"/><path d="M973.3 844.2l0.9 -0.7M984.1 835.7l1.3 -1M979.1 840.4l1.5 -1.2M1018.2 809.5l1.6 -1.2" stroke="#181000" stroke-width="0.75"/><path d="M977.4 839.9l2.1 -1.6M987.5 833.4l1.9 -1.4" stroke="#140e00" stroke-width="0.75"/><path d="M988.6 832.1l1.9 -1.5M1012.9 813.5l2 -1.6M1018 809.9l0.8 -0.6M978.7 840.6l2.3 -1.8M979.3 838.3l0.9 -0.7" stroke="#1e1600" stroke-width="1"/><path d="M1018.7 808.4l2.4 -1.9M1002.7 820.8l1 -0.7M1002.5 821.6l1.1 -0.9M1007.2 817.2l0.9 -0.7" stroke="#1e1600" stroke-width="0.75"/><path d="M987.4 833.3l2 -1.6M987.6 832.3l1.1 -0.9M1001.3 822.1l1.8 -1.4M1011.3 815.1l2.2 -1.7" stroke="#2a1e00" stroke-width="0.75"/><path d="M987 833.3l1.1 -0.9M976.2 840.9l2.4 -1.8M1012.5 814.5l1 -0.8M978.4 839.6l2.5 -2M1010 815.8l0.6 -0.5" stroke="#2a1e00" stroke-width="1"/><path d="M973.8 844.2l2.7 -2.1" stroke="#181000" stroke-width="1"/><path d="M983.5 836.7l0.7 -0.6" stroke="#2a1e00" stroke-width="1.25"/><path d="M1011.7 814.8l0.8 -0.6M994.7 827.5l1.8 -1.4M970.5 845.6l2.7 -2.1" stroke="#140e00" stroke-width="1"/><path d="M1009.5 816.2l2.4 -1.9" stroke="#140e00" stroke-width="1.25"/><path d="M1016.7 809.3l1.4 -1.1M978.8 840.6l1 -0.7" stroke="#3a2804" stroke-width="1"/><path d="M984.8 834.5l1.4 -1.1" stroke="#140e00" stroke-width="0.5"/><path d="M1006.6 817.8l0.7 -0.5" stroke="#100a00" stroke-width="1.25"/><path d="M1014.8 812.6l1.6 -1.2" stroke="#100a00" stroke-width="0.75"/></g>
<g fill="none" stroke-linecap="round" opacity="0.85" clip-path="url(#cD)"><path d="M998.6 834l2 -1.6M1005.6 829.8l1.3 -1M997.5 836.4l0.6 -0.5" stroke="#1e1600" stroke-width="0.75"/><path d="M1002.5 831.6l1.6 -1.3M998.3 835.7l1.5 -1.2" stroke="#100a00" stroke-width="1"/><path d="M1024.8 814.5l1.9 -1.5" stroke="#3a2804" stroke-width="1.25"/><path d="M1005.4 828.6l2.4 -1.9" stroke="#181000" stroke-width="1"/><path d="M992 838.9l1.4 -1.1M1026.3 812.8l1.1 -0.9" stroke="#140e00" stroke-width="1"/><path d="M1010.8 824.2l0.7 -0.6M1003 830.3l1.8 -1.4M1009.8 824.7l2.6 -2.1M1024.3 815.1l1.1 -0.9" stroke="#1e1600" stroke-width="1"/><path d="M1001.6 833l2.1 -1.7M1031.5 808.2l2.2 -1.8M1029.5 809.8l1.1 -0.9" stroke="#100a00" stroke-width="0.75"/><path d="M1012 824.8l2.1 -1.7M988 842.8l1.7 -1.3M1027 811.1l2.4 -1.9" stroke="#181000" stroke-width="0.75"/><path d="M1009.3 826.4l1.9 -1.5M1008.5 826.6l2.3 -1.9M1027.7 810.8l1.5 -1.2" stroke="#140e00" stroke-width="0.75"/><path d="M1011.2 825l1.4 -1.1M1002.9 832.1l1.7 -1.4" stroke="#2a1e00" stroke-width="1"/><path d="M997.7 835.9l1.4 -1.1" stroke="#1e1600" stroke-width="1.25"/><path d="M1002.4 832.2l2.2 -1.8M1023.8 815.5l1 -0.8M1010.4 825.3l2.5 -2M1014.6 822.4l1.4 -1.1" stroke="#3a2804" stroke-width="1"/><path d="M1006.7 828.7l1.5 -1.2" stroke="#100a00" stroke-width="1.25"/><path d="M994.6 837.4l0.9 -0.7M1007 827.9l1.5 -1.2M1022.2 815.6l1.3 -1.1M1015.5 822l1.2 -0.9" stroke="#3a2804" stroke-width="0.75"/></g>
<g fill="none" stroke-linecap="round" opacity="0.85" clip-path="url(#cD)"><path d="M1042.7 809l1.5 -1.2" stroke="#100a00" stroke-width="1.25"/><path d="M999.6 845.6l1 -0.8M1049.8 803.8l2.4 -2M1003.9 842.2l1.8 -1.5M1018.5 829.3l0.7 -0.5M1046.4 807.7l2.5 -2.1" stroke="#1e1600" stroke-width="1"/><path d="M1007.5 839l2.4 -1.9" stroke="#2a1e00" stroke-width="0.75"/><path d="M1038.8 812.2l1.9 -1.6M1012.3 834.1l1.2 -1M1026.2 824.4l1.3 -1.1M1048.7 804.5l1.5 -1.3" stroke="#181000" stroke-width="0.75"/><path d="M1004 841.5l1.6 -1.3M1001.8 843.8l0.7 -0.5M1005.7 841l1.5 -1.2M1007.8 838.2l1.7 -1.4M1044.9 807.9l1.6 -1.3M1034.2 817.5l2 -1.6" stroke="#2a1e00" stroke-width="1"/><path d="M1049.8 804.4l1.6 -1.3M1014.6 833.8l0.9 -0.8M1043.9 809.4l2.3 -1.9M1030 820.2l2.6 -2.1" stroke="#100a00" stroke-width="1"/><path d="M1041 811.5l2.5 -2.1M1006.7 840l2 -1.6M1017.9 829.5l2.2 -1.8M1016.4 831.9l1.1 -0.9M1032.8 818.2l1.7 -1.4" stroke="#140e00" stroke-width="0.75"/><path d="M1025.5 824.2l2.3 -1.9" stroke="#181000" stroke-width="0.5"/><path d="M1022.7 825.5l1.4 -1.1M1050.8 802.4l1.6 -1.3" stroke="#3a2804" stroke-width="0.75"/><path d="M1047.4 807l1.9 -1.6M1016.6 831l0.9 -0.7M1027.1 822.2l1.3 -1.1" stroke="#1e1600" stroke-width="0.75"/><path d="M1008.4 837.5l1.5 -1.2" stroke="#140e00" stroke-width="1.25"/><path d="M1010 836.4l0.7 -0.6M1034.8 815.5l2.3 -1.9" stroke="#2a1e00" stroke-width="1.25"/><path d="M1046.6 806.9l2.6 -2.2" stroke="#100a00" stroke-width="0.75"/><path d="M1015 832.4l2.1 -1.8" stroke="#3a2804" stroke-width="1"/><path d="M1016.8 830.6l0.9 -0.8M1036.9 813.9l2.3 -1.9M1032.1 818.6l1.1 -0.9" stroke="#181000" stroke-width="1"/><path d="M1003.4 842.5l2.5 -2" stroke="#3a2804" stroke-width="0.5"/><path d="M1048.7 805.9l2.2 -1.8" stroke="#1e1600" stroke-width="1.25"/></g>
<g fill="none" stroke-linecap="round" opacity="0.85" clip-path="url(#cD)"><path d="M1034.2 827l1.1 -0.9M1026 832.6l2 -1.6M1043 818.8l0.6 -0.5M1023.6 835.5l1 -0.8" stroke="#3a2804" stroke-width="1"/><path d="M1023.3 834.8l1.7 -1.4M1040.6 822.1l1.3 -1.1M1031.9 827.8l2.4 -2" stroke="#1e1600" stroke-width="1.25"/><path d="M1036 824.2l2.1 -1.7M1033.5 828l1.7 -1.4" stroke="#181000" stroke-width="1"/><path d="M1036.4 824l1.7 -1.4M1041.9 819.8l1.6 -1.3" stroke="#2a1e00" stroke-width="1"/><path d="M1048.1 814l2.4 -2M1045.9 817.7l0.9 -0.8" stroke="#140e00" stroke-width="1.25"/><path d="M1037.5 823.8l1.5 -1.3M1020.6 837.6l1 -0.8" stroke="#2a1e00" stroke-width="0.75"/><path d="M1036.1 824.7l1.7 -1.5" stroke="#100a00" stroke-width="0.75"/><path d="M1014 843.7l1.1 -0.9M1032.2 828.7l1.7 -1.4" stroke="#140e00" stroke-width="0.75"/><path d="M1022 837.4l2.1 -1.7" stroke="#1e1600" stroke-width="0.5"/><path d="M1029.1 831l1.4 -1.2M1047.9 814.3l1.6 -1.3" stroke="#181000" stroke-width="0.75"/><path d="M1033.7 827.5l1 -0.8M1048.8 813.6l1.1 -1" stroke="#140e00" stroke-width="1"/><path d="M1045.2 817.8l2.4 -2" stroke="#100a00" stroke-width="0.5"/><path d="M1014.6 842.3l1.3 -1" stroke="#2a1e00" stroke-width="1.25"/><path d="M1034.6 826.2l2.5 -2.1" stroke="#100a00" stroke-width="1.25"/><path d="M1033.8 826.8l2.5 -2.1" stroke="#181000" stroke-width="1.25"/><path d="M1014.9 842.4l1 -0.8M1028.6 830.5l2 -1.7" stroke="#1e1600" stroke-width="0.75"/><path d="M1039.2 823.1l2.1 -1.7" stroke="#100a00" stroke-width="1"/></g>
<g fill="none" stroke-linecap="round" opacity="0.85" clip-path="url(#cD)"><path d="M1029.2 841.3l2.1 -1.8M1025.6 842.9l1 -0.9M1061.5 813.6l2.5 -2.1" stroke="#1e1600" stroke-width="0.75"/><path d="M1044.3 827.6l1.9 -1.6M1040.5 830l1.9 -1.7M1030 840.6l2 -1.7M1062 812.8l2.3 -2M1066.8 808.1l2.3 -2M1033 836.4l2.6 -2.3" stroke="#2a1e00" stroke-width="1"/><path d="M1049.7 823.4l1.8 -1.6M1038.5 831.5l1 -0.8M1033.7 836l2.1 -1.8M1025.5 843.6l2.5 -2.2M1045.3 827.5l0.8 -0.7" stroke="#181000" stroke-width="0.75"/><path d="M1045.3 827.3l1.2 -1M1046.7 825.9l1.8 -1.5" stroke="#100a00" stroke-width="0.75"/><path d="M1033.8 836.8l2.4 -2.1M1060.1 813.3l1.2 -1.1M1030 840.6l0.9 -0.8M1034.1 837.3l0.8 -0.7" stroke="#100a00" stroke-width="1"/><path d="M1058.1 815.2l2.1 -1.8M1043.3 829.3l2.3 -2M1047.1 824.9l1.3 -1.1M1028.2 841.2l1.8 -1.6M1039.8 831.8l1 -0.8" stroke="#3a2804" stroke-width="1"/><path d="M1037.3 833.4l2.5 -2.1" stroke="#3a2804" stroke-width="0.75"/><path d="M1048.9 824.1l0.8 -0.7" stroke="#140e00" stroke-width="0.75"/><path d="M1046.5 826.5l0.6 -0.5" stroke="#2a1e00" stroke-width="0.75"/><path d="M1029.2 840.6l1.5 -1.3M1052.3 820.2l1.5 -1.3" stroke="#140e00" stroke-width="1"/><path d="M1042.7 829.6l2 -1.7" stroke="#2a1e00" stroke-width="1.25"/><path d="M1058.5 814.6l1.9 -1.7" stroke="#1e1600" stroke-width="1.25"/><path d="M1060.2 814l1.7 -1.5" stroke="#1e1600" stroke-width="0.5"/><path d="M1039.6 831l1.6 -1.4M1044.6 826.6l0.6 -0.5" stroke="#181000" stroke-width="1.25"/><path d="M1065.7 808.4l1.8 -1.5" stroke="#100a00" stroke-width="1.25"/></g>
<g fill="none" stroke-linecap="round" opacity="0.85" clip-path="url(#cD)"><path d="M1040.2 844.7l1.3 -1.1" stroke="#2a1e00" stroke-width="0.75"/><path d="M1069.1 820.5l2.6 -2.2M1061.3 827.1l1.9 -1.7M1057.6 828.7l1.1 -1" stroke="#100a00" stroke-width="1"/><path d="M1041.6 844l2.6 -2.3M1048.2 837.6l1.8 -1.6" stroke="#181000" stroke-width="1"/><path d="M1052.8 833.1l1.5 -1.3M1064.5 823.7l1.2 -1.1" stroke="#140e00" stroke-width="1"/><path d="M1058.4 828.4l2 -1.8M1061.5 826.3l1.2 -1.1" stroke="#181000" stroke-width="0.75"/><path d="M1054.3 832.9l1.1 -1M1042.4 842.6l0.8 -0.7" stroke="#1e1600" stroke-width="0.75"/><path d="M1060 827.3l2.2 -2M1061.3 826l2.3 -2M1048.5 836.6l2.4 -2.1" stroke="#3a2804" stroke-width="0.75"/><path d="M1067.2 821l0.7 -0.6" stroke="#2a1e00" stroke-width="1"/><path d="M1055.3 831.2l2.5 -2.2M1044.7 840l1.9 -1.7" stroke="#3a2804" stroke-width="1.25"/><path d="M1062.4 826.3l1 -0.9" stroke="#3a2804" stroke-width="0.5"/><path d="M1044.3 840.4l1.6 -1.4" stroke="#181000" stroke-width="1.25"/><path d="M1067.1 820.4l2.2 -1.9" stroke="#1e1600" stroke-width="1"/><path d="M1041 844.5l2.2 -1.9" stroke="#100a00" stroke-width="0.75"/><path d="M1051.6 835.2l2.4 -2.1M1057.7 829.6l1.5 -1.3" stroke="#1e1600" stroke-width="1.25"/></g>
<g fill="none" stroke-linecap="round" opacity="0.85" clip-path="url(#cD)"><path d="M982.3 807.1l1.9 -1.4" stroke="#100a00" stroke-width="1"/><path d="M977.3 811.3l1.9 -1.4M960.5 823.6l1.8 -1.3" stroke="#181000" stroke-width="1"/><path d="M986.6 805.7l2.4 -1.8M985.2 806l1.4 -1M958.9 824.3l2.3 -1.7M972.7 815.4l1.5 -1.1M965.8 820.5l2.3 -1.7" stroke="#3a2804" stroke-width="1"/><path d="M968 818.1l2 -1.5M953.8 828l2.1 -1.5M951.8 829.7l2.5 -1.8" stroke="#2a1e00" stroke-width="1.25"/><path d="M989.1 802.2l2.6 -1.9M977.7 812.1l2.6 -1.9M981.2 809.5l2 -1.4" stroke="#1e1600" stroke-width="0.75"/><path d="M984.8 806.8l2.1 -1.5M964.9 820.1l2 -1.4M979.9 810.5l1.8 -1.3" stroke="#2a1e00" stroke-width="0.75"/><path d="M975.5 812.7l1.8 -1.3M981.5 808.2l2 -1.5" stroke="#3a2804" stroke-width="0.75"/><path d="M952.6 828.6l1.4 -1M966.4 819.1l2.1 -1.6M981.7 809l2.3 -1.7" stroke="#140e00" stroke-width="1"/><path d="M987.7 803.7l2.7 -2M973.8 813.6l2.3 -1.7M984.2 806.4l2.1 -1.5" stroke="#2a1e00" stroke-width="1"/><path d="M956.3 827.4l1.8 -1.3" stroke="#100a00" stroke-width="0.75"/><path d="M966.8 820l2 -1.5" stroke="#1e1600" stroke-width="0.5"/><path d="M955.2 826.9l1.3 -0.9" stroke="#1e1600" stroke-width="1.25"/><path d="M970.7 815.7l1.8 -1.3" stroke="#1e1600" stroke-width="1"/><path d="M962.4 822.9l0.9 -0.7" stroke="#181000" stroke-width="0.75"/></g>
<g fill="none" stroke-linecap="round" opacity="0.85" clip-path="url(#cD)"><path d="M992.2 802l2.1 -1.6M982.7 809.4l2.3 -1.7M983.1 809.3l0.9 -0.6" stroke="#2a1e00" stroke-width="1"/><path d="M976.2 814.5l2.7 -2M973.9 814.9l1 -0.8M966.8 820.7l2.6 -1.9M977.3 812.6l2.6 -1.9" stroke="#3a2804" stroke-width="1.25"/><path d="M976 813.5l2 -1.5M971.3 816.7l1.9 -1.4M964.7 822.5l2.2 -1.6" stroke="#100a00" stroke-width="0.75"/><path d="M972.7 815.6l1.1 -0.8M969.8 818.3l2.7 -2" stroke="#3a2804" stroke-width="1"/><path d="M987.2 806.4l1.7 -1.3" stroke="#140e00" stroke-width="0.5"/><path d="M993.1 801l2.1 -1.6M978.6 812.4l2.4 -1.8" stroke="#100a00" stroke-width="1"/><path d="M992.2 801.5l1.9 -1.5" stroke="#1e1600" stroke-width="0.75"/><path d="M992.1 801.3l2.4 -1.8M973 815.4l2.6 -1.9" stroke="#181000" stroke-width="0.75"/><path d="M975.5 814.9l2.4 -1.8" stroke="#140e00" stroke-width="1"/><path d="M980.1 810.8l1.6 -1.2M991.4 803l2 -1.5" stroke="#3a2804" stroke-width="0.75"/><path d="M977.8 813.1l2.1 -1.6M981.8 808.9l2.2 -1.7" stroke="#1e1600" stroke-width="1"/><path d="M997.7 796.9l1.4 -1" stroke="#2a1e00" stroke-width="0.5"/><path d="M969.8 818.3l2.9 -2.1" stroke="#181000" stroke-width="1"/><path d="M994.8 799.1l2.2 -1.7" stroke="#140e00" stroke-width="1.25"/><path d="M972.8 816.7l2.9 -2.1" stroke="#2a1e00" stroke-width="1.25"/></g>
<g fill="none" stroke-linecap="round" opacity="0.85" clip-path="url(#cD)"><path d="M961.6 804.2l1.6 -1.1M952.8 809.7l0.8 -0.6" stroke="#2a1e00" stroke-width="0.75"/><path d="M939.8 818.7l2.3 -1.6M941 817.7l2.3 -1.6" stroke="#181000" stroke-width="1"/><path d="M934.3 821.1l2 -1.4M946.9 813.1l1.4 -1M930.1 824.6l2.7 -1.9" stroke="#3a2804" stroke-width="0.75"/><path d="M960.8 804.5l2.9 -2M933.4 822.9l0.8 -0.6M950.6 810l1.8 -1.2M930.3 824.2l1.9 -1.3" stroke="#1e1600" stroke-width="0.75"/><path d="M954.5 808.8l2.1 -1.5" stroke="#140e00" stroke-width="1"/><path d="M951.9 809.2l2.1 -1.4M942.7 816.9l2.5 -1.7" stroke="#100a00" stroke-width="1"/><path d="M929.6 825.9l2.1 -1.5M951.4 810.9l0.7 -0.5" stroke="#140e00" stroke-width="0.75"/><path d="M950.2 811l0.9 -0.6" stroke="#1e1600" stroke-width="1.25"/><path d="M933.9 822.8l1.7 -1.2M954 807.9l0.8 -0.5M934 821.4l1.9 -1.3" stroke="#100a00" stroke-width="0.75"/><path d="M952.1 809.7l2.3 -1.6" stroke="#3a2804" stroke-width="1.25"/><path d="M960 805.1l1.5 -1.1" stroke="#1e1600" stroke-width="1"/><path d="M940.9 818.1l1.7 -1.1" stroke="#100a00" stroke-width="0.5"/><path d="M932.9 823.1l0.8 -0.5" stroke="#181000" stroke-width="0.75"/></g>
<polyline points="988.3,842.7 1031,805.3" fill="none" stroke="#1a1200" stroke-width="1.2" opacity="0.75" clip-path="url(#cD)"/>
<g fill="none" stroke-linecap="round" opacity="0.85" clip-path="url(#cD)"><path d="M937.6 847l-1.1 -5.9M952.7 834.6l-0.3 -1.8M959 830l-0.5 -2.6" stroke="#d8d010" stroke-width="1"/><path d="M939.4 843.4l-1 -5.4M945.2 842l-0.9 -5" stroke="#a8a010" stroke-width="1"/><path d="M943.1 841.3l-0.9 -4.9M956.2 831.8l-0.5 -2.8" stroke="#f0e018" stroke-width="1"/><path d="M945.6 838l-0.6 -3.4M951.2 834.9l-0.4 -2.1" stroke="#707008" stroke-width="1.25"/><path d="M949.1 837.6l-0.8 -4.5" stroke="#f0e018" stroke-width="1.25"/><path d="M951.9 835.7l-0.5 -3.1" stroke="#707008" stroke-width="1"/></g>
<g fill="none" stroke-linecap="round" opacity="0.75" clip-path="url(#cD)"><path d="M1149.3 812.1l1.2 -1.3M1145.1 816.7l1.5 -1.6M1174.6 785l0.4 -0.5M1178.7 780.8l0.5 -0.6M1146.9 816.4l1.8 -1.9" stroke="#2a1e00" stroke-width="1"/><path d="M1133.6 831.2l1.4 -1.5M1154 808.7l0.5 -0.5M1161.2 799.5l1.1 -1.2M1126.2 838.1l0.5 -0.6M1170.9 789.6l0.8 -0.9M1138.2 824.6l1.4 -1.5M1157.7 805l1 -1.1" stroke="#3a2804" stroke-width="0.75"/><path d="M1134 829.2l1.2 -1.3M1151.7 811.2l1.4 -1.5" stroke="#140e00" stroke-width="1"/><path d="M1139.4 824.2l1.6 -1.8M1122.1 842.1l0.7 -0.8M1137.5 826.8l1 -1.1M1122 842.8l0.6 -0.7" stroke="#100a00" stroke-width="1"/><path d="M1124 840.9l1.7 -1.8" stroke="#181000" stroke-width="0.75"/><path d="M1133.8 830.3l1.9 -2.1M1124.1 841.4l1.2 -1.3" stroke="#3a2804" stroke-width="1"/><path d="M1150.5 811.2l0.7 -0.7M1132.8 830.2l1 -1.1M1172.9 788.2l0.5 -0.5" stroke="#100a00" stroke-width="0.75"/><path d="M1134.1 830.7l1.7 -1.8M1125.6 838.3l0.6 -0.7M1149.6 813.7l2 -2.2" stroke="#140e00" stroke-width="0.75"/><path d="M1142.5 820.1l1.6 -1.7M1150.9 812l1.4 -1.5M1154.7 808.1l1 -1" stroke="#1e1600" stroke-width="0.75"/><path d="M1134.5 830.2l1.1 -1.1M1170.7 789.2l1.9 -2.1" stroke="#2a1e00" stroke-width="0.75"/><path d="M1148.2 813.6l0.7 -0.8M1172.2 788l1.2 -1.3" stroke="#181000" stroke-width="1"/><path d="M1150.6 811.9l1.1 -1.2" stroke="#1e1600" stroke-width="1"/><path d="M1172 787.7l0.7 -0.8" stroke="#181000" stroke-width="0.5"/></g>
<g fill="none" stroke-linecap="round" opacity="0.75" clip-path="url(#cD)"><path d="M1140.3 839.5l1.2 -1.4" stroke="#3a2804" stroke-width="0.5"/><path d="M1145.9 832.5l1.7 -1.9M1158.7 820l1 -1M1138.7 840.6l1.3 -1.4M1151.8 826.2l1.4 -1.5" stroke="#181000" stroke-width="1"/><path d="M1148.8 829.4l1.5 -1.6M1145.9 832.7l2 -2.2M1137.4 841.8l0.5 -0.5" stroke="#2a1e00" stroke-width="1"/><path d="M1170.9 805.8l1.6 -1.8" stroke="#140e00" stroke-width="1"/><path d="M1150.7 826.8l1.6 -1.8M1144.8 833.7l1.8 -2" stroke="#1e1600" stroke-width="0.75"/><path d="M1173.9 801.6l0.8 -0.9" stroke="#2a1e00" stroke-width="0.75"/><path d="M1137.9 842.1l2 -2.2M1164.8 813.2l0.9 -1" stroke="#3a2804" stroke-width="1"/><path d="M1168.2 809.4l1.6 -1.7M1143.5 836.4l0.7 -0.7M1162.5 813.8l1.7 -1.9" stroke="#3a2804" stroke-width="0.75"/><path d="M1145.7 832.8l2 -2.2" stroke="#181000" stroke-width="0.75"/><path d="M1158.2 818.6l1.7 -1.9M1169.7 806.5l0.9 -1" stroke="#140e00" stroke-width="0.75"/><path d="M1170.6 805.9l1.9 -2.1" stroke="#1e1600" stroke-width="1"/><path d="M1142.9 836.7l1.5 -1.7M1171.6 804.5l1.4 -1.5" stroke="#100a00" stroke-width="0.75"/><path d="M1159.4 819l0.5 -0.5" stroke="#100a00" stroke-width="1"/></g>
<g fill="none" stroke-linecap="round" opacity="0.75" clip-path="url(#cD)"><path d="M1195.7 824.7l1.8 -2.3" stroke="#3a2804" stroke-width="0.5"/><path d="M1229.6 784.3l1.1 -1.4M1211.8 805.9l1.3 -1.6M1184.1 839.1l1.1 -1.4M1195 825.9l1.9 -2.3M1190.1 833.1l1.6 -2M1192.5 828.8l1.6 -2M1222.1 793.7l1.2 -1.4" stroke="#2a1e00" stroke-width="0.75"/><path d="M1186.7 836.7l0.8 -0.9M1183.1 841.8l0.6 -0.7M1190.7 831.3l1.9 -2.3" stroke="#181000" stroke-width="1"/><path d="M1183.6 840.7l1.1 -1.4M1197 824.4l1.7 -2.1M1207.8 809.7l1.8 -2.3M1197.4 823.8l0.5 -0.7" stroke="#3a2804" stroke-width="0.75"/><path d="M1183 840.2l0.6 -0.8M1186.7 835.9l1 -1.3M1211.4 806l0.5 -0.6M1213.3 804.8l0.6 -0.7M1229.5 783l0.6 -0.7" stroke="#2a1e00" stroke-width="1"/><path d="M1185.9 838.5l0.5 -0.6" stroke="#181000" stroke-width="0.75"/><path d="M1214.9 801.7l0.5 -0.6" stroke="#100a00" stroke-width="0.5"/><path d="M1191.5 831.1l1 -1.2M1181.3 842.7l1.1 -1.4" stroke="#100a00" stroke-width="1"/><path d="M1180.7 844.7l1.4 -1.7M1215.5 802.4l0.5 -0.6M1215.3 801.1l1.6 -2M1186.1 838.2l1.1 -1.4" stroke="#100a00" stroke-width="0.75"/><path d="M1220.4 794.6l0.6 -0.7" stroke="#140e00" stroke-width="1"/><path d="M1202.3 817l0.9 -1.1" stroke="#1e1600" stroke-width="0.75"/><path d="M1212.2 806.1l1.7 -2.1" stroke="#140e00" stroke-width="0.75"/><path d="M1187.7 834.5l0.9 -1.1" stroke="#3a2804" stroke-width="1"/></g>
<g fill="none" stroke-linecap="round" opacity="0.75" clip-path="url(#cD)"><path d="M1212.1 829.2l1.4 -1.8M1210.6 832.2l0.8 -1" stroke="#181000" stroke-width="0.75"/><path d="M1214.8 825.5l1.1 -1.4M1224.8 812.8l0.7 -0.9M1223.5 814.4l1 -1.3" stroke="#1e1600" stroke-width="1"/><path d="M1225.6 813.4l0.7 -0.8" stroke="#140e00" stroke-width="1"/><path d="M1200.1 845.1l0.5 -0.6M1220.7 819.4l1.2 -1.5" stroke="#2a1e00" stroke-width="0.75"/><path d="M1230.1 806.8l1.5 -1.9M1221.8 817.1l1.2 -1.5M1221.1 818.8l0.6 -0.7" stroke="#3a2804" stroke-width="0.75"/><path d="M1215.9 825.6l0.4 -0.5M1227.2 810.1l1.6 -2M1206.9 837.3l1.7 -2.2" stroke="#100a00" stroke-width="1"/><path d="M1210.8 831.1l1.5 -1.8" stroke="#2a1e00" stroke-width="0.5"/><path d="M1210.7 831.5l1.1 -1.3" stroke="#2a1e00" stroke-width="1"/><path d="M1202.7 841.4l0.6 -0.7" stroke="#1e1600" stroke-width="0.75"/><path d="M1200.5 844.1l1.6 -2" stroke="#100a00" stroke-width="0.75"/><path d="M1214.5 826.8l1.4 -1.7" stroke="#3a2804" stroke-width="1"/><path d="M1218.4 822.3l1.4 -1.7" stroke="#100a00" stroke-width="0.5"/></g>
<g fill="none" stroke-linecap="round" opacity="0.75" clip-path="url(#cD)"><path d="M1247.4 820.3l0.9 -1.3" stroke="#3a2804" stroke-width="0.75"/><path d="M1234 839.4l0.6 -0.9M1241.4 828.9l0.8 -1.1M1250.7 816.3l1.1 -1.5" stroke="#1e1600" stroke-width="1"/><path d="M1235.8 836.5l1 -1.4M1234.8 838l0.5 -0.7" stroke="#2a1e00" stroke-width="0.75"/><path d="M1264.4 799.2l1.6 -2.2M1235.9 836.9l1.5 -2M1246.6 821.3l1.3 -1.8" stroke="#1e1600" stroke-width="0.75"/><path d="M1241.7 828.4l1.6 -2.2M1244.4 826l1.4 -2M1230.9 843.3l0.8 -1.1M1259.3 804.1l0.4 -0.5M1250.5 817.4l0.4 -0.5M1265.5 796.2l0.7 -1M1234.9 837.9l1.2 -1.6" stroke="#140e00" stroke-width="1"/><path d="M1238 833.1l1.6 -2.2M1260.1 804.6l0.5 -0.7" stroke="#100a00" stroke-width="0.75"/><path d="M1270.3 790l0.5 -0.7" stroke="#181000" stroke-width="1"/><path d="M1230.2 845.7l1.6 -2.2M1246.9 822.7l1.3 -1.7" stroke="#2a1e00" stroke-width="0.5"/><path d="M1243.3 827l0.4 -0.5M1270.1 791.1l0.4 -0.5M1257.7 806.4l0.8 -1M1240.2 831.6l1.4 -1.8" stroke="#2a1e00" stroke-width="1"/><path d="M1240.2 831.6l1.3 -1.8" stroke="#140e00" stroke-width="0.5"/><path d="M1251.1 816.5l1.6 -2.2" stroke="#181000" stroke-width="0.75"/><path d="M1260.2 804.1l1.1 -1.5" stroke="#140e00" stroke-width="0.75"/></g>
<g fill="none" stroke-linecap="round" opacity="0.75" clip-path="url(#cD)"><path d="M1258.8 840l0.9 -1.3" stroke="#140e00" stroke-width="1"/><path d="M1259.8 839.3l1.5 -2.1M1265.5 829.6l0.6 -0.9M1277.5 814.2l0.6 -0.9" stroke="#100a00" stroke-width="0.75"/><path d="M1273.1 818.5l0.6 -0.8M1263.2 834.4l1.4 -1.9" stroke="#100a00" stroke-width="1"/><path d="M1258 841l1.3 -1.8" stroke="#181000" stroke-width="1"/><path d="M1260.6 837.8l0.4 -0.6M1258.1 840.9l0.8 -1.2M1261.7 835.6l1.1 -1.5M1256.3 842.9l0.6 -0.9" stroke="#2a1e00" stroke-width="1"/><path d="M1259.5 837.8l0.5 -0.7M1264.2 831.5l1.2 -1.7" stroke="#1e1600" stroke-width="1"/><path d="M1269.7 823.1l1.6 -2.3" stroke="#2a1e00" stroke-width="0.5"/><path d="M1258.2 841.4l0.9 -1.2" stroke="#2a1e00" stroke-width="0.75"/><path d="M1280.2 808.8l0.7 -1M1255.7 844l1.5 -2.2" stroke="#3a2804" stroke-width="0.75"/><path d="M1270.2 823.1l1.4 -2" stroke="#3a2804" stroke-width="1"/></g>
<g fill="none" stroke-linecap="round" opacity="0.75" clip-path="url(#cD)"><path d="M1204.1 721.4l1.7 -2M1173.9 755.4l0.5 -0.5M1187.4 739.5l1.7 -1.9M1168.1 762.6l1.7 -2" stroke="#1e1600" stroke-width="1"/><path d="M1173.1 756.2l0.6 -0.7M1197.4 727.5l1.4 -1.6M1205.3 720l1.7 -1.9M1201.9 722.8l0.6 -0.7M1208.3 715.5l0.7 -0.8" stroke="#3a2804" stroke-width="0.75"/><path d="M1194.3 732.4l0.8 -1M1160.8 771.5l1.2 -1.4" stroke="#181000" stroke-width="1"/><path d="M1201.1 723.9l1.5 -1.8M1174.9 753.9l1 -1.2" stroke="#100a00" stroke-width="1"/><path d="M1172.3 757.1l1.7 -2M1173.7 755.8l0.9 -1.1M1198.7 726.4l1 -1.2M1160.3 771.9l1.7 -2M1197.3 727.8l0.7 -0.8" stroke="#3a2804" stroke-width="1"/><path d="M1188.5 738.7l0.7 -0.8M1181.8 747.3l1.5 -1.8" stroke="#140e00" stroke-width="0.75"/><path d="M1177.5 750.8l1.6 -1.9M1173.5 755.9l1.8 -2.2M1185.5 741.7l1.2 -1.4" stroke="#2a1e00" stroke-width="0.75"/><path d="M1199.7 725.2l1 -1.2" stroke="#140e00" stroke-width="1"/><path d="M1176 753l1.4 -1.6" stroke="#3a2804" stroke-width="0.5"/><path d="M1173.3 757l1.4 -1.6" stroke="#100a00" stroke-width="0.75"/><path d="M1193.8 731.9l1.3 -1.5M1182.5 745.8l1.8 -2.1" stroke="#181000" stroke-width="0.75"/><path d="M1203.5 721l0.6 -0.7" stroke="#100a00" stroke-width="0.5"/><path d="M1163.7 767.4l0.9 -1" stroke="#2a1e00" stroke-width="1"/></g>
<g fill="none" stroke-linecap="round" opacity="0.75" clip-path="url(#cD)"><path d="M1205.8 774.6l1.5 -1.9M1199.3 782.7l0.5 -0.6M1188 796.5l1 -1.3M1216.8 760.2l1.3 -1.6" stroke="#2a1e00" stroke-width="0.75"/><path d="M1200.1 782.4l1.2 -1.4M1206.5 773.4l1.3 -1.6M1198.4 784.3l1.3 -1.5" stroke="#140e00" stroke-width="1"/><path d="M1216.7 760.3l0.7 -0.9" stroke="#2a1e00" stroke-width="1"/><path d="M1186.8 798.5l1.4 -1.7M1188.9 794.5l1.6 -1.9" stroke="#3a2804" stroke-width="0.75"/><path d="M1214.7 762.7l0.9 -1.1M1220.1 756.5l1.7 -2.1" stroke="#1e1600" stroke-width="1"/><path d="M1188.3 797l1.3 -1.6M1204.4 776.1l1 -1.2M1214.2 764.2l1.8 -2.3" stroke="#140e00" stroke-width="0.75"/><path d="M1218.4 758.6l1.7 -2.1M1204.6 776.4l0.9 -1.1" stroke="#3a2804" stroke-width="1"/><path d="M1184.6 800.6l1.7 -2.1" stroke="#3a2804" stroke-width="0.5"/><path d="M1190 794.6l1.8 -2.2M1213 765.3l1.6 -2" stroke="#100a00" stroke-width="0.75"/><path d="M1210.8 769l1.4 -1.7M1200.7 780l0.7 -0.9" stroke="#1e1600" stroke-width="0.75"/><path d="M1217.1 761.2l0.4 -0.5" stroke="#100a00" stroke-width="0.5"/><path d="M1208.9 769.7l1.7 -2.1" stroke="#181000" stroke-width="0.5"/></g>
<g fill="none" stroke-linecap="round" opacity="0.75" clip-path="url(#cD)"><path d="M1216.7 786.7l0.8 -1.1M1246.8 747.4l1.1 -1.5M1228.7 771.9l1.2 -1.6" stroke="#100a00" stroke-width="0.75"/><path d="M1240.6 757.7l0.8 -1.1M1220 782.9l1.1 -1.4" stroke="#2a1e00" stroke-width="0.75"/><path d="M1217.8 786.6l1.7 -2.3" stroke="#100a00" stroke-width="1"/><path d="M1235.2 764.5l0.4 -0.5M1223.1 780.3l1.7 -2.2M1228.6 773.4l0.6 -0.7" stroke="#3a2804" stroke-width="1"/><path d="M1226.9 774.2l1.3 -1.7M1220.7 782l0.4 -0.5M1223.7 778.7l0.5 -0.7" stroke="#181000" stroke-width="0.75"/><path d="M1228.5 773.2l1 -1.2M1229 771.8l0.8 -1M1234.7 765.1l0.8 -1" stroke="#2a1e00" stroke-width="1"/><path d="M1214.4 790.2l0.8 -1M1214.7 790.4l1 -1.3" stroke="#1e1600" stroke-width="0.5"/><path d="M1228.8 772.8l1.8 -2.4M1239.5 758.1l1.5 -2" stroke="#1e1600" stroke-width="0.75"/><path d="M1233.1 767.1l1.6 -2.1" stroke="#1e1600" stroke-width="1"/><path d="M1235.5 763.8l1 -1.3" stroke="#140e00" stroke-width="1"/><path d="M1220.4 781.8l1.3 -1.7" stroke="#3a2804" stroke-width="0.75"/></g>
<g fill="none" stroke-linecap="round" opacity="0.75" clip-path="url(#cD)"><path d="M1109.9 779.8l1.4 -1.4" stroke="#2a1e00" stroke-width="0.75"/><path d="M1110.4 779.2l1 -1.1M1112.2 778l1.4 -1.5" stroke="#181000" stroke-width="0.75"/><path d="M1125.8 763.7l1.1 -1.1M1119.5 771l0.7 -0.8M1136.1 753.1l2 -2" stroke="#181000" stroke-width="1"/><path d="M1140.1 749.5l1.6 -1.6M1134.5 754l2 -2.1M1118 771.3l1.2 -1.2" stroke="#100a00" stroke-width="1"/><path d="M1120 769l0.5 -0.5" stroke="#1e1600" stroke-width="0.75"/><path d="M1126.8 763.4l1.6 -1.7M1116.1 773.2l1 -1M1134.7 755.3l1.3 -1.4M1130.5 758.5l0.5 -0.5" stroke="#100a00" stroke-width="0.75"/><path d="M1111 777.9l0.6 -0.6M1140.7 749.6l1.3 -1.3" stroke="#1e1600" stroke-width="1"/><path d="M1139.3 749.7l1.6 -1.6" stroke="#3a2804" stroke-width="1"/><path d="M1126.3 763.7l2.1 -2.1M1117.3 771.8l1.9 -1.9M1131.5 757.6l1.5 -1.5" stroke="#140e00" stroke-width="0.75"/><path d="M1114.5 775.9l1.7 -1.8" stroke="#140e00" stroke-width="1"/><path d="M1118.1 771.2l2 -2" stroke="#100a00" stroke-width="0.5"/><path d="M1141.2 749.1l1.8 -1.8" stroke="#140e00" stroke-width="0.5"/><path d="M1110.5 779.8l1.2 -1.3" stroke="#3a2804" stroke-width="0.5"/></g>
<g fill="none" stroke-linecap="round" opacity="0.75" clip-path="url(#cD)"><path d="M1032.9 784.4l1.2 -1M1022.6 794.2l2.3 -2M1054.4 766.3l0.7 -0.6M1079.1 743.8l1.3 -1.2M1031 785.9l1.4 -1.2" stroke="#100a00" stroke-width="0.75"/><path d="M1057.6 763.8l1.1 -1M1080.6 743.3l1.3 -1.1M1049.9 770.1l2.1 -1.8" stroke="#3a2804" stroke-width="1"/><path d="M1019 796.8l1.2 -1.1M1058 763.5l1.5 -1.3M1059.7 761.3l1.6 -1.4M1042.2 777.2l1.4 -1.2M1067 754.4l0.8 -0.7" stroke="#1e1600" stroke-width="0.75"/><path d="M1061.5 759.1l0.8 -0.7" stroke="#181000" stroke-width="0.5"/><path d="M1034.8 782.6l1.8 -1.6M1039.5 778.8l2.1 -1.8M1038.3 780l1.7 -1.5M1053.1 766.6l1.2 -1" stroke="#140e00" stroke-width="1"/><path d="M1060.8 759.9l0.6 -0.5M1073.5 749.4l1.2 -1" stroke="#1e1600" stroke-width="1"/><path d="M1083.5 741.3l1 -0.9M1075.5 748.1l1.2 -1.1M1031.9 785.9l0.7 -0.6M1058.3 762.4l1.3 -1.1M1065.5 755.8l0.9 -0.8M1064.7 757.2l1.4 -1.2" stroke="#181000" stroke-width="1"/><path d="M1049 771.4l1.7 -1.5M1014.8 800.7l1.5 -1.3M1065.6 755.8l1.1 -0.9M1052.2 767.5l0.8 -0.7" stroke="#140e00" stroke-width="0.75"/><path d="M1026.8 790.3l1.3 -1.1M1067.6 754.8l1 -0.8M1015.8 799.6l0.7 -0.6" stroke="#2a1e00" stroke-width="1"/><path d="M1048.8 771.3l1.4 -1.2M1054.6 765.8l2 -1.7M1067.4 754.7l0.9 -0.8" stroke="#100a00" stroke-width="1"/><path d="M1058.2 762.5l0.6 -0.5M1056 764.9l2.2 -1.9" stroke="#2a1e00" stroke-width="0.75"/></g>
<g fill="none" stroke-linecap="round" opacity="0.75" clip-path="url(#cD)"><path d="M933.1 783.6l1.3 -0.9M976.8 753.5l1.7 -1.2" stroke="#181000" stroke-width="1"/><path d="M924.4 789.6l1 -0.7M931 786.4l2.3 -1.6M984.6 747.9l1 -0.7M971.1 757.9l2.1 -1.5" stroke="#140e00" stroke-width="0.75"/><path d="M945.4 774.8l1.1 -0.8M991.6 743.5l0.8 -0.6M950.2 772.8l1.3 -0.9M968.3 760.1l2.2 -1.5" stroke="#1e1600" stroke-width="1"/><path d="M976.8 752.9l2.4 -1.7" stroke="#2a1e00" stroke-width="1"/><path d="M960.2 765.7l1.7 -1.2M964.6 762.6l2.3 -1.6M961 764.7l1.3 -0.9M964.1 761.8l0.9 -0.6M968.5 760l0.9 -0.6" stroke="#181000" stroke-width="0.75"/><path d="M972 756.9l1.2 -0.9M967.9 759.1l0.6 -0.5" stroke="#100a00" stroke-width="0.75"/><path d="M929 786.9l2.4 -1.7M991.7 743.7l2.4 -1.7M986.8 747.2l2 -1.4M990.6 744.3l1 -0.7" stroke="#140e00" stroke-width="1"/><path d="M932.9 785.2l2.1 -1.4M985.9 746.9l2.1 -1.5M990.1 744.9l0.7 -0.5" stroke="#1e1600" stroke-width="0.75"/><path d="M950.3 771.5l2.3 -1.6M927 789.3l1.5 -1.1" stroke="#3a2804" stroke-width="1"/><path d="M924.2 789.8l2.4 -1.7M926.3 788.6l1.1 -0.8M962.4 763.9l1 -0.7" stroke="#2a1e00" stroke-width="0.75"/><path d="M964.5 762.5l0.8 -0.6M962 764.1l1.8 -1.3" stroke="#100a00" stroke-width="1"/><path d="M965.4 762.1l0.6 -0.4M950.9 771l1.6 -1.1" stroke="#3a2804" stroke-width="0.75"/></g>
<g fill="none" stroke-linecap="round" opacity="0.75" clip-path="url(#cD)"><path d="M1086 719l2 -1.8M1069.2 733.8l2.2 -1.9M1049.1 752.1l1.8 -1.6" stroke="#3a2804" stroke-width="0.75"/><path d="M1047.9 753.3l1.4 -1.2M1068.2 735.4l1.8 -1.6" stroke="#140e00" stroke-width="0.75"/><path d="M1047.2 752.8l0.5 -0.4M1073.5 729.9l1.8 -1.6M1078.6 725l1 -0.9M1059.1 742l2 -1.8" stroke="#3a2804" stroke-width="1"/><path d="M1089.4 715.5l2.1 -1.9" stroke="#140e00" stroke-width="1"/><path d="M1049.3 752.2l0.6 -0.5" stroke="#1e1600" stroke-width="0.5"/><path d="M1064.1 738.8l0.7 -0.6M1061.8 739.9l1.4 -1.3M1067.3 735.6l0.6 -0.6M1078.8 724.3l1 -0.9" stroke="#181000" stroke-width="1"/><path d="M1071.6 731.5l1 -0.9M1079 725.4l1.2 -1.1" stroke="#1e1600" stroke-width="0.75"/><path d="M1089.8 714.5l1.2 -1.1M1075.6 728.4l1.4 -1.3" stroke="#1e1600" stroke-width="1"/><path d="M1079.7 724.3l0.8 -0.7M1049 752l1.3 -1.1" stroke="#2a1e00" stroke-width="1"/><path d="M1070.4 732.6l2.2 -2M1067.9 735.4l1.4 -1.2M1065.6 737.9l0.6 -0.5M1086 718.7l2 -1.8" stroke="#181000" stroke-width="0.75"/><path d="M1041.2 758.6l1.3 -1.2" stroke="#2a1e00" stroke-width="0.75"/><path d="M1063.3 738.6l1.5 -1.3M1047.8 754l2.1 -1.9" stroke="#100a00" stroke-width="0.75"/></g>
<g fill="none" stroke-linecap="round" opacity="0.75" clip-path="url(#cD)"><path d="M1134.7 734l1.9 -2M1136.6 732.7l1.6 -1.7M1131.6 739.2l0.6 -0.6" stroke="#140e00" stroke-width="1"/><path d="M1160.1 706.4l1.9 -2.1M1141.4 728.2l1.4 -1.5M1155.5 713.2l0.7 -0.8" stroke="#3a2804" stroke-width="1"/><path d="M1135.7 734.6l0.4 -0.5M1138.1 731.3l1.5 -1.7" stroke="#100a00" stroke-width="0.75"/><path d="M1169 697.4l0.5 -0.6M1150.3 717.5l1.4 -1.5" stroke="#100a00" stroke-width="1"/><path d="M1155.2 712.2l2 -2.2M1138.7 730l1.7 -1.9M1165.5 701.1l1.7 -1.9M1168.9 697.1l0.9 -1M1143.2 725l1.9 -2.1" stroke="#2a1e00" stroke-width="0.75"/><path d="M1152 715.7l0.5 -0.5" stroke="#140e00" stroke-width="0.5"/><path d="M1170.1 697.5l1.5 -1.7" stroke="#3a2804" stroke-width="0.75"/><path d="M1167.8 699.2l1.2 -1.3" stroke="#140e00" stroke-width="0.75"/><path d="M1146.4 722.6l1.1 -1.2M1144.2 724.3l1.4 -1.6" stroke="#1e1600" stroke-width="1"/><path d="M1133.8 735.9l0.7 -0.7" stroke="#3a2804" stroke-width="0.5"/><path d="M1139.9 728.4l0.5 -0.5M1158.6 709.4l1.1 -1.2" stroke="#181000" stroke-width="1"/><path d="M1152.1 716l1.8 -2" stroke="#1e1600" stroke-width="0.75"/></g>
<g fill="none" stroke-linecap="round" opacity="0.75" clip-path="url(#cD)"><path d="M1001 720.4l2.3 -1.8" stroke="#181000" stroke-width="1"/><path d="M977 738.8l0.7 -0.5M990.2 728.5l0.9 -0.7M1008.4 715l1.7 -1.3" stroke="#100a00" stroke-width="0.75"/><path d="M1003 718.7l1.9 -1.4" stroke="#1e1600" stroke-width="0.75"/><path d="M982.7 733.4l1.4 -1.1M1007.2 714.6l2.4 -1.8" stroke="#140e00" stroke-width="0.75"/><path d="M983.9 732.7l1.2 -1M989.8 728.7l2.1 -1.6" stroke="#3a2804" stroke-width="0.75"/><path d="M999.2 721.9l2 -1.5M977 739.1l1.2 -0.9M1006.1 716.4l0.6 -0.5" stroke="#1e1600" stroke-width="1"/><path d="M982.9 734.6l1.3 -1M1000.5 721.3l2 -1.5" stroke="#100a00" stroke-width="1"/><path d="M1012.4 710.6l1.8 -1.4M1013.8 710.7l0.7 -0.6" stroke="#3a2804" stroke-width="1"/><path d="M976.3 738.2l1.8 -1.4M984.8 732.5l2.3 -1.7" stroke="#2a1e00" stroke-width="1"/><path d="M980 736l0.7 -0.5" stroke="#3a2804" stroke-width="0.5"/><path d="M992.3 726.3l1.8 -1.4" stroke="#181000" stroke-width="0.75"/></g>
<g fill="none" stroke-linecap="round" opacity="0.9" clip-path="url(#cD)"><path d="M1191.2 670.9l2.1 -1.6M1177.7 680.9l1.3 -1M1192 670.4l2.8 -2.1" stroke="#5a2808" stroke-width="1.25"/><path d="M1199 664.1l3.9 -2.9M1194.8 667.4l1.9 -1.4M1200.9 663.2l2.4 -1.8" stroke="#3a1a00" stroke-width="1.25"/><path d="M1195.2 667.7l2.4 -1.8M1196 666.5l1.3 -1" stroke="#5a2808" stroke-width="1"/><path d="M1199.6 664.6l1.7 -1.3M1177.4 680.7l2.9 -2.2M1199.2 663.2l1.6 -1.2M1177.8 680.2l3 -2.3" stroke="#3a1a00" stroke-width="1"/><path d="M1182.9 677.2l3.8 -2.9M1194.1 667.3l2.1 -1.6M1180.8 676.9l1.5 -1.1" stroke="#201000" stroke-width="1"/><path d="M1191.7 669.6l3.7 -2.8M1179.8 678.2l1.5 -1.1M1191.3 669.3l1.3 -1" stroke="#5a2808" stroke-width="1.5"/><path d="M1198.4 664l3 -2.3" stroke="#201000" stroke-width="0.75"/><path d="M1192.5 669l3.1 -2.3M1191.9 669.9l4 -3M1195 668.1l2.6 -2" stroke="#201000" stroke-width="1.25"/><path d="M1197.2 665.3l2.4 -1.8M1183.4 675l2.3 -1.7" stroke="#5a2808" stroke-width="0.75"/><path d="M1179.9 677.9l3.6 -2.7M1193.7 667.4l3.4 -2.5" stroke="#201000" stroke-width="1.5"/></g>
<g fill="none" stroke-linecap="round" opacity="0.85" clip-path="url(#cD)"><path d="M985.9 682.6l0.8 -2.3M991.6 670.5l1 -2.7" stroke="#3a1a00" stroke-width="1.25"/><path d="M988.6 678.1l0.7 -1.9M988.6 675.6l0.8 -2.2M990 675.2l1.1 -2.9" stroke="#5a2808" stroke-width="1"/><path d="M988.1 675.9l0.9 -2.5M987 684.4l0.7 -1.8M987.7 681.2l0.5 -1.4" stroke="#3a1a00" stroke-width="1"/><path d="M988.1 678.5l1 -2.9" stroke="#5a2808" stroke-width="1.25"/><path d="M989.6 676.2l0.9 -2.5" stroke="#3a1a00" stroke-width="0.75"/></g>
<g fill="none" stroke-linecap="round" opacity="0.85" clip-path="url(#cD)"><path d="M1022.2 678l1.5 -1.7" stroke="#3a1a00" stroke-width="0.75"/><path d="M1016.9 683.7l1.4 -1.6M1017.7 682.8l1.7 -1.9M1021.2 680.3l2.1 -2.3" stroke="#3a1a00" stroke-width="1"/><path d="M1021.1 679.1l1.9 -2.1" stroke="#3a1a00" stroke-width="1.25"/><path d="M1018.9 681.8l2.1 -2.3" stroke="#5a2808" stroke-width="1.25"/><path d="M1018.6 682l1.7 -1.9" stroke="#5a2808" stroke-width="1"/><path d="M1018.4 681.5l1.3 -1.4" stroke="#5a2808" stroke-width="0.75"/></g>
<polygon points="902.4,844.2 1290.6,845.6 1280.6,869.4 912.4,868" fill="url(#sD)" />
<path d="M1012 846 L1014.5 863 M1073 846 L1075.5 863 M1121 846 L1122.5 862" stroke="#c8d018" stroke-width="1" fill="none" opacity="0.75"/>
<path d="M1074 856 L1075.5 864" stroke="#20b0c0" stroke-width="1" fill="none" opacity="0.9"/>
<polyline points="953,715.6 979,716 980.2,720 981.4,716 1086.1,716.9" fill="none" stroke="#f02408" stroke-width="1.4" />
<polyline points="1110.1,717.1 1111.6,717.4 1112.8,720.4 1114,717.6 1133.6,717.8 1134.7,720.4 1135.8,717.9 1218,719.1 1219,721.5 1220,719.2 1247,719.6 1241.6,743.4" fill="none" stroke="#f02408" stroke-width="1.4" />
<g filter="url(#blur06)">
<path d="M1088 718 L1090 715 L1094 714.2 L1100 714.4 L1104 715.4 L1107.4 717.6 L1108 722 L1107.6 727 L1105 729 L1101 730 L1097.6 729 L1095 731.4 L1091.6 732.6 L1089.6 730 Z" fill="url(#gDomeD)"/>
<path d="M1082.4 723 L1084 718.4 L1087 715.6 L1090 714.6 L1091 719 L1090.4 726 L1089 732.6 L1086 733.4 L1083.6 730 Z" fill="#4a5a14"/>
<path d="M1080.4 733.6 L1084 726 L1085.6 727 L1082 734.4 Z" fill="#3a3a0a"/>
<path d="M1084 730 L1086.6 717 M1086.6 732 L1089.6 716" stroke="#1c2404" stroke-width="1.3" fill="none"/>
<path d="M1088 731 L1090 722" stroke="#2c8c50" stroke-width="1.6" fill="none"/>
<path d="M1096.4 714.4 L1097.8 727.4" stroke="#1a3a14" stroke-width="1.9" fill="none"/>
<ellipse cx="1092.6" cy="730.2" rx="2.2" ry="2" fill="#1060c8"/>
<path d="M1108.6 720.4 L1110.4 719.4 L1110.2 726 L1108.8 727 Z" fill="#ffe010"/>
</g>
<path d="M1086.1 716.9 L1087.7 720.6 L1089.9 729.7 L1092 737.7 L1094.1 739.6 L1096.3 733.4 L1097.3 729.1 L1099.5 730.7 L1102.7 731.8 L1105.3 729.7 L1107.5 728 L1108.5 721.7 L1110.1 717.1" fill="none" stroke="#f02408" stroke-width="1.5" stroke-linejoin="round"/>
<circle cx="1094.1" cy="739.2" r="2" fill="#f02408"/>
<circle cx="1168.6" cy="718.4" r="2.3" fill="#2020e6"/>
<line x1="1228.6" y1="653.4" x2="1295" y2="837" stroke="#b9bdca" stroke-width="1.3" />
<line x1="1228.6" y1="653.4" x2="1235.7" y2="651.6" stroke="#b9bdca" stroke-width="1.2" />
<text x="1237.9" y="655.5" font-size="13.6" text-anchor="start" fill="#fff" font-weight="bold" font-family="'Liberation Serif','DejaVu Serif',serif" paint-order="stroke" stroke="#1c2646" stroke-opacity="0.5" stroke-width="1.31" stroke-linejoin="round" >0</text>
<line x1="1234.2" y1="669.4" x2="1240.7" y2="667.9" stroke="#b9bdca" stroke-width="1.2" />
<text x="1241.5" y="670.7" font-size="13.9" text-anchor="start" fill="#fff" font-weight="bold" font-family="'Liberation Serif','DejaVu Serif',serif" paint-order="stroke" stroke="#1c2646" stroke-opacity="0.5" stroke-width="1.32" stroke-linejoin="round" >10</text>
<line x1="1242.8" y1="692.3" x2="1249.3" y2="690.2" stroke="#b9bdca" stroke-width="1.2" />
<text x="1250.9" y="693.2" font-size="14.3" text-anchor="start" fill="#fff" font-weight="bold" font-family="'Liberation Serif','DejaVu Serif',serif" paint-order="stroke" stroke="#1c2646" stroke-opacity="0.5" stroke-width="1.33" stroke-linejoin="round" >20</text>
<line x1="1251.5" y1="717" x2="1258" y2="714.8" stroke="#b9bdca" stroke-width="1.2" />
<text x="1259.5" y="718.3" font-size="14.6" text-anchor="start" fill="#fff" font-weight="bold" font-family="'Liberation Serif','DejaVu Serif',serif" paint-order="stroke" stroke="#1c2646" stroke-opacity="0.5" stroke-width="1.34" stroke-linejoin="round" >30</text>
<line x1="1262.3" y1="746.4" x2="1270.3" y2="743.6" stroke="#b9bdca" stroke-width="1.2" />
<text x="1271.8" y="745.8" font-size="15" text-anchor="start" fill="#fff" font-weight="bold" font-family="'Liberation Serif','DejaVu Serif',serif" paint-order="stroke" stroke="#1c2646" stroke-opacity="0.5" stroke-width="1.35" stroke-linejoin="round" >40</text>
<line x1="1274.7" y1="780.4" x2="1282.2" y2="777.6" stroke="#b9bdca" stroke-width="1.2" />
<text x="1283.3" y="781" font-size="15.3" text-anchor="start" fill="#fff" font-weight="bold" font-family="'Liberation Serif','DejaVu Serif',serif" paint-order="stroke" stroke="#1c2646" stroke-opacity="0.5" stroke-width="1.36" stroke-linejoin="round" >50</text>
<line x1="1288.3" y1="820" x2="1297.4" y2="816.5" stroke="#b9bdca" stroke-width="1.2" />
<text x="1299.5" y="818.7" font-size="15.6" text-anchor="start" fill="#fff" font-weight="bold" font-family="'Liberation Serif','DejaVu Serif',serif" paint-order="stroke" stroke="#1c2646" stroke-opacity="0.5" stroke-width="1.37" stroke-linejoin="round" >60</text>
<text x="1297.4" y="728.5" font-size="12" text-anchor="start" fill="#fff" font-weight="bold" font-family="'Liberation Serif','DejaVu Serif',serif" textLength="33.5" lengthAdjust="spacingAndGlyphs" paint-order="stroke" stroke="#1c2646" stroke-opacity="0.5" stroke-width="1.26" stroke-linejoin="round" >Y(μm)</text>
<line x1="913.5" y1="868.2" x2="1280" y2="868.8" stroke="#cfd2da" stroke-width="1.2" stroke-dasharray="62 58" stroke-dashoffset="-16"/>
<line x1="913.5" y1="868.5" x2="913.5" y2="876.5" stroke="#b9bdca" stroke-width="1.3" />
<text x="913.5" y="889.2" font-size="14.6" text-anchor="middle" fill="#fff" font-weight="bold" font-family="'Liberation Serif','DejaVu Serif',serif" paint-order="stroke" stroke="#1c2646" stroke-opacity="0.5" stroke-width="1.34" stroke-linejoin="round" >0</text>
<line x1="970.7" y1="868.5" x2="970.7" y2="876.5" stroke="#b9bdca" stroke-width="1.3" />
<text x="970.7" y="889.2" font-size="14.6" text-anchor="middle" fill="#fff" font-weight="bold" font-family="'Liberation Serif','DejaVu Serif',serif" paint-order="stroke" stroke="#1c2646" stroke-opacity="0.5" stroke-width="1.34" stroke-linejoin="round" >10</text>
<line x1="1027.9" y1="868.5" x2="1027.9" y2="876.5" stroke="#b9bdca" stroke-width="1.3" />
<text x="1027.9" y="889.2" font-size="14.6" text-anchor="middle" fill="#fff" font-weight="bold" font-family="'Liberation Serif','DejaVu Serif',serif" paint-order="stroke" stroke="#1c2646" stroke-opacity="0.5" stroke-width="1.34" stroke-linejoin="round" >20</text>
<line x1="1085.1" y1="868.5" x2="1085.1" y2="876.5" stroke="#b9bdca" stroke-width="1.3" />
<text x="1085.1" y="889.2" font-size="14.6" text-anchor="middle" fill="#fff" font-weight="bold" font-family="'Liberation Serif','DejaVu Serif',serif" paint-order="stroke" stroke="#1c2646" stroke-opacity="0.5" stroke-width="1.34" stroke-linejoin="round" >30</text>
<line x1="1142.9" y1="868.5" x2="1142.9" y2="876.5" stroke="#b9bdca" stroke-width="1.3" />
<text x="1142.9" y="889.2" font-size="14.6" text-anchor="middle" fill="#fff" font-weight="bold" font-family="'Liberation Serif','DejaVu Serif',serif" paint-order="stroke" stroke="#1c2646" stroke-opacity="0.5" stroke-width="1.34" stroke-linejoin="round" >40</text>
<line x1="1200.1" y1="868.5" x2="1200.1" y2="876.5" stroke="#b9bdca" stroke-width="1.3" />
<text x="1200.1" y="889.2" font-size="14.6" text-anchor="middle" fill="#fff" font-weight="bold" font-family="'Liberation Serif','DejaVu Serif',serif" paint-order="stroke" stroke="#1c2646" stroke-opacity="0.5" stroke-width="1.34" stroke-linejoin="round" >50</text>
<line x1="1257.3" y1="868.5" x2="1257.3" y2="876.5" stroke="#b9bdca" stroke-width="1.3" />
<text x="1257.3" y="889.2" font-size="14.6" text-anchor="middle" fill="#fff" font-weight="bold" font-family="'Liberation Serif','DejaVu Serif',serif" paint-order="stroke" stroke="#1c2646" stroke-opacity="0.5" stroke-width="1.34" stroke-linejoin="round" >60</text>
<text x="1091.8" y="909.2" font-size="12" text-anchor="start" fill="#fff" font-weight="bold" font-family="'Liberation Serif','DejaVu Serif',serif" textLength="33.5" lengthAdjust="spacingAndGlyphs" paint-order="stroke" stroke="#1c2646" stroke-opacity="0.5" stroke-width="1.26" stroke-linejoin="round" >X(μm)</text>
<text x="977.4" y="943.8" font-size="22.1" text-anchor="start" fill="#fff" font-weight="bold" font-family="'Liberation Serif','DejaVu Serif',serif" textLength="283.7" lengthAdjust="spacingAndGlyphs" paint-order="stroke" stroke="#1c2646" stroke-opacity="0.5" stroke-width="1.56" stroke-linejoin="round" >width= 5.3 μm, depth= 2.9 μm</text>
<rect x="1381" y="692.4" width="30.8" height="104.6" fill="#dfe3ea"/>
<rect x="1382.4" y="693.7" width="28" height="11.88" fill="#ff9292"/>
<rect x="1382.4" y="706.58" width="28" height="11.88" fill="#ff4500"/>
<rect x="1382.4" y="719.45" width="28" height="11.88" fill="#ffd000"/>
<rect x="1382.4" y="732.33" width="28" height="11.88" fill="#a0d830"/>
<rect x="1382.4" y="745.2" width="28" height="11.88" fill="#20a070"/>
<rect x="1382.4" y="758.08" width="28" height="11.88" fill="#00e0f0"/>
<rect x="1382.4" y="770.95" width="28" height="11.88" fill="#7a32ff"/>
<rect x="1382.4" y="783.83" width="28" height="11.88" fill="#000000"/>
<text x="1418.6" y="704" font-size="9.8" text-anchor="start" fill="#fff" font-weight="bold" font-family="'Liberation Serif','DejaVu Serif',serif" textLength="30" lengthAdjust="spacingAndGlyphs" paint-order="stroke" stroke="#1c2646" stroke-opacity="0.5" stroke-width="1.19" stroke-linejoin="round" >3.5 μm</text>
<text x="1418.6" y="716.1" font-size="9.8" text-anchor="start" fill="#fff" font-weight="bold" font-family="'Liberation Serif','DejaVu Serif',serif" textLength="30" lengthAdjust="spacingAndGlyphs" paint-order="stroke" stroke="#1c2646" stroke-opacity="0.5" stroke-width="1.19" stroke-linejoin="round" >3.0 μm</text>
<text x="1418.6" y="727.4" font-size="9.8" text-anchor="start" fill="#fff" font-weight="bold" font-family="'Liberation Serif','DejaVu Serif',serif" textLength="30" lengthAdjust="spacingAndGlyphs" paint-order="stroke" stroke="#1c2646" stroke-opacity="0.5" stroke-width="1.19" stroke-linejoin="round" >2.5 μm</text>
<text x="1418.6" y="740.4" font-size="9.8" text-anchor="start" fill="#fff" font-weight="bold" font-family="'Liberation Serif','DejaVu Serif',serif" textLength="30" lengthAdjust="spacingAndGlyphs" paint-order="stroke" stroke="#1c2646" stroke-opacity="0.5" stroke-width="1.19" stroke-linejoin="round" >2.0 μm</text>
<text x="1418.6" y="752.3" font-size="9.8" text-anchor="start" fill="#fff" font-weight="bold" font-family="'Liberation Serif','DejaVu Serif',serif" textLength="30" lengthAdjust="spacingAndGlyphs" paint-order="stroke" stroke="#1c2646" stroke-opacity="0.5" stroke-width="1.19" stroke-linejoin="round" >1.5 μm</text>
<text x="1418.6" y="765.9" font-size="9.8" text-anchor="start" fill="#fff" font-weight="bold" font-family="'Liberation Serif','DejaVu Serif',serif" textLength="30" lengthAdjust="spacingAndGlyphs" paint-order="stroke" stroke="#1c2646" stroke-opacity="0.5" stroke-width="1.19" stroke-linejoin="round" >1.0 μm</text>
<text x="1418.6" y="779.8" font-size="9.8" text-anchor="start" fill="#fff" font-weight="bold" font-family="'Liberation Serif','DejaVu Serif',serif" textLength="30" lengthAdjust="spacingAndGlyphs" paint-order="stroke" stroke="#1c2646" stroke-opacity="0.5" stroke-width="1.19" stroke-linejoin="round" >0.5 μm</text>
<text x="1418.6" y="792.7" font-size="9.8" text-anchor="start" fill="#fff" font-weight="bold" font-family="'Liberation Serif','DejaVu Serif',serif" textLength="30" lengthAdjust="spacingAndGlyphs" paint-order="stroke" stroke="#1c2646" stroke-opacity="0.5" stroke-width="1.19" stroke-linejoin="round" >0.0 μm</text>
<line x1="774.5" y1="978.6" x2="1496.8" y2="978.6" stroke="#545c72" stroke-width="1" />
<line x1="1496.8" y1="978.6" x2="1496.8" y2="1124.3" stroke="#545c72" stroke-width="1" />
<line x1="774.5" y1="1085" x2="1496.8" y2="1085" stroke="#545c72" stroke-width="1" />
<line x1="774.5" y1="1045.6" x2="1496.8" y2="1045.6" stroke="#545c72" stroke-width="1" />
<line x1="774.5" y1="1006.3" x2="1496.8" y2="1006.3" stroke="#545c72" stroke-width="1" />
<line x1="887" y1="978.6" x2="887" y2="1124.3" stroke="#545c72" stroke-width="1" />
<line x1="1000.5" y1="978.6" x2="1000.5" y2="1124.3" stroke="#545c72" stroke-width="1" />
<line x1="1113" y1="978.6" x2="1113" y2="1124.3" stroke="#545c72" stroke-width="1" />
<line x1="1226" y1="978.6" x2="1226" y2="1124.3" stroke="#545c72" stroke-width="1" />
<line x1="1339.3" y1="978.6" x2="1339.3" y2="1124.3" stroke="#545c72" stroke-width="1" />
<line x1="1451.7" y1="978.6" x2="1451.7" y2="1124.3" stroke="#545c72" stroke-width="1" />
<line x1="774.5" y1="978.6" x2="774.5" y2="1125.1" stroke="#9da3b4" stroke-width="1.7" />
<line x1="771.5" y1="1124.3" x2="1496.8" y2="1124.3" stroke="#9da3b4" stroke-width="1.9" />
<line x1="771" y1="1124.3" x2="774.5" y2="1124.3" stroke="#9da3b4" stroke-width="1.3" />
<text x="769" y="1130" font-size="14.4" text-anchor="end" fill="#fff" font-weight="bold" font-family="'Liberation Serif','DejaVu Serif',serif" textLength="7.9" lengthAdjust="spacingAndGlyphs" paint-order="stroke" stroke="#1c2646" stroke-opacity="0.5" stroke-width="1.33" stroke-linejoin="round" >0</text>
<line x1="771" y1="1085" x2="774.5" y2="1085" stroke="#9da3b4" stroke-width="1.3" />
<text x="769" y="1090.1" font-size="14.4" text-anchor="end" fill="#fff" font-weight="bold" font-family="'Liberation Serif','DejaVu Serif',serif" textLength="15.8" lengthAdjust="spacingAndGlyphs" paint-order="stroke" stroke="#1c2646" stroke-opacity="0.5" stroke-width="1.33" stroke-linejoin="round" >10</text>
<line x1="771" y1="1045.6" x2="774.5" y2="1045.6" stroke="#9da3b4" stroke-width="1.3" />
<text x="769" y="1050.2" font-size="14.4" text-anchor="end" fill="#fff" font-weight="bold" font-family="'Liberation Serif','DejaVu Serif',serif" textLength="15.8" lengthAdjust="spacingAndGlyphs" paint-order="stroke" stroke="#1c2646" stroke-opacity="0.5" stroke-width="1.33" stroke-linejoin="round" >20</text>
<line x1="771" y1="1006.3" x2="774.5" y2="1006.3" stroke="#9da3b4" stroke-width="1.3" />
<text x="769" y="1010.3" font-size="14.4" text-anchor="end" fill="#fff" font-weight="bold" font-family="'Liberation Serif','DejaVu Serif',serif" textLength="15.8" lengthAdjust="spacingAndGlyphs" paint-order="stroke" stroke="#1c2646" stroke-opacity="0.5" stroke-width="1.33" stroke-linejoin="round" >30</text>
<line x1="774.5" y1="1124.3" x2="774.5" y2="1128.3" stroke="#9da3b4" stroke-width="1.4" />
<text x="774.5" y="1141" font-size="14" text-anchor="middle" fill="#fff" font-weight="bold" font-family="'Liberation Serif','DejaVu Serif',serif" textLength="7.7" lengthAdjust="spacingAndGlyphs" paint-order="stroke" stroke="#1c2646" stroke-opacity="0.5" stroke-width="1.32" stroke-linejoin="round" >0</text>
<line x1="887" y1="1124.3" x2="887" y2="1128.3" stroke="#9da3b4" stroke-width="1.4" />
<text x="887" y="1141" font-size="14" text-anchor="middle" fill="#fff" font-weight="bold" font-family="'Liberation Serif','DejaVu Serif',serif" textLength="15.4" lengthAdjust="spacingAndGlyphs" paint-order="stroke" stroke="#1c2646" stroke-opacity="0.5" stroke-width="1.32" stroke-linejoin="round" >10</text>
<line x1="1000.5" y1="1124.3" x2="1000.5" y2="1128.3" stroke="#9da3b4" stroke-width="1.4" />
<text x="1000.5" y="1141" font-size="14" text-anchor="middle" fill="#fff" font-weight="bold" font-family="'Liberation Serif','DejaVu Serif',serif" textLength="15.4" lengthAdjust="spacingAndGlyphs" paint-order="stroke" stroke="#1c2646" stroke-opacity="0.5" stroke-width="1.32" stroke-linejoin="round" >20</text>
<line x1="1113" y1="1124.3" x2="1113" y2="1128.3" stroke="#9da3b4" stroke-width="1.4" />
<text x="1113" y="1141" font-size="14" text-anchor="middle" fill="#fff" font-weight="bold" font-family="'Liberation Serif','DejaVu Serif',serif" textLength="15.4" lengthAdjust="spacingAndGlyphs" paint-order="stroke" stroke="#1c2646" stroke-opacity="0.5" stroke-width="1.32" stroke-linejoin="round" >30</text>
<line x1="1226" y1="1124.3" x2="1226" y2="1128.3" stroke="#9da3b4" stroke-width="1.4" />
<text x="1226" y="1141" font-size="14" text-anchor="middle" fill="#fff" font-weight="bold" font-family="'Liberation Serif','DejaVu Serif',serif" textLength="15.4" lengthAdjust="spacingAndGlyphs" paint-order="stroke" stroke="#1c2646" stroke-opacity="0.5" stroke-width="1.32" stroke-linejoin="round" >40</text>
<line x1="1339.3" y1="1124.3" x2="1339.3" y2="1128.3" stroke="#9da3b4" stroke-width="1.4" />
<line x1="1451.7" y1="1124.3" x2="1451.7" y2="1128.3" stroke="#9da3b4" stroke-width="1.4" />
<text x="752" y="970.5" font-size="12.4" text-anchor="start" fill="#fff" font-weight="bold" font-family="'Liberation Serif','DejaVu Serif',serif" textLength="34" lengthAdjust="spacingAndGlyphs" paint-order="stroke" stroke="#1c2646" stroke-opacity="0.5" stroke-width="1.27" stroke-linejoin="round" >Z(μm)</text>
<text x="1148" y="1149" font-size="10.3" text-anchor="start" fill="#fff" font-weight="bold" font-family="'Liberation Serif','DejaVu Serif',serif" textLength="59" lengthAdjust="spacingAndGlyphs" paint-order="stroke" stroke="#1c2646" stroke-opacity="0.5" stroke-width="1.21" stroke-linejoin="round" >Distance(μm)</text>
<text x="1303.8" y="1141" font-size="14" text-anchor="middle" fill="#fff" font-weight="bold" font-family="'Liberation Serif','DejaVu Serif',serif" textLength="15.4" lengthAdjust="spacingAndGlyphs" paint-order="stroke" stroke="#1c2646" stroke-opacity="0.5" stroke-width="1.32" stroke-linejoin="round" >50</text>
<text x="1449" y="1141" font-size="14" text-anchor="middle" fill="#fff" font-weight="bold" font-family="'Liberation Serif','DejaVu Serif',serif" textLength="15.4" lengthAdjust="spacingAndGlyphs" paint-order="stroke" stroke="#1c2646" stroke-opacity="0.5" stroke-width="1.32" stroke-linejoin="round" >60</text>
<polyline points="774.5,1010.7 790.8,1010.7 793,1026 795.2,1010.7 837.6,1010.7 840,1031 842.4,1010.7 1101,1010.7 1101,1010.6 1102.4,1011.6 1104,1015 1108,1044 1113,1090 1115.6,1111 1117.2,1096 1118.6,1081 1120.4,1100 1122.4,1116 1125,1094 1127,1076 1129,1064.4 1132,1064.4 1135,1070 1138,1075 1143,1074.4 1146,1071 1148,1064.4 1155,1064 1156,1040 1158,1020 1160.6,1010.6 1167,1010.6 1168.6,1026 1170.2,1010.6 1220.4,1010.6 1222,1023.6 1223.6,1010.6 1230.8,1010.6 1232,1017.6 1233.2,1010.6 1376.4,1010.6 1378,1017.4 1379.6,1010.6 1404.6,1010.6 1406,1015 1407.4,1010.6 1427.4,1010.6 1428.6,1023.8 1429.8,1010.6 1466.6,1010.6 1468,1017.5 1469.4,1010.6 1496.8,1010.6" fill="none" stroke="#bcc1cc" stroke-width="1.15" stroke-linejoin="round"/>
<rect x="1101" y="1010.6" width="59.6" height="107.4" fill="none" stroke="#cc2222" stroke-width="1.0"/>
<circle cx="1101" cy="1010.6" r="2" fill="#f01818"/>
<circle cx="1160.6" cy="1010.6" r="2" fill="#f01818"/>
<circle cx="1101" cy="1118" r="2" fill="#f01818"/>
<circle cx="1160.6" cy="1118" r="2" fill="#f01818"/>
<line x1="1121.6" y1="978.6" x2="1121.6" y2="1124.3" stroke="#c0283a" stroke-width="1" />
<line x1="1306" y1="978.6" x2="1306" y2="1124.3" stroke="#2c2cb0" stroke-width="1.1" />
<line x1="0" y1="577.4" x2="1500" y2="577.4" stroke="#343d59" stroke-width="3.6" opacity="0.55"/>
<line x1="0" y1="577.4" x2="1500" y2="577.4" stroke="#dfe2e9" stroke-width="1.5" />
<rect x="0" y="0" width="1500" height="2.6" fill="#343d59" opacity="0.8"/>
<rect x="0" y="1152.2" width="1500" height="2.8" fill="#343d59" opacity="0.8"/>
<rect x="0" y="0" width="2.6" height="1155" fill="#343d59" opacity="0.8"/>
<rect x="1497" y="0" width="3" height="1155" fill="#343d59" opacity="0.8"/>
<rect x="0" y="0" width="1500" height="1" fill="#f2f3f6"/>
<rect x="0" y="1153.8" width="1500" height="1.2" fill="#d9dce4"/>
<rect x="0" y="0" width="1.1" height="1155" fill="#ccd0d9"/>
<rect x="1498.8" y="0" width="1.2" height="1155" fill="#eef0f4"/>
</svg>
</body></html>
